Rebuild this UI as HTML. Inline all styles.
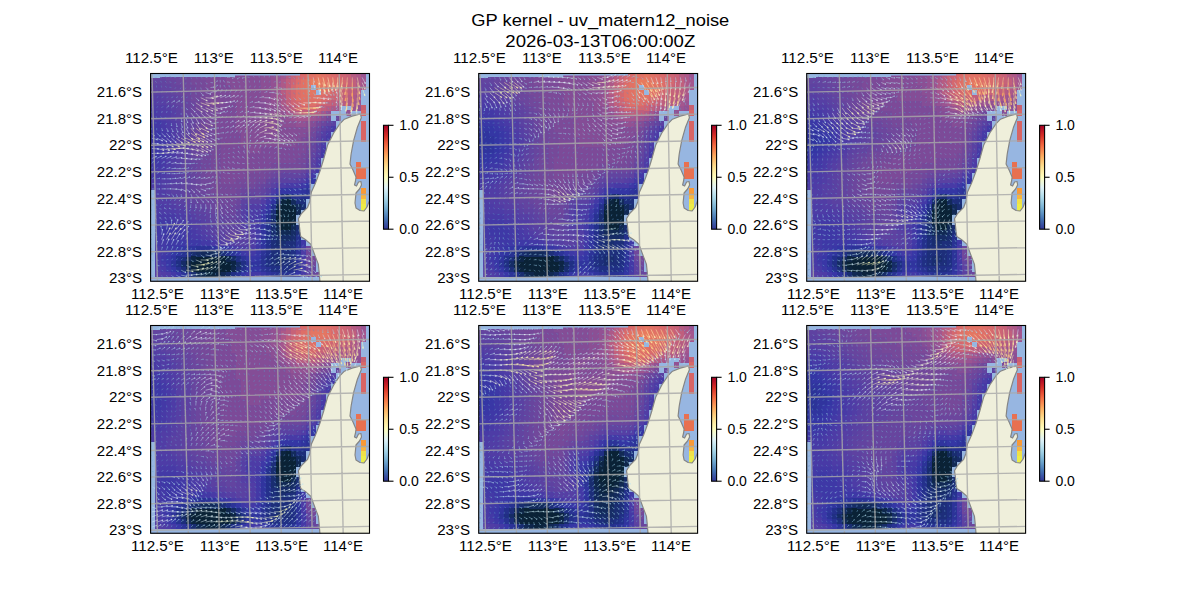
<!DOCTYPE html><html><head><meta charset="utf-8"><style>html,body{margin:0;padding:0;background:#fff;width:1200px;height:600px;overflow:hidden}svg{display:block}</style></head><body>
<svg width="1200" height="600" viewBox="0 0 1200 600">
<defs>
<clipPath id="clp"><rect x="150.60" y="73.50" width="218.90" height="207.75"/></clipPath>
<linearGradient id="cbg" x1="0" y1="0" x2="0" y2="1"><stop offset="0.00" stop-color="#a50026"/><stop offset="0.05" stop-color="#bd1726"/><stop offset="0.10" stop-color="#d62f27"/><stop offset="0.15" stop-color="#e54e35"/><stop offset="0.20" stop-color="#f46d43"/><stop offset="0.25" stop-color="#f88c51"/><stop offset="0.30" stop-color="#fdad60"/><stop offset="0.35" stop-color="#fdc778"/><stop offset="0.40" stop-color="#fee090"/><stop offset="0.45" stop-color="#fff0a8"/><stop offset="0.50" stop-color="#fffebe"/><stop offset="0.55" stop-color="#f0f9db"/><stop offset="0.60" stop-color="#e0f3f8"/><stop offset="0.65" stop-color="#c5e6f0"/><stop offset="0.70" stop-color="#aad8e9"/><stop offset="0.75" stop-color="#90c3dd"/><stop offset="0.80" stop-color="#74add1"/><stop offset="0.85" stop-color="#5c90c2"/><stop offset="0.90" stop-color="#4574b3"/><stop offset="0.95" stop-color="#3a54a4"/><stop offset="1.00" stop-color="#313695"/></linearGradient>
<g id="land"><path d="M150,73 H300 V75.5 H235 V77 H160 V78 H150 Z" fill="#97b6e1"/><path d="M150,190 H155 V282 H150 Z" fill="#97b6e1"/><path d="M150,277 H322 V282 H150 Z" fill="#97b6e1"/><polygon points="360.5,113.8 352.1,116.1 344.4,119.2 339.8,123.8 333.7,133.0 327.5,145.3 323.7,159.0 319.9,171.3 315.3,183.6 311.4,192.0 309.9,201.2 307.6,207.3 301.5,213.5 298.4,218.8 299.2,224.2 300.0,231.9 300.7,236.5 305.3,239.5 310.7,244.1 313.0,250.3 315.3,256.4 318.3,264.1 319.1,271.8 319.9,281.5 371.0,281.5 371.0,199.0 368.5,203.0 367.0,207.0 364.0,211.0 360.0,210.5 356.0,208.0 355.0,203.0 356.0,193.0 359.5,189.0 361.5,185.0 361.0,181.5 358.5,182.0 356.5,186.0 354.5,185.0 355.5,181.0 356.0,177.0 353.0,170.0 350.0,164.0 351.0,155.0 351.3,153.0 353.6,140.7 357.5,126.9 361.3,117.7 360.5,113.8" fill="#efefdb"/><polyline points="360.5,113.8 352.1,116.1 344.4,119.2 339.8,123.8 333.7,133.0 327.5,145.3 323.7,159.0 319.9,171.3 315.3,183.6 311.4,192.0 309.9,201.2 307.6,207.3 301.5,213.5 298.4,218.8 299.2,224.2 300.0,231.9 300.7,236.5 305.3,239.5 310.7,244.1 313.0,250.3 315.3,256.4 318.3,264.1 319.1,271.8 319.9,281.5" fill="none" stroke="#858585" stroke-width="1.2" stroke-linejoin="round"/><polyline points="370.5,199.0 368.5,203.0 367.0,207.0 364.0,211.0 360.0,210.5 356.0,208.0 355.0,203.0 356.0,193.0 359.5,189.0 361.5,185.0 361.0,181.5 358.5,182.0 356.5,186.0 354.5,185.0 355.5,181.0 356.0,177.0 353.0,170.0 350.0,164.0 351.0,155.0 351.3,153.0 353.6,140.7 357.5,126.9 361.3,117.7 360.5,113.8" fill="none" stroke="#858585" stroke-width="1.2" stroke-linejoin="round"/></g>
<path id="grd" d="M120.43 60L126.95 300M151.65 60L157.89 300M182.86 60L188.83 300M214.08 60L219.77 300M245.30 60L250.71 300M276.51 60L281.65 300M307.73 60L312.59 300M338.94 60L343.53 300M370.16 60L374.47 300M140 65.75L380 60.32M140 92.34L380 87.06M140 118.94L380 113.80M140 145.53L380 140.54M140 172.12L380 167.27M140 198.72L380 194.01M140 225.31L380 220.75M140 251.90L380 247.49M140 278.50L380 274.22M140 305.09L380 300.96" fill="none" stroke="#a8a8a8" stroke-opacity="0.82" stroke-width="1.4"/>
</defs>
<g font-family='"Liberation Sans", sans-serif' fill="#000">
<text x="600.30" y="25.80" font-size="16.67" text-anchor="middle" textLength="258.0" lengthAdjust="spacingAndGlyphs">GP kernel - uv_matern12_noise</text>
<text x="600.30" y="46.70" font-size="16.67" text-anchor="middle" textLength="190.0" lengthAdjust="spacingAndGlyphs">2026-03-13T06:00:00Z</text>
</g>
<g transform="translate(0.00,0.00)">
<g clip-path="url(#clp)"><rect x="150.60" y="73.50" width="218.90" height="207.75" fill="#97b6e1"/><g transform="translate(151.0,74.0) scale(5.00,5.20)" shape-rendering="crispEdges"><path fill="#67459e" d="M0 0h3v1.1h-3zM3 1h2v1.1h-2zM4 2h2v1.1h-2zM5 3h1v1.1h-1zM6 4h1v1.1h-1zM7 5h1v1.1h-1zM7 6h1v1.1h-1zM7 7h1v1.1h-1zM8 8h1v1.1h-1zM8 9h1v1.1h-1zM8 10h1v1.1h-1zM8 11h1v1.1h-1zM8 12h1v1.1h-1zM8 13h1v1.1h-1zM32 13h1v1.1h-1zM8 14h1v1.1h-1zM32 14h1v1.1h-1zM8 15h1v1.1h-1zM8 16h1v1.1h-1zM8 17h1v1.1h-1zM31 17h1v1.1h-1zM8 18h1v1.1h-1zM30 18h1v1.1h-1zM8 19h1v1.1h-1zM25 19h1v1.1h-1zM8 20h1v1.1h-1zM23 20h1v1.1h-1zM8 21h1v1.1h-1zM22 21h1v1.1h-1zM8 22h1v1.1h-1zM19 22h3v1.1h-3zM8 23h2v1.1h-2zM18 23h1v1.1h-1zM9 24h2v1.1h-2zM11 25h1v1.1h-1zM17 25h1v1.1h-1zM12 26h2v1.1h-2zM14 27h3v1.1h-3zM15 28h1v1.1h-1zM32 37h1v1.1h-1zM32 38h1v1.1h-1zM0 39h1v1.1h-1z"/><path fill="#6c469d" d="M3 0h3v1.1h-3zM5 1h2v1.1h-2zM6 2h1v1.1h-1zM6 3h2v1.1h-2zM7 4h1v1.1h-1zM8 5h1v1.1h-1zM8 6h1v1.1h-1zM8 7h2v1.1h-2zM9 8h1v1.1h-1zM37 8h1v1.1h-1zM9 9h1v1.1h-1zM34 9h1v1.1h-1zM9 10h1v1.1h-1zM33 10h1v1.1h-1zM9 11h1v1.1h-1zM9 12h1v1.1h-1zM32 12h1v1.1h-1zM9 13h1v1.1h-1zM9 14h1v1.1h-1zM9 15h1v1.1h-1zM9 16h1v1.1h-1zM31 16h1v1.1h-1zM9 17h1v1.1h-1zM9 18h1v1.1h-1zM26 18h4v1.1h-4zM9 19h1v1.1h-1zM24 19h1v1.1h-1zM9 20h1v1.1h-1zM9 21h1v1.1h-1zM21 21h1v1.1h-1zM9 22h2v1.1h-2zM18 22h1v1.1h-1zM10 23h1v1.1h-1zM11 24h2v1.1h-2zM17 24h1v1.1h-1zM12 25h3v1.1h-3zM16 25h1v1.1h-1zM14 26h3v1.1h-3zM31 33h1v1.1h-1zM31 35h1v1.1h-1zM33 38h1v1.1h-1zM32 39h1v1.1h-1z"/><path fill="#71489b" d="M6 0h2v1.1h-2zM7 1h1v1.1h-1zM7 2h2v1.1h-2zM8 3h2v1.1h-2zM8 4h2v1.1h-2zM9 5h1v1.1h-1zM9 6h2v1.1h-2zM10 7h1v1.1h-1zM10 8h1v1.1h-1zM10 9h1v1.1h-1zM10 10h2v1.1h-2zM10 11h2v1.1h-2zM32 11h1v1.1h-1zM10 12h2v1.1h-2zM10 13h2v1.1h-2zM10 14h2v1.1h-2zM31 14h1v1.1h-1zM10 15h2v1.1h-2zM31 15h1v1.1h-1zM10 16h2v1.1h-2zM10 17h2v1.1h-2zM30 17h1v1.1h-1zM10 18h1v1.1h-1zM24 18h2v1.1h-2zM10 19h1v1.1h-1zM23 19h1v1.1h-1zM10 20h2v1.1h-2zM21 20h2v1.1h-2zM10 21h2v1.1h-2zM18 21h3v1.1h-3zM11 22h1v1.1h-1zM17 22h1v1.1h-1zM11 23h3v1.1h-3zM16 23h2v1.1h-2zM13 24h4v1.1h-4zM15 25h1v1.1h-1zM31 34h1v1.1h-1zM32 36h1v1.1h-1zM33 39h1v1.1h-1z"/><path fill="#764999" d="M8 0h2v1.1h-2zM8 1h3v1.1h-3zM9 2h2v1.1h-2zM10 3h2v1.1h-2zM10 4h2v1.1h-2zM10 5h2v1.1h-2zM11 6h2v1.1h-2zM11 7h2v1.1h-2zM11 8h2v1.1h-2zM35 8h1v1.1h-1zM11 9h2v1.1h-2zM33 9h1v1.1h-1zM12 10h1v1.1h-1zM32 10h1v1.1h-1zM12 11h1v1.1h-1zM12 12h2v1.1h-2zM31 12h1v1.1h-1zM12 13h2v1.1h-2zM31 13h1v1.1h-1zM12 14h2v1.1h-2zM12 15h2v1.1h-2zM30 15h1v1.1h-1zM12 16h2v1.1h-2zM29 16h2v1.1h-2zM12 17h2v1.1h-2zM24 17h6v1.1h-6zM11 18h3v1.1h-3zM22 18h2v1.1h-2zM11 19h3v1.1h-3zM19 19h4v1.1h-4zM12 20h2v1.1h-2zM17 20h4v1.1h-4zM12 21h6v1.1h-6zM12 22h5v1.1h-5zM14 23h2v1.1h-2zM32 35h1v1.1h-1z"/><path fill="#7c4a98" d="M10 0h5v1.1h-5zM11 1h4v1.1h-4zM11 2h5v1.1h-5zM12 3h4v1.1h-4zM12 4h4v1.1h-4zM12 5h5v1.1h-5zM13 6h4v1.1h-4zM13 7h4v1.1h-4zM13 8h4v1.1h-4zM13 9h4v1.1h-4zM13 10h4v1.1h-4zM13 11h5v1.1h-5zM31 11h1v1.1h-1zM14 12h4v1.1h-4zM30 12h1v1.1h-1zM14 13h4v1.1h-4zM29 13h2v1.1h-2zM14 14h5v1.1h-5zM22 14h9v1.1h-9zM14 15h16v1.1h-16zM14 16h15v1.1h-15zM14 17h10v1.1h-10zM14 18h8v1.1h-8zM14 19h5v1.1h-5zM14 20h3v1.1h-3z"/><path fill="#844d96" d="M15 0h7v1.1h-7zM15 1h7v1.1h-7zM16 2h6v1.1h-6zM16 3h6v1.1h-6zM16 4h6v1.1h-6zM17 5h6v1.1h-6zM17 6h6v1.1h-6zM17 7h7v1.1h-7zM17 8h8v1.1h-8zM34 8h1v1.1h-1zM17 9h9v1.1h-9zM32 9h1v1.1h-1zM17 10h15v1.1h-15zM18 11h13v1.1h-13zM18 12h12v1.1h-12zM18 13h11v1.1h-11zM19 14h3v1.1h-3z"/><path fill="#8b4f94" d="M22 0h2v1.1h-2zM22 1h2v1.1h-2zM22 2h2v1.1h-2zM22 3h2v1.1h-2zM22 4h2v1.1h-2zM23 5h1v1.1h-1zM23 6h2v1.1h-2zM24 7h1v1.1h-1zM25 8h2v1.1h-2zM26 9h3v1.1h-3zM31 9h1v1.1h-1z"/><path fill="#935193" d="M24 0h1v1.1h-1zM24 1h1v1.1h-1zM24 2h1v1.1h-1zM24 3h1v1.1h-1zM24 4h1v1.1h-1zM24 5h1v1.1h-1zM25 6h1v1.1h-1zM41 6h1v1.1h-1zM25 7h2v1.1h-2zM35 7h1v1.1h-1zM39 7h1v1.1h-1zM27 8h1v1.1h-1zM33 8h1v1.1h-1zM29 9h2v1.1h-2z"/><path fill="#9b5491" d="M25 0h1v1.1h-1zM42 0h1v1.1h-1zM25 1h1v1.1h-1zM25 5h1v1.1h-1zM41 5h1v1.1h-1zM40 6h1v1.1h-1zM28 8h1v1.1h-1zM32 8h1v1.1h-1z"/><path fill="#a4568e" d="M26 0h1v1.1h-1zM42 1h1v1.1h-1zM25 2h1v1.1h-1zM42 2h1v1.1h-1zM25 3h1v1.1h-1zM25 4h1v1.1h-1zM41 4h1v1.1h-1zM40 5h1v1.1h-1zM26 6h1v1.1h-1zM37 6h1v1.1h-1zM27 7h1v1.1h-1zM34 7h1v1.1h-1zM29 8h3v1.1h-3z"/><path fill="#b65c82" d="M27 0h1v1.1h-1zM40 0h1v1.1h-1zM26 3h1v1.1h-1zM40 3h1v1.1h-1zM39 4h1v1.1h-1zM37 5h2v1.1h-2zM35 6h1v1.1h-1zM29 7h1v1.1h-1zM33 7h1v1.1h-1z"/><path fill="#c76278" d="M28 0h1v1.1h-1zM39 0h1v1.1h-1zM39 1h1v1.1h-1zM39 2h1v1.1h-1zM27 3h1v1.1h-1zM38 3h1v1.1h-1zM27 4h1v1.1h-1zM37 4h1v1.1h-1zM35 5h1v1.1h-1z"/><path fill="#d4686f" d="M29 0h1v1.1h-1zM37 0h1v1.1h-1zM38 1h1v1.1h-1zM28 2h1v1.1h-1zM28 3h1v1.1h-1zM36 3h1v1.1h-1zM28 4h1v1.1h-1zM35 4h1v1.1h-1zM29 5h1v1.1h-1zM34 5h1v1.1h-1zM30 6h3v1.1h-3z"/><path fill="#da6b6b" d="M30 0h1v1.1h-1zM36 0h1v1.1h-1zM29 1h1v1.1h-1zM37 1h1v1.1h-1zM37 2h1v1.1h-1zM34 4h1v1.1h-1zM33 5h1v1.1h-1z"/><path fill="#e17265" d="M31 0h2v1.1h-2zM34 0h1v1.1h-1zM30 1h1v1.1h-1zM35 1h1v1.1h-1zM30 2h1v1.1h-1zM35 2h1v1.1h-1zM30 3h1v1.1h-1zM34 3h1v1.1h-1zM30 4h4v1.1h-4z"/><path fill="#e47662" d="M33 0h1v1.1h-1zM31 1h1v1.1h-1zM34 1h1v1.1h-1zM31 2h1v1.1h-1zM34 2h1v1.1h-1zM31 3h2v1.1h-2z"/><path fill="#de6f68" d="M35 0h1v1.1h-1zM36 1h1v1.1h-1zM29 2h1v1.1h-1zM36 2h1v1.1h-1zM29 3h1v1.1h-1zM35 3h1v1.1h-1zM29 4h1v1.1h-1zM30 5h3v1.1h-3z"/><path fill="#ce6574" d="M38 0h1v1.1h-1zM28 1h1v1.1h-1zM38 2h1v1.1h-1zM37 3h1v1.1h-1zM36 4h1v1.1h-1zM28 5h1v1.1h-1zM29 6h1v1.1h-1zM33 6h1v1.1h-1z"/><path fill="#ad5988" d="M41 0h1v1.1h-1zM26 1h1v1.1h-1zM41 1h1v1.1h-1zM26 2h1v1.1h-1zM41 2h1v1.1h-1zM41 3h1v1.1h-1zM26 4h1v1.1h-1zM40 4h1v1.1h-1zM26 5h1v1.1h-1zM39 5h1v1.1h-1zM27 6h1v1.1h-1zM36 6h1v1.1h-1zM28 7h1v1.1h-1z"/><path fill="#6244a0" d="M0 1h3v1.1h-3zM2 2h2v1.1h-2zM4 3h1v1.1h-1zM5 4h1v1.1h-1zM5 5h2v1.1h-2zM6 6h1v1.1h-1zM6 7h1v1.1h-1zM7 8h1v1.1h-1zM7 9h1v1.1h-1zM35 9h1v1.1h-1zM7 10h1v1.1h-1zM33 11h1v1.1h-1zM32 15h1v1.1h-1zM7 16h1v1.1h-1zM7 17h1v1.1h-1zM7 18h1v1.1h-1zM7 19h1v1.1h-1zM26 19h4v1.1h-4zM7 20h1v1.1h-1zM24 20h1v1.1h-1zM7 21h1v1.1h-1zM23 21h1v1.1h-1zM7 22h1v1.1h-1zM22 22h1v1.1h-1zM7 23h1v1.1h-1zM20 23h2v1.1h-2zM8 24h1v1.1h-1zM9 25h2v1.1h-2zM11 26h1v1.1h-1zM17 26h1v1.1h-1zM12 27h2v1.1h-2zM17 27h1v1.1h-1zM13 28h2v1.1h-2zM16 28h1v1.1h-1zM14 29h3v1.1h-3zM15 30h2v1.1h-2zM31 36h1v1.1h-1zM1 39h1v1.1h-1z"/><path fill="#c05f7d" d="M27 1h1v1.1h-1zM40 1h1v1.1h-1zM27 2h1v1.1h-1zM40 2h1v1.1h-1zM39 3h1v1.1h-1zM38 4h1v1.1h-1zM27 5h1v1.1h-1zM36 5h1v1.1h-1zM28 6h1v1.1h-1zM34 6h1v1.1h-1zM30 7h3v1.1h-3z"/><path fill="#e87a5e" d="M32 1h2v1.1h-2zM33 2h1v1.1h-1z"/><path fill="#5e42a1" d="M0 2h2v1.1h-2zM2 3h2v1.1h-2zM3 4h2v1.1h-2zM4 5h1v1.1h-1zM5 6h1v1.1h-1zM6 8h1v1.1h-1zM6 9h1v1.1h-1zM34 10h1v1.1h-1zM7 11h1v1.1h-1zM7 12h1v1.1h-1zM33 12h1v1.1h-1zM7 13h1v1.1h-1zM7 14h1v1.1h-1zM7 15h1v1.1h-1zM32 16h1v1.1h-1zM6 17h1v1.1h-1zM6 18h1v1.1h-1zM31 18h1v1.1h-1zM6 19h1v1.1h-1zM30 19h1v1.1h-1zM6 20h1v1.1h-1zM25 20h1v1.1h-1zM6 21h1v1.1h-1zM6 22h1v1.1h-1zM6 23h1v1.1h-1zM19 23h1v1.1h-1zM7 24h1v1.1h-1zM18 24h1v1.1h-1zM8 25h1v1.1h-1zM9 26h2v1.1h-2zM11 27h1v1.1h-1zM12 28h1v1.1h-1zM17 28h1v1.1h-1zM13 29h1v1.1h-1zM17 29h1v1.1h-1zM13 30h2v1.1h-2zM17 30h1v1.1h-1zM15 31h3v1.1h-3zM31 37h1v1.1h-1zM2 39h1v1.1h-1zM31 39h1v1.1h-1z"/><path fill="#5a41a2" d="M0 3h2v1.1h-2zM2 4h1v1.1h-1zM3 5h1v1.1h-1zM4 6h1v1.1h-1zM5 7h1v1.1h-1zM5 8h1v1.1h-1zM36 9h1v1.1h-1zM6 10h1v1.1h-1zM6 11h1v1.1h-1zM6 12h1v1.1h-1zM6 13h1v1.1h-1zM33 13h1v1.1h-1zM6 14h1v1.1h-1zM33 14h1v1.1h-1zM6 15h1v1.1h-1zM6 16h1v1.1h-1zM32 17h1v1.1h-1zM5 18h1v1.1h-1zM5 19h1v1.1h-1zM5 20h1v1.1h-1zM26 20h3v1.1h-3zM4 21h2v1.1h-2zM24 21h1v1.1h-1zM4 22h2v1.1h-2zM23 22h1v1.1h-1zM5 23h1v1.1h-1zM22 23h1v1.1h-1zM5 24h2v1.1h-2zM19 24h3v1.1h-3zM7 25h1v1.1h-1zM18 25h1v1.1h-1zM8 26h1v1.1h-1zM9 27h2v1.1h-2zM11 28h1v1.1h-1zM11 29h2v1.1h-2zM12 30h1v1.1h-1zM18 30h1v1.1h-1zM14 31h1v1.1h-1zM18 31h2v1.1h-2zM17 32h2v1.1h-2zM0 38h1v1.1h-1zM31 38h1v1.1h-1zM3 39h1v1.1h-1z"/><path fill="#563fa4" d="M0 4h2v1.1h-2zM1 5h2v1.1h-2zM3 6h1v1.1h-1zM4 7h1v1.1h-1zM4 8h1v1.1h-1zM5 9h1v1.1h-1zM5 10h1v1.1h-1zM35 10h1v1.1h-1zM5 11h1v1.1h-1zM34 11h1v1.1h-1zM5 12h1v1.1h-1zM5 13h1v1.1h-1zM5 14h1v1.1h-1zM5 15h1v1.1h-1zM33 15h1v1.1h-1zM5 16h1v1.1h-1zM5 17h1v1.1h-1zM4 19h1v1.1h-1zM4 20h1v1.1h-1zM29 20h1v1.1h-1zM3 21h1v1.1h-1zM3 22h1v1.1h-1zM3 23h2v1.1h-2zM4 24h1v1.1h-1zM5 25h2v1.1h-2zM7 26h1v1.1h-1zM18 26h1v1.1h-1zM8 27h1v1.1h-1zM18 27h1v1.1h-1zM10 28h1v1.1h-1zM18 28h1v1.1h-1zM10 29h1v1.1h-1zM18 29h1v1.1h-1zM11 30h1v1.1h-1zM19 30h1v1.1h-1zM12 31h2v1.1h-2zM15 32h2v1.1h-2zM19 32h1v1.1h-1zM0 37h1v1.1h-1zM1 38h1v1.1h-1zM4 39h1v1.1h-1zM20 39h2v1.1h-2z"/><path fill="#513da5" d="M0 5h1v1.1h-1zM1 6h2v1.1h-2zM2 7h2v1.1h-2zM3 8h1v1.1h-1zM4 9h1v1.1h-1zM4 10h1v1.1h-1zM4 11h1v1.1h-1zM34 12h1v1.1h-1zM4 16h1v1.1h-1zM33 16h1v1.1h-1zM4 17h1v1.1h-1zM4 18h1v1.1h-1zM32 18h1v1.1h-1zM3 19h1v1.1h-1zM31 19h1v1.1h-1zM2 20h2v1.1h-2zM30 20h1v1.1h-1zM2 21h1v1.1h-1zM25 21h1v1.1h-1zM1 22h2v1.1h-2zM0 23h3v1.1h-3zM0 24h4v1.1h-4zM22 24h1v1.1h-1zM3 25h2v1.1h-2zM19 25h3v1.1h-3zM5 26h2v1.1h-2zM7 27h1v1.1h-1zM8 28h2v1.1h-2zM9 29h1v1.1h-1zM19 29h1v1.1h-1zM10 30h1v1.1h-1zM20 30h1v1.1h-1zM11 31h1v1.1h-1zM20 31h1v1.1h-1zM14 32h1v1.1h-1zM20 32h1v1.1h-1zM18 33h2v1.1h-2zM2 38h1v1.1h-1zM5 39h1v1.1h-1zM19 39h1v1.1h-1zM30 39h1v1.1h-1z"/><path fill="#4d3ca6" d="M0 6h1v1.1h-1zM1 7h1v1.1h-1zM2 8h1v1.1h-1zM3 9h1v1.1h-1zM3 10h1v1.1h-1zM35 11h1v1.1h-1zM4 12h1v1.1h-1zM4 13h1v1.1h-1zM34 13h1v1.1h-1zM4 14h1v1.1h-1zM4 15h1v1.1h-1zM3 16h1v1.1h-1zM3 17h1v1.1h-1zM33 17h1v1.1h-1zM3 18h1v1.1h-1zM2 19h1v1.1h-1zM0 20h2v1.1h-2zM0 21h2v1.1h-2zM26 21h1v1.1h-1zM0 22h1v1.1h-1zM24 22h1v1.1h-1zM23 23h1v1.1h-1zM0 25h3v1.1h-3zM0 26h5v1.1h-5zM19 26h3v1.1h-3zM5 27h2v1.1h-2zM20 27h1v1.1h-1zM7 28h1v1.1h-1zM19 28h2v1.1h-2zM8 29h1v1.1h-1zM20 29h1v1.1h-1zM9 30h1v1.1h-1zM10 31h1v1.1h-1zM13 32h1v1.1h-1zM0 33h1v1.1h-1zM17 33h1v1.1h-1zM20 33h1v1.1h-1zM0 34h1v1.1h-1zM30 34h1v1.1h-1zM0 35h1v1.1h-1zM0 36h1v1.1h-1zM1 37h1v1.1h-1zM3 38h1v1.1h-1zM18 39h1v1.1h-1zM22 39h1v1.1h-1z"/><path fill="#c86070" d="M42 6h1v1.1h-1z"/><path fill="#483aa6" d="M0 7h1v1.1h-1zM0 8h2v1.1h-2zM2 9h1v1.1h-1zM2 10h1v1.1h-1zM36 10h1v1.1h-1zM3 11h1v1.1h-1zM3 12h1v1.1h-1zM35 12h1v1.1h-1zM3 13h1v1.1h-1zM3 14h1v1.1h-1zM34 14h1v1.1h-1zM3 15h1v1.1h-1zM2 16h1v1.1h-1zM2 17h1v1.1h-1zM1 18h2v1.1h-2zM0 19h2v1.1h-2zM27 21h3v1.1h-3zM22 25h1v1.1h-1zM0 27h5v1.1h-5zM19 27h1v1.1h-1zM21 27h1v1.1h-1zM0 28h1v1.1h-1zM5 28h2v1.1h-2zM7 29h1v1.1h-1zM8 30h1v1.1h-1zM0 31h1v1.1h-1zM8 31h2v1.1h-2zM0 32h1v1.1h-1zM12 32h1v1.1h-1zM1 33h1v1.1h-1zM16 33h1v1.1h-1zM30 33h1v1.1h-1zM1 34h1v1.1h-1zM1 35h1v1.1h-1zM30 35h1v1.1h-1zM1 36h1v1.1h-1zM2 37h1v1.1h-1zM30 38h1v1.1h-1zM6 39h1v1.1h-1zM17 39h1v1.1h-1z"/><path fill="#d86868" d="M42 7h1v1.1h-1z"/><path fill="#4339a6" d="M0 9h2v1.1h-2zM1 10h1v1.1h-1zM2 11h1v1.1h-1zM2 12h1v1.1h-1zM2 13h1v1.1h-1zM2 14h1v1.1h-1zM2 15h1v1.1h-1zM34 15h1v1.1h-1zM1 16h1v1.1h-1zM0 17h2v1.1h-2zM0 18h1v1.1h-1zM33 18h1v1.1h-1zM32 19h1v1.1h-1zM31 20h1v1.1h-1zM23 24h1v1.1h-1zM1 28h4v1.1h-4zM21 28h1v1.1h-1zM0 29h2v1.1h-2zM5 29h2v1.1h-2zM21 29h1v1.1h-1zM0 30h2v1.1h-2zM6 30h2v1.1h-2zM21 30h1v1.1h-1zM1 31h2v1.1h-2zM6 31h2v1.1h-2zM21 31h1v1.1h-1zM1 32h2v1.1h-2zM10 32h2v1.1h-2zM21 32h1v1.1h-1zM2 33h1v1.1h-1zM2 34h1v1.1h-1zM19 34h2v1.1h-2zM2 36h1v1.1h-1zM30 36h1v1.1h-1zM30 37h1v1.1h-1zM4 38h1v1.1h-1zM20 38h2v1.1h-2zM7 39h1v1.1h-1zM23 39h1v1.1h-1zM29 39h1v1.1h-1z"/><path fill="#d86464" d="M42 9h1v1.1h-1zM42 10h1v1.1h-1zM42 11h1v1.1h-1zM42 12h1v1.1h-1z"/><path fill="#3e38a6" d="M0 10h1v1.1h-1zM0 11h2v1.1h-2zM0 12h2v1.1h-2zM0 13h2v1.1h-2zM0 14h2v1.1h-2zM0 15h2v1.1h-2zM0 16h1v1.1h-1zM30 21h1v1.1h-1zM25 22h1v1.1h-1zM24 23h1v1.1h-1zM22 26h1v1.1h-1zM2 29h3v1.1h-3zM2 30h4v1.1h-4zM3 31h3v1.1h-3zM3 32h7v1.1h-7zM30 32h1v1.1h-1zM3 33h2v1.1h-2zM15 33h1v1.1h-1zM21 33h1v1.1h-1zM3 34h1v1.1h-1zM18 34h1v1.1h-1zM2 35h1v1.1h-1zM3 37h1v1.1h-1zM19 38h1v1.1h-1zM16 39h1v1.1h-1z"/><path fill="#e87050" d="M41 17h1v1.1h-1zM41 18h2v1.1h-2zM41 19h2v1.1h-2z"/><path fill="#3436a4" d="M32 20h1v1.1h-1zM31 21h1v1.1h-1zM26 22h4v1.1h-4zM22 28h1v1.1h-1zM6 33h1v1.1h-1zM13 33h1v1.1h-1zM4 34h1v1.1h-1zM17 34h1v1.1h-1zM19 35h1v1.1h-1zM21 35h1v1.1h-1zM4 37h1v1.1h-1zM20 37h2v1.1h-2zM18 38h1v1.1h-1zM29 38h1v1.1h-1zM15 39h1v1.1h-1zM25 39h3v1.1h-3z"/><path fill="#30349e" d="M30 22h1v1.1h-1zM24 24h1v1.1h-1zM23 26h1v1.1h-1zM22 29h1v1.1h-1zM22 30h1v1.1h-1zM22 31h1v1.1h-1zM22 32h1v1.1h-1zM7 33h2v1.1h-2zM12 33h1v1.1h-1zM22 33h1v1.1h-1zM5 34h1v1.1h-1zM4 35h1v1.1h-1zM20 36h2v1.1h-2zM19 37h1v1.1h-1zM29 37h1v1.1h-1zM23 38h1v1.1h-1zM9 39h1v1.1h-1zM14 39h1v1.1h-1z"/><path fill="#2c3398" d="M31 22h1v1.1h-1zM25 23h1v1.1h-1zM9 33h3v1.1h-3zM29 33h1v1.1h-1zM16 34h1v1.1h-1zM22 34h1v1.1h-1zM29 34h1v1.1h-1zM18 35h1v1.1h-1zM29 35h1v1.1h-1zM4 36h1v1.1h-1zM19 36h1v1.1h-1zM29 36h1v1.1h-1zM22 37h1v1.1h-1zM6 38h1v1.1h-1zM24 38h1v1.1h-1zM28 38h1v1.1h-1zM10 39h4v1.1h-4z"/><path fill="#f89a38" d="M42 22h1v1.1h-1z"/><path fill="#1d2e7a" d="M26 23h1v1.1h-1zM29 24h2v1.1h-2zM24 26h1v1.1h-1zM29 30h1v1.1h-1zM24 31h1v1.1h-1zM24 32h1v1.1h-1zM27 32h2v1.1h-2zM24 33h4v1.1h-4zM14 34h1v1.1h-1zM24 34h4v1.1h-4zM6 35h1v1.1h-1zM24 35h1v1.1h-1zM27 35h1v1.1h-1zM24 36h1v1.1h-1zM26 36h2v1.1h-2zM6 37h1v1.1h-1z"/><path fill="#192d70" d="M27 23h1v1.1h-1zM25 24h1v1.1h-1zM30 25h1v1.1h-1zM24 27h1v1.1h-1zM24 28h1v1.1h-1zM24 29h1v1.1h-1zM29 29h1v1.1h-1zM24 30h1v1.1h-1zM25 31h1v1.1h-1zM28 31h1v1.1h-1zM25 32h2v1.1h-2zM8 34h1v1.1h-1zM25 35h2v1.1h-2zM25 36h1v1.1h-1zM17 37h1v1.1h-1zM8 38h1v1.1h-1z"/><path fill="#24308c" d="M28 23h1v1.1h-1zM30 23h1v1.1h-1zM24 25h1v1.1h-1zM23 28h1v1.1h-1zM23 29h1v1.1h-1zM23 30h1v1.1h-1zM23 31h1v1.1h-1zM29 31h1v1.1h-1zM23 32h1v1.1h-1zM23 33h1v1.1h-1zM15 34h1v1.1h-1zM23 34h1v1.1h-1zM5 35h1v1.1h-1zM18 37h1v1.1h-1zM28 37h1v1.1h-1zM7 38h1v1.1h-1z"/><path fill="#283292" d="M29 23h1v1.1h-1zM31 23h1v1.1h-1zM23 27h1v1.1h-1zM29 32h1v1.1h-1zM6 34h1v1.1h-1zM22 35h1v1.1h-1zM22 36h1v1.1h-1zM5 37h1v1.1h-1zM23 37h1v1.1h-1zM17 38h1v1.1h-1zM25 38h3v1.1h-3z"/><path fill="#f8b440" d="M42 23h1v1.1h-1z"/><path fill="#0c243e" d="M26 24h1v1.1h-1zM28 25h1v1.1h-1zM25 28h1v1.1h-1zM28 28h1v1.1h-1zM8 37h1v1.1h-1zM11 38h2v1.1h-2z"/><path fill="#0a2236" d="M27 24h1v1.1h-1zM26 25h2v1.1h-2zM25 26h4v1.1h-4zM25 27h4v1.1h-4zM26 28h2v1.1h-2zM26 29h2v1.1h-2zM9 35h6v1.1h-6zM8 36h8v1.1h-8zM9 37h7v1.1h-7z"/><path fill="#132a5c" d="M28 24h1v1.1h-1zM29 25h1v1.1h-1zM25 30h1v1.1h-1zM10 34h3v1.1h-3zM7 35h1v1.1h-1z"/><path fill="#f0e048" d="M42 24h1v1.1h-1z"/><path fill="#3937a6" d="M23 25h1v1.1h-1zM22 27h1v1.1h-1zM5 33h1v1.1h-1zM14 33h1v1.1h-1zM21 34h1v1.1h-1zM3 35h1v1.1h-1zM20 35h1v1.1h-1zM3 36h1v1.1h-1zM5 38h1v1.1h-1zM22 38h1v1.1h-1zM8 39h1v1.1h-1zM24 39h1v1.1h-1zM28 39h1v1.1h-1z"/><path fill="#0f274c" d="M25 25h1v1.1h-1zM15 35h1v1.1h-1zM16 37h1v1.1h-1zM10 38h1v1.1h-1z"/><path fill="#ecec48" d="M42 25h1v1.1h-1z"/><path fill="#112954" d="M29 26h1v1.1h-1zM25 29h1v1.1h-1zM28 29h1v1.1h-1zM26 30h2v1.1h-2zM7 37h1v1.1h-1zM9 38h1v1.1h-1zM14 38h1v1.1h-1z"/><path fill="#e8f048" d="M42 26h1v1.1h-1z"/><path fill="#162c66" d="M28 30h1v1.1h-1zM26 31h2v1.1h-2zM9 34h1v1.1h-1zM13 34h1v1.1h-1zM16 35h1v1.1h-1zM6 36h1v1.1h-1zM17 36h1v1.1h-1zM15 38h1v1.1h-1z"/><path fill="#202f84" d="M28 33h1v1.1h-1zM7 34h1v1.1h-1zM28 34h1v1.1h-1zM17 35h1v1.1h-1zM23 35h1v1.1h-1zM28 35h1v1.1h-1zM5 36h1v1.1h-1zM18 36h1v1.1h-1zM23 36h1v1.1h-1zM28 36h1v1.1h-1zM24 37h4v1.1h-4zM16 38h1v1.1h-1z"/><path fill="#0d2545" d="M8 35h1v1.1h-1zM7 36h1v1.1h-1zM16 36h1v1.1h-1zM13 38h1v1.1h-1z"/></g><use href="#land"/><path d="M166.5 77.4l-1.7 -1.1M171.4 77.4l-1.8 -0.9M176.2 77.4l-2 0M181.1 77.4l-1.5 1.3M186 77.4l-0.2 2M190.9 77.4l1 1.7M195.8 77.4l1.6 1.2M200.7 77.4l1.9 0.7M274.1 77.4l0.6 -1.9M278.9 77.4l1.1 -1.7M283.8 77.4l1.7 -1M161.6 82.5l-1.1 -1.7M166.5 82.5l-1.3 -1.5M171.4 82.5l-1.9 -0.7M176.2 82.5l-1.9 0.6M181.1 82.5l-1.1 1.6M186 82.5l-0.3 2M190.9 82.5l0.2 2M269.2 82.5l0.8 -1.8M298.5 82.5l-0.3 2M151.8 87.5l-0.8 -1.8M156.7 87.5l-0.3 -2M161.6 87.5l-0.5 -1.9M166.5 87.5l-1.2 -1.6M171.4 87.5l-2 -0.3M176.2 87.5l-1.6 1.1M181.1 87.5l-1.1 1.6M186 87.5l-1 1.8M190.9 87.5l-0.8 1.8M259.4 87.5l0.9 -1.8M288.7 87.5l0.6 1.9M293.6 87.5l0 2M298.5 87.5l0.1 2M151.8 92.6l0.5 -1.9M156.7 92.6l0.6 -1.9M161.6 92.6l0.7 -1.9M166.5 92.6l1.1 -1.7M171.4 92.6l1.7 -1.1M176.2 92.6l1.8 -0.9M181.1 92.6l1.5 -1.3M186 92.6l1.3 -1.5M190.9 92.6l-0.3 2M288.7 92.6l1.1 1.6M293.6 92.6l1 1.7M298.5 92.6l0.8 1.8M151.8 97.7l1.2 -1.6M156.7 97.7l1.6 -1.2M161.6 97.7l1.8 -0.9M166.5 97.7l1.8 -0.8M186 97.7l1.8 -0.8M190.9 97.7l1.6 1.2M151.8 102.8l1.7 -1M156.7 102.8l1.8 -0.9M186 102.8l2 0.3M327.8 102.8l1.9 0.5M151.8 107.8l1.1 -1.7M156.7 107.8l1.2 -1.6M181.1 107.8l2 0.2M327.8 107.8l1.4 1.4M332.7 107.8l-0.8 1.8M151.8 112.9l-0.9 -1.8M156.7 112.9l0.3 -2M171.4 112.9l-0.3 -2M176.2 112.9l-1.7 1M322.9 112.9l0.7 -1.9M327.8 112.9l-1.6 -1.2M151.8 118l-1.2 -1.6M156.7 118l-0.7 -1.9M161.6 118l-1.1 -1.7M166.5 118l-1.9 -0.7M171.4 118l-1.5 1.3M313.2 118l1.2 -1.6M318.1 118l0.5 -1.9M322.9 118l-0 -2M327.8 118l-0.4 -2M337.6 118l-1.9 0.5M151.8 123l-1.9 -0.7M156.7 123l-2 -0.1M161.6 123l-1.7 1.1M303.4 123l1.7 -1M308.3 123l1.5 -1.3M313.2 123l0.9 -1.8M318.1 123l0.5 -1.9M322.9 123l0.3 -2M327.8 123l-0.2 -2M332.7 123l-1.6 -1.2M303.4 128.1l2 0.4M308.3 128.1l1.8 -0.8M313.2 128.1l1.2 -1.6M318.1 128.1l0.7 -1.9M322.9 128.1l0 -2M327.8 128.1l-1.5 -1.3M332.7 128.1l-1.8 0.8M303.4 133.2l1.9 0.6M308.3 133.2l1.7 -1M313.2 133.2l1.1 -1.7M318.1 133.2l0 -2M322.9 133.2l-1.9 -0.6M327.8 133.2l-1.4 1.4M230 138.2l0.8 -1.8M234.9 138.2l-0.1 -2M239.8 138.2l-0.4 -2M298.5 138.2l1.4 1.5M303.4 138.2l1.8 0.8M308.3 138.2l1.4 -1.4M313.2 138.2l-1.6 -1.2M318.1 138.2l-1.5 1.4M322.9 138.2l-0.5 1.9M327.8 138.2l0.6 1.9M220.3 143.3l2 -0.2M225.2 143.3l-1.6 -1.3M230 143.3l-2 -0.1M234.9 143.3l-2 -0.3M239.8 143.3l-1.7 -1.1M298.5 143.3l0.3 2M303.4 143.3l-0.6 1.9M308.3 143.3l-0.8 1.8M313.2 143.3l-0.3 2M318.1 143.3l0.4 2M322.9 143.3l1.2 1.6M215.4 148.4l1.5 1.4M220.3 148.4l-0.9 1.8M225.2 148.4l-1.6 1.3M293.6 148.4l0.2 2M298.5 148.4l-0.2 2M303.4 148.4l-0.1 2M308.3 148.4l0.5 1.9M313.2 148.4l1.1 1.7M210.5 153.5l1.2 1.6M215.4 153.5l-0.4 1.9M288.7 153.5l0.8 1.8M293.6 153.5l0.6 1.9M298.5 153.5l0.9 1.8M303.4 153.5l1.3 1.5M308.3 153.5l1.7 1.1M205.6 158.5l1.3 1.5M210.5 158.5l-0.4 1.9M215.4 158.5l-1.3 1.5M278.9 158.5l1.9 0.5M283.8 158.5l1.6 1.1M288.7 158.5l1.6 1.2M293.6 158.5l1.8 1M298.5 158.5l1.9 0.6M303.4 158.5l2 0.4M200.7 163.6l2 0.2M205.6 163.6l-1.3 1.5M210.5 163.6l-1.9 0.5M215.4 163.6l-1.9 -0.5M269.2 163.6l1.5 -1.3M274.1 163.6l1.9 -0.5M278.9 163.6l2 -0M283.8 163.6l2 -0.1M288.7 163.6l2 -0.3M293.6 163.6l1.9 -0.5M298.5 163.6l2 -0.3M195.8 168.7l1.2 -1.6M200.7 168.7l-0.1 -2M205.6 168.7l-0.7 -1.9M210.5 168.7l-0.5 -1.9M264.3 168.7l1 -1.7M269.2 168.7l1.5 -1.3M274.1 168.7l1.7 -1.1M278.9 168.7l1.6 -1.2M283.8 168.7l1.5 -1.3M288.7 168.7l1.6 -1.2M293.6 168.7l1.8 -0.8M254.5 173.7l-0.1 -2M259.4 173.7l0.7 -1.9M264.3 173.7l1 -1.7M269.2 173.7l0.9 -1.8M274.1 173.7l0.8 -1.8M278.9 173.7l0.8 -1.8M283.8 173.7l1.1 -1.6M288.7 173.7l1.7 -1M244.7 178.8l-0.5 -1.9M249.6 178.8l0.2 -2M254.5 178.8l0.6 -1.9M259.4 178.8l0.5 -1.9M264.3 178.8l0.3 -2M269.2 178.8l0.1 -2M274.1 178.8l0.3 -2M278.9 178.8l0.9 -1.8M234.9 183.9l-0.1 -2M239.8 183.9l0.5 -1.9M244.7 183.9l0.9 -1.8M249.6 183.9l0.8 -1.8M254.5 183.9l0.4 -2M259.4 183.9l-0.1 -2M264.3 183.9l-0.3 -2M269.2 183.9l0.1 -2M274.1 183.9l0.9 -1.8M225.2 188.9l1.4 -1.4M230 188.9l1.7 -1.1M234.9 188.9l1.8 -0.8M239.8 188.9l1.8 -0.9M244.7 188.9l1.4 -1.4M249.6 188.9l0.6 -1.9M254.5 188.9l-0.1 -2M259.4 188.9l-0.3 -2M264.3 188.9l0.3 -2M269.2 188.9l1.2 -1.6M239.8 194l2 -0.2M244.7 194l1.6 -1.2M249.6 194l0.6 -1.9M254.5 194l0.3 -2M259.4 194l0.9 -1.8M264.3 194l1.7 -1.1M239.8 199.1l2 0.4M244.7 199.1l2 -0.4M249.6 199.1l1.7 -1M254.5 199.1l1.8 -0.8M239.8 204.2l1.8 0.8M244.7 204.2l2 0.4M186 214.3l-1.9 -0.5M190.9 214.3l-1.9 -0.6M195.8 214.3l-2 -0.3M200.7 214.3l-1.7 1M195.8 219.4l-0 -2M200.7 219.4l-1.7 1M205.6 219.4l-0.2 2M195.8 224.4l1 -1.8M200.7 224.4l0.6 1.9M195.8 229.5l1.9 -0.6M200.7 229.5l1.4 1.4M298.5 229.5l0.3 2M151.8 234.6l-2 -0M190.9 234.6l1.5 -1.3M195.8 234.6l2 0.3M293.6 234.6l1 1.7M298.5 234.6l-0.4 2M151.8 239.6l-1.6 -1.2M190.9 239.6l1.6 -1.2M195.8 239.6l2 0.1M200.7 239.6l1.7 1.1M293.6 239.6l0.5 1.9M298.5 239.6l-1 1.8M190.9 244.7l1.2 -1.6M195.8 244.7l1.6 -1.2M200.7 244.7l1.1 1.7M293.6 244.7l0.5 1.9M298.5 244.7l-0.4 2M303.4 244.7l-0.7 1.9M151.8 249.8l-0.8 -1.9M190.9 249.8l0.5 -1.9M195.8 249.8l-0.5 -1.9M200.7 249.8l0.4 2M254.5 249.8l0.9 -1.8M259.4 249.8l0.7 -1.9M264.3 249.8l0.9 -1.8M151.8 254.9l0.2 -2M156.7 254.9l1.3 -1.5M161.6 254.9l1.5 -1.4M186 254.9l0.9 -1.8M190.9 254.9l1.7 -1.1M195.8 254.9l1.1 1.7M244.7 254.9l0.7 -1.9M249.6 254.9l1.2 -1.6M254.5 254.9l2 -0.2M259.4 254.9l1.8 -0.8M264.3 254.9l1.5 -1.4M186 259.9l2 0.1M234.9 259.9l1.2 -1.6M239.8 259.9l2 0.1M244.7 259.9l1.7 1.1M259.4 259.9l2 -0.3M176.2 265l2 -0.4M230 265l1.9 -0.5M161.6 270.1l1.7 1M166.5 270.1l1.9 0.7M171.4 270.1l1.7 1M225.2 270.1l1.8 0.8M156.7 275.1l0.9 1.8M161.6 275.1l0.7 1.9M215.4 275.1l0.1 -2M220.3 275.1l0.3 2M249.6 275.1l1.5 1.3M254.5 275.1l1.6 1.2M259.4 275.1l1.6 1.2M264.3 275.1l1.6 1.2M269.2 275.1l1.6 1.2M274.1 275.1l1.4 -1.4" stroke="#5c90c2" stroke-width="0.8" stroke-opacity="0.6" fill="none"/><path d="M151.8 77.4l-1.4 1.6M156.7 77.4l-2 0.4M161.6 77.4l-1.9 -0.6M205.6 77.4l2 0.3M210.5 77.4l2 -0.3M215.4 77.4l1.7 -1.3M249.6 77.4l-2.3 -0.4M254.5 77.4l-1.5 -1.5M259.4 77.4l-0.6 -1.9M264.3 77.4l0 -2M269.2 77.4l0.3 -2M288.7 77.4l2 0.3M293.6 77.4l1.3 1.5M298.5 77.4l0.4 2M303.4 77.4l0.1 2.4M151.8 82.5l-2 -0.4M156.7 82.5l-1.5 -1.4M195.8 82.5l0.5 1.9M200.7 82.5l0.9 1.8M205.6 82.5l1.6 1.4M239.8 82.5l-2.1 -0.8M244.7 82.5l-1.4 -1.5M249.6 82.5l-0.6 -1.9M254.5 82.5l-0 -2M259.4 82.5l0.3 -2M264.3 82.5l0.5 -1.9M274.1 82.5l1.4 -1.5M278.9 82.5l1.9 -0.7M283.8 82.5l1.9 0.5M288.7 82.5l1.2 1.6M293.6 82.5l0.2 2M303.4 82.5l0.1 2M195.8 87.5l-0.4 2M200.7 87.5l0.6 2.1M225.2 87.5l-1.1 -2.1M230 87.5l-1.1 -1.9M234.9 87.5l-0.7 -2M239.8 87.5l-0 -2.1M244.7 87.5l0.5 -2M249.6 87.5l0.7 -1.9M254.5 87.5l0.8 -1.8M264.3 87.5l1.3 -1.5M269.2 87.5l1.7 -1.1M283.8 87.5l1.5 1.6M303.4 87.5l0.4 2M195.8 92.6l0.4 2M244.7 92.6l1.5 -1.8M249.6 92.6l1.3 -1.6M254.5 92.6l1.4 -1.4M259.4 92.6l1.7 -1.1M283.8 92.6l1.3 1.5M303.4 92.6l0.7 1.9M171.4 97.7l1.8 -0.9M176.2 97.7l1.8 -1.1M181.1 97.7l1.7 -1.1M244.7 97.7l1.7 -1.4M249.6 97.7l1.7 -1.1M303.4 97.7l1.8 0.9M332.7 97.7l0.6 1.9M161.6 102.8l1.7 -1M244.7 102.8l2 -1.1M332.7 102.8l-0.3 2M161.6 107.8l1.4 -1.4M176.2 107.8l1.4 -1.4M239.8 107.8l1.9 -1.2M322.9 107.8l1.8 -0.9M161.6 112.9l0.7 -1.9M166.5 112.9l0.6 -1.9M181.1 112.9l0.1 2M230 112.9l1.6 -1.5M234.9 112.9l1.7 -1.4M318.1 112.9l1.4 -1.4M225.2 118l1.7 -1.5M283.8 118l1.9 1M166.5 123l-0.7 1.9M283.8 123l2 0.1M151.8 128.1l-0.8 1.8M156.7 128.1l0 2.1M288.7 128.1l2 0.6M293.6 128.1l1.9 0.6M298.5 128.1l1.9 0.7M298.5 133.2l1.7 1.2M225.2 138.2l1.6 -1.2M244.7 138.2l-0.1 -2M244.7 143.3l-0.7 -2.1M293.6 143.3l0.9 1.8M230 148.4l-1.9 0.7M234.9 148.4l-2 -0.3M239.8 148.4l-1.6 -1.5M288.7 148.4l1 1.7M318.1 148.4l1.5 1.3M322.9 148.4l1.7 1M220.3 153.5l-1.2 1.6M225.2 153.5l-1.8 0.9M230 153.5l-2 -0.1M234.9 153.5l-2 -1.3M264.3 153.5l-0.4 -2.2M269.2 153.5l0.6 -1.9M274.1 153.5l1.7 -1.1M278.9 153.5l2 0.3M283.8 153.5l1.5 1.4M313.2 153.5l1.8 0.9M318.1 153.5l1.8 0.9M322.9 153.5l1.8 1M200.7 158.5l2.2 0.6M220.3 158.5l-1.9 0.7M225.2 158.5l-2 -0.4M230 158.5l-1.9 -1.4M259.4 158.5l-1.6 -1.4M264.3 158.5l-0.6 -1.9M269.2 158.5l0.9 -1.8M274.1 158.5l1.9 -0.7M308.3 158.5l1.9 0.5M313.2 158.5l1.8 0.8M318.1 158.5l1.7 1.1M195.8 163.6l2 -0.3M220.3 163.6l-1.5 -1.3M225.2 163.6l-1.4 -1.7M249.6 163.6l-2.3 -0.2M254.5 163.6l-1.9 -0.8M259.4 163.6l-1.1 -1.7M264.3 163.6l0.3 -2M303.4 163.6l2 0.2M308.3 163.6l1.8 0.8M313.2 163.6l1.6 1.2M318.1 163.6l1.8 1.3M151.8 168.7l0.6 -1.9M156.7 168.7l1.3 -1.5M190.9 168.7l1.7 -1M215.4 168.7l-0.4 -2M220.3 168.7l-0.6 -2.1M244.7 168.7l-2.2 0.1M249.6 168.7l-1.9 -0.6M254.5 168.7l-1.3 -1.5M259.4 168.7l-0.1 -2M298.5 168.7l2 0M303.4 168.7l1.8 0.8M308.3 168.7l1.5 1.3M313.2 168.7l1.8 1.5M151.8 173.7l1 -1.7M190.9 173.7l1.4 -1.5M195.8 173.7l1.1 -1.7M200.7 173.7l1.2 -1.8M234.9 173.7l-2.3 -0M239.8 173.7l-2.1 -0.2M244.7 173.7l-1.8 -0.9M249.6 173.7l-1.1 -1.7M293.6 173.7l2 -0M298.5 173.7l1.8 0.9M303.4 173.7l1.5 1.4M151.8 178.8l2 -1.1M220.3 178.8l-0.8 -2.1M225.2 178.8l-1.7 -1.2M230 178.8l-1.9 -0.7M234.9 178.8l-1.8 -0.9M239.8 178.8l-1.4 -1.5M283.8 178.8l1.7 -1.1M288.7 178.8l2 0.1M293.6 178.8l1.7 1M298.5 178.8l1.6 1.5M220.3 183.9l-0.5 -1.9M225.2 183.9l-1 -1.8M230 183.9l-0.8 -1.8M278.9 183.9l1.8 -0.9M283.8 183.9l2 0.3M288.7 183.9l1.7 1.1M293.6 183.9l1.7 1.6M215.4 188.9l1.4 -1.5M220.3 188.9l1.2 -1.6M274.1 188.9l1.9 -0.6M278.9 188.9l1.9 0.5M283.8 188.9l1.8 1.2M151.8 194l2 0.1M230 194l1.9 0.8M234.9 194l1.9 0.5M269.2 194l2 -0.1M274.1 194l1.9 0.8M278.9 194l1.9 1.3M151.8 199.1l2 0.3M156.7 199.1l1.8 0.9M161.6 199.1l1.2 1.8M166.5 199.1l-0 2.1M171.4 199.1l-1.2 1.7M176.2 199.1l-1.7 1.4M234.9 199.1l1.8 0.9M259.4 199.1l2 -0.2M264.3 199.1l2 0.5M269.2 199.1l2.1 1.1M151.8 204.2l1.5 1.4M156.7 204.2l0.2 2M161.6 204.2l-1.3 1.5M166.5 204.2l-2.1 0.5M171.4 204.2l-2.4 -0.1M234.9 204.2l1.7 1.1M249.6 204.2l2 0.4M254.5 204.2l2.2 0.8M303.4 204.2l-0.8 2.2M151.8 209.2l-0.5 1.9M156.7 209.2l-1.8 0.8M161.6 209.2l-2.3 -0.6M176.2 209.2l-2.1 -0.1M181.1 209.2l-1.8 0.8M186 209.2l-1.6 1.5M190.9 209.2l-1.4 1.9M195.8 209.2l-1.4 1.9M200.7 209.2l-1.2 2M298.5 209.2l-1.3 1.8M151.8 214.3l-2 0.4M171.4 214.3l-1.8 -1.1M176.2 214.3l-1.9 -0.7M181.1 214.3l-1.9 -0.5M205.6 214.3l-0.8 1.8M293.6 214.3l-1.3 1.7M298.5 214.3l-1.3 1.5M186 219.4l0.1 -2.1M190.9 219.4l0.3 -2M288.7 219.4l-0.8 1.8M293.6 219.4l-0.9 1.8M151.8 224.4l-2 -0.6M156.7 224.4l-1.7 -1.1M161.6 224.4l-1.3 -1.9M190.9 224.4l1.1 -1.7M205.6 224.4l0.7 1.9M283.8 224.4l0.1 2.1M288.7 224.4l0.1 2M293.6 224.4l0.2 2M151.8 229.5l-2 0.1M156.7 229.5l-1.5 -1.3M190.9 229.5l1.2 -1.6M283.8 229.5l1.4 1.7M288.7 229.5l1.3 1.5M293.6 229.5l1 1.7M200.7 234.6l1.6 1.2M205.6 234.6l1.6 1.6M283.8 234.6l2.1 0.7M288.7 234.6l1.7 1.1M205.6 239.6l1.3 1.5M283.8 239.6l2 0.3M288.7 239.6l1.6 1.2M151.8 244.7l-1 -1.8M186 244.7l1 -1.7M205.6 244.7l0.7 1.9M269.2 244.7l1.5 -1.3M274.1 244.7l1.7 -1.1M278.9 244.7l2.2 -0.6M283.8 244.7l2 0.4M288.7 244.7l1.5 1.3M156.7 249.8l0.1 -2.1M186 249.8l0.8 -1.8M249.6 249.8l1.3 -1.8M269.2 249.8l1.2 -1.6M288.7 249.8l2 1M293.6 249.8l1.5 1.3M298.5 249.8l1.3 1.5M303.4 249.8l1.3 1.6M308.3 249.8l1.2 1.9M166.5 254.9l1.4 -1.4M171.4 254.9l1.4 -1.6M176.2 254.9l1.3 -1.9M181.1 254.9l1 -1.7M239.8 254.9l1 -1.8M151.8 259.9l1.8 0.9M156.7 259.9l1.9 0.5M161.6 259.9l2 -0M166.5 259.9l1.9 -0.6M171.4 259.9l1.7 -1.1M176.2 259.9l1.5 -1.3M181.1 259.9l1.6 -1.3M249.6 259.9l1.7 1M254.5 259.9l1.9 0.7M313.2 259.9l0.9 1.9M161.6 265l1.9 0.4M166.5 265l2 -0.2M171.4 265l1.9 -0.7M181.1 265l1.9 0.7M234.9 265l1.7 1.1M254.5 265l2.2 0.4M259.4 265l2.1 -0.4M313.2 265l1.3 2M156.7 270.1l1.7 1.1M220.3 270.1l1.3 -1.5M249.6 270.1l2.1 0.9M254.5 270.1l2 0.3M259.4 270.1l2 -0.3M264.3 270.1l1.9 -0.7M269.2 270.1l1.8 -1M274.1 270.1l1.9 -1.4M151.8 275.1l1.4 1.4M166.5 275.1l0.9 1.8M225.2 275.1l1.2 1.6M239.8 275.1l1.7 1.3M244.7 275.1l1.5 1.3M278.9 275.1l0.6 -1.9" stroke="#74add1" stroke-width="0.8" stroke-opacity="0.6" fill="none"/><path d="M150.7 78.7l-0.3 0.4M216.7 76.4l0.4 -0.3M206.8 83.6l0.4 0.3M224.3 85.9l-0.2 -0.5M229.1 86.1l-0.3 -0.4M285 88.8l0.3 0.4M245.9 91.2l0.3 -0.4M246 96.6l0.4 -0.3M246.3 101.9l0.4 -0.2M241.3 106.9l0.4 -0.3M231.3 111.7l0.4 -0.3M236.3 111.8l0.4 -0.3M226.4 116.8l0.4 -0.3M238.6 147.2l-0.4 -0.3M233.4 152.4l-0.4 -0.3M228.6 157.5l-0.4 -0.3M224.1 162.3l-0.3 -0.4M319.4 164.6l0.4 0.3M314.6 169.8l0.4 0.3M153.3 178l0.4 -0.2M299.8 180l0.4 0.3M295 185.1l0.4 0.4M285.2 189.9l0.4 0.3M280.5 195l0.4 0.3M162.5 200.5l0.3 0.4M174.9 200.1l-0.4 0.3M270.8 200l0.5 0.2M302.7 205.9l-0.2 0.5M184.8 210.4l-0.3 0.3M189.8 210.7l-0.3 0.4M194.8 210.7l-0.3 0.4M199.8 210.8l-0.3 0.4M297.5 210.7l-0.3 0.4M160.6 223l-0.3 -0.4M284.9 230.8l0.3 0.4M206.8 235.8l0.4 0.3M250.6 248.4l0.3 -0.4M290.3 250.6l0.4 0.2M309.2 251.3l0.3 0.4M172.5 253.6l0.3 -0.4M177.3 253.4l0.3 -0.4M314.2 266.5l0.3 0.4M251.3 270.8l0.5 0.2M275.6 269l0.4 -0.3M241.2 276.1l0.4 0.3" stroke="#74add1" stroke-width="1.4" stroke-opacity="0.65" fill="none"/><path d="M220.3 77.4l0.5 -2.4M225.2 77.4l-1.6 -2.1M230 77.4l-2.7 -0.4M234.9 77.4l-2.6 1M239.8 77.4l-2.4 1.4M244.7 77.4l-2.5 0.8M308.3 77.4l0.4 3.3M210.5 82.5l2.5 0.3M215.4 82.5l2.1 -1.8M220.3 82.5l-0.1 -2.7M225.2 82.5l-1.9 -1.8M230 82.5l-2.5 -0.6M234.9 82.5l-2.4 -0.3M205.6 87.5l2.6 2M215.4 87.5l2.1 -2.6M220.3 87.5l-0.1 -2.8M274.1 87.5l2.8 -0.4M278.9 87.5l2.9 1M220.3 92.6l1.9 -3.1M225.2 92.6l1.5 -2.9M230 92.6l1.8 -2.8M234.9 92.6l2 -2.5M239.8 92.6l1.9 -2.2M264.3 92.6l2.9 -1.1M278.9 92.6l2.8 2.2M308.3 92.6l1.2 2.3M313.2 92.6l2.1 2.6M332.7 92.6l1.4 2.8M239.8 97.7l2.5 -1.9M254.5 97.7l2.5 -1.1M283.8 97.7l2.4 2M288.7 97.7l2.2 2M293.6 97.7l2.3 2.1M298.5 97.7l2 1.8M308.3 97.7l2.7 0.3M166.5 102.8l2.4 -1.4M181.1 102.8l2.3 -1.3M239.8 102.8l2 -1.4M249.6 102.8l3 -1.2M166.5 107.8l2.3 -2M171.4 107.8l2.3 -2.1M186 107.8l1.5 2.2M230 107.8l3 -2M234.9 107.8l1.9 -1.5M244.7 107.8l3 -1.3M337.6 107.8l-0.9 2.2M225.2 112.9l2.5 -1.8M239.8 112.9l2.7 -1.6M347.4 112.9l-1.2 2.9M176.2 118l-0.4 2.4M220.3 118l2.4 -1.5M230 118l1.9 -1.6M234.9 118l2.9 -2M288.7 118l2.9 -0.9M308.3 118l2.4 -1.6M171.4 123l0.1 2.9M215.4 123l3 -0.7M220.3 123l2.1 -1.1M225.2 123l2.4 -1.6M288.7 123l2.5 -1.1M293.6 123l2.8 -1.5M298.5 123l2.1 -1.2M161.6 128.1l1 2.9M215.4 128.1l3.2 -0.1M220.3 128.1l3 -0.9M283.8 128.1l2.2 0.9M220.3 133.2l3.4 -0.5M225.2 133.2l3.2 -1.4M230 133.2l2.8 -2.1M234.9 133.2l2.3 -2.6M239.8 133.2l1.7 -2.6M244.7 133.2l1.5 -2.7M220.3 138.2l2.4 -0.3M249.6 138.2l1.1 -3.3M293.6 138.2l2.4 2.2M215.4 143.3l2.5 0.7M249.6 143.3l1 -3.4M288.7 143.3l2.5 2.2M210.5 148.4l2.9 1.5M244.7 148.4l-0.7 -2.8M249.6 148.4l0.5 -3.2M254.5 148.4l1.3 -3.1M259.4 148.4l1.5 -3M264.3 148.4l1.6 -2.7M269.2 148.4l1.9 -2.3M274.1 148.4l2.6 -1.5M278.9 148.4l2.9 -0.1M283.8 148.4l2.1 1.2M205.6 153.5l2.8 1.4M239.8 153.5l-1.5 -2.3M244.7 153.5l-1.1 -2.7M249.6 153.5l-1 -2.7M254.5 153.5l-1.1 -2.5M259.4 153.5l-1 -2.3M234.9 158.5l-1.8 -2M239.8 158.5l-2 -2.1M244.7 158.5l-2.2 -1.8M249.6 158.5l-2.4 -1.3M254.5 158.5l-2.1 -1.1M151.8 163.6l1.6 -2.1M156.7 163.6l2 -1.9M161.6 163.6l2.8 -1.9M190.9 163.6l3.6 -0.2M230 163.6l-1.7 -2M234.9 163.6l-2.3 -1.6M239.8 163.6l-2.6 -0.9M244.7 163.6l-2.6 -0.2M161.6 168.7l2.7 -1.5M186 168.7l3.1 -0.9M225.2 168.7l-1.3 -2.2M230 168.7l-2.2 -1.5M234.9 168.7l-2.6 -0.5M239.8 168.7l-2.5 0.2M318.1 168.7l2.5 0.8M156.7 173.7l2 -1.2M161.6 173.7l3.2 -0.7M181.1 173.7l3.4 -1.2M186 173.7l2.3 -1.5M205.6 173.7l1.5 -2.1M210.5 173.7l1.4 -2.3M215.4 173.7l0.8 -2.5M220.3 173.7l-0.5 -2.5M225.2 173.7l-1.8 -1.8M230 173.7l-2.4 -0.7M308.3 173.7l1.9 1.6M313.2 173.7l2.6 0.8M156.7 178.8l3.1 -0.5M210.5 178.8l2.8 -2.2M215.4 178.8l1 -2.6M303.4 178.8l2 1.6M308.3 178.8l2.7 0.8M313.2 178.8l2.9 -0.7M151.8 183.9l2.8 -0.3M156.7 183.9l3.5 0.1M215.4 183.9l0.8 -2.3M298.5 183.9l2.2 1.5M303.4 183.9l2.8 0.7M308.3 183.9l2.9 -0.4M151.8 188.9l2.5 0.1M156.7 188.9l3.2 0.1M210.5 188.9l2.9 -1.6M288.7 188.9l1.9 1.6M293.6 188.9l2.4 1.3M298.5 188.9l2.8 0.7M303.4 188.9l3 0M308.3 188.9l3 -0.2M156.7 194l2.4 0.1M161.6 194l2.9 0.5M166.5 194l3.1 1.4M171.4 194l2.4 2.4M176.2 194l1.1 2.8M181.1 194l0.3 2.8M186 194l0.2 3.1M210.5 194l3.3 0.2M215.4 194l2.9 0.3M220.3 194l2.6 0.7M225.2 194l2.4 0.9M283.8 194l2.2 1.4M288.7 194l2.6 1.1M293.6 194l2.9 0.6M298.5 194l3 0.5M303.4 194l2.8 0.9M308.3 194l2.3 1.6M181.1 199.1l-1.8 1.7M186 199.1l-1.2 2.8M230 199.1l2.3 2M274.1 199.1l2.2 1.4M278.9 199.1l2.5 1.2M283.8 199.1l2.8 0.8M288.7 199.1l2.9 0.6M293.6 199.1l2.9 0.9M298.5 199.1l2.3 1.8M303.4 199.1l1.2 2.4M176.2 204.2l-2.4 0.2M181.1 204.2l-2.2 1.3M186 204.2l-1.4 2.6M190.9 204.2l-0.4 3.5M230 204.2l2.5 2.3M259.4 204.2l2.4 1.3M264.3 204.2l2.4 1.5M269.2 204.2l2.6 1.3M274.1 204.2l2.8 0.8M278.9 204.2l3 0.4M283.8 204.2l3 0.6M288.7 204.2l2.7 1.4M293.6 204.2l1.7 2.4M298.5 204.2l0.2 2.7M166.5 209.2l-2.3 -1.3M171.4 209.2l-2.3 -1M205.6 209.2l-0.9 2.5M210.5 209.2l-0.4 3.6M234.9 209.2l2.5 1.8M239.8 209.2l2.5 1.6M244.7 209.2l2.8 1.8M249.6 209.2l2.8 2.1M254.5 209.2l2.8 2.2M259.4 209.2l2.8 1.9M264.3 209.2l3 1.2M269.2 209.2l3.1 0.4M274.1 209.2l3.1 0.1M278.9 209.2l3.1 0.5M283.8 209.2l2.6 1.7M288.7 209.2l1.1 2.6M293.6 209.2l-0.5 2.5M156.7 214.3l-2.2 -1.1M161.6 214.3l-2.1 -1.9M166.5 214.3l-2 -1.8M210.5 214.3l-0.1 3.1M259.4 214.3l3.5 0.8M264.3 214.3l3.3 -0.1M269.2 214.3l3.3 -0.3M274.1 214.3l3.3 0.5M278.9 214.3l2.6 1.9M283.8 214.3l0.9 2.7M288.7 214.3l-0.7 2.4M151.8 219.4l-2.3 -0.9M156.7 219.4l-2.1 -1.7M161.6 219.4l-1.8 -1.9M166.5 219.4l-1.5 -1.9M171.4 219.4l-1.3 -2M176.2 219.4l-0.9 -2.4M181.1 219.4l-0.4 -2.6M210.5 219.4l0.8 2.9M274.1 219.4l2.9 2M278.9 219.4l1.1 2.8M283.8 219.4l-0.3 2.4M166.5 224.4l-0.8 -3.3M210.5 224.4l1.8 2.8M274.1 224.4l2.1 2.8M278.9 224.4l0.7 2.6M161.6 229.5l-0.7 -3.4M205.6 229.5l1.6 1.9M274.1 229.5l2.5 2.6M278.9 229.5l1.8 2.2M156.7 234.6l-0.9 -2.2M210.5 234.6l2.1 2.4M278.9 234.6l2.8 0.8M186 239.6l1.4 -2M210.5 239.6l1.8 2.4M274.1 239.6l2.9 -0.7M278.9 239.6l2.4 -0.3M181.1 244.7l1.5 -2.9M259.4 244.7l2.7 -1.8M264.3 244.7l1.8 -1.5M161.6 249.8l0.7 -2.9M166.5 249.8l1.2 -3.2M171.4 249.8l1.5 -3.1M176.2 249.8l1.5 -2.8M181.1 249.8l1.1 -2.1M244.7 249.8l2.4 -2.4M274.1 249.8l2.1 -1.4M278.9 249.8l3 -0.6M283.8 249.8l2.8 0.5M234.9 254.9l2.1 -2.6M269.2 254.9l2 -1.6M190.9 259.9l2.4 1.7M230 259.9l1.9 -2.3M264.3 259.9l2.2 -1.2M151.8 265l3.1 1.1M156.7 265l2.6 0.9M225.2 265l1.8 -1.8M239.8 265l2.8 1.7M249.6 265l3 1.2M264.3 265l3.1 -1.5M151.8 270.1l2.8 1.2M176.2 270.1l2.1 1.5M230 270.1l1.9 1.5M244.7 270.1l3.1 1.5M278.9 270.1l2.5 -2.2M171.4 275.1l1.9 2.1M210.5 275.1l1.8 -2.7M230 275.1l2.1 1.7M234.9 275.1l2.2 1.5" stroke="#90c3dd" stroke-width="0.8" stroke-opacity="0.6" fill="none"/><path d="M223.9 75.8l-0.3 -0.5M227.9 77.1l-0.6 -0.1M232.9 78.2l-0.6 0.2M237.9 78.5l-0.5 0.3M242.7 78l-0.6 0.2M308.6 79.9l0.1 0.7M217 81.1l0.5 -0.4M223.7 81.1l-0.4 -0.4M228.1 82l-0.5 -0.1M207.6 89.1l0.6 0.4M217 85.5l0.5 -0.6M276.2 87.2l0.6 -0.1M281.2 88.3l0.6 0.2M221.7 90.2l0.4 -0.7M226.4 90.3l0.3 -0.6M231.4 90.5l0.4 -0.6M236.5 90.7l0.4 -0.5M241.3 90.9l0.4 -0.5M266.6 91.8l0.6 -0.2M281.1 94.3l0.6 0.5M309.2 94.4l0.3 0.5M314.8 94.6l0.5 0.6M333.9 94.8l0.3 0.6M241.7 96.2l0.5 -0.4M256.4 96.8l0.5 -0.2M285.7 99.3l0.5 0.4M290.5 99.2l0.5 0.4M295.4 99.3l0.5 0.5M300.1 99.1l0.4 0.4M168.3 101.6l0.5 -0.3M182.9 101.7l0.5 -0.3M241.4 101.6l0.5 -0.3M252 101.8l0.7 -0.3M168.3 106.3l0.5 -0.4M173.2 106.2l0.5 -0.5M187.2 109.5l0.3 0.5M232.4 106.3l0.7 -0.4M236.4 106.7l0.4 -0.3M247 106.8l0.6 -0.3M336.9 109.6l-0.2 0.5M227.1 111.5l0.6 -0.4M242 111.6l0.6 -0.4M346.5 115.1l-0.3 0.6M222.2 116.8l0.5 -0.3M231.5 116.7l0.4 -0.4M237.2 116.4l0.6 -0.4M291 117.2l0.6 -0.2M310.1 116.7l0.5 -0.4M171.5 125.3l0 0.6M217.7 122.5l0.7 -0.2M221.9 122.2l0.5 -0.2M227 121.8l0.5 -0.3M290.7 122.2l0.5 -0.2M295.8 121.8l0.6 -0.3M300.2 122.1l0.5 -0.3M162.3 130.4l0.2 0.6M217.8 128l0.7 -0M222.6 127.4l0.7 -0.2M285.5 128.8l0.5 0.2M222.9 132.8l0.8 -0.1M227.6 132.1l0.7 -0.3M232.3 131.5l0.6 -0.5M236.7 131.2l0.5 -0.6M241.2 131.1l0.4 -0.6M245.9 131l0.3 -0.6M250.4 135.7l0.2 -0.7M295.5 140l0.5 0.5M217.3 143.9l0.5 0.2M250.3 140.7l0.2 -0.7M290.6 145l0.5 0.5M212.7 149.5l0.6 0.3M244.2 146.2l-0.2 -0.6M250 145.9l0.1 -0.7M255.5 145.9l0.3 -0.7M260.5 146.1l0.3 -0.7M265.5 146.2l0.3 -0.6M270.6 146.6l0.4 -0.5M276.1 147.2l0.6 -0.3M281.2 148.3l0.6 -0M285.5 149.3l0.5 0.3M207.8 154.5l0.6 0.3M238.6 151.7l-0.3 -0.5M243.9 151.3l-0.2 -0.6M248.8 151.3l-0.2 -0.6M253.6 151.5l-0.2 -0.6M258.6 151.7l-0.2 -0.5M233.5 157l-0.4 -0.4M238.3 156.9l-0.4 -0.5M243 157.1l-0.5 -0.4M247.8 157.5l-0.5 -0.3M252.8 157.6l-0.5 -0.2M153.1 161.9l0.4 -0.5M158.2 162.1l0.4 -0.4M163.8 162.1l0.6 -0.4M193.7 163.4l0.8 -0.1M228.7 162.1l-0.4 -0.4M233.2 162.3l-0.5 -0.4M237.8 162.9l-0.6 -0.2M163.7 167.5l0.6 -0.3M188.4 167.9l0.7 -0.2M224.1 167l-0.3 -0.5M228.3 167.5l-0.5 -0.3M232.9 168.3l-0.6 -0.1M320 169.3l0.5 0.2M158.3 172.8l0.4 -0.3M164 173.2l0.7 -0.2M183.8 172.8l0.8 -0.3M187.9 172.5l0.5 -0.3M206.7 172.1l0.3 -0.5M211.6 172l0.3 -0.5M216 171.8l0.2 -0.5M223.8 172.4l-0.4 -0.4M228.2 173.2l-0.5 -0.1M309.7 174.9l0.4 0.3M315.2 174.4l0.6 0.2M159.1 178.4l0.7 -0.1M212.7 177.1l0.6 -0.5M216.1 176.8l0.2 -0.6M305 180l0.4 0.3M310.4 179.4l0.6 0.2M315.4 178.3l0.6 -0.1M154 183.7l0.6 -0.1M159.4 184l0.8 0M216 182.1l0.2 -0.5M300.2 185l0.5 0.3M305.5 184.4l0.6 0.2M310.6 183.6l0.6 -0.1M159.1 189l0.7 0M212.7 187.7l0.6 -0.3M290.2 190.2l0.4 0.3M295.5 190l0.5 0.3M300.7 189.5l0.6 0.1M310.6 188.8l0.7 -0M163.8 194.4l0.6 0.1M168.9 195.1l0.7 0.3M173.2 195.9l0.5 0.5M177.1 196.2l0.3 0.6M181.4 196.2l0.1 0.6M186.2 196.4l0 0.7M213.1 194.2l0.7 0M217.6 194.3l0.6 0.1M222.3 194.6l0.6 0.2M227 194.7l0.5 0.2M285.5 195.1l0.5 0.3M290.7 194.9l0.6 0.2M295.9 194.5l0.6 0.1M300.8 194.4l0.7 0.1M305.6 194.7l0.6 0.2M310.1 195.3l0.5 0.4M179.7 200.4l-0.4 0.4M185.1 201.3l-0.3 0.6M231.9 200.6l0.5 0.4M275.8 200.1l0.5 0.3M280.9 200l0.6 0.3M286 199.7l0.6 0.2M291 199.5l0.6 0.1M295.8 199.8l0.6 0.2M300.3 200.5l0.5 0.4M304.3 201l0.3 0.5M179.4 205.2l-0.5 0.3M184.9 206.2l-0.3 0.6M190.6 206.9l-0.1 0.8M232 206l0.6 0.5M261.2 205.2l0.5 0.3M266.1 205.3l0.5 0.3M271.2 205.2l0.6 0.3M276.3 204.8l0.6 0.2M281.3 204.5l0.7 0.1M286.2 204.6l0.7 0.1M290.8 205.2l0.6 0.3M294.9 206l0.4 0.5M164.7 208.2l-0.5 -0.3M169.6 208.4l-0.5 -0.2M204.9 211.2l-0.2 0.6M210.2 212l-0.1 0.8M236.8 210.6l0.5 0.4M241.8 210.4l0.6 0.3M246.9 210.6l0.6 0.4M251.8 210.9l0.6 0.5M256.6 210.9l0.6 0.5M261.6 210.7l0.6 0.4M266.6 210.1l0.7 0.3M271.6 209.5l0.7 0.1M276.5 209.3l0.7 0M281.4 209.6l0.7 0.1M285.8 210.5l0.6 0.4M289.6 211.3l0.2 0.6M293.2 211.2l-0.1 0.6M154.9 213.4l-0.5 -0.2M160 212.8l-0.5 -0.4M164.9 212.9l-0.4 -0.4M210.4 216.7l-0 0.7M262.1 214.9l0.8 0.2M266.9 214.2l0.7 -0M271.7 214l0.7 -0.1M276.6 214.7l0.7 0.1M281 215.8l0.6 0.4M284.5 216.4l0.2 0.6M288.2 216.2l-0.1 0.5M150 218.7l-0.5 -0.2M155.1 218.1l-0.5 -0.4M160.2 217.9l-0.4 -0.4M165.3 217.9l-0.3 -0.4M170.4 217.8l-0.3 -0.4M175.5 217.5l-0.2 -0.5M211.1 221.6l0.2 0.6M276.3 220.9l0.6 0.4M279.8 221.5l0.2 0.6M165.8 221.9l-0.2 -0.7M211.9 226.6l0.4 0.6M275.7 226.6l0.5 0.6M279.5 226.4l0.1 0.6M161.1 226.9l-0.1 -0.7M206.8 231l0.3 0.4M276 231.5l0.5 0.6M280.3 231.2l0.4 0.5M156 232.8l-0.2 -0.5M212.1 236.4l0.5 0.5M281.1 235.2l0.6 0.2M187.1 238.1l0.3 -0.4M211.8 241.5l0.4 0.5M276.3 239.1l0.6 -0.1M182.3 242.4l0.3 -0.6M261.5 243.3l0.6 -0.4M265.7 243.5l0.4 -0.3M162.2 247.5l0.2 -0.6M167.4 247.3l0.3 -0.7M172.5 247.3l0.3 -0.7M177.4 247.6l0.3 -0.6M182 248.1l0.2 -0.5M246.5 247.9l0.5 -0.5M275.7 248.7l0.5 -0.3M281.3 249.3l0.7 -0.1M286 250.2l0.6 0.1M236.5 252.8l0.5 -0.6M270.7 253.6l0.4 -0.4M192.8 261.2l0.5 0.4M231.5 258.1l0.4 -0.5M266 259l0.5 -0.3M154.2 265.8l0.7 0.2M158.7 265.7l0.6 0.2M226.5 263.6l0.4 -0.4M242 266.3l0.6 0.4M251.9 265.9l0.7 0.3M266.7 263.8l0.7 -0.3M154 271l0.6 0.3M177.9 271.2l0.5 0.3M231.5 271.2l0.4 0.3M247.1 271.2l0.7 0.3M280.9 268.3l0.5 -0.5M172.8 276.8l0.4 0.5M211.9 273.1l0.4 -0.6M231.7 276.5l0.5 0.4M236.7 276.3l0.5 0.3" stroke="#90c3dd" stroke-width="1.4" stroke-opacity="0.65" fill="none"/><path d="M308.3 82.5l0.8 3.8M210.5 87.5l3.7 -0.4M308.3 87.5l1.1 4.1M332.7 87.5l0.4 4.3M200.7 92.6l2.6 3M215.4 92.6l3.2 -3M269.2 92.6l4.4 -0.1M274.1 92.6l4.4 1.5M327.8 92.6l3.7 2.7M195.8 97.7l3.1 3.1M234.9 97.7l3.5 -2.2M259.4 97.7l4.2 -1M278.9 97.7l3.1 2.4M327.8 97.7l3.5 1.5M171.4 102.8l3.3 -2M176.2 102.8l3.4 -2.1M190.9 102.8l3 2.8M234.9 102.8l3.1 -2M322.9 102.8l4.4 0.1M337.6 102.8l-1.3 4.6M249.6 107.8l4.7 -1.2M318.1 107.8l4.3 -1.2M186 112.9l1.9 4.1M220.3 112.9l4.3 -1.4M244.7 112.9l4.3 -1.5M288.7 112.9l4 1.4M313.2 112.9l3.7 -1.8M181.1 118l0.7 3.9M215.4 118l4.3 -0.8M239.8 118l4.2 -2M176.2 123l0.8 3.8M181.1 123l1.2 4.5M230 123l3.2 -2.1M278.9 123l3.2 2.4M166.5 128.1l1.7 3.5M171.4 128.1l1.8 3.8M176.2 128.1l1.7 4.2M210.5 128.1l4.3 0.7M225.2 128.1l3.4 -1.6M230 128.1l4 -2.2M278.9 128.1l3 2.1M151.8 133.2l2.7 2.9M156.7 133.2l3.7 3.1M215.4 133.2l3.9 0.5M249.6 133.2l2.2 -3.4M293.6 133.2l3.2 2.4M215.4 138.2l4 0.9M254.5 143.3l3.1 -3.2M259.4 143.3l4.3 -2.2M283.8 143.3l4.3 1.6M195.8 158.5l4.5 0.9M166.5 163.6l3.9 -1.7M186 163.6l4.8 0.1M166.5 168.7l3.8 -1M171.4 168.7l4.3 -0.4M176.2 168.7l4.3 -0.2M181.1 168.7l4 -0.4M166.5 173.7l3.7 -0.2M171.4 173.7l4 -0.1M176.2 173.7l4 -0.6M161.6 178.8l3.8 -0M166.5 178.8l4.3 -0M171.4 178.8l4.7 -0.5M176.2 178.8l4.6 -1.2M181.1 178.8l4.2 -1.7M186 178.8l4 -2M190.9 178.8l4.1 -1.9M195.8 178.8l4.4 -1.6M200.7 178.8l4.5 -1.3M205.6 178.8l4 -1.5M161.6 183.9l4.3 0.1M210.5 183.9l3.1 -2.1M161.6 188.9l3.9 -0.1M166.5 188.9l4.7 -0.1M205.6 188.9l4.6 -0.3M190.9 194l1.2 3.7M195.8 194l3 3.6M200.7 194l4.2 2.2M205.6 194l4 0.8M190.9 199.1l0.3 3.8M195.8 199.1l2 3.9M200.7 199.1l2.9 3.4M205.6 199.1l3.1 3.2M210.5 199.1l2.9 3.5M215.4 199.1l2.6 3.7M220.3 199.1l2.5 3.6M225.2 199.1l2.5 3.1M195.8 204.2l0.3 4M200.7 204.2l0.4 4.3M205.6 204.2l0.4 4.5M210.5 204.2l0.5 4.6M225.2 204.2l2.6 3.8M215.4 209.2l0.7 4.6M225.2 209.2l2.9 3.6M230 209.2l2.7 2.4M215.4 214.3l1.3 4.2M220.3 214.3l2.6 4M225.2 214.3l3.1 3.4M230 214.3l3.2 3M234.9 214.3l3.3 3M239.8 214.3l3.3 3.2M244.7 214.3l3.2 3.2M249.6 214.3l3.2 2.9M254.5 214.3l3.4 2M215.4 219.4l2.1 3.6M220.3 219.4l2.9 3.7M249.6 219.4l4.4 1.8M254.5 219.4l4.2 0.2M259.4 219.4l3.7 -0.7M264.3 219.4l3.7 -0.7M269.2 219.4l3.8 0.3M171.4 224.4l0.3 -4.7M186 224.4l2.1 -3.1M215.4 224.4l2.7 3.5M254.5 224.4l4.5 -1.3M259.4 224.4l4.5 -1.1M264.3 224.4l4.7 0.1M269.2 224.4l3.9 1.9M186 229.5l2.8 -3.5M210.5 229.5l2.3 2.8M215.4 229.5l2.9 3.4M269.2 229.5l3.8 2.5M186 234.6l2.2 -3.1M215.4 234.6l3 3.4M269.2 234.6l4.4 1.5M274.1 234.6l3.6 1.2M156.7 239.6l-0.1 -3.9M264.3 239.6l4.7 -0.5M269.2 239.6l3.7 -0.7M156.7 244.7l0.5 -3.9M210.5 244.7l2.8 3.5M254.5 244.7l3.8 -1.9M205.6 249.8l2.4 2.9M225.2 249.8l3.4 -2.9M230 249.8l3.1 -2.9M234.9 249.8l3.1 -2.8M239.8 249.8l3 -2.6M200.7 254.9l3.5 2.7M220.3 254.9l3.6 -3.2M225.2 254.9l3.2 -3.2M230 254.9l2.8 -3M274.1 254.9l3.8 -1.8M303.4 254.9l4.4 1.5M308.3 254.9l3.1 2.3M225.2 259.9l3.4 -3.2M269.2 259.9l3.9 -2.3M308.3 259.9l3.7 2.6M186 265l4.3 2.2M244.7 265l3.3 1.7M269.2 265l4.2 -2.3M308.3 265l3.2 2.6M215.4 270.1l3.2 -3M234.9 270.1l3.3 2M239.8 270.1l3.6 1.8M308.3 270.1l3.3 2.8M313.2 270.1l2.8 2.7M176.2 275.1l4.1 2.3M283.8 275.1l2.9 -3.7M308.3 275.1l4.1 2.4M313.2 275.1l4 2M318.1 275.1l3.7 1.6" stroke="#aad8e9" stroke-width="0.8" stroke-opacity="0.6" fill="none"/><path d="M308.9 85.4l0.2 0.8M213.4 87.2l0.8 -0.1M309.2 90.7l0.2 0.9M333.1 90.9l0.1 0.9M202.7 94.9l0.6 0.7M217.9 90.3l0.7 -0.7M272.6 92.5l1 -0M277.5 93.8l1 0.3M330.7 94.7l0.8 0.6M198.2 100.1l0.7 0.7M237.7 96l0.8 -0.5M262.7 96.9l0.9 -0.2M281.4 99.6l0.7 0.5M330.6 98.9l0.8 0.3M173.9 101.2l0.7 -0.4M178.9 101.1l0.8 -0.5M193.2 104.9l0.7 0.6M237.3 101.2l0.7 -0.4M326.4 102.8l1 0M336.6 106.4l-0.3 1M253.3 106.9l1 -0.3M321.4 106.9l0.9 -0.3M187.5 116l0.4 0.9M223.7 111.8l1 -0.3M248.1 111.7l0.9 -0.3M291.8 114l0.9 0.3M316.1 111.5l0.8 -0.4M181.7 121l0.2 0.9M218.7 117.3l0.9 -0.2M243.1 116.4l0.9 -0.4M176.9 126l0.2 0.8M182.1 126.6l0.3 1M232.6 121.4l0.7 -0.5M281.4 124.9l0.7 0.5M167.8 130.8l0.4 0.8M172.7 131.1l0.4 0.8M177.5 131.4l0.4 0.9M213.9 128.6l1 0.2M227.8 126.8l0.7 -0.4M233.1 126.4l0.9 -0.5M281.3 129.7l0.7 0.5M153.9 135.4l0.6 0.6M159.6 135.6l0.8 0.7M218.4 133.5l0.9 0.1M251.3 130.5l0.5 -0.8M296.1 135l0.7 0.5M218.5 139l0.9 0.2M256.9 140.8l0.7 -0.7M262.8 141.6l1 -0.5M287.1 144.6l0.9 0.4M199.3 159.2l1 0.2M169.5 162.3l0.9 -0.4M189.7 163.6l1 0M169.4 167.9l0.8 -0.2M174.7 168.3l0.9 -0.1M179.6 168.5l1 -0M184.3 168.3l0.9 -0.1M169.4 173.6l0.8 -0M174.5 173.6l0.9 -0M179.4 173.3l0.9 -0.1M164.5 178.8l0.8 -0M169.8 178.8l0.9 -0M175 178.4l1 -0.1M179.9 177.9l1 -0.3M184.5 177.4l0.9 -0.4M189.1 177.3l0.9 -0.4M194.1 177.3l0.9 -0.4M199.3 177.5l1 -0.4M204.2 177.8l1 -0.3M208.7 177.6l0.9 -0.3M164.9 183.9l0.9 0M212.9 182.2l0.7 -0.5M164.6 188.9l0.9 -0M170.1 188.8l1 -0M209.2 188.7l1 -0.1M191.8 196.9l0.3 0.8M198.1 196.8l0.6 0.8M203.9 195.7l0.9 0.5M208.7 194.6l0.9 0.2M191.1 202.1l0.1 0.8M197.4 202.1l0.4 0.9M203 201.7l0.6 0.7M208 201.6l0.7 0.7M212.7 201.8l0.6 0.8M217.4 202l0.6 0.8M222.2 201.9l0.6 0.8M227.1 201.5l0.6 0.7M196 207.3l0.1 0.9M201 207.5l0.1 0.9M205.9 207.6l0.1 1M210.9 207.8l0.1 1M227.2 207.1l0.6 0.8M215.9 212.8l0.2 1M227.4 212l0.6 0.8M232.2 211.1l0.6 0.5M216.4 217.6l0.3 0.9M222.3 217.4l0.6 0.9M227.6 216.9l0.7 0.7M232.6 216.6l0.7 0.7M237.5 216.6l0.7 0.7M242.4 216.8l0.7 0.7M247.2 216.8l0.7 0.7M252.1 216.5l0.7 0.6M257.2 215.8l0.8 0.4M217 222.2l0.5 0.8M222.6 222.2l0.6 0.8M253 220.7l1 0.4M257.7 219.5l0.9 0M262.3 218.8l0.8 -0.2M267.1 218.8l0.8 -0.2M272.1 219.6l0.8 0.1M171.6 220.8l0.1 -1M187.7 222l0.5 -0.7M217.5 227.1l0.6 0.8M258 223.4l1 -0.3M262.9 223.6l1 -0.2M267.9 224.5l1 0M272.2 225.9l0.8 0.4M188.2 226.8l0.6 -0.8M212.3 231.7l0.5 0.6M217.6 232.2l0.6 0.7M272.1 231.5l0.8 0.6M187.7 232.2l0.5 -0.7M217.7 237.2l0.7 0.7M272.6 235.8l1 0.3M276.9 235.5l0.8 0.3M156.6 236.6l-0 -0.9M268 239.3l1 -0.1M272.1 239.1l0.8 -0.2M157.1 241.7l0.1 -0.8M212.6 247.4l0.6 0.8M257.5 243.3l0.8 -0.4M207.5 252.1l0.5 0.6M227.8 247.5l0.7 -0.6M232.4 247.5l0.7 -0.6M237.4 247.6l0.7 -0.6M242.2 247.8l0.7 -0.6M203.4 256.9l0.8 0.6M223.1 252.3l0.8 -0.7M227.6 252.4l0.7 -0.7M232.2 252.5l0.6 -0.7M277 253.4l0.8 -0.4M306.8 256l1 0.3M310.7 256.6l0.7 0.5M227.8 257.4l0.7 -0.7M272.2 258.2l0.9 -0.5M311.1 262l0.8 0.6M189.4 266.7l0.9 0.5M247.3 266.3l0.7 0.4M272.4 263.2l0.9 -0.5M310.8 267.1l0.7 0.6M217.9 267.7l0.7 -0.7M237.5 271.6l0.7 0.4M242.6 271.5l0.8 0.4M310.8 272.2l0.7 0.6M315.4 272.2l0.6 0.6M179.4 276.9l0.9 0.5M286.1 272.2l0.6 -0.8M311.5 277l0.9 0.5M316.3 276.7l0.9 0.4M321 276.4l0.8 0.3" stroke="#aad8e9" stroke-width="1.4" stroke-opacity="0.65" fill="none"/><path d="M313.2 77.4l1 5M327.8 87.5l1.5 4.8M337.6 87.5l-1.2 5.7M205.6 92.6l5.4 1.6M210.5 92.6l5.2 -1.5M322.9 92.6l4.5 2.8M337.6 92.6l-0.9 5.3M220.3 97.7l5.6 -2.3M225.2 97.7l5.1 -2.2M230 97.7l4.5 -2.1M264.3 97.7l5.9 0.1M274.1 97.7l4.5 2.7M313.2 97.7l5 0.4M337.6 97.7l-1.3 5.5M230 102.8l4.7 -2M254.5 102.8l4.9 -1M274.1 102.8l5 3.2M278.9 102.8l4.5 3.2M283.8 102.8l4.6 3.6M190.9 107.8l4.3 4.3M225.2 107.8l4.8 -1.7M190.9 112.9l3.5 4.9M215.4 112.9l5.8 0.5M249.6 112.9l5.7 -0.7M283.8 112.9l4.1 3.5M186 118l1.7 4.8M190.9 118l2.4 5.4M210.5 118l5.9 1.5M244.7 118l5.4 -1.6M278.9 118l4.6 3.7M293.6 118l5.5 -2.1M303.4 118l4.8 -2.1M186 123l1.7 5.3M210.5 123l5.1 0.3M234.9 123l4.3 -2.4M239.8 123l5.2 -2.4M181.1 128.1l2 5M234.9 128.1l4.4 -2.7M239.8 128.1l4.6 -3.2M244.7 128.1l4.5 -3.6M249.6 128.1l4.5 -3.8M161.6 133.2l3.9 3.5M166.5 133.2l3.4 3.9M171.4 133.2l2.9 4.1M176.2 133.2l3.1 4.6M210.5 133.2l4.8 1.6M254.5 133.2l4.2 -4.3M278.9 133.2l4.4 3.4M283.8 133.2l4.3 3.3M288.7 133.2l4.1 3M151.8 138.2l5.7 1.5M210.5 138.2l5.3 2.3M254.5 138.2l3.8 -3.9M288.7 138.2l4.4 3M210.5 143.3l4.9 2.3M264.3 143.3l4.8 -1.4M269.2 143.3l5 -1M274.1 143.3l5.1 -0.5M278.9 143.3l5 0.4M200.7 153.5l5.3 2.2M151.8 158.5l4.8 -2.1M156.7 158.5l4.8 -2.4M161.6 158.5l4.8 -2.3M166.5 158.5l4.9 -2.1M171.4 158.5l5.4 -1.6M176.2 158.5l5.9 -0.9M190.9 158.5l5.7 1.1M171.4 163.6l4.9 -1.1M176.2 163.6l5.3 -0.4M181.1 163.6l5.2 0M166.5 183.9l5 -0.3M171.4 183.9l5.5 -0.8M176.2 183.9l5.9 -1.1M195.8 183.9l5.9 1.4M200.7 183.9l5.6 0.9M205.6 183.9l5 -0.6M171.4 188.9l5.3 0.3M176.2 188.9l5.5 1.2M181.1 188.9l5 2.4M186 188.9l4.1 3.2M190.9 188.9l3.7 3.5M195.8 188.9l4.3 3.2M200.7 188.9l5.1 1.9M215.4 204.2l1 4.8M220.3 204.2l1.9 4.7M220.3 209.2l2.2 4.6M225.2 219.4l3.3 3.8M230 219.4l3.4 4M234.9 219.4l3.4 4.1M239.8 219.4l3.6 3.9M244.7 219.4l4.1 3.2M176.2 224.4l1.6 -5.1M181.1 224.4l2.4 -4.3M220.3 224.4l3.2 3.9M225.2 224.4l3.4 4.2M230 224.4l3.8 4.5M244.7 224.4l6 1.3M249.6 224.4l5.2 -0.5M166.5 229.5l1.2 -5.8M220.3 229.5l3.4 4M249.6 229.5l5.5 -1.7M254.5 229.5l5.6 -1.5M259.4 229.5l5.9 -0.2M264.3 229.5l5.3 1.5M161.6 234.6l1 -5.5M264.3 234.6l5.5 1.5M181.1 239.6l2.5 -4.3M215.4 239.6l3.9 4.1M239.8 239.6l5.6 -2.3M259.4 239.6l5.7 -0.3M161.6 244.7l1.9 -5.2M171.4 244.7l2.5 -5.6M176.2 244.7l2.1 -4.5M230 244.7l4.6 -2.6M234.9 244.7l4.2 -2.6M239.8 244.7l4.5 -2.5M244.7 244.7l4.9 -2.2M249.6 244.7l4.6 -1.9M210.5 249.8l5.5 2M215.4 249.8l6.1 -0.8M220.3 249.8l4.6 -2.6M215.4 254.9l4.7 -3M278.9 254.9l4.8 -1M283.8 254.9l5.1 -0.2M288.7 254.9l5 0.3M293.6 254.9l5 0.5M298.5 254.9l4.9 0.9M220.3 259.9l4.4 -3.5M274.1 259.9l5.5 -2.5M220.3 265l3.8 -3.2M274.1 265l4.9 -2.9M181.1 270.1l4.8 2.5M283.8 270.1l4 -3.6M303.4 270.1l5.1 2.8M181.1 275.1l5.8 1.2M200.7 275.1l5.7 -2.1M205.6 275.1l4.3 -2.9M298.5 275.1l5.7 2M303.4 275.1l4.5 2.6" stroke="#c5e6f0" stroke-width="0.8" stroke-opacity="0.6" fill="none"/><path d="M314 81.3l0.2 1.1M329 91.2l0.3 1M336.7 92l-0.3 1.3M209.8 93.8l1.2 0.3M214.6 91.4l1.1 -0.3M326.4 94.8l1 0.6M336.9 96.8l-0.2 1.2M224.6 95.9l1.2 -0.5M229.1 96l1.1 -0.5M233.5 96l1 -0.5M268.8 97.8l1.3 0M277.6 99.8l1 0.6M317.1 98l1.1 0.1M336.6 102l-0.3 1.2M233.7 101.2l1 -0.4M258.3 102l1.1 -0.2M278 105.2l1.1 0.7M282.5 105.3l1 0.7M287.4 105.5l1 0.8M194.3 111.2l0.9 0.9M228.9 106.5l1.1 -0.4M193.7 116.7l0.8 1.1M219.9 113.3l1.3 0.1M254.1 112.3l1.3 -0.2M287 115.6l0.9 0.8M187.3 121.7l0.4 1.1M192.8 122.2l0.5 1.2M215.1 119.1l1.3 0.3M248.9 116.7l1.2 -0.3M282.6 120.8l1 0.8M297.9 116.3l1.2 -0.5M307.1 116.3l1.1 -0.5M187.4 127.2l0.4 1.2M214.5 123.2l1.1 0.1M238.3 121.2l0.9 -0.5M243.9 121.2l1.1 -0.5M182.7 132l0.4 1.1M238.4 126l1 -0.6M243.4 125.6l1 -0.7M248.2 125.3l1 -0.8M253.1 125.1l1 -0.8M164.6 135.9l0.9 0.8M169.2 136.2l0.8 0.9M173.6 136.4l0.6 0.9M178.6 136.8l0.7 1M214.2 134.4l1.1 0.4M257.8 129.9l0.9 -0.9M282.4 135.8l1 0.7M287.2 135.7l0.9 0.7M291.9 135.5l0.9 0.7M156.3 139.4l1.3 0.3M214.6 140.1l1.2 0.5M257.5 135.2l0.8 -0.8M292.2 140.6l1 0.7M214.3 145.1l1.1 0.5M268 142.2l1.1 -0.3M273.1 142.6l1.1 -0.2M278 142.9l1.1 -0.1M282.9 143.7l1.1 0.1M204.8 155.2l1.2 0.5M155.5 156.9l1.1 -0.5M160.5 156.7l1.1 -0.5M165.3 156.7l1 -0.5M170.3 156.9l1.1 -0.5M175.6 157.2l1.2 -0.4M180.9 157.8l1.3 -0.2M195.4 159.4l1.3 0.2M175.2 162.7l1.1 -0.3M180.4 163.2l1.2 -0.1M185.2 163.6l1.1 0M170.4 183.6l1.1 -0.1M175.7 183.2l1.2 -0.2M180.9 183l1.3 -0.2M200.4 185l1.3 0.3M205.1 184.6l1.2 0.2M209.5 183.4l1.1 -0.1M175.5 189.1l1.2 0.1M180.6 189.9l1.2 0.3M185 190.8l1.1 0.5M189.2 191.4l0.9 0.7M193.8 191.7l0.8 0.8M199.2 191.5l0.9 0.7M204.7 190.4l1.1 0.4M216.2 207.9l0.2 1.1M221.7 207.8l0.4 1M221.9 212.8l0.5 1M227.7 222.3l0.7 0.8M232.7 222.4l0.8 0.9M237.6 222.6l0.8 0.9M242.6 222.4l0.8 0.9M247.9 221.8l0.9 0.7M177.5 220.5l0.4 -1.1M183 221l0.5 -1M222.7 227.5l0.7 0.9M227.8 227.7l0.8 0.9M233 227.9l0.8 1M249.4 225.4l1.3 0.3M253.7 224.1l1.1 -0.1M167.4 225l0.3 -1.3M222.9 232.6l0.8 0.9M253.9 228.1l1.2 -0.4M258.8 228.4l1.2 -0.3M264 229.3l1.3 -0M268.4 230.7l1.2 0.3M162.3 230.3l0.2 -1.2M268.6 235.7l1.2 0.3M183.1 236.3l0.5 -0.9M218.4 242.8l0.9 0.9M244.2 237.8l1.2 -0.5M263.8 239.4l1.3 -0.1M163 240.6l0.4 -1.2M173.3 240.4l0.5 -1.2M177.9 241.2l0.5 -1M233.6 242.7l1 -0.6M238.2 242.7l0.9 -0.6M243.4 242.8l1 -0.5M248.5 243l1.1 -0.5M253.2 243.2l1 -0.4M214.8 251.4l1.2 0.4M220.1 249.1l1.3 -0.2M223.8 247.8l1 -0.6M219 252.5l1 -0.7M282.7 254l1.1 -0.2M287.8 254.7l1.1 -0M292.7 255.1l1.1 0.1M297.5 255.3l1.1 0.1M302.4 255.5l1.1 0.2M223.7 257.2l1 -0.8M278.3 258l1.2 -0.6M223.3 262.5l0.8 -0.7M277.9 262.7l1.1 -0.6M184.9 272l1 0.5M286.9 267.2l0.9 -0.8M307.4 272.2l1.1 0.6M185.7 276.1l1.3 0.3M205.2 273.5l1.3 -0.5M209 272.9l0.9 -0.6M302.9 276.7l1.3 0.4M306.9 277.1l1 0.6" stroke="#c5e6f0" stroke-width="1.4" stroke-opacity="0.65" fill="none"/><path d="M362.1 77.4l3.4 6.2M313.2 82.5l1.8 6.5M318.1 87.5l2.3 6.8M322.9 87.5l2.1 6M215.4 97.7l6.2 -2.3M269.2 97.7l5.9 1.9M318.1 97.7l6.6 1.3M322.9 97.7l6.2 1.7M220.3 102.8l7.1 -0.4M225.2 102.8l6.1 -1.2M259.4 102.8l6.6 0.2M264.3 102.8l6.9 1.9M269.2 102.8l6 2.9M288.7 102.8l5.2 4.1M293.6 102.8l5.8 3.9M298.5 102.8l6.4 2.2M303.4 102.8l7.3 0.3M318.1 102.8l6.9 0.3M342.5 102.8l-1.5 7.2M215.4 107.8l6.9 1.4M220.3 107.8l6.3 -0.3M254.5 107.8l6.3 -0.1M259.4 107.8l6.9 1.4M264.3 107.8l6.8 2.5M269.2 107.8l6.5 3.2M274.1 107.8l6.3 3.7M278.9 107.8l6 4.1M283.8 107.8l5.7 4.5M352.3 107.8l-1.4 6.1M357.2 107.8l-0.6 6.6M195.8 112.9l4.4 5.1M200.7 112.9l4.8 4.9M205.6 112.9l5.3 4.2M210.5 112.9l5.9 2.8M254.5 112.9l6.6 0.4M259.4 112.9l7.1 1.3M195.8 118l3.1 5.8M200.7 118l4.3 5.6M205.6 118l5.7 4.2M249.6 118l6.3 -1M254.5 118l7 -0.7M298.5 118l6.3 -2.2M190.9 123l2.8 6.2M244.7 123l5.9 -2.5M249.6 123l6.4 -2.7M186 128.1l3.3 6.2M205.6 128.1l6.5 1.9M254.5 128.1l5.4 -4.1M274.1 128.1l5.4 3.5M181.1 133.2l4.5 5.7M205.6 133.2l6 2.7M274.1 133.2l5.3 3.5M156.7 138.2l6 2.6M161.6 138.2l5.4 3.5M166.5 138.2l4.7 4M171.4 138.2l4.9 4.3M205.6 138.2l6.4 3.5M259.4 138.2l6.3 -2.1M264.3 138.2l6.8 0.4M269.2 138.2l6.5 1.9M274.1 138.2l6.3 2.5M278.9 138.2l6.2 2.8M283.8 138.2l5.7 3M151.8 143.3l6.7 0.7M156.7 143.3l6.8 2.5M161.6 143.3l6.6 3.3M151.8 148.4l7 0.7M205.6 148.4l5.5 2.9M151.8 153.5l6.7 -0.3M171.4 153.5l7 -1.7M176.2 153.5l6.6 -1.1M181.1 153.5l6.7 -0.1M186 153.5l7 1M195.8 153.5l6.7 2.6M181.1 158.5l6.2 -0M186 158.5l6.2 0.8M181.1 183.9l6.3 -0.8M186 183.9l6.5 0M190.9 183.9l6.3 1M234.9 224.4l4.7 4.3M239.8 224.4l5.7 3.3M176.2 229.5l4.4 -5.9M181.1 229.5l4.1 -4.8M225.2 229.5l4.5 4.6M244.7 229.5l6.5 -1.1M181.1 234.6l3.8 -5.1M220.3 234.6l4.7 4.5M239.8 234.6l7.1 -1.7M244.7 234.6l6.2 -2.1M249.6 234.6l6.4 -1.8M254.5 234.6l6.8 -0.7M259.4 234.6l6.5 0.7M161.6 239.6l2.4 -6M176.2 239.6l3.6 -6.2M234.9 239.6l6.3 -2.2M244.7 239.6l6 -2.1M249.6 239.6l6.5 -1.5M254.5 239.6l6.4 -0.7M166.5 244.7l2.5 -5.9M215.4 244.7l6.1 3.1M225.2 244.7l6.1 -2M205.6 254.9l6.2 1.1M210.5 254.9l6.1 -1.6M195.8 259.9l5.7 2.4M210.5 259.9l6.1 -3.2M215.4 259.9l5.1 -3.5M278.9 259.9l6.5 -2.4M303.4 259.9l6.6 1.5M215.4 265l5.6 -3.6M278.9 265l5.5 -3.4M283.8 265l6.1 -3.8M303.4 265l6.5 2.4M210.5 270.1l5.5 -3.4M186 275.1l6.4 -0M190.9 275.1l6.5 -0.8M195.8 275.1l6.3 -1.4M288.7 275.1l6.3 -2.9M293.6 275.1l7.1 0.1" stroke="#e0f3f8" stroke-width="0.8" stroke-opacity="0.6" fill="none"/><path d="M364.7 82.2l0.7 1.4M314.6 87.5l0.4 1.4M319.9 92.8l0.5 1.5M324.6 92.2l0.5 1.3M220.2 95.9l1.4 -0.5M273.8 99.2l1.3 0.4M323.2 98.7l1.5 0.3M327.8 99l1.4 0.4M225.8 102.4l1.6 -0.1M229.9 101.8l1.3 -0.3M264.5 102.9l1.4 0M269.6 104.2l1.5 0.4M273.8 105l1.3 0.6M292.7 105.9l1.1 0.9M298.2 105.8l1.3 0.8M303.5 104.5l1.4 0.5M309 102.9l1.6 0.1M323.4 103l1.5 0.1M341.3 108.3l-0.3 1.6M220.8 108.9l1.5 0.3M225.2 107.6l1.4 -0.1M259.4 107.8l1.4 -0M264.8 108.9l1.5 0.3M269.6 109.8l1.5 0.6M274.2 110.3l1.4 0.7M279 110.7l1.4 0.8M283.6 111l1.3 0.9M288.3 111.4l1.3 1M351.2 112.6l-0.3 1.3M356.7 113l-0.1 1.4M199.2 116.8l1 1.1M204.5 116.7l1.1 1.1M209.7 116.2l1.2 0.9M215.1 115.1l1.3 0.6M259.6 113.2l1.4 0.1M264.9 113.9l1.6 0.3M198.2 122.5l0.7 1.3M204.1 122.3l1 1.2M210 121.2l1.3 0.9M254.5 117.1l1.4 -0.2M260 117.4l1.5 -0.1M303.4 116.3l1.4 -0.5M193.1 127.9l0.6 1.4M249.3 121.1l1.3 -0.5M254.6 120.9l1.4 -0.6M188.6 133l0.7 1.4M210.6 129.6l1.4 0.4M258.7 124.9l1.2 -0.9M278.3 130.8l1.2 0.8M184.6 137.6l1 1.3M210.3 135.2l1.3 0.6M278.1 135.9l1.2 0.8M161.4 140.2l1.3 0.6M165.8 141l1.2 0.8M170.2 141.3l1 0.9M175.2 141.6l1.1 0.9M210.6 141l1.4 0.8M264.3 136.6l1.4 -0.5M269.6 138.5l1.5 0.1M274.2 139.7l1.4 0.4M278.9 140.2l1.4 0.6M283.8 140.4l1.4 0.6M288.3 140.6l1.3 0.7M157.1 143.9l1.5 0.2M162 145.2l1.5 0.5M166.7 145.9l1.4 0.7M157.2 148.9l1.5 0.2M209.9 150.6l1.2 0.6M157 153.2l1.5 -0.1M176.8 152.1l1.5 -0.4M181.4 152.6l1.5 -0.2M186.4 153.3l1.5 -0M191.5 154.3l1.5 0.2M201 155.5l1.5 0.6M186 158.5l1.4 -0M190.8 159.1l1.4 0.2M186.1 183.2l1.4 -0.2M191.1 183.9l1.4 0M195.9 184.6l1.4 0.2M238.6 227.8l1 0.9M244.3 227l1.3 0.7M179.7 224.9l1 -1.3M184.3 225.8l0.9 -1.1M228.6 233.1l1 1M249.7 228.6l1.4 -0.3M184.1 230.6l0.8 -1.1M223.9 238.1l1 1M245.3 233.3l1.6 -0.4M249.5 233l1.4 -0.5M254.6 233.2l1.4 -0.4M259.8 234l1.5 -0.2M264.4 235.1l1.4 0.1M163.4 234.9l0.5 -1.3M179.1 234.8l0.8 -1.4M239.9 238l1.4 -0.5M249.4 238l1.3 -0.5M254.7 238.5l1.4 -0.3M259.5 239.1l1.4 -0.2M168.4 240.1l0.6 -1.3M220.2 247.1l1.4 0.7M229.9 243.2l1.3 -0.4M210.4 255.7l1.4 0.2M215.3 253.6l1.4 -0.4M200.3 261.8l1.3 0.5M215.2 257.4l1.3 -0.7M219.4 257.2l1.1 -0.8M284 258l1.4 -0.5M308.5 261.1l1.4 0.3M219.7 262.2l1.2 -0.8M283.2 262.4l1.2 -0.7M288.6 262l1.3 -0.8M308.5 266.8l1.4 0.5M214.7 267.4l1.2 -0.7M191 275.1l1.4 -0M196 274.5l1.4 -0.2M200.7 274.1l1.4 -0.3M293.7 272.8l1.4 -0.6M299.1 275.2l1.6 0" stroke="#e0f3f8" stroke-width="1.4" stroke-opacity="0.65" fill="none"/><path d="M318.1 77.4l1.7 7.2M332.7 82.5l-0.8 8.2M337.6 82.5l-2.1 8.2M362.1 82.5l3.1 6.9M200.7 97.7l6.6 3.2M205.6 97.7l8.1 0.7M210.5 97.7l7.3 -1.5M195.8 102.8l6.4 4.2M215.4 102.8l7.9 0.1M308.3 102.8l8.1 -0.4M313.2 102.8l8 0.1M195.8 107.8l6.5 4.4M200.7 107.8l7.4 3.8M205.6 107.8l7.4 3.3M210.5 107.8l7.2 2.5M288.7 107.8l6.1 4.3M313.2 107.8l7.4 -0.7M264.3 112.9l7.5 2M269.2 112.9l7.8 2.7M274.1 112.9l7.6 3.6M278.9 112.9l6.1 4.3M293.6 112.9l7.8 -0.1M308.3 112.9l7.4 -1.4M259.4 118l7.8 -0.4M264.3 118l8.6 0.2M274.1 118l7.9 3.5M195.8 123l4.7 6.8M205.6 123l7 2.8M254.5 123l6.9 -2.8M259.4 123l7.8 -2.6M274.1 123l6.9 3.7M259.4 128.1l7.4 -3.6M200.7 133.2l7.6 3.4M259.4 133.2l7.3 -3.2M264.3 133.2l8.5 0.2M269.2 133.2l7.1 2.9M176.2 138.2l6.3 4.8M200.7 138.2l7.3 4M166.5 143.3l7 3.5M190.9 143.3l7.9 2.9M205.6 143.3l6.6 3.7M156.7 148.4l7.5 1.8M161.6 148.4l8.2 1.9M176.2 148.4l8.4 -0.5M181.1 148.4l7.6 0.1M186 148.4l7.4 1.3M190.9 148.4l7.6 2.6M195.8 148.4l7.6 3.6M200.7 148.4l7.1 3.8M156.7 153.5l7.5 -0.4M161.6 153.5l7.8 -1.1M166.5 153.5l7.6 -1.7M190.9 153.5l7.1 2.1M171.4 229.5l3.3 -6.6M230 229.5l6.2 4.6M234.9 229.5l7.8 3.1M239.8 229.5l7.8 0.6M166.5 234.6l3.6 -6.9M171.4 234.6l5 -6.9M176.2 234.6l5 -6.3M166.5 239.6l4 -6.8M171.4 239.6l4.3 -6.9M220.3 239.6l7.2 4.1M230 239.6l8 -1.1M220.3 244.7l7.4 0.2M200.7 259.9l7.9 0.3M205.6 259.9l7.4 -2.1M283.8 259.9l7.1 -2.3M288.7 259.9l7.4 -2.3M293.6 259.9l7.8 -1.8M298.5 259.9l7.8 -0.5M190.9 265l7.5 2M205.6 265l7.5 -3.1M210.5 265l6.6 -3.5M288.7 265l7.3 -3.9M186 270.1l7.3 1.6M190.9 270.1l8.3 -0.3M195.8 270.1l8.1 -1.7M200.7 270.1l7.5 -2.5M205.6 270.1l6.8 -3M288.7 270.1l6.8 -4.1M298.5 270.1l7.9 1.4" stroke="#f0f9db" stroke-width="0.8" stroke-opacity="0.6" fill="none"/><path d="M319.4 83l0.4 1.6M332.1 88.8l-0.2 1.8M336 88.8l-0.5 1.8M364.5 87.9l0.7 1.5M205.9 100.2l1.5 0.7M211.9 98.2l1.8 0.2M216.2 96.5l1.6 -0.3M200.8 106l1.4 0.9M221.5 102.8l1.7 0M314.6 102.5l1.8 -0.1M319.4 102.8l1.8 0M200.9 111.3l1.4 1M206.5 110.8l1.6 0.8M211.4 110.4l1.6 0.7M216.1 109.8l1.6 0.6M293.5 111.2l1.3 0.9M319 107.3l1.6 -0.2M270.1 114.4l1.7 0.4M275.3 115l1.7 0.6M279.9 115.7l1.7 0.8M283.7 116.2l1.4 0.9M299.7 112.8l1.7 -0M314.1 111.8l1.6 -0.3M265.5 117.7l1.7 -0.1M270.9 118.1l1.9 0.1M280.2 120.7l1.7 0.8M199.5 128.3l1 1.5M211.1 125.2l1.5 0.6M259.9 120.8l1.5 -0.6M265.5 121l1.7 -0.6M279.4 125.9l1.5 0.8M265.2 125.3l1.6 -0.8M206.6 135.9l1.7 0.8M265 130.7l1.6 -0.7M270.9 133.3l1.9 0M274.7 135.4l1.6 0.6M181.2 142l1.4 1.1M206.4 141.4l1.6 0.9M171.9 146l1.5 0.8M197.1 145.6l1.7 0.6M210.7 146.2l1.4 0.8M162.5 149.8l1.6 0.4M168 149.8l1.8 0.4M182.8 148l1.9 -0.1M187.1 148.5l1.7 0M191.8 149.4l1.6 0.3M196.8 150.4l1.7 0.6M201.8 151.2l1.7 0.8M206.2 151.3l1.6 0.8M162.5 153.2l1.6 -0.1M167.7 152.6l1.7 -0.2M172.4 152.1l1.7 -0.4M196.4 155.1l1.6 0.5M174 224.4l0.7 -1.4M234.9 233.1l1.4 1M241 231.9l1.7 0.7M245.9 230l1.7 0.1M169.3 229.2l0.8 -1.5M175.3 229.2l1.1 -1.5M180.1 229.7l1.1 -1.4M169.6 234.3l0.9 -1.5M174.7 234.2l1 -1.5M225.9 242.8l1.6 0.9M236.3 238.8l1.8 -0.2M226.1 244.9l1.6 0.1M206.8 260.2l1.7 0.1M211.4 258.3l1.6 -0.5M289.3 258.1l1.6 -0.5M294.5 258.1l1.6 -0.5M299.7 258.5l1.7 -0.4M304.6 259.5l1.7 -0.1M196.7 266.6l1.6 0.4M211.4 262.6l1.6 -0.7M215.7 262.3l1.5 -0.8M294.4 261.9l1.6 -0.9M191.7 271.3l1.6 0.3M197.4 269.8l1.8 -0.1M202.1 268.7l1.8 -0.4M206.6 268.1l1.7 -0.5M210.9 267.7l1.5 -0.7M294 266.9l1.5 -0.9M304.6 271.2l1.7 0.3" stroke="#f0f9db" stroke-width="1.4" stroke-opacity="0.65" fill="none"/><path d="M322.9 77.4l2.2 8.8M327.8 77.4l2.1 9.6M318.1 82.5l2.5 8.7M322.9 82.5l2.2 9.5M327.8 82.5l0.9 9.1M342.5 87.5l-2.7 9.4M362.1 87.5l2.8 8.3M342.5 97.7l-1.7 9.7M200.7 102.8l8.7 3M205.6 102.8l9.1 1.4M210.5 102.8l8.6 0.5M347.4 102.8l-1.5 8.7M352.3 102.8l-1.3 9.2M357.2 102.8l-0.9 8.8M293.6 107.8l8.2 3M269.2 118l9 1.6M200.7 123l6.7 5.7M264.3 123l9.2 -1.3M269.2 123l9.5 1.5M190.9 128.1l5.7 7.3M200.7 128.1l8.4 4.1M264.3 128.1l9.5 -1.1M269.2 128.1l8.7 2.5M186 133.2l7 6.6M181.1 138.2l8.4 4.8M190.9 138.2l9.1 3.6M195.8 138.2l8.1 3.9M171.4 143.3l8.2 3.2M176.2 143.3l9.3 2.4M181.1 143.3l9.3 1.6M186 143.3l8.5 1.9M195.8 143.3l7.8 3.9M200.7 143.3l7.5 4.3M166.5 148.4l9.1 1.1M171.4 148.4l9.2 -0M225.2 234.6l7.3 4.6M230 234.6l9.2 2.5M234.9 234.6l8.7 -0.2M225.2 239.6l9 1.5M195.8 265l8.9 -0.2M200.7 265l8.4 -2.2M293.6 265l8.9 -2.9M298.5 265l9.1 -0.1M293.6 270.1l8.9 -1.8" stroke="#fffebe" stroke-width="0.8" stroke-opacity="0.6" fill="none"/><path d="M324.7 84.3l0.5 1.9M329.5 84.9l0.5 2.1M320 89.3l0.5 1.9M324.6 89.9l0.5 2.1M328.5 89.5l0.2 2M340.4 94.9l-0.6 2.1M364.3 94l0.6 1.8M341.2 105.2l-0.4 2.1M207.5 105.1l1.9 0.7M212.7 103.8l2 0.3M217.2 103.2l1.9 0.1M346.2 109.5l-0.3 1.9M351.3 109.9l-0.3 2M356.5 109.6l-0.2 1.9M300 110.2l1.8 0.7M276.2 119.2l2 0.3M205.9 127.5l1.5 1.2M271.4 122l2 -0.3M276.6 124.2l2.1 0.3M195.4 133.8l1.3 1.6M207.2 131.3l1.8 0.9M271.7 127.3l2.1 -0.2M275.9 130l1.9 0.5M191.5 138.3l1.5 1.5M187.7 142l1.8 1.1M198 141.1l2 0.8M202.2 141.2l1.8 0.8M177.8 145.8l1.8 0.7M183.5 145.2l2.1 0.5M188.4 144.6l2 0.4M192.6 144.8l1.9 0.4M201.9 146.4l1.7 0.9M206.5 146.7l1.6 0.9M173.6 149.2l2 0.2M178.5 148.4l2 -0M230.9 238.1l1.6 1M237.2 236.5l2 0.6M241.7 234.4l1.9 -0M232.2 240.8l2 0.3M202.8 264.8l2 -0M207.3 263.3l1.9 -0.5M300.5 262.8l2 -0.6M305.6 264.9l2 -0M300.5 268.6l2 -0.4" stroke="#fffebe" stroke-width="1.4" stroke-opacity="0.65" fill="none"/><path d="M332.7 77.4l1.3 9.8M337.6 77.4l0.1 10.3M342.5 77.4l-0.9 11M357.2 77.4l2.2 10.6M342.5 82.5l-2.9 9.8M342.5 92.6l-2.3 10.1M308.3 107.8l10.4 0.1M298.5 112.9l11.1 -0.3M303.4 112.9l10.6 -0.5M195.8 128.1l8.1 6.5M190.9 133.2l9.2 6M195.8 133.2l9.2 4.5M186 138.2l9.5 4.1" stroke="#fff0a8" stroke-width="0.8" stroke-opacity="0.6" fill="none"/><path d="M333.8 85.1l0.3 2.2M337.7 85.4l0 2.3M341.8 86l-0.2 2.4M358.9 85.6l0.5 2.3M340.2 90.1l-0.6 2.1M340.7 100.5l-0.5 2.2M316.4 107.9l2.3 0M307.2 112.6l2.4 -0.1M311.7 112.5l2.3 -0.1M202.2 133.2l1.8 1.4M198.1 137.9l2 1.3M203 136.7l2 1M193.5 141.4l2.1 0.9" stroke="#fff0a8" stroke-width="1.4" stroke-opacity="0.65" fill="none"/><path d="M347.4 77.4l-1.1 11.9M352.3 77.4l0 12.2M357.2 82.5l2.5 11.7M347.4 97.7l-0.9 12M357.2 97.7l0.1 11.4M298.5 107.8l11.5 1.4" stroke="#fee090" stroke-width="0.8" stroke-opacity="0.6" fill="none"/><path d="M346.5 86.7l-0.2 2.6M352.3 86.9l0 2.7M359.2 91.6l0.6 2.6M346.7 107.1l-0.2 2.6M357.2 106.6l0 2.5M307.5 108.9l2.5 0.3" stroke="#fee090" stroke-width="1.4" stroke-opacity="0.65" fill="none"/><path d="M347.4 82.5l-2.6 12.4M357.2 87.5l2.6 12.1M357.2 92.6l1.7 12.4M352.3 97.7l-0.3 12.4M303.4 107.8l12.5 0.7" stroke="#fdc778" stroke-width="0.8" stroke-opacity="0.6" fill="none"/><path d="M345.4 92.2l-0.6 2.7M359.2 97l0.6 2.7M358.5 102.3l0.4 2.7M352.1 107.4l-0.1 2.7M313.1 108.3l2.8 0.1" stroke="#fdc778" stroke-width="1.4" stroke-opacity="0.65" fill="none"/><path d="M352.3 82.5l-0.3 13.9M347.4 87.5l-2.1 13.5M352.3 87.5l0.6 14.7M347.4 92.6l-1.1 13.8M352.3 92.6l0.8 14.2" stroke="#fdad60" stroke-width="0.8" stroke-opacity="0.6" fill="none"/><path d="M352.1 93.3l-0.1 3.1M345.7 98.1l-0.5 3M352.8 99l0.1 3.2M346.5 103.3l-0.2 3M352.9 103.7l0.2 3.1" stroke="#fdad60" stroke-width="1.4" stroke-opacity="0.65" fill="none"/><use href="#grd"/></g>
<rect x="150.60" y="73.50" width="218.90" height="207.75" fill="none" stroke="#000" stroke-width="1.1"/>
<g font-family='"Liberation Sans", sans-serif' fill="#000">
<text x="151.40" y="63.20" font-size="13.89" text-anchor="middle" textLength="53.0" lengthAdjust="spacingAndGlyphs">112.5°E</text>
<text x="157.40" y="299.00" font-size="13.89" text-anchor="middle" textLength="53.0" lengthAdjust="spacingAndGlyphs">112.5°E</text>
<text x="213.80" y="63.20" font-size="13.89" text-anchor="middle" textLength="40.0" lengthAdjust="spacingAndGlyphs">113°E</text>
<text x="219.70" y="299.00" font-size="13.89" text-anchor="middle" textLength="40.0" lengthAdjust="spacingAndGlyphs">113°E</text>
<text x="276.30" y="63.20" font-size="13.89" text-anchor="middle" textLength="53.0" lengthAdjust="spacingAndGlyphs">113.5°E</text>
<text x="281.60" y="299.00" font-size="13.89" text-anchor="middle" textLength="53.0" lengthAdjust="spacingAndGlyphs">113.5°E</text>
<text x="338.00" y="63.20" font-size="13.89" text-anchor="middle" textLength="40.0" lengthAdjust="spacingAndGlyphs">114°E</text>
<text x="343.00" y="299.00" font-size="13.89" text-anchor="middle" textLength="40.0" lengthAdjust="spacingAndGlyphs">114°E</text>
<text x="142.10" y="97.10" font-size="13.89" text-anchor="end" textLength="45.3" lengthAdjust="spacingAndGlyphs">21.6°S</text>
<text x="142.10" y="123.70" font-size="13.89" text-anchor="end" textLength="45.3" lengthAdjust="spacingAndGlyphs">21.8°S</text>
<text x="142.10" y="150.30" font-size="13.89" text-anchor="end" textLength="33.0" lengthAdjust="spacingAndGlyphs">22°S</text>
<text x="142.10" y="176.90" font-size="13.89" text-anchor="end" textLength="45.3" lengthAdjust="spacingAndGlyphs">22.2°S</text>
<text x="142.10" y="203.50" font-size="13.89" text-anchor="end" textLength="45.3" lengthAdjust="spacingAndGlyphs">22.4°S</text>
<text x="142.10" y="230.10" font-size="13.89" text-anchor="end" textLength="45.3" lengthAdjust="spacingAndGlyphs">22.6°S</text>
<text x="142.10" y="256.70" font-size="13.89" text-anchor="end" textLength="45.3" lengthAdjust="spacingAndGlyphs">22.8°S</text>
<text x="142.10" y="283.30" font-size="13.89" text-anchor="end" textLength="33.0" lengthAdjust="spacingAndGlyphs">23°S</text>
<rect x="383.50" y="125.30" width="5" height="103.90" fill="url(#cbg)" stroke="#000" stroke-width="1.1"/>
<path d="M388.50 125.30h5" stroke="#000" stroke-width="1.1"/>
<text x="399.30" y="130.20" font-size="13.89" text-anchor="start" textLength="19.5" lengthAdjust="spacingAndGlyphs">1.0</text>
<path d="M388.50 177.25h5" stroke="#000" stroke-width="1.1"/>
<text x="399.30" y="182.15" font-size="13.89" text-anchor="start" textLength="19.5" lengthAdjust="spacingAndGlyphs">0.5</text>
<path d="M388.50 229.20h5" stroke="#000" stroke-width="1.1"/>
<text x="399.30" y="234.10" font-size="13.89" text-anchor="start" textLength="19.5" lengthAdjust="spacingAndGlyphs">0.0</text>
</g></g>
<g transform="translate(328.10,0.00)">
<g clip-path="url(#clp)"><rect x="150.60" y="73.50" width="218.90" height="207.75" fill="#97b6e1"/><g transform="translate(151.0,74.0) scale(5.00,5.20)" shape-rendering="crispEdges"><path fill="#67459e" d="M0 0h4v1.1h-4zM3 1h2v1.1h-2zM5 2h1v1.1h-1zM6 3h1v1.1h-1zM7 4h1v1.1h-1zM8 5h1v1.1h-1zM9 6h1v1.1h-1zM10 7h1v1.1h-1zM10 8h1v1.1h-1zM11 10h1v1.1h-1zM11 11h1v1.1h-1zM11 12h1v1.1h-1zM11 13h1v1.1h-1zM32 13h1v1.1h-1zM11 14h1v1.1h-1zM32 14h1v1.1h-1zM11 15h1v1.1h-1zM10 17h1v1.1h-1zM31 17h1v1.1h-1zM10 18h1v1.1h-1zM30 18h1v1.1h-1zM9 19h1v1.1h-1zM25 19h1v1.1h-1zM9 20h1v1.1h-1zM23 20h1v1.1h-1zM9 21h1v1.1h-1zM22 21h1v1.1h-1zM8 22h2v1.1h-2zM19 22h3v1.1h-3zM9 23h1v1.1h-1zM18 23h1v1.1h-1zM10 24h1v1.1h-1zM11 25h1v1.1h-1zM17 25h1v1.1h-1zM12 26h2v1.1h-2zM14 27h3v1.1h-3zM15 28h1v1.1h-1zM32 37h1v1.1h-1zM32 38h1v1.1h-1zM0 39h1v1.1h-1z"/><path fill="#6c469d" d="M4 0h2v1.1h-2zM5 1h2v1.1h-2zM6 2h2v1.1h-2zM7 3h2v1.1h-2zM8 4h2v1.1h-2zM9 5h1v1.1h-1zM10 6h1v1.1h-1zM11 7h1v1.1h-1zM11 8h1v1.1h-1zM37 8h1v1.1h-1zM11 9h1v1.1h-1zM34 9h1v1.1h-1zM12 10h1v1.1h-1zM33 10h1v1.1h-1zM12 11h1v1.1h-1zM12 12h1v1.1h-1zM32 12h1v1.1h-1zM12 13h1v1.1h-1zM12 14h1v1.1h-1zM12 15h1v1.1h-1zM11 16h1v1.1h-1zM31 16h1v1.1h-1zM11 17h1v1.1h-1zM11 18h1v1.1h-1zM26 18h4v1.1h-4zM10 19h1v1.1h-1zM24 19h1v1.1h-1zM10 20h1v1.1h-1zM10 21h1v1.1h-1zM21 21h1v1.1h-1zM10 22h1v1.1h-1zM18 22h1v1.1h-1zM10 23h2v1.1h-2zM11 24h2v1.1h-2zM17 24h1v1.1h-1zM12 25h5v1.1h-5zM14 26h3v1.1h-3zM31 33h1v1.1h-1zM31 35h1v1.1h-1zM33 38h1v1.1h-1zM32 39h1v1.1h-1z"/><path fill="#71489b" d="M6 0h2v1.1h-2zM7 1h2v1.1h-2zM8 2h2v1.1h-2zM9 3h1v1.1h-1zM10 4h1v1.1h-1zM10 5h2v1.1h-2zM11 6h1v1.1h-1zM12 7h1v1.1h-1zM12 8h1v1.1h-1zM12 9h2v1.1h-2zM13 10h1v1.1h-1zM13 11h1v1.1h-1zM32 11h1v1.1h-1zM13 12h1v1.1h-1zM13 13h1v1.1h-1zM13 14h1v1.1h-1zM31 14h1v1.1h-1zM13 15h1v1.1h-1zM31 15h1v1.1h-1zM12 16h2v1.1h-2zM12 17h1v1.1h-1zM30 17h1v1.1h-1zM12 18h1v1.1h-1zM24 18h2v1.1h-2zM11 19h2v1.1h-2zM23 19h1v1.1h-1zM11 20h2v1.1h-2zM21 20h2v1.1h-2zM11 21h2v1.1h-2zM18 21h3v1.1h-3zM11 22h2v1.1h-2zM17 22h1v1.1h-1zM12 23h2v1.1h-2zM16 23h2v1.1h-2zM13 24h4v1.1h-4zM31 34h1v1.1h-1zM32 36h1v1.1h-1zM33 39h1v1.1h-1z"/><path fill="#764999" d="M8 0h3v1.1h-3zM9 1h2v1.1h-2zM10 2h2v1.1h-2zM10 3h3v1.1h-3zM11 4h2v1.1h-2zM12 5h2v1.1h-2zM12 6h2v1.1h-2zM13 7h2v1.1h-2zM13 8h2v1.1h-2zM35 8h1v1.1h-1zM14 9h1v1.1h-1zM33 9h1v1.1h-1zM14 10h1v1.1h-1zM32 10h1v1.1h-1zM14 11h2v1.1h-2zM14 12h2v1.1h-2zM31 12h1v1.1h-1zM14 13h2v1.1h-2zM31 13h1v1.1h-1zM14 14h2v1.1h-2zM14 15h2v1.1h-2zM30 15h1v1.1h-1zM14 16h1v1.1h-1zM29 16h2v1.1h-2zM13 17h2v1.1h-2zM24 17h6v1.1h-6zM13 18h2v1.1h-2zM22 18h2v1.1h-2zM13 19h2v1.1h-2zM19 19h4v1.1h-4zM13 20h3v1.1h-3zM17 20h4v1.1h-4zM13 21h5v1.1h-5zM13 22h4v1.1h-4zM14 23h2v1.1h-2zM32 35h1v1.1h-1z"/><path fill="#7c4a98" d="M11 0h4v1.1h-4zM11 1h5v1.1h-5zM12 2h4v1.1h-4zM13 3h4v1.1h-4zM13 4h4v1.1h-4zM14 5h3v1.1h-3zM14 6h4v1.1h-4zM15 7h3v1.1h-3zM15 8h4v1.1h-4zM15 9h4v1.1h-4zM15 10h4v1.1h-4zM16 11h3v1.1h-3zM31 11h1v1.1h-1zM16 12h4v1.1h-4zM30 12h1v1.1h-1zM16 13h4v1.1h-4zM29 13h2v1.1h-2zM16 14h15v1.1h-15zM16 15h14v1.1h-14zM15 16h14v1.1h-14zM15 17h9v1.1h-9zM15 18h7v1.1h-7zM15 19h4v1.1h-4zM16 20h1v1.1h-1z"/><path fill="#844d96" d="M15 0h7v1.1h-7zM16 1h6v1.1h-6zM16 2h6v1.1h-6zM17 3h5v1.1h-5zM17 4h5v1.1h-5zM17 5h6v1.1h-6zM18 6h5v1.1h-5zM18 7h6v1.1h-6zM19 8h6v1.1h-6zM34 8h1v1.1h-1zM19 9h7v1.1h-7zM32 9h1v1.1h-1zM19 10h13v1.1h-13zM19 11h12v1.1h-12zM20 12h10v1.1h-10zM20 13h9v1.1h-9z"/><path fill="#8b4f94" d="M22 0h2v1.1h-2zM22 1h2v1.1h-2zM22 2h2v1.1h-2zM22 3h2v1.1h-2zM22 4h2v1.1h-2zM23 5h1v1.1h-1zM23 6h2v1.1h-2zM24 7h1v1.1h-1zM25 8h2v1.1h-2zM26 9h3v1.1h-3zM31 9h1v1.1h-1z"/><path fill="#935193" d="M24 0h1v1.1h-1zM24 1h1v1.1h-1zM24 2h1v1.1h-1zM24 3h1v1.1h-1zM24 4h1v1.1h-1zM24 5h1v1.1h-1zM25 6h1v1.1h-1zM41 6h1v1.1h-1zM25 7h2v1.1h-2zM35 7h1v1.1h-1zM39 7h1v1.1h-1zM27 8h1v1.1h-1zM33 8h1v1.1h-1zM29 9h2v1.1h-2z"/><path fill="#9b5491" d="M25 0h1v1.1h-1zM42 0h1v1.1h-1zM25 1h1v1.1h-1zM25 5h1v1.1h-1zM41 5h1v1.1h-1zM40 6h1v1.1h-1zM28 8h1v1.1h-1zM32 8h1v1.1h-1z"/><path fill="#a4568e" d="M26 0h1v1.1h-1zM42 1h1v1.1h-1zM25 2h1v1.1h-1zM42 2h1v1.1h-1zM25 3h1v1.1h-1zM25 4h1v1.1h-1zM41 4h1v1.1h-1zM40 5h1v1.1h-1zM26 6h1v1.1h-1zM37 6h1v1.1h-1zM27 7h1v1.1h-1zM34 7h1v1.1h-1zM29 8h3v1.1h-3z"/><path fill="#b65c82" d="M27 0h1v1.1h-1zM40 0h1v1.1h-1zM26 3h1v1.1h-1zM40 3h1v1.1h-1zM39 4h1v1.1h-1zM37 5h2v1.1h-2zM35 6h1v1.1h-1zM29 7h1v1.1h-1zM33 7h1v1.1h-1z"/><path fill="#c76278" d="M28 0h1v1.1h-1zM39 0h1v1.1h-1zM39 1h1v1.1h-1zM39 2h1v1.1h-1zM27 3h1v1.1h-1zM38 3h1v1.1h-1zM27 4h1v1.1h-1zM37 4h1v1.1h-1zM35 5h1v1.1h-1z"/><path fill="#d4686f" d="M29 0h1v1.1h-1zM37 0h1v1.1h-1zM38 1h1v1.1h-1zM28 2h1v1.1h-1zM28 3h1v1.1h-1zM36 3h1v1.1h-1zM28 4h1v1.1h-1zM35 4h1v1.1h-1zM29 5h1v1.1h-1zM34 5h1v1.1h-1zM30 6h3v1.1h-3z"/><path fill="#da6b6b" d="M30 0h1v1.1h-1zM36 0h1v1.1h-1zM29 1h1v1.1h-1zM37 1h1v1.1h-1zM37 2h1v1.1h-1zM34 4h1v1.1h-1zM33 5h1v1.1h-1z"/><path fill="#e17265" d="M31 0h2v1.1h-2zM34 0h1v1.1h-1zM30 1h1v1.1h-1zM35 1h1v1.1h-1zM30 2h1v1.1h-1zM35 2h1v1.1h-1zM30 3h1v1.1h-1zM34 3h1v1.1h-1zM30 4h4v1.1h-4z"/><path fill="#e47662" d="M33 0h1v1.1h-1zM31 1h1v1.1h-1zM34 1h1v1.1h-1zM31 2h1v1.1h-1zM34 2h1v1.1h-1zM31 3h2v1.1h-2z"/><path fill="#de6f68" d="M35 0h1v1.1h-1zM36 1h1v1.1h-1zM29 2h1v1.1h-1zM36 2h1v1.1h-1zM29 3h1v1.1h-1zM35 3h1v1.1h-1zM29 4h1v1.1h-1zM30 5h3v1.1h-3z"/><path fill="#ce6574" d="M38 0h1v1.1h-1zM28 1h1v1.1h-1zM38 2h1v1.1h-1zM37 3h1v1.1h-1zM36 4h1v1.1h-1zM28 5h1v1.1h-1zM29 6h1v1.1h-1zM33 6h1v1.1h-1z"/><path fill="#ad5988" d="M41 0h1v1.1h-1zM26 1h1v1.1h-1zM41 1h1v1.1h-1zM26 2h1v1.1h-1zM41 2h1v1.1h-1zM41 3h1v1.1h-1zM26 4h1v1.1h-1zM40 4h1v1.1h-1zM26 5h1v1.1h-1zM39 5h1v1.1h-1zM27 6h1v1.1h-1zM36 6h1v1.1h-1zM28 7h1v1.1h-1z"/><path fill="#6244a0" d="M0 1h3v1.1h-3zM3 2h2v1.1h-2zM5 3h1v1.1h-1zM6 4h1v1.1h-1zM7 5h1v1.1h-1zM8 6h1v1.1h-1zM9 7h1v1.1h-1zM9 8h1v1.1h-1zM10 9h1v1.1h-1zM35 9h1v1.1h-1zM10 10h1v1.1h-1zM10 11h1v1.1h-1zM33 11h1v1.1h-1zM10 13h1v1.1h-1zM10 14h1v1.1h-1zM10 15h1v1.1h-1zM32 15h1v1.1h-1zM10 16h1v1.1h-1zM9 17h1v1.1h-1zM9 18h1v1.1h-1zM8 19h1v1.1h-1zM26 19h4v1.1h-4zM8 20h1v1.1h-1zM24 20h1v1.1h-1zM7 21h2v1.1h-2zM23 21h1v1.1h-1zM7 22h1v1.1h-1zM22 22h1v1.1h-1zM8 23h1v1.1h-1zM20 23h2v1.1h-2zM8 24h2v1.1h-2zM9 25h2v1.1h-2zM11 26h1v1.1h-1zM17 26h1v1.1h-1zM12 27h2v1.1h-2zM13 28h2v1.1h-2zM16 28h1v1.1h-1zM14 29h3v1.1h-3zM15 30h2v1.1h-2zM31 36h1v1.1h-1zM1 39h1v1.1h-1z"/><path fill="#c05f7d" d="M27 1h1v1.1h-1zM40 1h1v1.1h-1zM27 2h1v1.1h-1zM40 2h1v1.1h-1zM39 3h1v1.1h-1zM38 4h1v1.1h-1zM27 5h1v1.1h-1zM36 5h1v1.1h-1zM28 6h1v1.1h-1zM34 6h1v1.1h-1zM30 7h3v1.1h-3z"/><path fill="#e87a5e" d="M32 1h2v1.1h-2zM33 2h1v1.1h-1z"/><path fill="#5e42a1" d="M0 2h3v1.1h-3zM3 3h2v1.1h-2zM5 4h1v1.1h-1zM6 5h1v1.1h-1zM7 6h1v1.1h-1zM8 7h1v1.1h-1zM9 9h1v1.1h-1zM9 10h1v1.1h-1zM34 10h1v1.1h-1zM10 12h1v1.1h-1zM33 12h1v1.1h-1zM9 15h1v1.1h-1zM9 16h1v1.1h-1zM32 16h1v1.1h-1zM8 18h1v1.1h-1zM31 18h1v1.1h-1zM7 19h1v1.1h-1zM30 19h1v1.1h-1zM7 20h1v1.1h-1zM25 20h1v1.1h-1zM6 21h1v1.1h-1zM6 22h1v1.1h-1zM6 23h2v1.1h-2zM19 23h1v1.1h-1zM7 24h1v1.1h-1zM18 24h1v1.1h-1zM8 25h1v1.1h-1zM9 26h2v1.1h-2zM11 27h1v1.1h-1zM17 27h1v1.1h-1zM12 28h1v1.1h-1zM17 28h1v1.1h-1zM13 29h1v1.1h-1zM17 29h1v1.1h-1zM13 30h2v1.1h-2zM17 30h1v1.1h-1zM15 31h3v1.1h-3zM31 37h1v1.1h-1zM2 39h1v1.1h-1zM31 39h1v1.1h-1z"/><path fill="#5a41a2" d="M0 3h3v1.1h-3zM3 4h2v1.1h-2zM5 5h1v1.1h-1zM6 6h1v1.1h-1zM7 7h1v1.1h-1zM8 8h1v1.1h-1zM8 9h1v1.1h-1zM36 9h1v1.1h-1zM9 11h1v1.1h-1zM9 12h1v1.1h-1zM9 13h1v1.1h-1zM33 13h1v1.1h-1zM9 14h1v1.1h-1zM33 14h1v1.1h-1zM8 16h1v1.1h-1zM8 17h1v1.1h-1zM32 17h1v1.1h-1zM7 18h1v1.1h-1zM6 20h1v1.1h-1zM26 20h3v1.1h-3zM5 21h1v1.1h-1zM24 21h1v1.1h-1zM5 22h1v1.1h-1zM23 22h1v1.1h-1zM5 23h1v1.1h-1zM22 23h1v1.1h-1zM6 24h1v1.1h-1zM19 24h3v1.1h-3zM7 25h1v1.1h-1zM18 25h1v1.1h-1zM8 26h1v1.1h-1zM10 27h1v1.1h-1zM11 28h1v1.1h-1zM11 29h2v1.1h-2zM12 30h1v1.1h-1zM18 30h1v1.1h-1zM14 31h1v1.1h-1zM18 31h2v1.1h-2zM17 32h2v1.1h-2zM0 38h1v1.1h-1zM31 38h1v1.1h-1zM3 39h1v1.1h-1z"/><path fill="#513da5" d="M0 4h1v1.1h-1zM2 5h2v1.1h-2zM4 6h1v1.1h-1zM5 7h1v1.1h-1zM6 8h1v1.1h-1zM7 9h1v1.1h-1zM7 10h1v1.1h-1zM8 12h1v1.1h-1zM34 12h1v1.1h-1zM8 13h1v1.1h-1zM7 15h1v1.1h-1zM7 16h1v1.1h-1zM33 16h1v1.1h-1zM6 17h1v1.1h-1zM32 18h1v1.1h-1zM5 19h1v1.1h-1zM31 19h1v1.1h-1zM4 20h1v1.1h-1zM30 20h1v1.1h-1zM3 21h1v1.1h-1zM25 21h1v1.1h-1zM2 22h2v1.1h-2zM1 23h3v1.1h-3zM2 24h2v1.1h-2zM22 24h1v1.1h-1zM3 25h2v1.1h-2zM19 25h3v1.1h-3zM5 26h2v1.1h-2zM7 27h1v1.1h-1zM8 28h2v1.1h-2zM9 29h1v1.1h-1zM19 29h1v1.1h-1zM10 30h1v1.1h-1zM20 30h1v1.1h-1zM11 31h1v1.1h-1zM20 31h1v1.1h-1zM14 32h1v1.1h-1zM20 32h1v1.1h-1zM18 33h2v1.1h-2zM2 38h1v1.1h-1zM5 39h1v1.1h-1zM19 39h1v1.1h-1zM30 39h1v1.1h-1z"/><path fill="#563fa4" d="M1 4h2v1.1h-2zM4 5h1v1.1h-1zM5 6h1v1.1h-1zM6 7h1v1.1h-1zM7 8h1v1.1h-1zM8 10h1v1.1h-1zM35 10h1v1.1h-1zM8 11h1v1.1h-1zM34 11h1v1.1h-1zM8 14h1v1.1h-1zM8 15h1v1.1h-1zM33 15h1v1.1h-1zM7 17h1v1.1h-1zM6 18h1v1.1h-1zM6 19h1v1.1h-1zM5 20h1v1.1h-1zM29 20h1v1.1h-1zM4 21h1v1.1h-1zM4 22h1v1.1h-1zM4 23h1v1.1h-1zM4 24h2v1.1h-2zM5 25h2v1.1h-2zM7 26h1v1.1h-1zM18 26h1v1.1h-1zM8 27h2v1.1h-2zM18 27h1v1.1h-1zM10 28h1v1.1h-1zM18 28h1v1.1h-1zM10 29h1v1.1h-1zM18 29h1v1.1h-1zM11 30h1v1.1h-1zM19 30h1v1.1h-1zM12 31h2v1.1h-2zM15 32h2v1.1h-2zM19 32h1v1.1h-1zM0 37h1v1.1h-1zM1 38h1v1.1h-1zM4 39h1v1.1h-1zM20 39h2v1.1h-2z"/><path fill="#4d3ca6" d="M0 5h2v1.1h-2zM2 6h2v1.1h-2zM4 7h1v1.1h-1zM5 8h1v1.1h-1zM6 9h1v1.1h-1zM7 11h1v1.1h-1zM35 11h1v1.1h-1zM7 12h1v1.1h-1zM7 13h1v1.1h-1zM34 13h1v1.1h-1zM7 14h1v1.1h-1zM6 16h1v1.1h-1zM33 17h1v1.1h-1zM5 18h1v1.1h-1zM4 19h1v1.1h-1zM3 20h1v1.1h-1zM0 21h3v1.1h-3zM26 21h1v1.1h-1zM0 22h2v1.1h-2zM24 22h1v1.1h-1zM0 23h1v1.1h-1zM23 23h1v1.1h-1zM0 24h2v1.1h-2zM0 25h3v1.1h-3zM0 26h5v1.1h-5zM19 26h3v1.1h-3zM5 27h2v1.1h-2zM20 27h1v1.1h-1zM7 28h1v1.1h-1zM19 28h2v1.1h-2zM8 29h1v1.1h-1zM20 29h1v1.1h-1zM9 30h1v1.1h-1zM10 31h1v1.1h-1zM13 32h1v1.1h-1zM0 33h1v1.1h-1zM17 33h1v1.1h-1zM20 33h1v1.1h-1zM0 34h1v1.1h-1zM30 34h1v1.1h-1zM0 35h1v1.1h-1zM0 36h1v1.1h-1zM1 37h1v1.1h-1zM3 38h1v1.1h-1zM18 39h1v1.1h-1zM22 39h1v1.1h-1z"/><path fill="#483aa6" d="M0 6h2v1.1h-2zM3 7h1v1.1h-1zM4 8h1v1.1h-1zM5 9h1v1.1h-1zM6 10h1v1.1h-1zM36 10h1v1.1h-1zM6 11h1v1.1h-1zM35 12h1v1.1h-1zM6 14h1v1.1h-1zM34 14h1v1.1h-1zM6 15h1v1.1h-1zM5 16h1v1.1h-1zM5 17h1v1.1h-1zM4 18h1v1.1h-1zM2 19h2v1.1h-2zM0 20h3v1.1h-3zM27 21h3v1.1h-3zM22 25h1v1.1h-1zM0 27h5v1.1h-5zM19 27h1v1.1h-1zM21 27h1v1.1h-1zM0 28h1v1.1h-1zM5 28h2v1.1h-2zM7 29h1v1.1h-1zM8 30h1v1.1h-1zM0 31h1v1.1h-1zM8 31h2v1.1h-2zM0 32h1v1.1h-1zM12 32h1v1.1h-1zM1 33h1v1.1h-1zM16 33h1v1.1h-1zM30 33h1v1.1h-1zM1 34h1v1.1h-1zM1 35h1v1.1h-1zM30 35h1v1.1h-1zM1 36h1v1.1h-1zM2 37h1v1.1h-1zM30 38h1v1.1h-1zM6 39h1v1.1h-1zM17 39h1v1.1h-1z"/><path fill="#c86070" d="M42 6h1v1.1h-1z"/><path fill="#4339a6" d="M0 7h3v1.1h-3zM3 8h1v1.1h-1zM4 9h1v1.1h-1zM5 10h1v1.1h-1zM6 12h1v1.1h-1zM6 13h1v1.1h-1zM5 15h1v1.1h-1zM34 15h1v1.1h-1zM4 17h1v1.1h-1zM2 18h2v1.1h-2zM33 18h1v1.1h-1zM0 19h2v1.1h-2zM32 19h1v1.1h-1zM31 20h1v1.1h-1zM23 24h1v1.1h-1zM1 28h4v1.1h-4zM21 28h1v1.1h-1zM0 29h2v1.1h-2zM5 29h2v1.1h-2zM21 29h1v1.1h-1zM0 30h2v1.1h-2zM6 30h2v1.1h-2zM21 30h1v1.1h-1zM1 31h2v1.1h-2zM6 31h2v1.1h-2zM21 31h1v1.1h-1zM1 32h2v1.1h-2zM10 32h2v1.1h-2zM21 32h1v1.1h-1zM2 33h1v1.1h-1zM2 34h1v1.1h-1zM19 34h2v1.1h-2zM2 36h1v1.1h-1zM30 36h1v1.1h-1zM30 37h1v1.1h-1zM4 38h1v1.1h-1zM20 38h2v1.1h-2zM7 39h1v1.1h-1zM23 39h1v1.1h-1zM29 39h1v1.1h-1z"/><path fill="#d86868" d="M42 7h1v1.1h-1z"/><path fill="#3e38a6" d="M0 8h3v1.1h-3zM3 9h1v1.1h-1zM4 10h1v1.1h-1zM5 11h1v1.1h-1zM5 12h1v1.1h-1zM5 13h1v1.1h-1zM5 14h1v1.1h-1zM4 15h1v1.1h-1zM4 16h1v1.1h-1zM2 17h2v1.1h-2zM0 18h2v1.1h-2zM30 21h1v1.1h-1zM25 22h1v1.1h-1zM24 23h1v1.1h-1zM22 26h1v1.1h-1zM2 29h3v1.1h-3zM2 30h4v1.1h-4zM3 31h3v1.1h-3zM3 32h7v1.1h-7zM30 32h1v1.1h-1zM3 33h2v1.1h-2zM15 33h1v1.1h-1zM21 33h1v1.1h-1zM3 34h1v1.1h-1zM18 34h1v1.1h-1zM2 35h1v1.1h-1zM3 37h1v1.1h-1zM19 38h1v1.1h-1zM16 39h1v1.1h-1z"/><path fill="#3937a6" d="M0 9h3v1.1h-3zM3 10h1v1.1h-1zM4 11h1v1.1h-1zM4 12h1v1.1h-1zM4 13h1v1.1h-1zM4 14h1v1.1h-1zM3 15h1v1.1h-1zM2 16h2v1.1h-2zM0 17h2v1.1h-2zM23 25h1v1.1h-1zM22 27h1v1.1h-1zM5 33h1v1.1h-1zM14 33h1v1.1h-1zM21 34h1v1.1h-1zM3 35h1v1.1h-1zM20 35h1v1.1h-1zM3 36h1v1.1h-1zM5 38h1v1.1h-1zM22 38h1v1.1h-1zM8 39h1v1.1h-1zM24 39h1v1.1h-1zM28 39h1v1.1h-1z"/><path fill="#d86464" d="M42 9h1v1.1h-1zM42 10h1v1.1h-1zM42 11h1v1.1h-1zM42 12h1v1.1h-1z"/><path fill="#3436a4" d="M0 10h3v1.1h-3zM2 11h2v1.1h-2zM3 12h1v1.1h-1zM3 13h1v1.1h-1zM3 14h1v1.1h-1zM0 15h3v1.1h-3zM0 16h2v1.1h-2zM32 20h1v1.1h-1zM31 21h1v1.1h-1zM26 22h4v1.1h-4zM22 28h1v1.1h-1zM6 33h1v1.1h-1zM13 33h1v1.1h-1zM4 34h1v1.1h-1zM17 34h1v1.1h-1zM19 35h1v1.1h-1zM21 35h1v1.1h-1zM4 37h1v1.1h-1zM20 37h2v1.1h-2zM18 38h1v1.1h-1zM29 38h1v1.1h-1zM15 39h1v1.1h-1zM25 39h3v1.1h-3z"/><path fill="#30349e" d="M0 11h2v1.1h-2zM0 12h3v1.1h-3zM0 13h3v1.1h-3zM0 14h3v1.1h-3zM30 22h1v1.1h-1zM24 24h1v1.1h-1zM23 26h1v1.1h-1zM22 29h1v1.1h-1zM22 30h1v1.1h-1zM22 31h1v1.1h-1zM22 32h1v1.1h-1zM7 33h2v1.1h-2zM12 33h1v1.1h-1zM22 33h1v1.1h-1zM5 34h1v1.1h-1zM4 35h1v1.1h-1zM20 36h2v1.1h-2zM19 37h1v1.1h-1zM29 37h1v1.1h-1zM23 38h1v1.1h-1zM9 39h1v1.1h-1zM14 39h1v1.1h-1z"/><path fill="#e87050" d="M41 17h1v1.1h-1zM41 18h2v1.1h-2zM41 19h2v1.1h-2z"/><path fill="#2c3398" d="M31 22h1v1.1h-1zM25 23h1v1.1h-1zM9 33h3v1.1h-3zM29 33h1v1.1h-1zM16 34h1v1.1h-1zM22 34h1v1.1h-1zM29 34h1v1.1h-1zM18 35h1v1.1h-1zM29 35h1v1.1h-1zM4 36h1v1.1h-1zM19 36h1v1.1h-1zM29 36h1v1.1h-1zM22 37h1v1.1h-1zM6 38h1v1.1h-1zM24 38h1v1.1h-1zM28 38h1v1.1h-1zM10 39h4v1.1h-4z"/><path fill="#f89a38" d="M42 22h1v1.1h-1z"/><path fill="#1d2e7a" d="M26 23h1v1.1h-1zM29 24h2v1.1h-2zM24 26h1v1.1h-1zM29 30h1v1.1h-1zM24 31h1v1.1h-1zM24 32h1v1.1h-1zM27 32h2v1.1h-2zM24 33h4v1.1h-4zM14 34h1v1.1h-1zM24 34h4v1.1h-4zM6 35h1v1.1h-1zM24 35h1v1.1h-1zM27 35h1v1.1h-1zM24 36h1v1.1h-1zM26 36h2v1.1h-2zM6 37h1v1.1h-1z"/><path fill="#192d70" d="M27 23h1v1.1h-1zM25 24h1v1.1h-1zM30 25h1v1.1h-1zM24 27h1v1.1h-1zM24 28h1v1.1h-1zM24 29h1v1.1h-1zM29 29h1v1.1h-1zM24 30h1v1.1h-1zM25 31h1v1.1h-1zM28 31h1v1.1h-1zM25 32h2v1.1h-2zM8 34h1v1.1h-1zM25 35h2v1.1h-2zM25 36h1v1.1h-1zM17 37h1v1.1h-1zM8 38h1v1.1h-1z"/><path fill="#24308c" d="M28 23h1v1.1h-1zM30 23h1v1.1h-1zM24 25h1v1.1h-1zM23 28h1v1.1h-1zM23 29h1v1.1h-1zM23 30h1v1.1h-1zM23 31h1v1.1h-1zM29 31h1v1.1h-1zM23 32h1v1.1h-1zM23 33h1v1.1h-1zM15 34h1v1.1h-1zM23 34h1v1.1h-1zM5 35h1v1.1h-1zM18 37h1v1.1h-1zM28 37h1v1.1h-1zM7 38h1v1.1h-1z"/><path fill="#283292" d="M29 23h1v1.1h-1zM31 23h1v1.1h-1zM23 27h1v1.1h-1zM29 32h1v1.1h-1zM6 34h1v1.1h-1zM22 35h1v1.1h-1zM22 36h1v1.1h-1zM5 37h1v1.1h-1zM23 37h1v1.1h-1zM17 38h1v1.1h-1zM25 38h3v1.1h-3z"/><path fill="#f8b440" d="M42 23h1v1.1h-1z"/><path fill="#0c243e" d="M26 24h1v1.1h-1zM28 25h1v1.1h-1zM25 28h1v1.1h-1zM28 28h1v1.1h-1zM8 37h1v1.1h-1zM11 38h2v1.1h-2z"/><path fill="#0a2236" d="M27 24h1v1.1h-1zM26 25h2v1.1h-2zM25 26h4v1.1h-4zM25 27h4v1.1h-4zM26 28h2v1.1h-2zM26 29h2v1.1h-2zM9 35h6v1.1h-6zM8 36h8v1.1h-8zM9 37h7v1.1h-7z"/><path fill="#132a5c" d="M28 24h1v1.1h-1zM29 25h1v1.1h-1zM25 30h1v1.1h-1zM10 34h3v1.1h-3zM7 35h1v1.1h-1z"/><path fill="#f0e048" d="M42 24h1v1.1h-1z"/><path fill="#0f274c" d="M25 25h1v1.1h-1zM15 35h1v1.1h-1zM16 37h1v1.1h-1zM10 38h1v1.1h-1z"/><path fill="#ecec48" d="M42 25h1v1.1h-1z"/><path fill="#112954" d="M29 26h1v1.1h-1zM25 29h1v1.1h-1zM28 29h1v1.1h-1zM26 30h2v1.1h-2zM7 37h1v1.1h-1zM9 38h1v1.1h-1zM14 38h1v1.1h-1z"/><path fill="#e8f048" d="M42 26h1v1.1h-1z"/><path fill="#162c66" d="M28 30h1v1.1h-1zM26 31h2v1.1h-2zM9 34h1v1.1h-1zM13 34h1v1.1h-1zM16 35h1v1.1h-1zM6 36h1v1.1h-1zM17 36h1v1.1h-1zM15 38h1v1.1h-1z"/><path fill="#202f84" d="M28 33h1v1.1h-1zM7 34h1v1.1h-1zM28 34h1v1.1h-1zM17 35h1v1.1h-1zM23 35h1v1.1h-1zM28 35h1v1.1h-1zM5 36h1v1.1h-1zM18 36h1v1.1h-1zM23 36h1v1.1h-1zM28 36h1v1.1h-1zM24 37h4v1.1h-4zM16 38h1v1.1h-1z"/><path fill="#0d2545" d="M8 35h1v1.1h-1zM7 36h1v1.1h-1zM16 36h1v1.1h-1zM13 38h1v1.1h-1z"/></g><use href="#land"/><path d="M151.8 77.4l0.4 2M156.7 77.4l0.5 1.9M161.6 77.4l0.6 1.9M200.7 77.4l2 0.2M151.8 82.5l1 1.7M151.8 87.5l0.5 1.9M195.8 92.6l1.7 1M200.7 92.6l1.9 0.5M205.6 92.6l2 -0M210.5 92.6l1.9 -0.6M298.5 92.6l1.7 1.1M195.8 97.7l1 1.7M200.7 97.7l1.2 1.6M205.6 97.7l2 0.3M210.5 97.7l1.7 -1M200.7 102.8l1.4 1.4M205.6 102.8l1.9 -0.6M195.8 107.8l1.4 1.4M200.7 107.8l2 -0.2M313.2 107.8l1.4 1.4M352.3 107.8l0.5 1.9M357.2 107.8l1.5 1.3M156.7 112.9l-1.9 0.6M161.6 112.9l-1.5 1.3M166.5 112.9l-0.5 1.9M186 112.9l0.8 1.8M190.9 112.9l1.6 1.2M195.8 112.9l2 -0.2M308.3 112.9l2 0.4M313.2 112.9l0.7 1.9M347.4 112.9l0.7 -1.9M156.7 118l-1.4 -1.5M161.6 118l-2 -0.4M166.5 118l-1.5 1.3M171.4 118l-0.6 1.9M176.2 118l-0.3 2M181.1 118l-0.3 2M186 118l1.8 -0.9M190.9 118l1.9 -0.6M239.8 118l-1.4 1.4M244.7 118l-2 0.2M249.6 118l-1.7 1M254.5 118l-0.7 1.9M303.4 118l1.9 -0.7M308.3 118l1 1.7M313.2 118l-0.4 2M318.1 118l-1 1.7M156.7 123l-1.2 -1.6M161.6 123l-1.9 -0.6M166.5 123l-2 0.2M171.4 123l-2 0.2M176.2 123l-1.6 -1.2M181.1 123l0.6 -1.9M186 123l1.8 -1M230 123l0.2 2M234.9 123l1.9 0.6M239.8 123l2 -0.1M244.7 123l2 0.4M249.6 123l0.9 1.8M303.4 123l1.7 -1.1M308.3 123l-1.6 1.2M313.2 123l-1.9 0.5M318.1 123l-1.9 -0.6M156.7 128.1l-1.3 -1.5M161.6 128.1l-1.6 -1.2M166.5 128.1l-1.5 -1.4M171.4 128.1l-0.6 -1.9M176.2 128.1l0.8 -1.8M181.1 128.1l1.8 -0.9M225.2 128.1l1.4 1.4M303.4 128.1l0.9 -1.8M308.3 128.1l-0.3 -2M313.2 128.1l-0.4 -2M151.8 133.2l-0.3 -2M156.7 133.2l-0.7 -1.9M161.6 133.2l-0.4 -2M166.5 133.2l0.5 -1.9M171.4 133.2l1.4 -1.4M176.2 133.2l1.9 -0.6M220.3 133.2l1.9 0.6M151.8 138.2l0.5 -1.9M156.7 138.2l0.9 -1.8M161.6 138.2l1.5 -1.4M166.5 138.2l1.9 -0.7M171.4 138.2l2 -0.1M210.5 138.2l-1.7 1.1M215.4 138.2l-0.2 -2M220.3 138.2l1.9 -0.8M259.4 138.2l2 0.4M264.3 138.2l1.8 0.9M151.8 143.3l1.8 -0.9M156.7 143.3l2 -0.3M161.6 143.3l2 0.1M166.5 143.3l2 0.3M210.5 143.3l-1.7 -1M215.4 143.3l-0.7 -1.9M220.3 143.3l0.5 -1.9M225.2 143.3l2 -0.1M230 143.3l1.8 1M234.9 143.3l1.9 0.8M239.8 143.3l2 0.3M244.7 143.3l2 -0M254.5 143.3l2 -0.4M259.4 143.3l2 -0.2M264.3 143.3l0.5 1.9M151.8 148.4l1.9 0.7M156.7 148.4l1.9 0.7M161.6 148.4l1.9 0.5M215.4 148.4l-2 -0.4M220.3 148.4l-2 -0M225.2 148.4l-2 0M230 148.4l0.4 -2M234.9 148.4l1.7 -1M239.8 148.4l1.9 -0.7M244.7 148.4l1.9 -0.7M249.6 148.4l1.7 -1M254.5 148.4l0.7 -1.9M259.4 148.4l-1.7 1M264.3 148.4l-0.4 2M151.8 153.5l1.6 1.1M220.3 153.5l-2 0.2M225.2 153.5l-1.7 -1.1M230 153.5l0.2 -2M234.9 153.5l1.3 -1.5M239.8 153.5l1.5 -1.3M244.7 153.5l1.1 -1.7M249.6 153.5l-0.8 -1.8M254.5 153.5l-2 0.3M259.4 153.5l-1.1 1.6M220.3 158.5l-2 -0.4M225.2 158.5l-1 -1.7M230 158.5l0.3 -2M234.9 158.5l0.7 -1.9M239.8 158.5l-0.1 -2M244.7 158.5l-1.7 -1.1M249.6 158.5l-1.9 0.6M254.5 158.5l-1.3 1.6M215.4 163.6l-1.9 0.6M220.3 163.6l-1.8 -0.8M225.2 163.6l-1.1 -1.7M230 163.6l-0.9 -1.8M234.9 163.6l-1.7 -1.1M239.8 163.6l-2 0.4M244.7 163.6l-1.5 1.4M210.5 168.7l-1.2 1.6M215.4 168.7l-1.8 0.9M220.3 168.7l-2 0.4M225.2 168.7l-1.9 0.7M230 168.7l-1.4 1.4M234.9 168.7l-0.9 1.8M318.1 168.7l0.3 -2M210.5 173.7l-0.4 1.9M215.4 173.7l-0.6 1.9M220.3 173.7l-0.3 2M308.3 173.7l-0.4 -2M313.2 173.7l-0.8 -1.8M288.7 178.8l0.1 -2M293.6 178.8l-0 -2M298.5 178.8l-0.5 -1.9M303.4 178.8l-1.2 -1.6M308.3 178.8l-1.7 -1M313.2 178.8l-1.9 -0.6M283.8 183.9l0.6 -1.9M288.7 183.9l0.1 -2M293.6 183.9l-1.4 -1.4M298.5 183.9l-2 -0.3M303.4 183.9l-2 0.3M308.3 183.9l-1.9 0.6M278.9 188.9l1 -1.7M283.8 188.9l0.2 -2M288.7 188.9l-2 0M293.6 188.9l-1.6 1.2M303.4 188.9l-1.3 1.5M308.3 188.9l-1.7 1.1M161.6 194l-0.3 -2M166.5 194l0.4 -2M274.1 194l1.4 -1.4M278.9 194l0.4 -2M283.8 194l-2 0.3M303.4 194l-1.2 1.6M308.3 194l-1.9 0.7M156.7 199.1l-1.2 -1.6M161.6 199.1l-0.7 -1.9M166.5 199.1l0.2 -2M171.4 199.1l0.9 -1.8M181.1 199.1l1.3 -1.5M186 199.1l1.2 -1.6M190.9 199.1l1.2 -1.6M195.8 199.1l1.3 -1.5M200.7 199.1l1.4 -1.4M274.1 199.1l0.8 -1.8M278.9 199.1l-2 -0.3M283.8 199.1l-1.2 1.6M303.4 199.1l-1.7 1.1M161.6 204.2l-0.4 -2M166.5 204.2l-0.1 -2M171.4 204.2l-0.2 -2M176.2 204.2l-0.7 -1.9M181.1 204.2l-1.5 -1.3M186 204.2l-2 -0.4M190.9 204.2l-2 -0.1M195.8 204.2l-1.7 -1.1M200.7 204.2l0 -2M269.2 204.2l1.4 -1.4M274.1 204.2l-1.7 -1.1M278.9 204.2l-1.5 1.3M303.4 204.2l-2 0.3M156.7 209.2l-0.2 -2M161.6 209.2l-0.4 -2M166.5 209.2l-1 -1.7M171.4 209.2l-1.7 -1.1M176.2 209.2l-2 -0.1M181.1 209.2l-1.9 0.6M186 209.2l-1.9 0.6M190.9 209.2l-2 -0.1M195.8 209.2l-1.4 -1.4M200.7 209.2l0.1 -2M264.3 209.2l1.8 -0.9M269.2 209.2l0 -2M274.1 209.2l-1.9 0.5M278.9 209.2l-1.5 1.4M283.8 209.2l-1 1.7M293.6 209.2l-1 1.8M298.5 209.2l-1.7 1.1M151.8 214.3l0.6 -1.9M156.7 214.3l-0.1 -2M161.6 214.3l-1.1 -1.7M166.5 214.3l-1.8 -0.8M171.4 214.3l-2 0.3M176.2 214.3l-1.8 0.8M181.1 214.3l-1.9 0.7M186 214.3l-2 -0.1M190.9 214.3l-1.7 -1.1M215.4 214.3l0.3 -2M220.3 214.3l0.6 -1.9M225.2 214.3l1.4 -1.5M264.3 214.3l1.6 -1.2M269.2 214.3l0.4 -2M274.1 214.3l-1 -1.7M278.9 214.3l-1.5 -1.3M283.8 214.3l-0.7 1.9M288.7 214.3l-0.2 2M293.6 214.3l-0.9 1.8M298.5 214.3l-1.8 0.8M151.8 219.4l0.6 -1.9M156.7 219.4l-0.7 -1.9M161.6 219.4l-1.8 -0.9M166.5 219.4l-2 0.1M171.4 219.4l-1.9 0.6M176.2 219.4l-2 0.4M181.1 219.4l-2 -0.4M210.5 219.4l-1.1 -1.7M215.4 219.4l-0.6 -1.9M264.3 219.4l1.8 -1M269.2 219.4l1.6 -1.2M274.1 219.4l1.6 -1.2M278.9 219.4l1.8 -1M283.8 219.4l1.9 -0.5M288.7 219.4l2 0.4M293.6 219.4l-1.2 1.6M151.8 224.4l-0 -2M156.7 224.4l-1.4 -1.4M161.6 224.4l-1.9 -0.6M166.5 224.4l-2 -0.2M171.4 224.4l-1.9 -0.5M288.7 224.4l1.9 -0.7M293.6 224.4l-1.7 1.1M151.8 229.5l-0.5 -1.9M156.7 229.5l-1.3 -1.5M161.6 229.5l-1.5 -1.3M166.5 229.5l-1.3 -1.5M293.6 229.5l1.5 -1.4M298.5 229.5l0.8 -1.8M151.8 234.6l0.1 -2M156.7 234.6l-0.1 -2M239.8 249.8l1.7 1.1M244.7 249.8l1.7 1M249.6 249.8l1.5 1.4M230 254.9l1.5 1.4M234.9 254.9l1.9 0.5M239.8 254.9l2 0.2M244.7 254.9l1.7 1.1M249.6 254.9l1.1 1.6M264.3 254.9l0.5 1.9M269.2 254.9l-0 2M274.1 254.9l-0.6 1.9M278.9 254.9l-0.5 1.9M225.2 259.9l1.7 1.1M230 259.9l2 0.1M234.9 259.9l2 -0.1M239.8 259.9l2 0.4M244.7 259.9l1.8 0.9M249.6 259.9l1.7 1.1M254.5 259.9l1.9 0.6M259.4 259.9l1.5 -1.3M264.3 259.9l0.9 -1.8M269.2 259.9l0.6 -1.9M274.1 259.9l-0 -2M278.9 259.9l-0.4 2M220.3 265l1.5 1.3M225.2 265l1.9 0.7M230 265l1.9 0.5M234.9 265l1.9 0.6M239.8 265l1.9 0.5M244.7 265l2 -0.3M274.1 265l1.5 -1.3M278.9 265l0.8 1.8M313.2 265l1.4 1.5M186 270.1l0.4 -2M190.9 270.1l1.1 -1.7M215.4 270.1l1 1.7M220.3 270.1l1 1.7M225.2 270.1l1.1 1.6M230 270.1l1.3 1.6M234.9 270.1l1.7 1.1M239.8 270.1l1.6 -1.2M269.2 270.1l1 -1.7M274.1 270.1l0.9 1.8M298.5 270.1l0.9 1.8M303.4 270.1l1 1.7M308.3 270.1l1.4 1.5M176.2 275.1l-0.6 -1.9M181.1 275.1l-0.6 -1.9M186 275.1l0.2 -2M190.9 275.1l1.4 -1.4M225.2 275.1l0 2M230 275.1l-0.9 1.8M234.9 275.1l-1.5 -1.3M264.3 275.1l-0.3 -2M269.2 275.1l-1.8 1M274.1 275.1l-0.3 2M278.9 275.1l0.1 2M283.8 275.1l0.2 2M288.7 275.1l0.1 2M293.6 275.1l0.2 2M298.5 275.1l0.7 1.9M303.4 275.1l1.4 1.5" stroke="#5c90c2" stroke-width="0.8" stroke-opacity="0.6" fill="none"/><path d="M166.5 77.4l0.7 1.9M308.3 77.4l2 0.1M362.1 77.4l0.4 2.1M156.7 82.5l1 1.7M298.5 87.5l1.9 -0.6M151.8 92.6l-0.2 2M190.9 92.6l1.3 1.5M215.4 92.6l1.9 -0.7M239.8 92.6l1.2 2M293.6 92.6l1.7 -1.1M190.9 97.7l1 1.7M215.4 97.7l1.9 -0.6M220.3 97.7l2.3 0.4M225.2 97.7l1.7 1.4M230 97.7l0.9 1.8M234.9 97.7l0.5 1.9M239.8 97.7l0.8 2.1M293.6 97.7l2 -0.1M298.5 97.7l1.9 1.3M195.8 102.8l0.9 1.8M210.5 102.8l2 -0.4M220.3 102.8l1.7 1.6M225.2 102.8l0.9 1.9M230 102.8l0.7 2.1M357.2 102.8l0.4 2M190.9 107.8l1 1.8M205.6 107.8l2.4 -0M308.3 107.8l2 0.4M318.1 107.8l0.6 1.9M151.8 112.9l-1.9 0.5M171.4 112.9l0.2 2M176.2 112.9l0.6 2.1M181.1 112.9l0.7 2M244.7 112.9l-1.4 1.5M249.6 112.9l-1.7 1M254.5 112.9l-1.6 1.2M259.4 112.9l-0.7 2.1M303.4 112.9l2.3 -0.4M318.1 112.9l0.1 2M322.9 112.9l-0.3 2.2M151.8 118l-1 -1.7M234.9 118l-0.6 1.9M322.9 118l-1.7 1M327.8 118l-2 -0.2M337.6 118l-0.7 -1.9M151.8 123l-0.2 -2M190.9 123l2 0M298.5 123l1.8 -0.9M322.9 123l-1.4 -1.5M327.8 123l-0.7 -1.9M332.7 123l-0.3 -2.1M151.8 128.1l-0.3 -2M186 128.1l2 0M190.9 128.1l2 0.6M230 128.1l2.1 0.2M244.7 128.1l1.7 1.1M298.5 128.1l1.7 -1.1M318.1 128.1l-0.1 -2M181.1 133.2l2 0.1M186 133.2l2 0.4M190.9 133.2l2.2 0.7M215.4 133.2l-0.6 1.9M225.2 133.2l2.2 0M259.4 133.2l1.8 1.3M264.3 133.2l1.9 1.3M298.5 133.2l1.7 -1.4M303.4 133.2l1.2 -1.6M176.2 138.2l2 0.1M181.1 138.2l2 0.1M186 138.2l2 0.2M225.2 138.2l2 -0.2M230 138.2l2 0.4M234.9 138.2l1.8 0.9M239.8 138.2l1.7 1.1M244.7 138.2l1.8 1M249.6 138.2l1.9 0.7M254.5 138.2l2 0.4M269.2 138.2l1.3 1.5M171.4 143.3l2 0.1M176.2 143.3l2 -0.2M181.1 143.3l2 -0.2M205.6 143.3l-1.9 0.5M249.6 143.3l2 -0.2M269.2 143.3l0.8 1.8M166.5 148.4l2 -0M171.4 148.4l1.9 -0.5M176.2 148.4l2 -0.6M205.6 148.4l-2 -0.2M210.5 148.4l-1.9 -0.5M269.2 148.4l0.7 1.9M322.9 148.4l-0.2 -2.3M156.7 153.5l1.9 0.5M161.6 153.5l2 -0.2M166.5 153.5l1.8 -0.8M171.4 153.5l2 -0.9M205.6 153.5l-2.2 0.8M210.5 153.5l-1.9 0.8M215.4 153.5l-1.9 0.7M264.3 153.5l-0.2 2M269.2 153.5l0.5 1.9M274.1 153.5l0.9 2.1M318.1 153.5l-0.1 -2.3M322.9 153.5l1 -1.7M151.8 158.5l1.9 0.5M156.7 158.5l1.9 -0.5M161.6 158.5l1.7 -1M166.5 158.5l2 -1.2M205.6 158.5l-1.2 1.9M210.5 158.5l-1.3 1.5M215.4 158.5l-1.8 0.9M259.4 158.5l-0.7 1.9M264.3 158.5l-0.3 2M269.2 158.5l-0.1 2.2M313.2 158.5l-0.1 -2.2M318.1 158.5l0.9 -1.8M151.8 163.6l1.9 -0.7M156.7 163.6l1.7 -1.3M200.7 163.6l0.4 2.3M205.6 163.6l-0.2 2M210.5 163.6l-1.2 1.6M249.6 163.6l-1 1.8M254.5 163.6l-0.7 1.9M259.4 163.6l-0.7 1.9M264.3 163.6l-0.7 2.3M303.4 163.6l-0.8 -2.1M308.3 163.6l-0.1 -2M313.2 163.6l0.6 -1.9M318.1 163.6l1.2 -1.6M151.8 168.7l1.7 -1.5M195.8 168.7l1.9 1.4M200.7 168.7l1 1.8M205.6 168.7l-0.1 2M239.8 168.7l-0.5 1.9M244.7 168.7l-0.3 2M249.6 168.7l-0.4 2.1M254.5 168.7l-0.7 2.2M288.7 168.7l-0.3 -2.2M293.6 168.7l-0.7 -1.9M298.5 168.7l-0.5 -1.9M303.4 168.7l-0.1 -2M308.3 168.7l0.3 -2M313.2 168.7l0.5 -1.9M195.8 173.7l2.2 0.9M200.7 173.7l1.1 1.6M205.6 173.7l0.2 2M225.2 173.7l0.1 2M230 173.7l0.4 2.3M283.8 173.7l-0.1 -2M288.7 173.7l-0.5 -1.9M293.6 173.7l-0.3 -2M298.5 173.7l-0 -2M303.4 173.7l-0 -2M205.6 178.8l1.2 1.8M210.5 178.8l1.2 2M274.1 178.8l1 -2.1M278.9 178.8l0.2 -2M283.8 178.8l-0 -2M269.2 183.9l1.2 -1.8M274.1 183.9l0.7 -1.9M278.9 183.9l0.6 -1.9M166.5 188.9l0.6 -1.9M171.4 188.9l1.1 -1.7M264.3 188.9l1.7 -1.3M269.2 188.9l1.4 -1.5M274.1 188.9l1.2 -1.6M298.5 188.9l-1.3 1.5M156.7 194l-0.3 -2M171.4 194l1.2 -1.6M269.2 194l1.7 -1M288.7 194l-1.1 1.6M298.5 194l-0.8 1.9M151.8 199.1l-1 -1.7M176.2 199.1l1.2 -1.6M205.6 199.1l1.7 -1M269.2 199.1l1.8 -0.9M298.5 199.1l-0.9 1.9M151.8 204.2l-1.1 -1.7M156.7 204.2l-0.8 -1.8M205.6 204.2l1.4 -1.4M264.3 204.2l1.9 -0.5M283.8 204.2l-0.8 1.8M298.5 204.2l-1.3 1.5M151.8 209.2l-0.3 -2M205.6 209.2l1.2 -1.6M220.3 209.2l1.9 -1.1M225.2 209.2l1.8 -1M230 209.2l1.9 -0.7M288.7 209.2l-0.8 1.8M195.8 214.3l-0.7 -1.9M200.7 214.3l0.1 -2M205.6 214.3l0.4 -2M210.5 214.3l0.4 -2M259.4 214.3l1.9 -0.5M186 219.4l-1.6 -1.2M190.9 219.4l-1 -1.7M195.8 219.4l-0.7 -1.9M200.7 219.4l-0.7 -1.9M205.6 219.4l-1 -1.7M220.3 219.4l0.8 -1.8M259.4 219.4l1.9 -0.7M176.2 224.4l-1.7 -1M181.1 224.4l-1.3 -1.5M186 224.4l-1 -1.7M190.9 224.4l-1.1 -1.7M195.8 224.4l-1.3 -1.5M200.7 224.4l-1.6 -1.2M205.6 224.4l-1.6 -1.2M210.5 224.4l-0.8 -1.8M215.4 224.4l0.7 -1.9M283.8 224.4l2.1 -0.6M171.4 229.5l-1 -1.7M176.2 229.5l-0.8 -1.8M181.1 229.5l-0.8 -1.8M186 229.5l-1.2 -1.6M190.9 229.5l-1.6 -1.2M195.8 229.5l-1.8 -0.8M200.7 229.5l-1.7 -1.1M205.6 229.5l-0.7 -1.9M288.7 229.5l1.8 -0.9M161.6 234.6l0 -2M166.5 234.6l0.1 -2M171.4 234.6l-0 -2M176.2 234.6l-0.6 -2.1M181.1 234.6l-1.3 -1.6M186 234.6l-1.7 -1M190.9 234.6l-1.9 -0.8M195.8 234.6l-1.6 -1.2M200.7 234.6l-0.3 -2M151.8 239.6l1.5 -1.3M156.7 239.6l1.4 -1.4M161.6 239.6l1.3 -1.6M166.5 239.6l0.9 -2.2M176.2 239.6l-1.3 -1.9M181.1 239.6l-1.7 -1.2M186 239.6l-1.8 -1M190.9 239.6l-1.3 -1.5M195.8 239.6l0 -2.3M151.8 244.7l2 0M156.7 244.7l2.1 -0.6M181.1 244.7l-1.7 -1.5M186 244.7l-1 -2M249.6 244.7l1.9 1.3M151.8 249.8l2.2 0.7M234.9 249.8l1.5 1.3M254.5 249.8l1.3 1.6M225.2 254.9l1.4 1.5M254.5 254.9l0.9 1.8M259.4 254.9l0.8 1.8M283.8 254.9l0.2 2M186 259.9l1.9 -1.3M190.9 259.9l1.7 -1.3M195.8 259.9l1.7 -1.2M200.7 259.9l2 -1M220.3 259.9l1.4 1.4M283.8 259.9l0.6 2M308.3 259.9l1.7 1M313.2 259.9l1.5 1.3M176.2 265l1.8 -1.5M181.1 265l1.3 -1.5M186 265l1.1 -1.6M190.9 265l1.2 -1.6M195.8 265l1.6 -1.2M200.7 265l2.2 -0.6M215.4 265l1.4 1.4M249.6 265l1.6 -1.2M269.2 265l1.2 -1.6M298.5 265l1.7 1.5M303.4 265l1.3 1.5M308.3 265l1.3 1.6M166.5 270.1l1.9 -1.3M171.4 270.1l1.3 -1.5M176.2 270.1l0.8 -1.8M181.1 270.1l0.4 -2M195.8 270.1l1.8 -0.9M200.7 270.1l2.1 0.2M205.6 270.1l1.8 1.1M210.5 270.1l1.2 1.6M244.7 270.1l1.4 -1.7M278.9 270.1l0.9 1.8M283.8 270.1l1.2 1.7M288.7 270.1l1.2 1.6M293.6 270.1l1.1 1.7M313.2 270.1l1.8 0.9M161.6 275.1l1.7 -1.3M166.5 275.1l0.9 -1.8M171.4 275.1l0 -2M195.8 275.1l2 -0.2M200.7 275.1l1.8 0.9M205.6 275.1l1.2 1.6M210.5 275.1l0.8 1.8M215.4 275.1l0.6 1.9M220.3 275.1l0.4 2M239.8 275.1l0.3 -2M308.3 275.1l1.9 0.6M313.2 275.1l2 -0.4M318.1 275.1l1.8 -1" stroke="#74add1" stroke-width="0.8" stroke-opacity="0.6" fill="none"/><path d="M240.8 94.2l0.3 0.4M226.4 98.7l0.4 0.3M300 98.7l0.4 0.3M221.6 104l0.4 0.3M260.8 134.2l0.4 0.3M265.7 134.2l0.4 0.3M299.8 132.1l0.4 -0.3M274.8 155.1l0.2 0.5M168 157.6l0.4 -0.3M204.7 160l-0.3 0.4M153.1 167.5l0.4 -0.3M197.3 169.8l0.4 0.3M197.5 174.5l0.5 0.2M206.6 180.2l0.3 0.4M211.4 180.3l0.3 0.4M274.8 177.1l0.2 -0.5M265.6 187.9l0.4 -0.3M221.8 208.3l0.4 -0.3M167.1 237.9l0.2 -0.5M175.3 238.1l-0.3 -0.4M179.8 243.5l-0.4 -0.3M185.3 243.1l-0.2 -0.4M251.1 245.7l0.4 0.3M187.5 258.9l0.4 -0.3M177.6 263.8l0.4 -0.3M299.8 266.2l0.4 0.3M168 269l0.4 -0.3M245.8 268.7l0.3 -0.4M162.9 274.2l0.4 -0.3" stroke="#74add1" stroke-width="1.4" stroke-opacity="0.65" fill="none"/><path d="M171.4 77.4l1.3 2.9M195.8 77.4l1.1 2.2M205.6 77.4l2.3 -1.5M254.5 77.4l2.4 2.1M259.4 77.4l2.5 2.4M303.4 77.4l2.8 -1.2M313.2 77.4l1.9 1.9M161.6 82.5l2 3M195.8 82.5l2.7 1.8M200.7 82.5l3.2 -0.3M303.4 82.5l2.5 -0M156.7 87.5l1.3 2.9M195.8 87.5l2.5 0.8M200.7 87.5l3.2 -0.2M303.4 87.5l1.7 1.7M220.3 92.6l3.1 -0.6M230 92.6l2.8 1.6M234.9 92.6l1.7 2M244.7 92.6l1.5 2.3M249.6 92.6l2.5 2.5M186 97.7l1.2 2.6M244.7 97.7l1.4 2.3M249.6 97.7l2.1 2.2M254.5 97.7l2.6 2.1M259.4 97.7l2.8 2.3M288.7 97.7l3.1 -1.7M186 102.8l1.6 3.1M190.9 102.8l1.3 2.5M215.4 102.8l2.3 0.6M234.9 102.8l0.8 2.4M239.8 102.8l1.2 2.5M244.7 102.8l1.4 2.7M249.6 102.8l1.2 2.9M254.5 102.8l0.7 3.2M259.4 102.8l0.4 3.2M264.3 102.8l0.9 3.2M288.7 102.8l3.3 -1M293.6 102.8l3.1 0.1M298.5 102.8l3.2 0.8M303.4 102.8l3 1.1M308.3 102.8l2.5 1.4M313.2 102.8l1.9 1.8M318.1 102.8l1.3 2.6M352.3 102.8l-1.4 3.3M151.8 107.8l-0.7 3.2M156.7 107.8l-0.4 3.2M161.6 107.8l-0.2 2.8M166.5 107.8l0.2 2.5M171.4 107.8l0.7 2.6M176.2 107.8l1.2 3M186 107.8l1.5 3M210.5 107.8l2.9 1.1M215.4 107.8l2.3 2M220.3 107.8l1.6 2.5M225.2 107.8l1.3 2.7M230 107.8l1.3 3M234.9 107.8l1.3 3.2M239.8 107.8l0.8 3.4M244.7 107.8l-0.1 3.3M249.6 107.8l-1.1 2.9M254.5 107.8l-1.4 2.4M259.4 107.8l-1.1 2.4M264.3 107.8l0.3 3M303.4 107.8l3.4 0M322.9 107.8l0.4 3.1M200.7 112.9l2.8 0.1M205.6 112.9l3.3 1.4M239.8 112.9l-0.9 2.9M264.3 112.9l1.3 3.2M327.8 112.9l-1.2 2.2M195.8 118l2.5 0.1M200.7 118l3.1 1.3M259.4 118l0.6 2.9M298.5 118l3 -0.9M195.8 123l2.5 1M200.7 123l2.9 1.9M254.5 123l0.9 2.4M195.8 128.1l2.5 1.3M220.3 128.1l0 2.6M234.9 128.1l3.1 0.2M239.8 128.1l2.4 0.5M249.6 128.1l1.6 2.1M254.5 128.1l2.1 2.9M322.9 128.1l0.1 -2.4M327.8 128.1l0.1 -2.6M332.7 128.1l-0.2 -2.5M195.8 133.2l2.8 1.4M230 133.2l3.3 0.3M234.9 133.2l3 0.7M239.8 133.2l2.2 1.2M244.7 133.2l2 1.7M249.6 133.2l1.9 1.8M254.5 133.2l1.9 1.6M269.2 133.2l2.2 1.8M293.6 133.2l3.1 -1.4M308.3 133.2l1.2 -2.1M313.2 133.2l1.3 -2.4M318.1 133.2l1 -2.6M322.9 133.2l0.4 -2.7M327.8 133.2l-0.3 -2.6M190.9 138.2l2.5 0.8M195.8 138.2l2.5 2.2M205.6 138.2l-1.1 3M308.3 138.2l2.6 -2.3M313.2 138.2l1.6 -2.7M318.1 138.2l0.5 -2.8M322.9 138.2l-0.5 -2.6M327.8 138.2l-0.8 -2.4M186 143.3l2.4 0.4M190.9 143.3l2.3 1.8M195.8 143.3l0.7 3.2M200.7 143.3l-1.6 2.5M274.1 143.3l2.3 2.2M308.3 143.3l1.9 -2.6M313.2 143.3l0.3 -2.8M318.1 143.3l-0.7 -2.5M322.9 143.3l-0.9 -2.3M181.1 148.4l2.4 0M186 148.4l2.3 1.5M190.9 148.4l0.7 3M195.8 148.4l-1.6 2.5M200.7 148.4l-2.5 0.9M274.1 148.4l1.7 1.8M278.9 148.4l2.4 1.6M283.8 148.4l2.9 1.4M288.7 148.4l3.3 1.1M293.6 148.4l3.5 0.2M298.5 148.4l3.2 -1.2M303.4 148.4l1.8 -2.6M308.3 148.4l0.1 -2.9M313.2 148.4l-1 -2.5M318.1 148.4l-1 -2.3M176.2 153.5l2.5 -0.3M181.1 153.5l2.5 1.3M186 153.5l1 2.8M190.9 153.5l-1.1 2.8M195.8 153.5l-2.3 1.8M200.7 153.5l-2.4 1M278.9 153.5l1.4 2.2M283.8 153.5l2.1 2M288.7 153.5l3 1.1M293.6 153.5l3.1 -0.8M298.5 153.5l1.7 -2.5M303.4 153.5l-0.2 -2.9M308.3 153.5l-1.1 -2.5M313.2 153.5l-1 -2.3M171.4 158.5l2.6 -0.5M176.2 158.5l2.6 1.1M181.1 158.5l1.5 2.6M186 158.5l-0.1 3M190.9 158.5l-1.1 2.8M195.8 158.5l-1.4 2.4M200.7 158.5l-1.3 2.2M274.1 158.5l0.3 2.5M278.9 158.5l1.3 2.5M283.8 158.5l2.7 1.6M288.7 158.5l3 -0.7M293.6 158.5l1.5 -2.5M298.5 158.5l-0.3 -2.8M303.4 158.5l-1.2 -2.4M308.3 158.5l-1 -2.2M161.6 163.6l2 -1.4M166.5 163.6l2.6 -0.7M171.4 163.6l2.8 0.8M176.2 163.6l2.1 2.1M181.1 163.6l1.2 2.8M186 163.6l0.8 2.9M190.9 163.6l0.7 2.7M195.8 163.6l0.7 2.5M269.2 163.6l-0.3 2.7M274.1 163.6l0.9 2.9M278.9 163.6l2.7 1.7M283.8 163.6l3 -0.8M288.7 163.6l1.3 -2.4M293.6 163.6l-0.4 -2.5M298.5 163.6l-1 -2.2M156.7 168.7l2.1 -1.5M161.6 168.7l2.7 -0.8M166.5 168.7l3 0.4M171.4 168.7l2.8 1.4M176.2 168.7l2.5 1.8M181.1 168.7l2.5 1.7M186 168.7l2.5 1.3M190.9 168.7l2.3 1.2M259.4 168.7l-0.8 2.5M264.3 168.7l-0.4 3M269.2 168.7l1.2 3.2M274.1 168.7l3 1.6M278.9 168.7l2.9 -1M283.8 168.7l1.1 -2.4M151.8 173.7l2.4 -1.5M156.7 173.7l3 -0.9M161.6 173.7l3.3 -0.1M166.5 173.7l3.4 0.4M171.4 173.7l3.4 0.2M176.2 173.7l3.3 -0.4M181.1 173.7l3 -0.9M186 173.7l2.7 -0.8M190.9 173.7l2.6 -0.1M234.9 173.7l0.7 2.8M239.8 173.7l0.6 3.1M244.7 173.7l0.2 3.1M249.6 173.7l-0.3 3M254.5 173.7l-0.5 3.2M274.1 173.7l2.8 -1.4M278.9 173.7l1 -2.3M151.8 178.8l3.5 -0.9M176.2 178.8l2.3 -2.4M181.1 178.8l2.2 -2.1M186 178.8l2.8 -1.5M190.9 178.8l3.2 -0.3M195.8 178.8l2.8 1.1M200.7 178.8l1.9 1.7M215.4 178.8l1.5 2.3M220.3 178.8l2 2.8M269.2 178.8l2.8 -1.5M166.5 183.9l2 -2.9M171.4 183.9l1.4 -2.5M176.2 183.9l1.7 -2.2M181.1 183.9l2.8 -2.1M264.3 183.9l2.8 -1.4M156.7 188.9l1.9 -3M161.6 188.9l0.7 -2.3M176.2 188.9l2.2 -2M259.4 188.9l3 -1.1M151.8 194l0.5 -2.6M176.2 194l2.2 -1.7M181.1 194l3.1 -1.6M190.9 194l3.3 -1.2M195.8 194l2.8 -1.1M200.7 194l2.5 -0.9M205.6 194l2.8 -0.8M254.5 194l3.5 -0.7M259.4 194l2.7 -0.9M264.3 194l2.2 -0.9M293.6 194l-0.9 2.3M210.5 199.1l3.2 -0.7M259.4 199.1l3.5 -0.3M264.3 199.1l2.6 -0.5M288.7 199.1l-0.8 2.7M293.6 199.1l-0.8 3.1M210.5 204.2l2.9 -0.9M259.4 204.2l3.5 0.1M288.7 204.2l-0.8 2.7M293.6 204.2l-1 2.5M210.5 209.2l2 -1.4M215.4 209.2l2.2 -1.3M234.9 209.2l3 -0.6M259.4 209.2l2.5 -0.2M230 214.3l2.5 -1M254.5 214.3l3.1 0M225.2 219.4l2.6 -1.5M254.5 219.4l2.4 -0.4M220.3 224.4l3.1 -1.8M254.5 224.4l3.3 -0.5M259.4 224.4l3.2 -0.5M264.3 224.4l3.3 -0.5M269.2 224.4l3.5 -0.4M274.1 224.4l3.5 -0.4M278.9 224.4l3.2 -0.6M210.5 229.5l1.2 -2.3M205.6 234.6l1.8 -2.6M171.4 239.6l-0.2 -2.4M200.7 239.6l2.3 -2.6M161.6 244.7l1.8 -1.8M166.5 244.7l0.5 -2.6M171.4 244.7l-1 -2.4M176.2 244.7l-1.8 -1.7M190.9 244.7l0.5 -2.6M195.8 244.7l2.5 -2.3M239.8 244.7l2.9 1.9M244.7 244.7l2.1 1.4M254.5 244.7l2.3 1.9M156.7 249.8l2.4 -0.9M161.6 249.8l1.3 -2.5M166.5 249.8l-0.5 -2.8M171.4 249.8l-1.4 -2.4M176.2 249.8l-1.3 -2.3M181.1 249.8l-0.4 -2.6M186 249.8l1.1 -2.6M190.9 249.8l2.4 -2M195.8 249.8l3.1 -1.1M200.7 249.8l3.2 -0.7M205.6 249.8l3.3 -0.5M210.5 249.8l3.4 -0.3M215.4 249.8l3.6 0M225.2 249.8l3.2 1.6M230 249.8l2 1.6M259.4 249.8l2.3 2.8M151.8 254.9l2.7 0.1M156.7 254.9l2 -2M161.6 254.9l0.4 -2.9M166.5 254.9l-0.5 -2.9M171.4 254.9l-0.4 -2.8M176.2 254.9l0.5 -2.8M181.1 254.9l1.6 -2.3M186 254.9l2.2 -1.7M190.9 254.9l2.5 -1.2M195.8 254.9l2.4 -1M200.7 254.9l2.4 -0.9M205.6 254.9l2.5 -0.7M210.5 254.9l2.9 -0.2M215.4 254.9l3 0.7M220.3 254.9l2.3 1.5M303.4 254.9l3.6 0.3M308.3 254.9l2.9 0.2M151.8 259.9l2.7 -1.2M156.7 259.9l1.5 -2.6M161.6 259.9l0.7 -2.9M166.5 259.9l0.8 -2.8M171.4 259.9l1.4 -2.5M176.2 259.9l1.9 -1.9M181.1 259.9l2.1 -1.5M205.6 259.9l2.6 -0.4M210.5 259.9l2.9 0.7M215.4 259.9l2.1 1.4M298.5 259.9l3.1 1.4M303.4 259.9l2.4 1.1M151.8 265l2.5 -1.8M156.7 265l1.9 -2.3M161.6 265l1.9 -2.2M166.5 265l2.1 -1.8M171.4 265l2 -1.5M205.6 265l2.8 0.5M210.5 265l2.1 1.4M254.5 265l2.1 -2.1M283.8 265l1.6 2.3M288.7 265l2.5 2.3M293.6 265l2.3 1.9M151.8 270.1l2.7 -1.2M156.7 270.1l2.6 -1.2M161.6 270.1l2.3 -1.2M264.3 270.1l2 -2.5M151.8 275.1l2.7 -0.3M156.7 275.1l2.4 -0.7M259.4 275.1l0.9 -2.3" stroke="#90c3dd" stroke-width="0.8" stroke-opacity="0.6" fill="none"/><path d="M172.4 79.6l0.3 0.6M196.7 79.2l0.3 0.5M207.4 76.2l0.5 -0.3M256.4 79.1l0.5 0.5M261.4 79.3l0.6 0.5M305.6 76.5l0.6 -0.3M314.6 78.9l0.4 0.4M163.1 84.8l0.4 0.7M197.9 83.8l0.6 0.4M203.2 82.2l0.7 -0.1M157.7 89.8l0.3 0.6M197.8 88.2l0.5 0.2M203.2 87.4l0.7 -0M304.7 88.9l0.4 0.4M222.6 92.1l0.7 -0.1M232.3 93.9l0.6 0.4M236.3 94.1l0.4 0.4M245.9 94.4l0.3 0.5M251.6 94.6l0.6 0.5M187 99.7l0.3 0.6M245.8 99.4l0.3 0.5M251.3 99.4l0.5 0.5M256.5 99.3l0.6 0.5M261.6 99.5l0.6 0.5M291.2 96.3l0.7 -0.4M187.2 105.1l0.3 0.7M191.9 104.7l0.3 0.5M235.6 104.6l0.2 0.5M240.8 104.7l0.3 0.6M245.8 104.8l0.3 0.6M250.6 105l0.3 0.6M255.1 105.2l0.2 0.7M259.7 105.3l0.1 0.7M265 105.3l0.2 0.7M291.3 102l0.7 -0.2M296 102.8l0.7 0M301 103.3l0.7 0.2M305.7 103.6l0.7 0.2M310.2 103.8l0.5 0.3M314.6 104.2l0.4 0.4M319.1 104.8l0.3 0.6M351.2 105.3l-0.3 0.7M151.2 110.3l-0.2 0.7M156.4 110.3l-0.1 0.7M171.9 109.8l0.1 0.6M177.2 110.2l0.3 0.7M187.2 110.1l0.3 0.7M212.8 108.7l0.6 0.2M217.1 109.4l0.5 0.4M221.5 109.7l0.3 0.5M226.2 109.9l0.3 0.6M231.1 110.1l0.3 0.6M235.9 110.3l0.3 0.7M240.4 110.5l0.2 0.7M244.6 110.4l-0 0.7M248.8 110.1l-0.2 0.6M253.4 109.7l-0.3 0.5M258.6 109.7l-0.2 0.5M264.5 110.2l0.1 0.7M306 107.8l0.7 0M323.3 110.2l0.1 0.7M208.2 114l0.7 0.3M239.1 115.2l-0.2 0.6M265.3 115.3l0.3 0.7M326.9 114.6l-0.3 0.5M203.1 119l0.7 0.3M259.9 120.2l0.1 0.6M300.9 117.3l0.7 -0.2M197.8 123.8l0.6 0.2M202.9 124.5l0.6 0.4M255.2 124.9l0.2 0.5M197.8 129.1l0.5 0.3M237.3 128.3l0.7 0.1M250.8 129.7l0.3 0.5M256.1 130.4l0.5 0.6M198 134.3l0.6 0.3M232.6 133.4l0.7 0.1M237.3 133.7l0.7 0.2M241.6 134.1l0.5 0.3M246.2 134.5l0.4 0.4M251.1 134.6l0.4 0.4M256 134.4l0.4 0.4M270.9 134.6l0.5 0.4M296 132.1l0.7 -0.3M309.3 131.6l0.3 -0.5M314.2 131.3l0.3 -0.5M318.8 131.1l0.2 -0.6M323.2 131.1l0.1 -0.6M192.9 138.9l0.6 0.2M197.8 140l0.6 0.5M204.8 140.6l-0.2 0.7M310.3 136.4l0.6 -0.5M314.5 136.2l0.4 -0.6M318.4 136.1l0.1 -0.6M322.6 136.2l-0.1 -0.6M327.2 136.4l-0.2 -0.5M192.7 144.7l0.5 0.4M196.3 145.8l0.1 0.7M199.5 145.3l-0.3 0.6M275.9 145l0.5 0.5M309.8 141.3l0.4 -0.6M313.4 141.1l0.1 -0.6M317.5 141.4l-0.2 -0.6M322.2 141.5l-0.2 -0.5M187.8 149.6l0.5 0.3M191.4 150.7l0.1 0.7M194.5 150.4l-0.4 0.6M198.8 149l-0.5 0.2M275.4 149.8l0.4 0.4M280.8 149.6l0.5 0.4M286.1 149.5l0.6 0.3M291.3 149.2l0.7 0.2M296.4 148.6l0.8 0M301 147.4l0.7 -0.3M304.8 146.4l0.4 -0.6M312.4 146.4l-0.2 -0.5M317.3 146.6l-0.2 -0.5M183.1 154.5l0.5 0.3M186.8 155.7l0.2 0.6M190 155.7l-0.2 0.6M194 154.9l-0.5 0.4M198.8 154.3l-0.5 0.2M280 155.2l0.3 0.5M285.5 155l0.5 0.4M291 154.3l0.7 0.2M296 152.8l0.7 -0.2M299.8 151.5l0.4 -0.6M303.3 151.2l-0 -0.6M307.4 151.5l-0.2 -0.5M312.4 151.7l-0.2 -0.5M173.4 158.1l0.6 -0.1M178.3 159.4l0.6 0.2M182.3 160.5l0.3 0.6M185.9 160.9l-0 0.7M190.1 160.7l-0.2 0.6M194.7 160.4l-0.3 0.5M199.7 160.3l-0.3 0.5M279.9 160.5l0.3 0.6M285.9 159.7l0.6 0.3M291.1 158l0.7 -0.1M294.8 156.6l0.3 -0.5M298.2 156.4l-0.1 -0.6M302.5 156.7l-0.3 -0.5M307.5 156.8l-0.2 -0.5M163.1 162.5l0.4 -0.3M168.5 163.1l0.6 -0.1M173.5 164.2l0.6 0.2M177.9 165.3l0.5 0.5M182.1 165.7l0.3 0.6M186.6 165.8l0.2 0.6M191.5 165.7l0.2 0.6M196.4 165.5l0.2 0.5M274.8 165.8l0.2 0.6M281 164.9l0.6 0.4M286.1 163l0.6 -0.2M289.7 161.7l0.3 -0.5M297.7 161.9l-0.2 -0.5M158.3 167.5l0.5 -0.3M163.7 168l0.6 -0.2M168.8 169l0.7 0.1M173.5 169.7l0.6 0.3M178.2 170l0.6 0.4M183.1 169.9l0.6 0.4M188 169.7l0.6 0.3M192.7 169.6l0.5 0.3M258.7 170.6l-0.2 0.5M264 171l-0.1 0.7M270.1 171.1l0.3 0.7M276.4 169.9l0.7 0.4M281.2 167.8l0.6 -0.2M284.7 166.8l0.2 -0.5M153.7 172.6l0.5 -0.3M159 173l0.7 -0.2M164.2 173.7l0.7 -0M169.1 174l0.8 0.1M174 173.9l0.8 0M178.8 173.4l0.7 -0.1M183.5 173.1l0.7 -0.2M188.1 173.1l0.6 -0.2M235.5 175.9l0.1 0.6M240.3 176.1l0.1 0.7M244.8 176.2l0 0.7M249.4 176.1l-0.1 0.7M254.1 176.2l-0.1 0.7M276.3 172.7l0.6 -0.3M279.7 171.9l0.2 -0.5M154.5 178.1l0.8 -0.2M178.1 176.9l0.5 -0.5M182.9 177.1l0.5 -0.5M188.2 177.6l0.6 -0.3M193.4 178.6l0.7 -0.1M198 179.6l0.6 0.2M202.2 180.1l0.4 0.4M216.5 180.6l0.3 0.5M221.9 181l0.5 0.6M271.3 177.6l0.6 -0.3M168 181.6l0.4 -0.6M172.4 181.9l0.3 -0.5M177.5 182.1l0.4 -0.5M183.3 182.2l0.6 -0.5M266.5 182.8l0.6 -0.3M158.2 186.6l0.4 -0.7M162.2 187.2l0.2 -0.5M178 187.4l0.5 -0.4M261.8 188.1l0.7 -0.2M152.2 192l0.1 -0.6M178 192.7l0.5 -0.4M183.6 192.8l0.7 -0.4M193.5 193l0.7 -0.3M198 193.2l0.6 -0.2M202.7 193.3l0.6 -0.2M207.8 193.4l0.6 -0.2M257.2 193.5l0.8 -0.1M261.4 193.3l0.6 -0.2M266 193.3l0.5 -0.2M292.9 195.8l-0.2 0.5M213 198.5l0.7 -0.2M262.1 198.8l0.8 -0.1M266.3 198.7l0.6 -0.1M288.1 201.2l-0.2 0.6M293 201.5l-0.2 0.7M212.8 203.5l0.6 -0.2M262.1 204.2l0.8 0M288.1 206.3l-0.2 0.6M292.9 206.1l-0.2 0.5M212 208.2l0.4 -0.3M217.1 208.2l0.5 -0.3M237.2 208.8l0.7 -0.1M232 213.5l0.6 -0.2M256.9 214.3l0.7 0M227.2 218.2l0.6 -0.3M222.7 223l0.7 -0.4M257.1 224.1l0.7 -0.1M261.8 224l0.7 -0.1M266.8 224l0.7 -0.1M271.9 224.1l0.8 -0.1M276.8 224.1l0.8 -0.1M281.5 224l0.7 -0.1M211.4 227.7l0.3 -0.5M207 232.5l0.4 -0.6M202.5 237.6l0.5 -0.6M163 243.3l0.4 -0.4M166.8 242.7l0.1 -0.6M170.5 242.9l-0.2 -0.5M174.9 243.4l-0.4 -0.4M191.3 242.7l0.1 -0.6M197.7 242.9l0.5 -0.5M242.1 246.2l0.6 0.4M246.4 245.8l0.5 0.3M256.3 246.2l0.5 0.4M158.6 249l0.5 -0.2M162.6 247.8l0.3 -0.6M166.1 247.6l-0.1 -0.6M170.3 247.9l-0.3 -0.5M175.2 248l-0.3 -0.5M180.8 247.7l-0.1 -0.6M186.9 247.7l0.2 -0.6M192.8 248.2l0.5 -0.4M198.2 248.9l0.7 -0.2M203.2 249.3l0.7 -0.1M208.1 249.4l0.7 -0.1M213.1 249.5l0.7 -0.1M218.2 249.8l0.8 0M227.7 251l0.7 0.3M231.6 251l0.4 0.4M261.2 251.9l0.5 0.6M158.3 253.3l0.5 -0.4M161.9 252.6l0.1 -0.6M166.1 252.6l-0.1 -0.6M171 252.6l-0.1 -0.6M176.6 252.7l0.1 -0.6M182.4 253l0.3 -0.5M187.8 253.6l0.5 -0.4M192.8 253.9l0.5 -0.3M197.7 254.1l0.5 -0.2M202.6 254.2l0.5 -0.2M207.6 254.3l0.6 -0.2M212.7 254.7l0.6 -0M217.7 255.4l0.7 0.2M222 256l0.5 0.3M306.2 255.1l0.8 0.1M310.6 255l0.6 0M153.9 259l0.6 -0.3M157.9 257.9l0.3 -0.6M162.1 257.6l0.2 -0.6M167.1 257.7l0.2 -0.6M172.5 258l0.3 -0.5M177.7 258.4l0.4 -0.4M182.7 258.8l0.5 -0.3M207.6 259.6l0.6 -0.1M212.8 260.4l0.6 0.1M217 261l0.5 0.3M300.9 261l0.7 0.3M305.3 260.8l0.5 0.2M153.7 263.6l0.5 -0.4M158.2 263.2l0.4 -0.5M163.1 263.3l0.4 -0.5M168.1 263.6l0.5 -0.4M172.9 263.8l0.4 -0.3M207.8 265.4l0.6 0.1M212.1 266l0.5 0.3M256.2 263.3l0.5 -0.5M285.1 266.8l0.4 0.5M290.6 266.8l0.5 0.5M295.4 266.5l0.5 0.4M153.9 269.1l0.6 -0.3M158.7 269.1l0.6 -0.3M163.4 269.1l0.5 -0.3M265.8 268.1l0.4 -0.5M158.5 274.6l0.5 -0.2M260.1 273.3l0.2 -0.5" stroke="#90c3dd" stroke-width="1.4" stroke-opacity="0.65" fill="none"/><path d="M176.2 77.4l2.6 4.1M244.7 77.4l4.1 1.7M249.6 77.4l3.1 2.1M264.3 77.4l3.7 2.7M288.7 77.4l3.3 -3M293.6 77.4l3.2 -2.7M298.5 77.4l3.2 -2.1M337.6 77.4l0.2 4.7M342.5 77.4l0.2 4.4M347.4 77.4l0.6 4.7M357.2 77.4l0.8 4M298.5 82.5l4.3 -1.8M308.3 82.5l2.7 2.8M362.1 82.5l-1.1 4M190.9 87.5l3.2 3.1M205.6 87.5l3.8 -0.6M210.5 87.5l4.1 -0.8M215.4 87.5l4.4 -0.9M239.8 87.5l4 2.5M244.7 87.5l3.3 2.6M249.6 87.5l3.6 2.9M186 92.6l2.3 3.5M225.2 92.6l3.6 0.5M254.5 92.6l3.7 2M259.4 92.6l4.6 1.3M303.4 92.6l2.1 3.1M151.8 97.7l0.3 3.8M181.1 97.7l1.8 4M264.3 97.7l3 2.6M269.2 97.7l3.6 2.7M303.4 97.7l2.6 2.6M308.3 97.7l2.9 3.5M357.2 97.7l-1.5 4.5M151.8 102.8l0.7 4.3M176.2 102.8l1.5 3.9M181.1 102.8l1.6 3.4M269.2 102.8l2.6 3.2M322.9 102.8l0.9 3.8M181.1 107.8l1.6 3.3M269.2 107.8l3.1 2.9M288.7 107.8l4.4 -1.1M293.6 107.8l4.6 -0.6M298.5 107.8l4.3 -0.3M327.8 107.8l0 4M332.7 107.8l-1 4.5M337.6 107.8l-2.4 4.1M210.5 112.9l2.8 2.4M215.4 112.9l2.4 3M220.3 112.9l2.3 3.4M225.2 112.9l2.1 3.8M230 112.9l1.5 4.2M234.9 112.9l0.3 4M269.2 112.9l4 2.4M298.5 112.9l4.3 -0.8M205.6 118l3 2.4M210.5 118l3 3.1M230 118l0.2 4.2M264.3 118l2.9 3.5M205.6 123l3.3 2.8M225.2 123l0.2 3.8M259.4 123l2.3 3.7M293.6 123l4.3 -0.7M200.7 128.1l3.1 2.2M259.4 128.1l2.6 3.1M264.3 128.1l2.9 3M269.2 128.1l3.2 2.9M293.6 128.1l3.5 -1.1M200.7 133.2l2.9 2.9M205.6 133.2l1.8 4.4M210.5 133.2l-0.2 4M274.1 133.2l3.2 2.7M200.7 138.2l1.1 3.7M274.1 138.2l2.7 2.6M288.7 138.2l4.3 -0.8M293.6 138.2l3.6 -1.5M298.5 138.2l3.3 -1.8M303.4 138.2l3.1 -2M278.9 143.3l3.6 1.4M283.8 143.3l3.9 0.5M288.7 143.3l4 -0.1M293.6 143.3l4 -0.5M298.5 143.3l3.8 -1M303.4 143.3l3.2 -1.8M259.4 173.7l0.2 3.7M264.3 173.7l2.1 3.5M269.2 173.7l3.6 1.3M156.7 178.8l3.8 -0.6M161.6 178.8l4 -0.8M166.5 178.8l3.7 -1.6M171.4 178.8l3 -2.3M225.2 178.8l2.5 3.2M230 178.8l2.7 3.7M234.9 178.8l2.3 4.2M239.8 178.8l1.5 4.4M244.7 178.8l0.8 4.4M249.6 178.8l0.7 4.6M264.3 178.8l4.3 0.9M151.8 183.9l4.2 -1.1M156.7 183.9l4.1 -2M161.6 183.9l3.2 -2.8M186 183.9l4.1 -1.4M190.9 183.9l4.6 -0.1M195.8 183.9l4.3 0.9M200.7 183.9l3.9 1.4M205.6 183.9l3.9 1.7M210.5 183.9l4.1 1.8M215.4 183.9l4.4 2M151.8 188.9l3.4 -2.6M181.1 188.9l3.8 -1.9M205.6 188.9l4.7 -0.1M210.5 188.9l4.8 0.2M186 194l3.4 -1.4M210.5 194l3.8 -0.5M244.7 199.1l4.5 -0.1M249.6 199.1l3.9 -0.3M254.5 199.1l3.8 -0.3M215.4 204.2l4.5 -0.1M230 204.2l4.5 -0.3M234.9 204.2l3.8 -0.4M239.8 204.2l3.8 -0.3M244.7 204.2l4.3 -0.1M249.6 204.2l4.7 0.3M254.5 204.2l4.5 0.5M239.8 209.2l4.4 -0.1M254.5 209.2l4.2 0.6M234.9 214.3l4.5 -0.3M249.6 214.3l4.5 0.9M230 219.4l4.6 -0.4M249.6 219.4l3.8 0.1M244.7 224.4l4.7 0.2M249.6 224.4l3.9 -0.3M215.4 229.5l3.8 -1.9M283.8 229.5l3.5 -1.2M210.5 234.6l4.3 -1.8M293.6 234.6l4.6 -1.6M205.6 239.6l4.2 -1.5M254.5 239.6l4 2.5M200.7 244.7l3.7 -1.2M205.6 244.7l4.2 -0.4M210.5 244.7l4.3 -0M215.4 244.7l4.5 0.1M220.3 244.7l4.7 0.3M234.9 244.7l4 2.1M259.4 244.7l3.5 2.9M220.3 249.8l3.7 0.8M264.3 249.8l3.1 3.4M269.2 249.8l3.1 3.6M274.1 249.8l2.5 3.6M278.9 249.8l1.9 3.4M283.8 249.8l1.8 3.6M288.7 249.8l2.5 4M303.4 249.8l4.7 0.1M308.3 249.8l3.7 -0.8M288.7 254.9l1.8 3.2M293.6 254.9l3.6 2.8M298.5 254.9l4.1 1.3M288.7 259.9l2.4 2.8M293.6 259.9l3.3 2.1M259.4 265l3 -2.9M264.3 265l2.6 -2.8M249.6 270.1l3.2 -3.2M244.7 275.1l2 -3.2M249.6 275.1l3 -3.5M254.5 275.1l2.5 -3.3" stroke="#aad8e9" stroke-width="0.8" stroke-opacity="0.6" fill="none"/><path d="M178.2 80.6l0.6 0.9M247.9 78.8l0.9 0.4M252 79l0.7 0.5M267.1 79.5l0.8 0.6M291.3 75.1l0.7 -0.7M296.1 75.3l0.7 -0.6M301 75.7l0.7 -0.5M337.8 81l0 1M342.7 80.8l0 1M347.8 81.1l0.1 1M357.8 80.5l0.2 0.9M301.9 81.1l0.9 -0.4M310.4 84.6l0.6 0.6M361.2 85.6l-0.2 0.9M193.4 89.9l0.7 0.7M208.6 87.1l0.8 -0.1M213.7 86.9l0.9 -0.2M218.8 86.9l1 -0.2M243 89.5l0.9 0.6M247.3 89.6l0.7 0.6M252.4 89.8l0.8 0.6M187.8 95.4l0.5 0.8M228 93l0.8 0.1M257.4 94.2l0.8 0.4M262.9 93.6l1 0.3M305 95.1l0.5 0.7M152.1 100.7l0.1 0.8M182.5 100.8l0.4 0.9M266.6 99.7l0.7 0.6M271.9 99.8l0.8 0.6M305.4 99.7l0.6 0.6M310.5 100.4l0.6 0.8M356 101.2l-0.3 1M152.4 106.1l0.2 0.9M177.4 105.8l0.3 0.9M182.4 105.4l0.3 0.8M271.2 105.2l0.6 0.7M323.7 105.7l0.2 0.8M182.4 110.4l0.4 0.7M271.5 110.1l0.7 0.6M292.2 107l1 -0.2M297.2 107.3l1 -0.1M301.9 107.6l0.9 -0.1M327.9 110.9l0 0.9M331.9 111.3l-0.2 1M335.8 111l-0.5 0.9M212.7 114.8l0.6 0.5M217.2 115.2l0.5 0.7M222 115.5l0.5 0.7M226.8 115.9l0.5 0.8M231.2 116.1l0.3 0.9M235.2 116l0.1 0.9M272.2 114.7l0.9 0.5M301.8 112.3l0.9 -0.2M208 119.8l0.7 0.5M212.9 120.4l0.7 0.7M230.2 121.3l0 0.9M266.5 120.7l0.6 0.8M208.1 125.2l0.7 0.6M225.3 126l0 0.8M261.2 125.9l0.5 0.8M297 122.4l0.9 -0.2M203.1 129.8l0.7 0.5M261.4 130.5l0.6 0.7M266.5 130.4l0.6 0.7M271.7 130.4l0.7 0.6M296.4 127.3l0.8 -0.2M203 135.4l0.6 0.6M207 136.6l0.4 1M210.4 136.3l-0 0.9M276.6 135.3l0.7 0.6M201.5 141.1l0.2 0.8M276.2 140.3l0.6 0.6M292.1 137.6l1 -0.2M296.4 137.1l0.8 -0.3M301 136.8l0.7 -0.4M305.8 136.6l0.7 -0.5M281.7 144.4l0.8 0.3M286.9 143.7l0.9 0.1M291.8 143.2l0.9 -0M296.7 142.9l0.9 -0.1M301.5 142.5l0.8 -0.2M305.9 141.9l0.7 -0.4M259.6 176.6l0.1 0.8M265.9 176.5l0.5 0.8M272 174.8l0.8 0.3M159.7 178.3l0.8 -0.1M164.7 178.1l0.9 -0.2M169.4 177.5l0.8 -0.4M173.7 177l0.7 -0.5M227.1 181.3l0.6 0.7M232.1 181.7l0.6 0.8M236.7 182.1l0.5 0.9M241 182.3l0.3 1M245.3 182.2l0.2 1M250.2 182.4l0.2 1M267.6 179.5l0.9 0.2M155.1 183l0.9 -0.2M159.9 182.3l0.9 -0.4M164.1 181.7l0.7 -0.6M189.2 182.8l0.9 -0.3M194.5 183.8l1 -0M199.2 184.6l0.9 0.2M203.8 185l0.9 0.3M208.6 185.2l0.9 0.4M213.7 185.3l0.9 0.4M218.8 185.4l1 0.4M154.4 186.9l0.7 -0.6M184.1 187.4l0.8 -0.4M209.3 188.9l1 -0M214.2 189.1l1.1 0M188.7 192.9l0.8 -0.3M213.5 193.6l0.8 -0.1M248.3 199l1 -0M252.7 198.9l0.9 -0.1M257.4 198.8l0.8 -0.1M218.9 204l1 -0M233.6 203.9l1 -0.1M237.9 203.9l0.8 -0.1M242.8 203.9l0.8 -0.1M248 204.1l0.9 -0M253.3 204.4l1 0.1M258 204.5l1 0.1M243.3 209.1l1 -0M257.7 209.7l0.9 0.1M238.4 214.1l1 -0.1M253.1 215l1 0.2M233.7 219.1l1 -0.1M252.6 219.5l0.8 0M248.3 224.6l1 0.1M252.6 224.2l0.9 -0.1M218.3 228l0.8 -0.4M286.6 228.5l0.8 -0.3M213.8 233.2l0.9 -0.4M297.2 233.3l1 -0.3M208.9 238.5l0.9 -0.3M257.6 241.6l0.9 0.6M203.6 243.7l0.8 -0.3M208.8 244.4l0.9 -0.1M213.8 244.7l1 -0M218.8 244.8l1 0M223.9 244.9l1 0.1M238.1 246.3l0.9 0.5M262.1 247l0.8 0.6M223.2 250.4l0.8 0.2M266.7 252.4l0.7 0.7M271.6 252.6l0.7 0.8M276 252.6l0.6 0.8M280.4 252.5l0.4 0.8M285.2 252.6l0.4 0.8M290.7 252.9l0.6 0.9M307 249.9l1 0M311.1 249.1l0.8 -0.2M290.1 257.4l0.4 0.7M296.4 257l0.8 0.6M301.7 255.8l0.9 0.3M290.6 262.1l0.5 0.6M296.2 261.6l0.7 0.5M261.7 262.7l0.6 -0.6M266.3 262.8l0.6 -0.6M252.1 267.5l0.7 -0.7M246.2 272.6l0.4 -0.7M251.9 272.4l0.7 -0.8M256.5 272.6l0.6 -0.7" stroke="#aad8e9" stroke-width="1.4" stroke-opacity="0.65" fill="none"/><path d="M190.9 77.4l3.1 4.4M210.5 77.4l4.9 -1.8M215.4 77.4l5.9 -0.9M220.3 77.4l5.9 -0.3M225.2 77.4l5.5 -0.1M230 77.4l5.2 0.1M234.9 77.4l5 0.5M239.8 77.4l4.8 1.1M269.2 77.4l5.5 2M278.9 77.4l5.3 -2.1M283.8 77.4l4 -2.9M318.1 77.4l2.3 4.8M332.7 77.4l0.9 5.6M352.3 77.4l0.8 4.9M205.6 82.5l5.3 -1.3M244.7 82.5l5.2 2.7M249.6 82.5l4.5 2.8M254.5 82.5l4.7 3M220.3 87.5l5 -0.9M225.2 87.5l5.9 -0.4M234.9 87.5l5.3 2.1M254.5 87.5l5 3M293.6 87.5l4.5 -2.2M362.1 87.5l-1.9 5.1M156.7 92.6l2.3 4.6M264.3 92.6l5.1 0.9M269.2 92.6l5.5 0.8M274.1 92.6l6 0.7M288.7 92.6l4.6 -2.3M156.7 97.7l3.2 5M274.1 97.7l4.9 2.1M283.8 97.7l5.7 -1.8M313.2 97.7l2.9 4.1M318.1 97.7l2.6 4.7M322.9 97.7l1.9 5.2M327.8 97.7l1.1 5.9M156.7 102.8l2.2 5M161.6 102.8l2.6 5.4M166.5 102.8l2.1 5.4M171.4 102.8l1.6 4.7M274.1 102.8l5.2 1.9M283.8 102.8l4.8 -1.9M327.8 102.8l0.5 5.1M274.1 107.8l5.4 0.9M278.9 107.8l5.4 -1.2M283.8 107.8l4.6 -1.6M274.1 112.9l5.2 0.5M278.9 112.9l5.3 -0.6M283.8 112.9l5.3 -0.9M288.7 112.9l5.5 -0.9M293.6 112.9l5.3 -0.8M215.4 118l3.1 3.9M220.3 118l2.9 4.7M225.2 118l1.8 5.1M269.2 118l4.5 2.6M274.1 118l5.3 1.6M278.9 118l5.6 1.1M283.8 118l5.8 0.7M288.7 118l5.8 0.1M293.6 118l5 -0.6M210.5 123l3.5 4M215.4 123l3.1 5.2M220.3 123l1.7 5.6M264.3 123l3.6 3.7M269.2 123l4.3 3.4M274.1 123l4.8 3M278.9 123l5.3 2.6M283.8 123l5.8 1.9M288.7 123l5.8 0.6M205.6 128.1l3.4 3.5M210.5 128.1l2.7 5.1M215.4 128.1l0.9 5.1M274.1 128.1l3.9 3M278.9 128.1l5 3.1M288.7 128.1l5.9 0.2M278.9 133.2l5.1 3M288.7 133.2l5.1 -0.6M278.9 138.2l4.7 2.2M283.8 138.2l5.1 0.5M254.5 178.8l1.7 4.8M259.4 178.8l3.6 3.7M220.3 183.9l4.7 2.5M225.2 183.9l4.8 3.5M259.4 183.9l4.9 0.4M186 188.9l4.9 -1.2M190.9 188.9l5.2 -0.6M195.8 188.9l5.1 -0.2M200.7 188.9l4.9 -0.1M215.4 188.9l5.3 0.8M254.5 188.9l5.2 0.1M215.4 194l5.5 0.5M249.6 194l5.1 -0M215.4 199.1l5.3 0.6M239.8 199.1l5.8 0.4M220.3 204.2l5.3 0.2M225.2 204.2l5.2 0M244.7 209.2l5.3 0.7M249.6 209.2l5.1 1.1M239.8 214.3l5.4 0.9M244.7 214.3l5.3 1.4M234.9 219.4l5.4 1M239.8 219.4l5.3 1.5M244.7 219.4l4.8 1M225.2 224.4l5 -0.4M230 224.4l5.5 1M234.9 224.4l5.5 1.3M239.8 224.4l5.2 0.9M220.3 229.5l5.3 -0.3M225.2 229.5l5.7 0.9M230 229.5l5.7 1.1M234.9 229.5l5.7 0.8M239.8 229.5l5.6 0.3M244.7 229.5l5.4 0.1M249.6 229.5l5.4 0.1M254.5 229.5l5.5 0.4M259.4 229.5l5.6 0.9M264.3 229.5l5.6 1.2M269.2 229.5l5.6 1.1M274.1 229.5l5.8 0.5M278.9 229.5l5.3 -0.7M215.4 234.6l5.4 -0.2M220.3 234.6l5.7 0.7M225.2 234.6l5.8 0.9M230 234.6l6 0.7M234.9 234.6l6.1 0.5M283.8 234.6l5.6 -1.6M288.7 234.6l4.6 -1.6M298.5 234.6l5 -1.6M210.5 239.6l5 -0.2M215.4 239.6l5.2 0.4M220.3 239.6l5.4 0.5M225.2 239.6l5.6 0.5M230 239.6l5.9 0.7M244.7 239.6l5.2 2.4M249.6 239.6l4.4 2.5M259.4 239.6l4.4 2.9M225.2 244.7l4.9 0.8M230 244.7l4.8 1.5M303.4 244.7l5.8 0.6M293.6 249.8l4 3.7M298.5 249.8l5.1 2M254.5 270.1l4.3 -3.7M259.4 270.1l3.8 -3.5" stroke="#c5e6f0" stroke-width="0.8" stroke-opacity="0.6" fill="none"/><path d="M193.3 80.8l0.7 1M214.3 76l1.1 -0.4M220 76.7l1.3 -0.2M224.8 77.2l1.3 -0.1M229.4 77.4l1.2 -0M234.1 77.5l1.1 0M238.9 77.8l1.1 0.1M243.5 78.2l1 0.2M273.4 78.9l1.2 0.4M283.1 75.8l1.2 -0.5M286.9 75.1l0.9 -0.6M319.8 81.1l0.5 1.1M333.4 81.8l0.2 1.2M352.9 81.2l0.2 1.1M209.7 81.5l1.2 -0.3M248.8 84.6l1.2 0.6M253.1 84.6l1 0.6M258.2 84.8l1 0.7M224.1 86.9l1.1 -0.2M229.7 87.2l1.3 -0.1M239.1 89.2l1.2 0.5M258.4 89.9l1.1 0.7M297.1 85.8l1 -0.5M360.6 91.5l-0.4 1.1M158.5 96.2l0.5 1M268.2 93.3l1.1 0.2M273.4 93.2l1.2 0.2M278.7 93.2l1.3 0.2M292.3 90.8l1 -0.5M159.2 101.6l0.7 1.1M277.9 99.3l1.1 0.5M288.2 96.3l1.2 -0.4M315.4 100.9l0.6 0.9M320.1 101.3l0.6 1M324.5 101.7l0.4 1.1M328.7 102.3l0.2 1.3M158.4 106.7l0.5 1.1M163.6 107l0.6 1.2M168.1 106.9l0.5 1.2M172.6 106.4l0.4 1M278.1 104.2l1.1 0.4M287.6 101.2l1.1 -0.4M328.3 106.7l0.1 1.1M278.3 108.5l1.2 0.2M283.2 106.9l1.2 -0.3M287.4 106.6l1 -0.3M278.1 113.3l1.1 0.1M283 112.4l1.2 -0.1M288 112.2l1.2 -0.2M293 112.2l1.2 -0.2M297.8 112.2l1.2 -0.2M217.8 121l0.7 0.9M222.5 121.6l0.6 1M226.6 122l0.4 1.1M272.7 120l1 0.6M278.1 119.2l1.2 0.4M283.3 118.8l1.2 0.2M288.4 118.5l1.3 0.1M293.2 118.1l1.3 0M297.5 117.5l1.1 -0.1M213.2 126.1l0.8 0.9M217.8 127.1l0.7 1.1M221.6 127.4l0.4 1.2M267.1 126l0.8 0.8M272.5 125.7l1 0.7M277.8 125.4l1.1 0.7M283 125.1l1.2 0.6M288.3 124.5l1.3 0.4M293.2 123.5l1.3 0.1M208.2 130.9l0.7 0.8M212.6 132.1l0.6 1.1M216.1 132.1l0.2 1.1M277.1 130.5l0.9 0.7M282.8 130.5l1.1 0.7M293.3 128.2l1.3 0M282.9 135.5l1.1 0.7M292.7 132.7l1.1 -0.1M282.6 140l1 0.5M287.8 138.6l1.1 0.1M255.8 182.5l0.4 1.1M262.2 181.7l0.8 0.8M223.9 185.8l1 0.6M228.9 186.6l1.1 0.8M263.2 184.2l1.1 0.1M189.9 188l1.1 -0.3M195 188.5l1.1 -0.1M199.8 188.8l1.1 -0.1M204.5 188.8l1.1 -0M219.5 189.6l1.2 0.2M258.5 189l1.1 0M219.6 194.4l1.2 0.1M253.5 194l1.1 -0M219.5 199.5l1.2 0.1M244.3 199.4l1.3 0.1M224.4 204.3l1.2 0M229.2 204.2l1.1 0M248.8 209.8l1.2 0.2M253.6 210.1l1.1 0.2M244 215l1.2 0.2M248.8 215.4l1.2 0.3M239.2 220.1l1.2 0.2M244 220.5l1.2 0.3M248.5 220.1l1.1 0.2M229 224.1l1.1 -0.1M234.3 225.2l1.2 0.2M239.2 225.5l1.2 0.3M243.9 225.2l1.1 0.2M224.4 229.2l1.2 -0.1M229.6 230.2l1.2 0.2M234.5 230.4l1.3 0.2M239.4 230.1l1.3 0.2M244.2 229.8l1.2 0.1M248.9 229.6l1.2 0M253.8 229.6l1.2 0M258.8 229.8l1.2 0.1M263.8 230.2l1.2 0.2M268.6 230.4l1.2 0.3M273.5 230.4l1.2 0.2M278.5 229.9l1.3 0.1M283.1 229l1.2 -0.1M219.6 234.4l1.2 -0M224.7 235.1l1.2 0.2M229.7 235.2l1.3 0.2M234.7 235.1l1.3 0.1M239.7 235l1.3 0.1M288.2 233.3l1.2 -0.4M292.3 233.3l1 -0.3M302.4 233.3l1.1 -0.4M214.4 239.5l1.1 -0M219.4 240l1.1 0.1M224.5 240l1.2 0.1M229.5 240l1.2 0.1M234.6 240.2l1.3 0.1M248.7 241.5l1.1 0.5M253 241.6l1 0.6M262.8 241.9l1 0.6M229 245.3l1.1 0.2M233.8 245.9l1.1 0.3M307.9 245.2l1.3 0.1M296.8 252.6l0.9 0.8M302.4 251.4l1.1 0.4M257.8 267.2l0.9 -0.8M262.4 267.3l0.8 -0.8" stroke="#c5e6f0" stroke-width="1.4" stroke-opacity="0.65" fill="none"/><path d="M181.1 77.4l3.8 4.8M186 77.4l4.2 4.9M274.1 77.4l6.2 -0.1M322.9 77.4l2.5 6.5M327.8 77.4l2 6.6M166.5 82.5l3.9 4.7M190.9 82.5l4.9 4.7M210.5 82.5l6.4 -1.3M215.4 82.5l6.7 -1.1M220.3 82.5l6.7 -0.8M225.2 82.5l6.9 -0.5M230 82.5l7.2 0.1M234.9 82.5l7.2 1.1M239.8 82.5l6.5 2.2M259.4 82.5l6.1 3.2M283.8 82.5l6.8 -2.8M288.7 82.5l6.4 -2.7M293.6 82.5l5.7 -2.5M337.6 82.5l1.1 6.3M342.5 82.5l0.5 6.4M347.4 82.5l0 7M352.3 82.5l-0.5 7.1M357.2 82.5l-1 6.1M161.6 87.5l4 5.1M230 87.5l6.2 0.9M259.4 87.5l6.6 2.2M288.7 87.5l6.6 -2.2M308.3 87.5l3.6 5.7M181.1 92.6l4.3 5.5M278.9 92.6l6.5 0.1M283.8 92.6l6.4 -1.3M308.3 92.6l3.5 5.5M332.7 92.6l1 7.2M161.6 97.7l5 5.1M176.2 97.7l2.9 5.4M278.9 97.7l6.3 0.3M332.7 97.7l0.3 7.1M278.9 102.8l6.3 -0.7M332.7 102.8l0 6.3M347.4 102.8l-3.1 5.9M283.8 128.1l6.2 2.2M283.8 133.2l6.2 1.4M230 183.9l4.4 4.7M234.9 183.9l3.5 5.5M239.8 183.9l2.7 5.8M244.7 183.9l2.9 6M249.6 183.9l4.1 5.5M254.5 183.9l5.4 3.5M220.3 188.9l6.1 2.2M249.6 188.9l6.8 2.6M220.3 194l6.7 2.5M244.7 194l6.9 1.5M220.3 199.1l6.6 2.2M234.9 199.1l7.1 1.5M239.8 234.6l6.3 0.7M244.7 234.6l6.4 1.1M249.6 234.6l6.3 1.8M254.5 234.6l5.9 2.3M259.4 234.6l5.6 2.6M264.3 234.6l5.8 2.7M269.2 234.6l6.7 2.2M278.9 234.6l7 -0.9M234.9 239.6l6.1 1.2M239.8 239.6l5.9 1.9M264.3 239.6l5.8 3.2M298.5 239.6l7.2 1.4M264.3 244.7l5.2 3.5M288.7 244.7l6 4.2M293.6 244.7l5.8 3.9M298.5 244.7l6.1 2.6" stroke="#e0f3f8" stroke-width="0.8" stroke-opacity="0.6" fill="none"/><path d="M184.1 81.2l0.8 1.1M189.3 81.3l0.9 1.1M278.9 77.3l1.4 -0M324.9 82.5l0.6 1.4M329.4 82.5l0.4 1.4M169.5 86.1l0.9 1M194.7 86.2l1.1 1M215.5 81.5l1.4 -0.3M220.6 81.6l1.5 -0.2M225.5 81.8l1.5 -0.2M230.5 82l1.5 -0.1M235.7 82.5l1.6 0M240.6 83.3l1.6 0.2M244.9 84.2l1.4 0.5M264.1 85l1.3 0.7M289.1 80.3l1.5 -0.6M293.7 80.4l1.4 -0.6M298.1 80.5l1.3 -0.5M338.5 87.4l0.2 1.4M342.9 87.5l0.1 1.4M347.4 87.9l0 1.5M351.9 88l-0.1 1.6M356.4 87.2l-0.2 1.3M164.7 91.5l0.9 1.1M234.9 88.2l1.4 0.2M264.6 89.2l1.5 0.5M293.8 85.8l1.4 -0.5M311.1 92l0.8 1.2M184.5 96.9l0.9 1.2M284 92.7l1.4 0M288.8 91.6l1.4 -0.3M311 96.9l0.8 1.2M333.5 98.2l0.2 1.6M165.5 101.7l1.1 1.1M178.5 101.9l0.6 1.2M283.8 97.9l1.4 0.1M332.9 103.2l0.1 1.6M283.8 102.2l1.4 -0.2M332.8 107.6l0 1.4M345 107.3l-0.7 1.3M288.6 129.8l1.4 0.5M288.6 134.3l1.4 0.3M233.5 187.5l1 1M237.6 188.2l0.8 1.2M241.9 188.4l0.6 1.3M246.9 188.5l0.6 1.3M252.8 188.2l0.9 1.2M258.7 186.6l1.2 0.8M225 190.6l1.3 0.5M254.9 191l1.5 0.6M225.5 196l1.5 0.5M250.1 195.2l1.5 0.3M225.4 200.8l1.4 0.5M240.5 200.2l1.6 0.3M244.7 235.1l1.4 0.1M249.7 235.5l1.4 0.2M254.5 236l1.4 0.4M259.1 236.4l1.3 0.5M263.7 236.6l1.2 0.6M268.8 236.6l1.3 0.6M274.4 236.3l1.5 0.5M284.4 233.9l1.5 -0.2M239.7 240.6l1.3 0.3M244.4 241.2l1.3 0.4M268.8 242.1l1.3 0.7M304.1 240.7l1.6 0.3M268.3 247.4l1.1 0.8M293.4 248l1.3 0.9M298.2 247.8l1.3 0.9M303.2 246.8l1.3 0.6" stroke="#e0f3f8" stroke-width="1.4" stroke-opacity="0.65" fill="none"/><path d="M171.4 82.5l6.5 5.7M264.3 82.5l7.9 2.2M274.1 82.5l8.1 -1.7M278.9 82.5l7.2 -2.5M313.2 82.5l4.2 6.8M332.7 82.5l2.2 7.1M186 87.5l5.7 5.5M264.3 87.5l7.5 0.6M269.2 87.5l7.6 -0.6M274.1 87.5l7.6 -1.2M278.9 87.5l7.6 -1.4M283.8 87.5l7.5 -1.7M332.7 87.5l2.1 7.4M337.6 87.5l0.7 7.4M342.5 87.5l-0.4 8.4M161.6 92.6l5.4 5.2M313.2 92.6l4.3 6.9M322.9 92.6l3.5 7.4M327.8 92.6l2.3 7M337.6 92.6l-0.3 8.4M357.2 92.6l-2.9 8M166.5 97.7l5.4 5.6M171.4 97.7l4.4 6M337.6 102.8l-1 7.4M342.5 102.8l-2.6 7.6M225.2 188.9l6.2 4.1M230 188.9l5.7 5.6M234.9 188.9l5.2 6.4M239.8 188.9l5.6 6.4M244.7 188.9l6.6 5.2M225.2 194l7 4.4M225.2 199.1l7.3 3M230 199.1l7.6 2.6M274.1 234.6l7.5 0.8M269.2 239.6l7.5 2.6M274.1 239.6l8.4 1.3M278.9 239.6l8.4 0.2M283.8 239.6l8.2 0.1M288.7 239.6l8.1 0.8M293.6 239.6l7.8 1.5M269.2 244.7l6.7 3.3M274.1 244.7l7.3 3.1M278.9 244.7l7.1 3.3M283.8 244.7l6.5 3.9" stroke="#f0f9db" stroke-width="0.8" stroke-opacity="0.6" fill="none"/><path d="M176.4 86.9l1.4 1.2M270.4 84.2l1.7 0.5M280.3 81.2l1.8 -0.4M284.6 80.5l1.6 -0.6M316.5 87.8l0.9 1.5M334.4 88l0.5 1.6M190.4 91.8l1.2 1.2M270.1 88l1.7 0.1M275.1 87.1l1.7 -0.1M280 86.6l1.7 -0.3M284.9 86.4l1.7 -0.3M289.7 86.2l1.6 -0.4M334.4 93.3l0.5 1.6M338.2 93.3l0.2 1.6M342.2 94.1l-0.1 1.9M165.8 96.7l1.2 1.1M316.5 98l0.9 1.5M325.7 98.4l0.8 1.6M329.7 98.1l0.5 1.5M337.4 99.2l-0.1 1.9M355 98.8l-0.6 1.8M170.7 102l1.2 1.2M174.8 102.4l1 1.3M336.8 108.5l-0.2 1.6M340.5 108.6l-0.6 1.7M230 192.1l1.4 0.9M234.5 193.3l1.2 1.2M239 193.9l1.1 1.4M244.2 194l1.2 1.4M249.9 193l1.5 1.2M230.6 197.5l1.5 1M230.8 201.4l1.6 0.7M236 201.1l1.7 0.6M279.9 235.2l1.6 0.2M275 241.7l1.6 0.6M280.6 240.6l1.8 0.3M285.5 239.8l1.9 0M290.3 239.7l1.8 0M295.1 240.3l1.8 0.2M299.7 240.8l1.7 0.3M274.4 247.3l1.5 0.7M279.7 247.1l1.6 0.7M284.5 247.3l1.6 0.7M288.9 247.7l1.4 0.9" stroke="#f0f9db" stroke-width="1.4" stroke-opacity="0.65" fill="none"/><path d="M186 82.5l7.6 5.9M269.2 82.5l8.6 0.1M327.8 82.5l3.9 8.6M166.5 87.5l7.2 5.6M327.8 87.5l3.7 8.3M347.4 87.5l-1.4 9.7M357.2 87.5l-2.4 8.6M166.5 92.6l7.3 4.9M171.4 92.6l7.7 5.2M176.2 92.6l6.6 5.9M337.6 97.7l-0.5 8.7M352.3 97.7l-3.2 8.2M230 194l7.1 5.4M234.9 194l7.6 5.2M239.8 194l7.9 3.6" stroke="#fffebe" stroke-width="0.8" stroke-opacity="0.6" fill="none"/><path d="M192 87.1l1.7 1.3M275.9 82.6l1.9 0M330.9 89.2l0.9 1.9M172.1 91.9l1.6 1.2M330.7 94l0.8 1.8M346.3 95.1l-0.3 2.1M355.3 94.2l-0.5 1.9M172.2 96.5l1.6 1.1M177.4 96.7l1.7 1.2M181.4 97.2l1.4 1.3M337.2 104.5l-0.1 1.9M349.8 104.1l-0.7 1.8M235.6 198.3l1.6 1.2M240.9 198.1l1.7 1.1M246 196.9l1.7 0.8" stroke="#fffebe" stroke-width="1.4" stroke-opacity="0.65" fill="none"/><path d="M176.2 82.5l8.4 5.7M181.1 82.5l8.9 5.7M318.1 82.5l5.5 9.2M322.9 82.5l5.4 9.6M171.4 87.5l9.2 5.3M176.2 87.5l9.6 5.4M181.1 87.5l8.4 6M322.9 87.5l5.2 9.5M352.3 87.5l-2.1 10.1M342.5 92.6l-1.3 10.2M342.5 97.7l-1.5 10.2M347.4 97.7l-2.8 10.4" stroke="#fff0a8" stroke-width="0.8" stroke-opacity="0.6" fill="none"/><path d="M182.8 86.9l1.9 1.3M188.1 86.9l2 1.3M322.4 89.6l1.2 2M327.1 89.9l1.2 2.1M178.5 91.7l2 1.2M183.7 91.7l2.1 1.2M187.7 92.2l1.8 1.3M327 94.9l1.2 2.1M350.7 95.4l-0.5 2.2M341.5 100.6l-0.3 2.2M341.3 105.6l-0.3 2.2M345.2 105.8l-0.6 2.3" stroke="#fff0a8" stroke-width="1.4" stroke-opacity="0.65" fill="none"/><path d="M318.1 87.5l6.1 9.7M347.4 92.6l-2.1 11.5M352.3 92.6l-2.9 11" stroke="#fee090" stroke-width="0.8" stroke-opacity="0.6" fill="none"/><path d="M322.8 95.1l1.3 2.1M345.7 101.6l-0.5 2.5M350 101.2l-0.6 2.4" stroke="#fee090" stroke-width="1.4" stroke-opacity="0.65" fill="none"/><use href="#grd"/></g>
<rect x="150.60" y="73.50" width="218.90" height="207.75" fill="none" stroke="#000" stroke-width="1.1"/>
<g font-family='"Liberation Sans", sans-serif' fill="#000">
<text x="151.40" y="63.20" font-size="13.89" text-anchor="middle" textLength="53.0" lengthAdjust="spacingAndGlyphs">112.5°E</text>
<text x="157.40" y="299.00" font-size="13.89" text-anchor="middle" textLength="53.0" lengthAdjust="spacingAndGlyphs">112.5°E</text>
<text x="213.80" y="63.20" font-size="13.89" text-anchor="middle" textLength="40.0" lengthAdjust="spacingAndGlyphs">113°E</text>
<text x="219.70" y="299.00" font-size="13.89" text-anchor="middle" textLength="40.0" lengthAdjust="spacingAndGlyphs">113°E</text>
<text x="276.30" y="63.20" font-size="13.89" text-anchor="middle" textLength="53.0" lengthAdjust="spacingAndGlyphs">113.5°E</text>
<text x="281.60" y="299.00" font-size="13.89" text-anchor="middle" textLength="53.0" lengthAdjust="spacingAndGlyphs">113.5°E</text>
<text x="338.00" y="63.20" font-size="13.89" text-anchor="middle" textLength="40.0" lengthAdjust="spacingAndGlyphs">114°E</text>
<text x="343.00" y="299.00" font-size="13.89" text-anchor="middle" textLength="40.0" lengthAdjust="spacingAndGlyphs">114°E</text>
<text x="142.10" y="97.10" font-size="13.89" text-anchor="end" textLength="45.3" lengthAdjust="spacingAndGlyphs">21.6°S</text>
<text x="142.10" y="123.70" font-size="13.89" text-anchor="end" textLength="45.3" lengthAdjust="spacingAndGlyphs">21.8°S</text>
<text x="142.10" y="150.30" font-size="13.89" text-anchor="end" textLength="33.0" lengthAdjust="spacingAndGlyphs">22°S</text>
<text x="142.10" y="176.90" font-size="13.89" text-anchor="end" textLength="45.3" lengthAdjust="spacingAndGlyphs">22.2°S</text>
<text x="142.10" y="203.50" font-size="13.89" text-anchor="end" textLength="45.3" lengthAdjust="spacingAndGlyphs">22.4°S</text>
<text x="142.10" y="230.10" font-size="13.89" text-anchor="end" textLength="45.3" lengthAdjust="spacingAndGlyphs">22.6°S</text>
<text x="142.10" y="256.70" font-size="13.89" text-anchor="end" textLength="45.3" lengthAdjust="spacingAndGlyphs">22.8°S</text>
<text x="142.10" y="283.30" font-size="13.89" text-anchor="end" textLength="33.0" lengthAdjust="spacingAndGlyphs">23°S</text>
<rect x="383.50" y="125.30" width="5" height="103.90" fill="url(#cbg)" stroke="#000" stroke-width="1.1"/>
<path d="M388.50 125.30h5" stroke="#000" stroke-width="1.1"/>
<text x="399.30" y="130.20" font-size="13.89" text-anchor="start" textLength="19.5" lengthAdjust="spacingAndGlyphs">1.0</text>
<path d="M388.50 177.25h5" stroke="#000" stroke-width="1.1"/>
<text x="399.30" y="182.15" font-size="13.89" text-anchor="start" textLength="19.5" lengthAdjust="spacingAndGlyphs">0.5</text>
<path d="M388.50 229.20h5" stroke="#000" stroke-width="1.1"/>
<text x="399.30" y="234.10" font-size="13.89" text-anchor="start" textLength="19.5" lengthAdjust="spacingAndGlyphs">0.0</text>
</g></g>
<g transform="translate(656.10,0.00)">
<g clip-path="url(#clp)"><rect x="150.60" y="73.50" width="218.90" height="207.75" fill="#97b6e1"/><g transform="translate(151.0,74.0) scale(5.00,5.20)" shape-rendering="crispEdges"><path fill="#67459e" d="M0 0h3v1.1h-3zM3 1h2v1.1h-2zM4 2h2v1.1h-2zM5 3h2v1.1h-2zM6 4h1v1.1h-1zM7 5h1v1.1h-1zM8 6h1v1.1h-1zM9 7h1v1.1h-1zM10 8h2v1.1h-2zM35 8h1v1.1h-1zM12 9h1v1.1h-1zM13 10h1v1.1h-1zM33 10h1v1.1h-1zM14 11h1v1.1h-1zM13 12h2v1.1h-2zM13 13h1v1.1h-1zM32 13h1v1.1h-1zM12 14h1v1.1h-1zM32 14h1v1.1h-1zM10 15h2v1.1h-2zM9 16h2v1.1h-2zM9 17h1v1.1h-1zM31 17h1v1.1h-1zM8 18h1v1.1h-1zM30 18h1v1.1h-1zM8 19h1v1.1h-1zM25 19h1v1.1h-1zM8 20h1v1.1h-1zM23 20h1v1.1h-1zM8 21h1v1.1h-1zM22 21h1v1.1h-1zM8 22h1v1.1h-1zM19 22h3v1.1h-3zM8 23h2v1.1h-2zM18 23h1v1.1h-1zM9 24h2v1.1h-2zM11 25h1v1.1h-1zM17 25h1v1.1h-1zM12 26h2v1.1h-2zM14 27h3v1.1h-3zM15 28h1v1.1h-1zM32 37h1v1.1h-1zM32 38h1v1.1h-1zM0 39h1v1.1h-1z"/><path fill="#6c469d" d="M3 0h3v1.1h-3zM5 1h2v1.1h-2zM6 2h1v1.1h-1zM7 3h1v1.1h-1zM7 4h2v1.1h-2zM8 5h2v1.1h-2zM9 6h2v1.1h-2zM10 7h2v1.1h-2zM12 8h1v1.1h-1zM34 8h1v1.1h-1zM13 9h2v1.1h-2zM33 9h1v1.1h-1zM14 10h2v1.1h-2zM15 11h2v1.1h-2zM32 11h1v1.1h-1zM15 12h2v1.1h-2zM32 12h1v1.1h-1zM14 13h2v1.1h-2zM13 14h2v1.1h-2zM12 15h1v1.1h-1zM11 16h1v1.1h-1zM31 16h1v1.1h-1zM10 17h1v1.1h-1zM9 18h1v1.1h-1zM26 18h4v1.1h-4zM9 19h1v1.1h-1zM24 19h1v1.1h-1zM9 20h1v1.1h-1zM9 21h1v1.1h-1zM21 21h1v1.1h-1zM9 22h2v1.1h-2zM18 22h1v1.1h-1zM10 23h1v1.1h-1zM11 24h2v1.1h-2zM17 24h1v1.1h-1zM12 25h3v1.1h-3zM16 25h1v1.1h-1zM14 26h3v1.1h-3zM31 33h1v1.1h-1zM31 35h1v1.1h-1zM33 38h1v1.1h-1zM32 39h1v1.1h-1z"/><path fill="#71489b" d="M6 0h2v1.1h-2zM7 1h1v1.1h-1zM7 2h2v1.1h-2zM8 3h2v1.1h-2zM9 4h1v1.1h-1zM10 5h1v1.1h-1zM11 6h1v1.1h-1zM12 7h2v1.1h-2zM35 7h1v1.1h-1zM13 8h3v1.1h-3zM15 9h2v1.1h-2zM16 10h3v1.1h-3zM32 10h1v1.1h-1zM17 11h2v1.1h-2zM17 12h2v1.1h-2zM16 13h2v1.1h-2zM15 14h2v1.1h-2zM31 14h1v1.1h-1zM13 15h2v1.1h-2zM31 15h1v1.1h-1zM12 16h2v1.1h-2zM11 17h2v1.1h-2zM30 17h1v1.1h-1zM10 18h2v1.1h-2zM24 18h2v1.1h-2zM10 19h2v1.1h-2zM23 19h1v1.1h-1zM10 20h2v1.1h-2zM21 20h2v1.1h-2zM10 21h2v1.1h-2zM18 21h3v1.1h-3zM11 22h1v1.1h-1zM17 22h1v1.1h-1zM11 23h3v1.1h-3zM16 23h2v1.1h-2zM13 24h4v1.1h-4zM15 25h1v1.1h-1zM31 34h1v1.1h-1zM32 36h1v1.1h-1zM33 39h1v1.1h-1z"/><path fill="#764999" d="M8 0h2v1.1h-2zM8 1h3v1.1h-3zM9 2h2v1.1h-2zM10 3h2v1.1h-2zM10 4h3v1.1h-3zM11 5h2v1.1h-2zM12 6h3v1.1h-3zM14 7h3v1.1h-3zM16 8h4v1.1h-4zM33 8h1v1.1h-1zM17 9h4v1.1h-4zM32 9h1v1.1h-1zM19 10h3v1.1h-3zM31 10h1v1.1h-1zM19 11h3v1.1h-3zM31 11h1v1.1h-1zM19 12h3v1.1h-3zM31 12h1v1.1h-1zM18 13h4v1.1h-4zM31 13h1v1.1h-1zM17 14h4v1.1h-4zM15 15h4v1.1h-4zM30 15h1v1.1h-1zM14 16h3v1.1h-3zM26 16h5v1.1h-5zM13 17h2v1.1h-2zM23 17h7v1.1h-7zM12 18h2v1.1h-2zM21 18h3v1.1h-3zM12 19h2v1.1h-2zM19 19h4v1.1h-4zM12 20h2v1.1h-2zM17 20h4v1.1h-4zM12 21h6v1.1h-6zM12 22h5v1.1h-5zM14 23h2v1.1h-2zM32 35h1v1.1h-1z"/><path fill="#7c4a98" d="M10 0h5v1.1h-5zM11 1h4v1.1h-4zM11 2h5v1.1h-5zM12 3h5v1.1h-5zM13 4h5v1.1h-5zM13 5h10v1.1h-10zM15 6h10v1.1h-10zM17 7h9v1.1h-9zM34 7h1v1.1h-1zM20 8h7v1.1h-7zM32 8h1v1.1h-1zM21 9h8v1.1h-8zM31 9h1v1.1h-1zM22 10h9v1.1h-9zM22 11h9v1.1h-9zM22 12h9v1.1h-9zM22 13h9v1.1h-9zM21 14h10v1.1h-10zM19 15h11v1.1h-11zM17 16h9v1.1h-9zM15 17h8v1.1h-8zM14 18h7v1.1h-7zM14 19h5v1.1h-5zM14 20h3v1.1h-3z"/><path fill="#844d96" d="M15 0h7v1.1h-7zM15 1h7v1.1h-7zM16 2h7v1.1h-7zM17 3h6v1.1h-6zM18 4h6v1.1h-6zM23 5h2v1.1h-2zM25 6h2v1.1h-2zM35 6h3v1.1h-3zM26 7h2v1.1h-2zM33 7h1v1.1h-1zM39 7h1v1.1h-1zM27 8h5v1.1h-5zM29 9h2v1.1h-2z"/><path fill="#8b4f94" d="M22 0h2v1.1h-2zM22 1h2v1.1h-2zM23 2h1v1.1h-1zM23 3h2v1.1h-2zM24 4h1v1.1h-1zM25 5h1v1.1h-1zM41 5h1v1.1h-1zM27 6h1v1.1h-1zM34 6h1v1.1h-1zM40 6h2v1.1h-2zM28 7h2v1.1h-2zM32 7h1v1.1h-1z"/><path fill="#935193" d="M24 0h1v1.1h-1zM24 1h1v1.1h-1zM24 2h1v1.1h-1zM25 3h1v1.1h-1zM25 4h1v1.1h-1zM41 4h1v1.1h-1zM26 5h1v1.1h-1zM36 5h5v1.1h-5zM28 6h1v1.1h-1zM33 6h1v1.1h-1zM30 7h2v1.1h-2z"/><path fill="#9b5491" d="M25 0h1v1.1h-1zM42 0h1v1.1h-1zM25 1h1v1.1h-1zM25 2h1v1.1h-1zM42 2h1v1.1h-1zM26 4h1v1.1h-1zM40 4h1v1.1h-1zM27 5h1v1.1h-1zM34 5h2v1.1h-2zM29 6h1v1.1h-1zM32 6h1v1.1h-1z"/><path fill="#a4568e" d="M26 0h1v1.1h-1zM42 1h1v1.1h-1zM26 3h1v1.1h-1zM41 3h1v1.1h-1zM27 4h1v1.1h-1zM38 4h2v1.1h-2zM28 5h1v1.1h-1zM30 6h2v1.1h-2z"/><path fill="#b65c82" d="M27 0h1v1.1h-1zM40 0h1v1.1h-1zM27 1h1v1.1h-1zM27 2h1v1.1h-1zM40 2h1v1.1h-1zM27 3h1v1.1h-1zM39 3h1v1.1h-1zM28 4h1v1.1h-1zM34 4h1v1.1h-1zM30 5h2v1.1h-2z"/><path fill="#c76278" d="M28 0h1v1.1h-1zM39 0h1v1.1h-1zM28 1h1v1.1h-1zM39 1h1v1.1h-1zM28 2h1v1.1h-1zM38 2h1v1.1h-1zM36 3h1v1.1h-1zM30 4h3v1.1h-3z"/><path fill="#ce6574" d="M29 0h1v1.1h-1zM38 0h1v1.1h-1zM38 1h1v1.1h-1zM37 2h1v1.1h-1zM29 3h1v1.1h-1zM35 3h1v1.1h-1z"/><path fill="#da6b6b" d="M30 0h1v1.1h-1zM36 0h1v1.1h-1zM36 1h1v1.1h-1zM35 2h1v1.1h-1zM31 3h2v1.1h-2z"/><path fill="#de6f68" d="M31 0h1v1.1h-1zM35 0h1v1.1h-1zM30 1h1v1.1h-1zM35 1h1v1.1h-1zM30 2h1v1.1h-1zM34 2h1v1.1h-1z"/><path fill="#e17265" d="M32 0h3v1.1h-3zM31 1h1v1.1h-1zM34 1h1v1.1h-1zM31 2h1v1.1h-1zM33 2h1v1.1h-1z"/><path fill="#d4686f" d="M37 0h1v1.1h-1zM29 1h1v1.1h-1zM37 1h1v1.1h-1zM29 2h1v1.1h-1zM36 2h1v1.1h-1zM30 3h1v1.1h-1zM34 3h1v1.1h-1z"/><path fill="#ad5988" d="M41 0h1v1.1h-1zM26 1h1v1.1h-1zM41 1h1v1.1h-1zM26 2h1v1.1h-1zM41 2h1v1.1h-1zM40 3h1v1.1h-1zM35 4h3v1.1h-3zM29 5h1v1.1h-1zM32 5h2v1.1h-2z"/><path fill="#6244a0" d="M0 1h3v1.1h-3zM2 2h2v1.1h-2zM4 3h1v1.1h-1zM5 4h1v1.1h-1zM6 5h1v1.1h-1zM7 6h1v1.1h-1zM8 7h1v1.1h-1zM9 8h1v1.1h-1zM11 9h1v1.1h-1zM34 9h1v1.1h-1zM12 10h1v1.1h-1zM12 11h2v1.1h-2zM33 11h1v1.1h-1zM12 12h1v1.1h-1zM11 13h2v1.1h-2zM10 14h2v1.1h-2zM9 15h1v1.1h-1zM32 15h1v1.1h-1zM8 16h1v1.1h-1zM8 17h1v1.1h-1zM7 18h1v1.1h-1zM7 19h1v1.1h-1zM26 19h4v1.1h-4zM7 20h1v1.1h-1zM24 20h1v1.1h-1zM7 21h1v1.1h-1zM23 21h1v1.1h-1zM7 22h1v1.1h-1zM22 22h1v1.1h-1zM7 23h1v1.1h-1zM20 23h2v1.1h-2zM8 24h1v1.1h-1zM9 25h2v1.1h-2zM11 26h1v1.1h-1zM17 26h1v1.1h-1zM12 27h2v1.1h-2zM17 27h1v1.1h-1zM13 28h2v1.1h-2zM16 28h1v1.1h-1zM14 29h3v1.1h-3zM15 30h2v1.1h-2zM31 36h1v1.1h-1zM1 39h1v1.1h-1z"/><path fill="#e47662" d="M32 1h2v1.1h-2z"/><path fill="#c05f7d" d="M40 1h1v1.1h-1zM39 2h1v1.1h-1zM28 3h1v1.1h-1zM37 3h2v1.1h-2zM29 4h1v1.1h-1zM33 4h1v1.1h-1z"/><path fill="#5e42a1" d="M0 2h2v1.1h-2zM2 3h2v1.1h-2zM4 4h1v1.1h-1zM5 5h1v1.1h-1zM6 6h1v1.1h-1zM7 7h1v1.1h-1zM8 8h1v1.1h-1zM37 8h1v1.1h-1zM10 9h1v1.1h-1zM11 10h1v1.1h-1zM11 11h1v1.1h-1zM11 12h1v1.1h-1zM33 12h1v1.1h-1zM10 13h1v1.1h-1zM9 14h1v1.1h-1zM8 15h1v1.1h-1zM32 16h1v1.1h-1zM7 17h1v1.1h-1zM6 18h1v1.1h-1zM31 18h1v1.1h-1zM6 19h1v1.1h-1zM30 19h1v1.1h-1zM6 20h1v1.1h-1zM25 20h1v1.1h-1zM6 21h1v1.1h-1zM6 22h1v1.1h-1zM6 23h1v1.1h-1zM19 23h1v1.1h-1zM7 24h1v1.1h-1zM18 24h1v1.1h-1zM8 25h1v1.1h-1zM9 26h2v1.1h-2zM11 27h1v1.1h-1zM12 28h1v1.1h-1zM17 28h1v1.1h-1zM13 29h1v1.1h-1zM17 29h1v1.1h-1zM13 30h2v1.1h-2zM17 30h1v1.1h-1zM15 31h3v1.1h-3zM31 37h1v1.1h-1zM2 39h1v1.1h-1zM31 39h1v1.1h-1z"/><path fill="#5a41a2" d="M0 3h2v1.1h-2zM2 4h2v1.1h-2zM4 5h1v1.1h-1zM5 6h1v1.1h-1zM6 7h1v1.1h-1zM7 8h1v1.1h-1zM9 9h1v1.1h-1zM35 9h1v1.1h-1zM10 10h1v1.1h-1zM34 10h1v1.1h-1zM10 11h1v1.1h-1zM10 12h1v1.1h-1zM9 13h1v1.1h-1zM33 13h1v1.1h-1zM8 14h1v1.1h-1zM33 14h1v1.1h-1zM7 16h1v1.1h-1zM6 17h1v1.1h-1zM32 17h1v1.1h-1zM5 19h1v1.1h-1zM5 20h1v1.1h-1zM26 20h3v1.1h-3zM5 21h1v1.1h-1zM24 21h1v1.1h-1zM4 22h2v1.1h-2zM23 22h1v1.1h-1zM5 23h1v1.1h-1zM22 23h1v1.1h-1zM5 24h2v1.1h-2zM19 24h3v1.1h-3zM7 25h1v1.1h-1zM18 25h1v1.1h-1zM8 26h1v1.1h-1zM9 27h2v1.1h-2zM11 28h1v1.1h-1zM11 29h2v1.1h-2zM12 30h1v1.1h-1zM18 30h1v1.1h-1zM14 31h1v1.1h-1zM18 31h2v1.1h-2zM17 32h2v1.1h-2zM0 38h1v1.1h-1zM31 38h1v1.1h-1zM3 39h1v1.1h-1z"/><path fill="#563fa4" d="M0 4h2v1.1h-2zM2 5h2v1.1h-2zM4 6h1v1.1h-1zM5 7h1v1.1h-1zM6 8h1v1.1h-1zM8 9h1v1.1h-1zM9 10h1v1.1h-1zM9 11h1v1.1h-1zM34 11h1v1.1h-1zM9 12h1v1.1h-1zM8 13h1v1.1h-1zM7 15h1v1.1h-1zM33 15h1v1.1h-1zM6 16h1v1.1h-1zM5 17h1v1.1h-1zM5 18h1v1.1h-1zM4 19h1v1.1h-1zM4 20h1v1.1h-1zM29 20h1v1.1h-1zM3 21h2v1.1h-2zM3 22h1v1.1h-1zM3 23h2v1.1h-2zM4 24h1v1.1h-1zM5 25h2v1.1h-2zM7 26h1v1.1h-1zM18 26h1v1.1h-1zM8 27h1v1.1h-1zM18 27h1v1.1h-1zM10 28h1v1.1h-1zM18 28h1v1.1h-1zM10 29h1v1.1h-1zM18 29h1v1.1h-1zM11 30h1v1.1h-1zM19 30h1v1.1h-1zM12 31h2v1.1h-2zM15 32h2v1.1h-2zM19 32h1v1.1h-1zM0 37h1v1.1h-1zM1 38h1v1.1h-1zM4 39h1v1.1h-1zM20 39h2v1.1h-2z"/><path fill="#513da5" d="M0 5h2v1.1h-2zM2 6h2v1.1h-2zM4 7h1v1.1h-1zM5 8h1v1.1h-1zM7 9h1v1.1h-1zM36 9h1v1.1h-1zM8 10h1v1.1h-1zM35 10h1v1.1h-1zM8 11h1v1.1h-1zM8 12h1v1.1h-1zM34 12h1v1.1h-1zM7 14h1v1.1h-1zM6 15h1v1.1h-1zM5 16h1v1.1h-1zM33 16h1v1.1h-1zM4 17h1v1.1h-1zM4 18h1v1.1h-1zM32 18h1v1.1h-1zM3 19h1v1.1h-1zM31 19h1v1.1h-1zM3 20h1v1.1h-1zM30 20h1v1.1h-1zM2 21h1v1.1h-1zM25 21h1v1.1h-1zM1 22h2v1.1h-2zM0 23h3v1.1h-3zM0 24h4v1.1h-4zM22 24h1v1.1h-1zM3 25h2v1.1h-2zM19 25h3v1.1h-3zM5 26h2v1.1h-2zM7 27h1v1.1h-1zM8 28h2v1.1h-2zM9 29h1v1.1h-1zM19 29h1v1.1h-1zM10 30h1v1.1h-1zM20 30h1v1.1h-1zM11 31h1v1.1h-1zM20 31h1v1.1h-1zM14 32h1v1.1h-1zM20 32h1v1.1h-1zM18 33h2v1.1h-2zM2 38h1v1.1h-1zM5 39h1v1.1h-1zM19 39h1v1.1h-1zM30 39h1v1.1h-1z"/><path fill="#4d3ca6" d="M0 6h2v1.1h-2zM3 7h1v1.1h-1zM4 8h1v1.1h-1zM6 9h1v1.1h-1zM7 10h1v1.1h-1zM7 11h1v1.1h-1zM7 12h1v1.1h-1zM7 13h1v1.1h-1zM34 13h1v1.1h-1zM6 14h1v1.1h-1zM5 15h1v1.1h-1zM4 16h1v1.1h-1zM33 17h1v1.1h-1zM3 18h1v1.1h-1zM2 19h1v1.1h-1zM1 20h2v1.1h-2zM0 21h2v1.1h-2zM26 21h1v1.1h-1zM0 22h1v1.1h-1zM24 22h1v1.1h-1zM23 23h1v1.1h-1zM0 25h3v1.1h-3zM0 26h5v1.1h-5zM19 26h3v1.1h-3zM5 27h2v1.1h-2zM20 27h1v1.1h-1zM7 28h1v1.1h-1zM19 28h2v1.1h-2zM8 29h1v1.1h-1zM20 29h1v1.1h-1zM9 30h1v1.1h-1zM10 31h1v1.1h-1zM13 32h1v1.1h-1zM0 33h1v1.1h-1zM17 33h1v1.1h-1zM20 33h1v1.1h-1zM0 34h1v1.1h-1zM30 34h1v1.1h-1zM0 35h1v1.1h-1zM0 36h1v1.1h-1zM1 37h1v1.1h-1zM3 38h1v1.1h-1zM18 39h1v1.1h-1zM22 39h1v1.1h-1z"/><path fill="#c86070" d="M42 6h1v1.1h-1z"/><path fill="#4339a6" d="M0 7h1v1.1h-1zM2 8h1v1.1h-1zM4 9h1v1.1h-1zM5 10h1v1.1h-1zM36 10h1v1.1h-1zM35 12h1v1.1h-1zM5 13h1v1.1h-1zM4 14h1v1.1h-1zM3 15h1v1.1h-1zM34 15h1v1.1h-1zM2 16h1v1.1h-1zM1 17h2v1.1h-2zM0 18h1v1.1h-1zM33 18h1v1.1h-1zM32 19h1v1.1h-1zM31 20h1v1.1h-1zM23 24h1v1.1h-1zM1 28h4v1.1h-4zM21 28h1v1.1h-1zM0 29h2v1.1h-2zM5 29h2v1.1h-2zM21 29h1v1.1h-1zM0 30h2v1.1h-2zM6 30h2v1.1h-2zM21 30h1v1.1h-1zM1 31h2v1.1h-2zM6 31h2v1.1h-2zM21 31h1v1.1h-1zM1 32h2v1.1h-2zM10 32h2v1.1h-2zM21 32h1v1.1h-1zM2 33h1v1.1h-1zM2 34h1v1.1h-1zM19 34h2v1.1h-2zM2 36h1v1.1h-1zM30 36h1v1.1h-1zM30 37h1v1.1h-1zM4 38h1v1.1h-1zM20 38h2v1.1h-2zM7 39h1v1.1h-1zM23 39h1v1.1h-1zM29 39h1v1.1h-1z"/><path fill="#483aa6" d="M1 7h2v1.1h-2zM3 8h1v1.1h-1zM5 9h1v1.1h-1zM6 10h1v1.1h-1zM6 11h1v1.1h-1zM35 11h1v1.1h-1zM6 12h1v1.1h-1zM6 13h1v1.1h-1zM5 14h1v1.1h-1zM34 14h1v1.1h-1zM4 15h1v1.1h-1zM3 16h1v1.1h-1zM3 17h1v1.1h-1zM1 18h2v1.1h-2zM0 19h2v1.1h-2zM0 20h1v1.1h-1zM27 21h3v1.1h-3zM22 25h1v1.1h-1zM0 27h5v1.1h-5zM19 27h1v1.1h-1zM21 27h1v1.1h-1zM0 28h1v1.1h-1zM5 28h2v1.1h-2zM7 29h1v1.1h-1zM8 30h1v1.1h-1zM0 31h1v1.1h-1zM8 31h2v1.1h-2zM0 32h1v1.1h-1zM12 32h1v1.1h-1zM1 33h1v1.1h-1zM16 33h1v1.1h-1zM30 33h1v1.1h-1zM1 34h1v1.1h-1zM1 35h1v1.1h-1zM30 35h1v1.1h-1zM1 36h1v1.1h-1zM2 37h1v1.1h-1zM30 38h1v1.1h-1zM6 39h1v1.1h-1zM17 39h1v1.1h-1z"/><path fill="#d86868" d="M42 7h1v1.1h-1z"/><path fill="#3e38a6" d="M0 8h2v1.1h-2zM2 9h2v1.1h-2zM4 10h1v1.1h-1zM5 11h1v1.1h-1zM5 12h1v1.1h-1zM4 13h1v1.1h-1zM3 14h1v1.1h-1zM2 15h1v1.1h-1zM1 16h1v1.1h-1zM0 17h1v1.1h-1zM30 21h1v1.1h-1zM25 22h1v1.1h-1zM24 23h1v1.1h-1zM22 26h1v1.1h-1zM2 29h3v1.1h-3zM2 30h4v1.1h-4zM3 31h3v1.1h-3zM3 32h7v1.1h-7zM30 32h1v1.1h-1zM3 33h2v1.1h-2zM15 33h1v1.1h-1zM21 33h1v1.1h-1zM3 34h1v1.1h-1zM18 34h1v1.1h-1zM2 35h1v1.1h-1zM3 37h1v1.1h-1zM19 38h1v1.1h-1zM16 39h1v1.1h-1z"/><path fill="#3937a6" d="M0 9h2v1.1h-2zM3 10h1v1.1h-1zM3 11h2v1.1h-2zM4 12h1v1.1h-1zM3 13h1v1.1h-1zM2 14h1v1.1h-1zM0 15h2v1.1h-2zM0 16h1v1.1h-1zM23 25h1v1.1h-1zM22 27h1v1.1h-1zM5 33h1v1.1h-1zM14 33h1v1.1h-1zM21 34h1v1.1h-1zM3 35h1v1.1h-1zM20 35h1v1.1h-1zM3 36h1v1.1h-1zM5 38h1v1.1h-1zM22 38h1v1.1h-1zM8 39h1v1.1h-1zM24 39h1v1.1h-1zM28 39h1v1.1h-1z"/><path fill="#d86464" d="M42 9h1v1.1h-1zM42 10h1v1.1h-1zM42 11h1v1.1h-1zM42 12h1v1.1h-1z"/><path fill="#3436a4" d="M0 10h3v1.1h-3zM2 11h1v1.1h-1zM2 12h2v1.1h-2zM2 13h1v1.1h-1zM0 14h2v1.1h-2zM32 20h1v1.1h-1zM31 21h1v1.1h-1zM26 22h4v1.1h-4zM22 28h1v1.1h-1zM6 33h1v1.1h-1zM13 33h1v1.1h-1zM4 34h1v1.1h-1zM17 34h1v1.1h-1zM19 35h1v1.1h-1zM21 35h1v1.1h-1zM4 37h1v1.1h-1zM20 37h2v1.1h-2zM18 38h1v1.1h-1zM29 38h1v1.1h-1zM15 39h1v1.1h-1zM25 39h3v1.1h-3z"/><path fill="#30349e" d="M0 11h2v1.1h-2zM0 12h2v1.1h-2zM0 13h2v1.1h-2zM30 22h1v1.1h-1zM24 24h1v1.1h-1zM23 26h1v1.1h-1zM22 29h1v1.1h-1zM22 30h1v1.1h-1zM22 31h1v1.1h-1zM22 32h1v1.1h-1zM7 33h2v1.1h-2zM12 33h1v1.1h-1zM22 33h1v1.1h-1zM5 34h1v1.1h-1zM4 35h1v1.1h-1zM20 36h2v1.1h-2zM19 37h1v1.1h-1zM29 37h1v1.1h-1zM23 38h1v1.1h-1zM9 39h1v1.1h-1zM14 39h1v1.1h-1z"/><path fill="#e87050" d="M41 17h1v1.1h-1zM41 18h2v1.1h-2zM41 19h2v1.1h-2z"/><path fill="#2c3398" d="M31 22h1v1.1h-1zM25 23h1v1.1h-1zM9 33h3v1.1h-3zM29 33h1v1.1h-1zM16 34h1v1.1h-1zM22 34h1v1.1h-1zM29 34h1v1.1h-1zM18 35h1v1.1h-1zM29 35h1v1.1h-1zM4 36h1v1.1h-1zM19 36h1v1.1h-1zM29 36h1v1.1h-1zM22 37h1v1.1h-1zM6 38h1v1.1h-1zM24 38h1v1.1h-1zM28 38h1v1.1h-1zM10 39h4v1.1h-4z"/><path fill="#f89a38" d="M42 22h1v1.1h-1z"/><path fill="#1d2e7a" d="M26 23h1v1.1h-1zM29 24h2v1.1h-2zM24 26h1v1.1h-1zM29 30h1v1.1h-1zM24 31h1v1.1h-1zM24 32h1v1.1h-1zM27 32h2v1.1h-2zM24 33h4v1.1h-4zM14 34h1v1.1h-1zM24 34h4v1.1h-4zM6 35h1v1.1h-1zM24 35h1v1.1h-1zM27 35h1v1.1h-1zM24 36h1v1.1h-1zM26 36h2v1.1h-2zM6 37h1v1.1h-1z"/><path fill="#192d70" d="M27 23h1v1.1h-1zM25 24h1v1.1h-1zM30 25h1v1.1h-1zM24 27h1v1.1h-1zM24 28h1v1.1h-1zM24 29h1v1.1h-1zM29 29h1v1.1h-1zM24 30h1v1.1h-1zM25 31h1v1.1h-1zM28 31h1v1.1h-1zM25 32h2v1.1h-2zM8 34h1v1.1h-1zM25 35h2v1.1h-2zM25 36h1v1.1h-1zM17 37h1v1.1h-1zM8 38h1v1.1h-1z"/><path fill="#24308c" d="M28 23h1v1.1h-1zM30 23h1v1.1h-1zM24 25h1v1.1h-1zM23 28h1v1.1h-1zM23 29h1v1.1h-1zM23 30h1v1.1h-1zM23 31h1v1.1h-1zM29 31h1v1.1h-1zM23 32h1v1.1h-1zM23 33h1v1.1h-1zM15 34h1v1.1h-1zM23 34h1v1.1h-1zM5 35h1v1.1h-1zM18 37h1v1.1h-1zM28 37h1v1.1h-1zM7 38h1v1.1h-1z"/><path fill="#283292" d="M29 23h1v1.1h-1zM31 23h1v1.1h-1zM23 27h1v1.1h-1zM29 32h1v1.1h-1zM6 34h1v1.1h-1zM22 35h1v1.1h-1zM22 36h1v1.1h-1zM5 37h1v1.1h-1zM23 37h1v1.1h-1zM17 38h1v1.1h-1zM25 38h3v1.1h-3z"/><path fill="#f8b440" d="M42 23h1v1.1h-1z"/><path fill="#0c243e" d="M26 24h1v1.1h-1zM28 25h1v1.1h-1zM25 28h1v1.1h-1zM28 28h1v1.1h-1zM8 37h1v1.1h-1zM11 38h2v1.1h-2z"/><path fill="#0a2236" d="M27 24h1v1.1h-1zM26 25h2v1.1h-2zM25 26h4v1.1h-4zM25 27h4v1.1h-4zM26 28h2v1.1h-2zM26 29h2v1.1h-2zM9 35h6v1.1h-6zM8 36h8v1.1h-8zM9 37h7v1.1h-7z"/><path fill="#132a5c" d="M28 24h1v1.1h-1zM29 25h1v1.1h-1zM25 30h1v1.1h-1zM10 34h3v1.1h-3zM7 35h1v1.1h-1z"/><path fill="#f0e048" d="M42 24h1v1.1h-1z"/><path fill="#0f274c" d="M25 25h1v1.1h-1zM15 35h1v1.1h-1zM16 37h1v1.1h-1zM10 38h1v1.1h-1z"/><path fill="#ecec48" d="M42 25h1v1.1h-1z"/><path fill="#112954" d="M29 26h1v1.1h-1zM25 29h1v1.1h-1zM28 29h1v1.1h-1zM26 30h2v1.1h-2zM7 37h1v1.1h-1zM9 38h1v1.1h-1zM14 38h1v1.1h-1z"/><path fill="#e8f048" d="M42 26h1v1.1h-1z"/><path fill="#162c66" d="M28 30h1v1.1h-1zM26 31h2v1.1h-2zM9 34h1v1.1h-1zM13 34h1v1.1h-1zM16 35h1v1.1h-1zM6 36h1v1.1h-1zM17 36h1v1.1h-1zM15 38h1v1.1h-1z"/><path fill="#202f84" d="M28 33h1v1.1h-1zM7 34h1v1.1h-1zM28 34h1v1.1h-1zM17 35h1v1.1h-1zM23 35h1v1.1h-1zM28 35h1v1.1h-1zM5 36h1v1.1h-1zM18 36h1v1.1h-1zM23 36h1v1.1h-1zM28 36h1v1.1h-1zM24 37h4v1.1h-4zM16 38h1v1.1h-1z"/><path fill="#0d2545" d="M8 35h1v1.1h-1zM7 36h1v1.1h-1zM16 36h1v1.1h-1zM13 38h1v1.1h-1z"/></g><use href="#land"/><path d="M156.7 77.4l2 0.3M161.6 77.4l1.3 -1.5M186 77.4l2 -0.3M190.9 77.4l2 -0.1M195.8 77.4l2 -0.3M200.7 77.4l1.8 -0.8M205.6 77.4l1.3 -1.5M210.5 77.4l-2 -0.1M215.4 77.4l-0.8 1.8M151.8 82.5l1.5 1.3M156.7 82.5l1.8 -0.8M205.6 82.5l1.8 -0.8M210.5 82.5l0.9 1.8M151.8 87.5l1.5 1.3M156.7 87.5l2 0.2M161.6 87.5l2 0.1M200.7 87.5l1.9 -0.7M205.6 87.5l1 1.8M151.8 92.6l0.4 2M156.7 92.6l0.9 1.8M161.6 92.6l1.2 1.6M166.5 92.6l1.4 1.4M171.4 92.6l1.7 1.1M176.2 92.6l2 0.3M190.9 92.6l1.8 -0.9M195.8 92.6l2 0.3M254.5 92.6l0.2 -2M259.4 92.6l0.3 -2M264.3 92.6l1.1 -1.6M171.4 97.7l1.5 1.3M176.2 97.7l2 0.3M181.1 97.7l2 -0.1M186 97.7l2 0.2M190.9 97.7l1 1.7M244.7 97.7l0.1 -2M249.6 97.7l-0.7 -1.9M254.5 97.7l-0.7 -1.9M259.4 97.7l0.1 -2M264.3 97.7l1.2 -1.6M171.4 102.8l1.5 1.3M176.2 102.8l1.7 1M239.8 102.8l-0.1 -2M244.7 102.8l-1.2 -1.6M249.6 102.8l-1.2 -1.6M254.5 102.8l-0.6 -1.9M259.4 102.8l0.2 -2M264.3 102.8l1 -1.7M269.2 102.8l1.5 -1.3M230 107.8l1.1 -1.7M234.9 107.8l0.7 -1.9M239.8 107.8l-1.7 1.1M244.7 107.8l-1.9 -0.6M249.6 107.8l-1.3 -1.5M254.5 107.8l-0.8 -1.8M259.4 107.8l-0.6 -1.9M264.3 107.8l-0.6 -1.9M269.2 107.8l-0.6 -1.9M274.1 107.8l-0.4 -2M278.9 107.8l0.9 -1.8M225.2 112.9l1.2 -1.6M230 112.9l1 1.7M234.9 112.9l0.1 2M239.8 112.9l-1 1.7M244.7 112.9l-2 -0M249.6 112.9l-1.9 -0.7M254.5 112.9l-1.9 -0.6M259.4 112.9l-2 -0M264.3 112.9l-1.9 0.5M269.2 112.9l-1.8 0.8M274.1 112.9l-1.9 0.5M278.9 112.9l-1.5 -1.3M220.3 118l1.8 -1M225.2 118l1.1 1.7M230 118l0.7 1.9M234.9 118l0.3 2M239.8 118l-0.7 1.9M244.7 118l-1.2 1.6M249.6 118l-1.1 1.7M254.5 118l-0.8 1.8M259.4 118l-0.5 1.9M274.1 118l-1.9 0.6M278.9 118l-1.2 -1.6M215.4 123l2 -0.3M220.3 123l1.9 0.7M225.2 123l1.7 1M230 123l1.6 1.2M234.9 123l1.2 1.6M239.8 123l0.7 1.9M244.7 123l0.6 1.9M225.2 128.1l1.9 0.5M230 128.1l1.7 1M322.9 128.1l0.6 1.9M327.8 128.1l0.9 1.8M332.7 128.1l1.5 1.3M318.1 133.2l0.7 1.9M322.9 133.2l1 1.7M327.8 133.2l1.6 1.2M308.3 138.2l1 1.8M313.2 138.2l0.8 1.8M318.1 138.2l1.1 1.7M322.9 138.2l1.5 1.3M327.8 138.2l1.8 0.9M215.4 143.3l2 0.1M278.9 143.3l-1.8 -0.8M303.4 143.3l1 1.7M308.3 143.3l0.9 1.8M313.2 143.3l1.1 1.7M318.1 143.3l1.3 1.5M322.9 143.3l1.4 1.4M210.5 148.4l1.5 -1.3M215.4 148.4l0.3 2M274.1 148.4l-1.9 -0.6M278.9 148.4l-0.2 -2M303.4 148.4l0.9 1.8M308.3 148.4l1 1.7M313.2 148.4l1 1.7M318.1 148.4l0.8 1.8M322.9 148.4l0.3 2M186 153.5l1.1 1.6M205.6 153.5l1.1 -1.7M210.5 153.5l-0.9 -1.8M215.4 153.5l-2 0.2M220.3 153.5l-1.5 1.3M298.5 153.5l0.9 1.8M303.4 153.5l0.8 1.8M308.3 153.5l0.5 1.9M313.2 153.5l-0.1 2M171.4 158.5l-0.2 2M176.2 158.5l-0.5 1.9M181.1 158.5l-0.5 1.9M186 158.5l0 2M190.9 158.5l1.1 1.7M195.8 158.5l1.9 0.5M278.9 158.5l2 0.4M303.4 158.5l-0 2M308.3 158.5l-1 1.7M161.6 163.6l-0.8 1.8M166.5 163.6l-1.3 1.5M171.4 163.6l-1.7 1.1M176.2 163.6l-1.7 1M181.1 163.6l-1.2 1.6M186 163.6l0.1 2M190.9 163.6l1.5 1.3M274.1 163.6l2 0.3M278.9 163.6l1.7 1.1M283.8 163.6l1.3 1.5M151.8 168.7l-0.7 1.9M156.7 168.7l-1.4 1.4M161.6 168.7l-1.9 0.5M166.5 168.7l-1.9 -0.5M171.4 168.7l-1.9 -0.6M176.2 168.7l-1.9 0.6M181.1 168.7l-0.4 2M186 168.7l1.1 1.7M264.3 168.7l1.9 -0.6M269.2 168.7l2 0.2M274.1 168.7l1.9 0.7M278.9 168.7l1.6 1.2M151.8 173.7l-1.8 0.8M156.7 173.7l-1.7 -1.1M161.6 173.7l-0.7 -1.9M166.5 173.7l-0.4 -2M171.4 173.7l-0.8 -1.8M176.2 173.7l0.2 2M181.1 173.7l1.2 1.6M264.3 173.7l2 0.1M269.2 173.7l2 0.3M274.1 173.7l1.8 0.8M298.5 173.7l-1.8 -0.9M151.8 178.8l-0.9 -1.8M156.7 178.8l0.1 -2M161.6 178.8l0.5 -1.9M166.5 178.8l0.7 -1.9M171.4 178.8l2 -0.3M176.2 178.8l1.7 1.1M264.3 178.8l2 0.1M269.2 178.8l1.9 0.5M274.1 178.8l1.4 1.4M293.6 178.8l-2 -0.4M298.5 178.8l-1 -1.7M151.8 183.9l-0 -2M156.7 183.9l0.4 -2M161.6 183.9l0.8 -1.8M166.5 183.9l1.9 -0.6M171.4 183.9l1.9 0.6M176.2 183.9l1.7 1M181.1 183.9l1.6 1.2M186 183.9l1.2 1.6M190.9 183.9l0.8 1.8M288.7 183.9l-2 -0M293.6 183.9l-1.9 -0.8M298.5 183.9l-1.5 -1.3M151.8 188.9l-1 -1.7M156.7 188.9l-0.8 -1.8M161.6 188.9l1.6 1.2M166.5 188.9l1.6 1.2M171.4 188.9l1.6 1.2M176.2 188.9l1.7 1M181.1 188.9l-1.6 -1.2M186 188.9l-1.3 1.5M190.9 188.9l0 2M151.8 194l-1.2 1.6M156.7 194l-0.6 1.9M161.6 194l-0.6 1.9M166.5 194l-1.5 1.3M171.4 194l-1.9 -0.4M176.2 194l-1.7 -1.1M181.1 194l-1.9 -0.6M186 194l-1.3 1.5M151.8 199.1l-0.4 2M156.7 199.1l-0.9 1.8M161.6 199.1l-1.7 1.1M166.5 199.1l-2 0M171.4 199.1l-1.9 -0.5M176.2 199.1l-2 -0.1M298.5 199.1l-1.9 -0.7M298.5 204.2l-1.5 -1.3M303.4 204.2l-0.1 -2M298.5 209.2l-2 -0.4M230 239.6l2 -0M234.9 239.6l2 0M278.9 239.6l1.7 -1.1M225.2 244.7l1.6 -1.1M230 244.7l1.6 -1.1M259.4 244.7l1.1 -1.7M264.3 244.7l0.7 -1.9M269.2 244.7l0.5 -1.9M274.1 244.7l0.9 -1.8M278.9 244.7l1.6 -1.2M283.8 244.7l2 -0M166.5 249.8l1.4 -1.5M249.6 249.8l0.5 -1.9M254.5 249.8l-0.8 -1.8M259.4 249.8l-1.8 -0.9M264.3 249.8l-1.3 -1.5M269.2 249.8l-0.1 -2M274.1 249.8l0.9 -1.8M278.9 249.8l1.7 -1.1M283.8 249.8l2 -0.2M288.7 249.8l2 0.3M293.6 249.8l2 0.1M298.5 249.8l1.8 -0.8M303.4 249.8l1.2 -1.6M151.8 254.9l0.5 -1.9M156.7 254.9l0.6 -1.9M161.6 254.9l1 -1.8M244.7 254.9l-0.2 -2M249.6 254.9l-1.8 -0.8M254.5 254.9l-2 0.2M259.4 254.9l-1.8 -0.9M264.3 254.9l-0.8 -1.8M269.2 254.9l0.3 -2M274.1 254.9l1.1 -1.7M278.9 254.9l1.5 -1.4M283.8 254.9l1.6 -1.2M288.7 254.9l1.5 -1.4M293.6 254.9l0.9 -1.8M298.5 254.9l0.5 -1.9M151.8 259.9l0 -2M156.7 259.9l0.7 -1.9M161.6 259.9l1.5 -1.3M239.8 259.9l0.2 -2M244.7 259.9l-0.6 -1.9M249.6 259.9l-1.5 -1.3M254.5 259.9l-1.2 -1.6M259.4 259.9l-0.5 -1.9M264.3 259.9l0.2 -2M269.2 259.9l0.6 -1.9M274.1 259.9l0.7 -1.9M278.9 259.9l0.5 -1.9M283.8 259.9l0.1 -2M288.7 259.9l-0.3 -2M293.6 259.9l-0.1 -2M151.8 265l0.6 -1.9M156.7 265l1.7 -1.1M239.8 265l0.4 -2M244.7 265l0.1 -2M249.6 265l-0.1 -2M254.5 265l0.1 -2M259.4 265l0.4 -2M264.3 265l0.5 -1.9M269.2 265l0.2 -2M274.1 265l-0.2 -2M278.9 265l-0.7 -1.9M283.8 265l-0.8 -1.8M151.8 270.1l1.8 -0.8M156.7 270.1l1.9 0.7M161.6 270.1l1.2 1.6M166.5 270.1l0.8 1.8M259.4 270.1l0.4 -2M264.3 270.1l-0.1 -2M269.2 270.1l-0.7 -1.9M151.8 275.1l1.6 1.2M156.7 275.1l0.6 1.9M254.5 275.1l0.4 -2M259.4 275.1l-0.3 -2M264.3 275.1l-1 -1.7" stroke="#5c90c2" stroke-width="0.8" stroke-opacity="0.6" fill="none"/><path d="M151.8 77.4l0.4 2M166.5 77.4l1.8 -1.4M176.2 77.4l1.9 -1M181.1 77.4l1.9 -0.6M220.3 77.4l0.4 2.1M264.3 77.4l1.7 1.4M269.2 77.4l1.9 1.1M274.1 77.4l2.2 1M200.7 82.5l1.8 -0.9M259.4 82.5l2.1 0.2M264.3 82.5l2 -0.2M269.2 82.5l2 -0.2M274.1 82.5l2.3 0.3M166.5 87.5l2 0.3M171.4 87.5l2.3 0.3M195.8 87.5l2 -1M254.5 87.5l1.7 -1M259.4 87.5l1.4 -1.4M264.3 87.5l1.5 -1.4M269.2 87.5l1.9 -0.7M181.1 92.6l2 -0.4M186 92.6l1.9 -0.7M200.7 92.6l0.5 1.9M249.6 92.6l0.8 -1.8M269.2 92.6l1.9 -0.6M151.8 97.7l1 2M156.7 97.7l1 2.1M161.6 97.7l0.8 1.9M166.5 97.7l0.9 1.8M239.8 97.7l1.3 -1.9M269.2 97.7l1.9 -0.6M166.5 102.8l0.9 1.8M181.1 102.8l1.4 1.4M234.9 102.8l1 -1.7M274.1 102.8l1.8 -0.9M161.6 107.8l0.7 2.1M166.5 107.8l0.8 1.8M171.4 107.8l1 1.8M283.8 107.8l1.7 -1M220.3 112.9l1.8 -1.6M283.8 112.9l1.2 -1.6M215.4 118l1.6 -1.2M264.3 118l-0.5 1.9M269.2 118l-1.1 1.7M283.8 118l1.3 -1.9M327.8 118l1 1.9M337.6 118l0.6 2.2M249.6 123l0.8 1.8M254.5 123l1.1 2M264.3 123l0.1 2.2M269.2 123l-1.3 1.6M274.1 123l-2 -0.4M278.9 123l-0.5 -1.9M318.1 123l1.7 1.2M322.9 123l1 1.8M327.8 123l0.6 1.9M332.7 123l0.7 1.9M215.4 128.1l2 -0M220.3 128.1l2 0.2M234.9 128.1l1.3 1.5M264.3 128.1l-0.4 2.1M269.2 128.1l-1.9 0.7M274.1 128.1l-1.6 -1.1M278.9 128.1l-0.7 -1.9M283.8 128.1l-0.1 -2M288.7 128.1l0.3 -2M293.6 128.1l0.7 -1.9M298.5 128.1l1.5 -1.8M313.2 128.1l1.6 1.2M318.1 128.1l1 1.8M220.3 133.2l2 0.1M225.2 133.2l1.8 0.8M264.3 133.2l-1.3 1.5M269.2 133.2l-2 0.1M274.1 133.2l-1.8 -0.9M278.9 133.2l-1.6 -1.2M283.8 133.2l-1.3 -1.5M288.7 133.2l-0.7 -1.9M293.6 133.2l0.5 -1.9M298.5 133.2l1.8 -1.2M303.4 133.2l2.2 0.1M308.3 133.2l1.6 1.2M313.2 133.2l0.9 1.8M220.3 138.2l1.9 0.6M259.4 138.2l-0.5 2.2M264.3 138.2l-1.4 1.4M269.2 138.2l-1.8 0.8M274.1 138.2l-2 0.3M278.9 138.2l-2 -0.3M283.8 138.2l-1.5 -1.3M288.7 138.2l-0 -2M293.6 138.2l1.5 -1.3M298.5 138.2l2 0.2M303.4 138.2l1.5 1.3M220.3 143.3l1.2 1.6M264.3 143.3l-0.9 1.9M269.2 143.3l-1.3 1.5M274.1 143.3l-1.8 0.8M283.8 143.3l-0.2 -2M288.7 143.3l1.6 -1.2M293.6 143.3l2 0.3M298.5 143.3l1.5 1.4M161.6 148.4l-0.5 2.3M205.6 148.4l1.9 -0.7M220.3 148.4l0.3 2M269.2 148.4l-1.6 1.2M283.8 148.4l1.7 -1.1M288.7 148.4l1.9 0.5M293.6 148.4l1.4 1.4M298.5 148.4l1 1.7M156.7 153.5l-0.8 2.1M161.6 153.5l-0.1 2.1M166.5 153.5l0.6 1.9M171.4 153.5l1 1.8M176.2 153.5l1.1 1.7M181.1 153.5l1.1 1.7M190.9 153.5l1.4 1.4M195.8 153.5l1.9 0.7M200.7 153.5l2 -0.4M225.2 153.5l-1.3 1.5M230 153.5l-1.4 1.4M234.9 153.5l-1.5 1.3M239.8 153.5l-1.6 1.2M244.7 153.5l-1.6 1.5M264.3 153.5l-1.8 0.8M269.2 153.5l-1.8 -0.9M274.1 153.5l0 -2M278.9 153.5l1.7 -1.1M283.8 153.5l1.9 0.5M288.7 153.5l1.4 1.4M293.6 153.5l1 1.7M318.1 153.5l-1 1.7M322.9 153.5l-1.6 1.3M151.8 158.5l-0.8 2.1M156.7 158.5l-0.3 2M161.6 158.5l-0 2M166.5 158.5l0 2M200.7 158.5l1.6 -1.2M205.6 158.5l0.2 -2M210.5 158.5l-1 -1.7M215.4 158.5l-1.6 -1.2M220.3 158.5l-1.7 -1M225.2 158.5l-1.8 -1M230 158.5l-2 -1M254.5 158.5l-2 1.3M259.4 158.5l-2 0.2M264.3 158.5l-1.5 -1.4M269.2 158.5l0.3 -2M274.1 158.5l1.7 -1M283.8 158.5l1.5 1.3M288.7 158.5l1.1 1.7M293.6 158.5l0.9 1.8M298.5 158.5l0.6 1.9M313.2 158.5l-1.8 0.9M318.1 158.5l-2 -0M151.8 163.6l-0.4 2M156.7 163.6l-0.4 2M195.8 163.6l2 -0.1M200.7 163.6l1.5 -1.3M205.6 163.6l0.8 -1.8M210.5 163.6l0.3 -2M215.4 163.6l0.1 -2.3M249.6 163.6l-2.2 0.5M254.5 163.6l-1.9 -0.6M259.4 163.6l-0.9 -1.8M264.3 163.6l0.8 -1.8M269.2 163.6l1.8 -0.8M288.7 163.6l0.9 1.8M293.6 163.6l0.4 2M298.5 163.6l-0.4 1.9M303.4 163.6l-1.5 1.3M308.3 163.6l-2 -0.1M313.2 163.6l-1.7 -1.1M318.1 163.6l-1.6 -1.3M190.9 168.7l1.8 0.8M195.8 168.7l2.4 -0M234.9 168.7l-2.3 -0.6M239.8 168.7l-2.2 -0.1M244.7 168.7l-1.9 -0.5M249.6 168.7l-1.4 -1.4M254.5 168.7l0 -2M259.4 168.7l1.3 -1.5M283.8 168.7l1 1.7M288.7 168.7l0.3 2.3M298.5 168.7l-1.7 1M303.4 168.7l-1.9 -0.8M308.3 168.7l-1.1 -1.6M313.2 168.7l-1.1 -1.9M186 173.7l1.6 1.2M230 173.7l-1.4 -1.5M234.9 173.7l-1.6 -1.2M239.8 173.7l-1.3 -1.6M244.7 173.7l-0.2 -2M249.6 173.7l1.1 -1.7M254.5 173.7l1.8 -0.9M259.4 173.7l2 -0.3M278.9 173.7l1.2 1.6M283.8 173.7l0.1 2.1M293.6 173.7l-1.8 0.9M303.4 173.7l-0.8 -1.8M308.3 173.7l-0.7 -2M181.1 178.8l1.6 1.2M186 178.8l1.7 1.3M225.2 178.8l0.1 -2M230 178.8l-0.1 -2M234.9 178.8l0.4 -2M239.8 178.8l1.3 -1.6M244.7 178.8l1.8 -0.9M249.6 178.8l2 -0.4M254.5 178.8l2 -0.1M259.4 178.8l2 -0M278.9 178.8l0.1 2M283.8 178.8l-1.2 1.8M288.7 178.8l-1.8 0.9M303.4 178.8l-0.7 -1.9M195.8 183.9l0.8 1.8M249.6 183.9l2.1 0.1M254.5 183.9l2 -0M259.4 183.9l2 0M264.3 183.9l2 0.4M269.2 183.9l1.6 1.3M274.1 183.9l0.3 2M278.9 183.9l-1.3 1.5M283.8 183.9l-1.9 0.6M303.4 183.9l-1.4 -1.5M249.6 188.9l2.3 0.1M254.5 188.9l2.1 0.1M259.4 188.9l2.1 0.4M264.3 188.9l1.8 1.3M269.2 188.9l0.6 1.9M274.1 188.9l-1.1 1.7M278.9 188.9l-1.9 0.6M283.8 188.9l-2 0.2M288.7 188.9l-2 0.3M293.6 188.9l-2 0.2M298.5 188.9l-2 -0.4M303.4 188.9l-1.7 -1.3M190.9 194l0.4 2M269.2 194l-0.4 2M274.1 194l-1.6 1.3M278.9 194l-1.9 0.7M298.5 194l-2 -0.1M303.4 194l-1.2 -1.6M308.3 194l0 -2.4M181.1 199.1l-1.6 1.2M186 199.1l-0.1 2.2M269.2 199.1l-0.5 2.2M274.1 199.1l-1.2 2M303.4 199.1l-0.2 -2M151.8 204.2l-0.5 1.9M156.7 204.2l-1.4 1.4M161.6 204.2l-1.9 0.6M166.5 204.2l-2 0.3M171.4 204.2l-2 0.7M176.2 204.2l-1.5 1.7M293.6 204.2l-2 0.7M151.8 209.2l-0.8 1.9M156.7 209.2l-1.7 1.6M293.6 209.2l-1.9 0.7M186 219.4l1 2.1M190.9 219.4l1.2 2M234.9 234.6l2.1 0M239.8 234.6l2 0.1M244.7 234.6l2.1 -0.5M283.8 234.6l2 0.2M181.1 239.6l2.3 -0.7M225.2 239.6l2 -0.6M239.8 239.6l1.9 -0.6M269.2 239.6l1.5 -1.3M274.1 239.6l1.5 -1.4M283.8 239.6l2 -0.1M288.7 239.6l1.8 1M298.5 239.6l1.4 1.8M151.8 244.7l1.5 -1.5M156.7 244.7l1.9 -0.8M161.6 244.7l1.9 -0.6M166.5 244.7l1.8 -0.8M171.4 244.7l1.8 -0.9M176.2 244.7l1.8 -0.9M181.1 244.7l1.9 -0.8M220.3 244.7l1.5 -1.3M234.9 244.7l1.5 -1.3M254.5 244.7l1.4 -1.4M288.7 244.7l1.8 0.9M293.6 244.7l1.6 1.2M298.5 244.7l1.8 0.9M303.4 244.7l2 0M151.8 249.8l1.3 -1.6M156.7 249.8l1.4 -1.4M161.6 249.8l1.3 -1.5M171.4 249.8l1.6 -1.2M176.2 249.8l1.8 -0.8M181.1 249.8l2.3 -0.4M220.3 249.8l0.9 -1.8M225.2 249.8l1 -1.9M244.7 249.8l1 -1.7M308.3 249.8l0.9 -1.8M166.5 254.9l1.5 -1.4M171.4 254.9l1.9 -0.7M176.2 254.9l2.1 -0.1M239.8 254.9l0.6 -1.9M303.4 254.9l0.7 -1.9M308.3 254.9l1.2 -1.8M166.5 259.9l2 -0.4M171.4 259.9l2 0.4M176.2 259.9l1.8 0.8M298.5 259.9l0.6 -1.9M303.4 259.9l1.5 -1.6M161.6 265l2 0.1M166.5 265l1.7 1M171.4 265l1.5 1.4M176.2 265l1.5 1.3M234.9 265l0.6 -1.9M288.7 265l-0.4 -2M293.6 265l0.7 -1.9M298.5 265l1.8 -1.3M171.4 270.1l0.9 1.8M176.2 270.1l1.5 1.5M234.9 270.1l0.6 -1.9M239.8 270.1l0.5 -1.9M244.7 270.1l0.5 -1.9M249.6 270.1l0.6 -1.9M254.5 270.1l0.6 -1.9M274.1 270.1l-1.1 -1.7M278.9 270.1l-1 -1.7M283.8 270.1l-0.3 -2M288.7 270.1l0.9 -1.8M161.6 275.1l0.1 2M166.5 275.1l0.2 2M171.4 275.1l0.6 1.9M176.2 275.1l1.2 2M195.8 275.1l0.9 2M234.9 275.1l1 -2M239.8 275.1l1 -1.8M244.7 275.1l1 -1.7M249.6 275.1l0.9 -1.8M269.2 275.1l-1.3 -1.6M274.1 275.1l-1 -1.7M278.9 275.1l-0.1 -2.1M283.8 275.1l1.4 -1.9" stroke="#74add1" stroke-width="0.8" stroke-opacity="0.6" fill="none"/><path d="M167.9 76.3l0.4 -0.3M265.6 78.5l0.4 0.3M275.7 78.1l0.5 0.2M157.5 99.3l0.2 0.5M240.8 96.2l0.3 -0.4M221.7 111.7l0.4 -0.3M284.8 116.5l0.3 -0.4M255.4 124.6l0.2 0.4M299.6 126.7l0.3 -0.4M243.5 154.7l-0.3 0.3M253 159.5l-0.4 0.3M282.9 180.2l-0.3 0.4M265.7 189.9l0.4 0.3M273.1 200.6l-0.3 0.4M175.1 205.5l-0.3 0.4M155.4 210.4l-0.4 0.3M186.8 221l0.2 0.5M191.9 220.9l0.3 0.4M299.6 241.1l0.3 0.4M153 243.6l0.3 -0.3M309.2 253.4l0.3 -0.4M304.5 258.7l0.3 -0.4M299.9 264l0.4 -0.3M177.4 271.3l0.3 0.3M177.2 276.7l0.3 0.4M284.9 273.6l0.3 -0.4" stroke="#74add1" stroke-width="1.4" stroke-opacity="0.65" fill="none"/><path d="M171.4 77.4l2.2 -1.4M225.2 77.4l2.3 2.7M244.7 77.4l3.3 1M249.6 77.4l2.6 1.7M254.5 77.4l1.9 1.9M259.4 77.4l1.6 1.8M278.9 77.4l2.4 1.3M283.8 77.4l2.6 2.1M288.7 77.4l2.2 2.8M293.6 77.4l1.5 2.8M298.5 77.4l1.1 2.6M303.4 77.4l1.2 3M161.6 82.5l2.2 -0.9M166.5 82.5l3 -0.9M171.4 82.5l3.3 -0.6M176.2 82.5l3.4 -0.3M181.1 82.5l3.4 -0.2M186 82.5l3.2 -0.4M190.9 82.5l2.9 -0.7M195.8 82.5l2.5 -1M215.4 82.5l1.2 2.4M244.7 82.5l3 1.5M249.6 82.5l2.6 1.3M254.5 82.5l2.3 0.8M278.9 82.5l2.9 1.4M176.2 87.5l2.6 0.2M181.1 87.5l2.8 -0.2M186 87.5l3 -0.7M190.9 87.5l2.9 -1.1M210.5 87.5l1.7 2.8M239.8 87.5l3.4 1.1M244.7 87.5l3 0.4M249.6 87.5l2.5 -0.4M274.1 87.5l2.4 0.4M239.8 92.6l3.2 -0.7M244.7 92.6l2 -1.5M274.1 92.6l2.7 0.6M195.8 97.7l1.2 2.9M274.1 97.7l2.8 0.2M151.8 102.8l2 2.4M156.7 102.8l1.5 2.8M161.6 102.8l0.9 2.2M186 102.8l1.4 2.7M278.9 102.8l2.4 -0.7M151.8 107.8l2.2 2.6M156.7 107.8l1.3 2.9M176.2 107.8l1.4 2.8M151.8 112.9l1.8 2.9M156.7 112.9l0.9 2.8M161.6 112.9l0.7 2.5M166.5 112.9l0.9 3.1M322.9 112.9l3.1 1.9M327.8 112.9l2.2 2.4M151.8 118l1.8 3M313.2 118l3.6 0.3M318.1 118l2.8 0.9M322.9 118l1.9 1.6M210.5 123l2.2 -1M259.4 123l1 2.2M283.8 123l1.1 -2.3M288.7 123l2.4 -2.2M293.6 123l2.9 -1.9M298.5 123l2.9 -1.7M303.4 123l3 -1.3M308.3 123l3 -0.6M313.2 123l2.6 0.5M210.5 128.1l2.4 -0.4M239.8 128.1l1.7 2M244.7 128.1l2.6 2.4M259.4 128.1l1.4 2.9M303.4 128.1l2.3 -1.1M308.3 128.1l2.4 0.2M210.5 133.2l3.4 -0.5M215.4 133.2l2.7 -0.3M230 133.2l1.8 1.7M259.4 133.2l0.3 2.8M215.4 138.2l2.6 -0.2M225.2 138.2l2.1 2M156.7 143.3l0.8 3.4M161.6 143.3l0.1 2.7M166.5 143.3l0.4 2.7M171.4 143.3l1.7 3.1M210.5 143.3l2.5 -0.5M254.5 143.3l0 3.4M259.4 143.3l-0.6 2.5M151.8 148.4l-0.3 2.9M156.7 148.4l-0.8 2.3M166.5 148.4l0.5 2.4M171.4 148.4l1.6 2.3M176.2 148.4l2.4 1.7M181.1 148.4l2.6 1.2M186 148.4l2.5 0.9M190.9 148.4l2.5 0.7M195.8 148.4l2.6 0.5M200.7 148.4l2.6 -0M244.7 148.4l-0 3.6M249.6 148.4l-0.4 3.1M254.5 148.4l-0.7 3M259.4 148.4l-0.8 2.8M264.3 148.4l-1.1 2.2M151.8 153.5l-1.2 2.2M249.6 153.5l-1.5 2.1M254.5 153.5l-1.4 2.4M259.4 153.5l-1.5 1.9M234.9 158.5l-2.3 -0.5M239.8 158.5l-2.5 0.4M244.7 158.5l-2.3 1.3M249.6 158.5l-2 1.7M220.3 163.6l-0.2 -2.5M225.2 163.6l-0.8 -2.5M230 163.6l-1.8 -2M234.9 163.6l-2.6 -0.8M239.8 163.6l-2.6 0.4M244.7 163.6l-2.3 0.9M200.7 168.7l2.5 -0.7M205.6 168.7l2.6 -1.1M210.5 168.7l2.6 -1.5M215.4 168.7l2.3 -2M220.3 168.7l1.4 -2.7M225.2 168.7l-0.3 -2.7M230 168.7l-1.8 -1.8M293.6 168.7l-0.9 2.3M318.1 168.7l-1.8 -1.8M190.9 173.7l2.5 1.2M195.8 173.7l3 1.2M200.7 173.7l3.3 1.2M220.3 173.7l1.6 -2.7M225.2 173.7l-0.4 -2.4M288.7 173.7l-1.2 2.3M313.2 173.7l-1.4 -2.2M190.9 178.8l1.7 1.7M195.8 178.8l1.8 2.1M200.7 178.8l2.4 2.4M220.3 178.8l1.4 -2.7M308.3 178.8l-1.2 -2.1M313.2 178.8l-2 -2.1M220.3 183.9l2.1 -2.3M225.2 183.9l1.8 -1.8M230 183.9l2.1 -1.4M234.9 183.9l2.6 -0.7M239.8 183.9l2.7 -0.2M244.7 183.9l2.5 0.1M308.3 183.9l-1.7 -2M195.8 188.9l1.3 2.3M239.8 188.9l3.3 0.6M244.7 188.9l2.8 0.3M308.3 188.9l-1.3 -2.3M239.8 194l3.5 0.6M244.7 194l3 0.3M249.6 194l2.9 0.3M254.5 194l3.1 0.7M259.4 194l2.8 1.8M264.3 194l1.3 2.4M283.8 194l-2.2 1M288.7 194l-2.7 1.6M293.6 194l-2.7 1.2M190.9 199.1l1.9 2.9M264.3 199.1l0.7 2.9M278.9 199.1l-1.9 2.4M293.6 199.1l-2.8 1.5M181.1 204.2l-0.2 2.7M186 204.2l1.5 2.9M190.9 204.2l2.5 2.5M161.6 209.2l-2 1.5M166.5 209.2l-1.8 2M171.4 209.2l-0.9 2.7M176.2 209.2l0.5 3M181.1 209.2l1.6 2.7M186 209.2l2 2.4M190.9 209.2l1.9 2.4M195.8 209.2l1.7 2.5M200.7 209.2l1.8 2.6M205.6 209.2l2.5 2.6M151.8 214.3l-0.5 2.5M156.7 214.3l-0.7 2.7M161.6 214.3l-0.2 2.9M166.5 214.3l0.8 2.9M171.4 214.3l1.7 2.6M176.2 214.3l2 2.3M181.1 214.3l1.9 2.2M186 214.3l1.4 2.3M190.9 214.3l1.1 2.4M195.8 214.3l1.3 2.3M200.7 214.3l2 2.2M205.6 214.3l3 1.7M215.4 214.3l3.5 0.4M220.3 214.3l3.4 0.4M293.6 214.3l-2.3 2M298.5 214.3l-2.1 1.4M151.8 219.4l1.6 2.4M156.7 219.4l2.1 2.2M161.6 219.4l2.6 1.7M166.5 219.4l2.8 1.4M171.4 219.4l2.6 1.5M176.2 219.4l2.1 1.9M181.1 219.4l1.4 2.2M195.8 219.4l2 1.8M200.7 219.4l2.8 1.1M205.6 219.4l3 0.3M210.5 219.4l2.9 -0M215.4 219.4l3 0.1M151.8 224.4l3.2 -0.3M156.7 224.4l3.2 -0.6M161.6 224.4l3.2 -0.3M166.5 224.4l3.1 0.5M171.4 224.4l2.6 1.5M176.2 224.4l1.8 2M181.1 224.4l1.4 2M186 224.4l1.6 1.8M190.9 224.4l2.3 1.3M195.8 224.4l2.9 0.5M200.7 224.4l2.8 -0.1M205.6 224.4l2.7 -0.3M210.5 224.4l3 -0.2M151.8 229.5l1.8 -2.5M156.7 229.5l2.5 -1.9M161.6 229.5l3.1 -0.6M166.5 229.5l3 0.8M171.4 229.5l2.3 1.6M176.2 229.5l2 1.7M181.1 229.5l2.3 1.4M186 229.5l2.8 0.8M190.9 229.5l3 0M195.8 229.5l2.9 -0.5M200.7 229.5l2.9 -0.6M205.6 229.5l3.5 -0.4M239.8 229.5l3.2 -0.4M244.7 229.5l2.4 -0.4M249.6 229.5l2.8 -1M298.5 229.5l1.3 2.6M151.8 234.6l1 -2.6M156.7 234.6l2.4 -1.6M161.6 234.6l3 -0.1M166.5 234.6l2.7 0.9M171.4 234.6l2.5 1.1M176.2 234.6l2.7 0.8M181.1 234.6l2.9 0.2M186 234.6l2.9 -0.4M190.9 234.6l2.8 -0.7M195.8 234.6l3.2 -0.7M230 234.6l3.4 -0.5M274.1 234.6l3.5 -0.7M278.9 234.6l2.5 -0.4M288.7 234.6l2.1 1.3M293.6 234.6l1.9 2.2M298.5 234.6l1.3 2.3M151.8 239.6l1.4 -2.1M156.7 239.6l2.4 -0.9M161.6 239.6l2.5 0M166.5 239.6l2.5 0.2M171.4 239.6l2.4 -0M176.2 239.6l2.3 -0.4M186 239.6l2.4 -0.8M190.9 239.6l3.1 -0.7M244.7 239.6l2.8 -1.4M264.3 239.6l2.5 -1.5M293.6 239.6l1.8 1.9M186 244.7l2.7 -0.6M190.9 244.7l3.5 -0.2M215.4 244.7l2.8 -2M239.8 244.7l2.1 -1.6M244.7 244.7l2.6 -1.8M249.6 244.7l2.2 -1.7M186 249.8l3 0.1M215.4 249.8l1.3 -2.3M230 249.8l1.6 -2.3M234.9 249.8l2 -2.4M239.8 249.8l1.7 -2.2M181.1 254.9l2.4 0.5M186 254.9l3 0.7M181.1 259.9l2.3 1M234.9 259.9l1.2 -2.8M308.3 259.9l2.4 -1.1M313.2 259.9l2.9 -0.4M181.1 265l2.7 1.2M303.4 265l2.7 -0.5M308.3 265l2.9 0.2M313.2 265l3 -0M181.1 270.1l2.9 1.5M230 270.1l1.4 -3M293.6 270.1l2.2 -1M298.5 270.1l2.9 0.1M303.4 270.1l2.9 0.7M308.3 270.1l3 0.3M313.2 270.1l2.9 -0.6M181.1 275.1l1.6 2.2M186 275.1l1.6 2.3M190.9 275.1l1.2 2.3M200.7 275.1l1.4 2M205.6 275.1l2.9 2M230 275.1l1.2 -2.5M288.7 275.1l2.5 -0.8M293.6 275.1l2.9 0.5M298.5 275.1l2.9 0.9M303.4 275.1l3 0.5M308.3 275.1l2.9 -0.2M313.2 275.1l2.5 -0.8M318.1 275.1l2.2 -0.9" stroke="#90c3dd" stroke-width="0.8" stroke-opacity="0.6" fill="none"/><path d="M173.1 76.3l0.5 -0.3M226.9 79.5l0.5 0.6M247.3 78.2l0.7 0.2M251.6 78.7l0.6 0.4M256 78.9l0.4 0.4M260.7 78.8l0.4 0.4M280.8 78.4l0.5 0.3M285.8 79l0.6 0.5M290.4 79.6l0.5 0.6M294.8 79.6l0.3 0.6M299.4 79.4l0.2 0.6M304.3 79.7l0.3 0.7M163.3 81.7l0.5 -0.2M168.8 81.7l0.7 -0.2M173.9 82l0.7 -0.1M178.9 82.2l0.7 -0.1M183.8 82.3l0.7 -0M188.5 82.2l0.7 -0.1M193.2 81.9l0.6 -0.1M197.8 81.7l0.6 -0.2M216.3 84.4l0.3 0.5M247.1 83.6l0.7 0.3M251.6 83.5l0.6 0.3M256.3 83.1l0.5 0.2M281.2 83.6l0.6 0.3M183.3 87.4l0.6 -0.1M188.4 87l0.7 -0.2M193.2 86.7l0.6 -0.2M211.8 89.8l0.4 0.6M242.5 88.4l0.8 0.2M247.1 87.9l0.7 0.1M242.3 92.1l0.7 -0.1M246.2 91.4l0.4 -0.3M276.2 93.1l0.6 0.1M196.7 99.9l0.3 0.6M153.3 104.6l0.4 0.5M157.9 104.9l0.3 0.6M162.2 104.5l0.2 0.5M187.2 104.8l0.3 0.6M280.8 102.2l0.5 -0.2M153.5 109.9l0.5 0.6M157.7 110.1l0.3 0.6M177.3 110l0.3 0.6M153.2 115.1l0.4 0.6M157.4 115.1l0.2 0.6M162.1 114.9l0.1 0.6M167.2 115.3l0.2 0.7M325.3 114.4l0.7 0.4M329.6 114.8l0.5 0.5M153.2 120.3l0.4 0.7M316 118.2l0.8 0.1M320.3 118.7l0.6 0.2M324.4 119.2l0.4 0.3M212.2 122.2l0.5 -0.2M260.2 124.8l0.2 0.5M284.7 121.2l0.3 -0.5M290.6 121.3l0.5 -0.5M295.9 121.5l0.6 -0.4M300.8 121.7l0.6 -0.4M305.7 122l0.7 -0.3M310.6 122.6l0.7 -0.1M315.2 123.4l0.6 0.1M241.1 129.6l0.4 0.4M246.7 130l0.6 0.5M260.5 130.3l0.3 0.6M305.2 127.3l0.5 -0.2M213.1 132.7l0.7 -0.1M231.5 134.5l0.4 0.4M259.6 135.4l0.1 0.6M226.8 139.8l0.5 0.4M157.3 145.9l0.2 0.7M166.8 145.4l0.1 0.6M172.7 145.7l0.4 0.7M254.5 146l0 0.8M258.9 145.2l-0.1 0.5M151.6 150.6l-0.1 0.6M156.1 150.2l-0.2 0.5M172.6 150.2l0.4 0.5M178.1 149.7l0.5 0.4M183.2 149.3l0.6 0.3M188 149.1l0.6 0.2M192.9 149l0.6 0.2M197.8 148.8l0.6 0.1M244.7 151.1l-0 0.8M249.3 150.8l-0.1 0.7M254 150.7l-0.1 0.7M258.7 150.6l-0.2 0.6M263.4 150.1l-0.2 0.5M150.9 155.2l-0.3 0.5M248.4 155.1l-0.3 0.5M253.4 155.3l-0.3 0.5M258.2 154.9l-0.3 0.4M242.9 159.5l-0.5 0.3M248 159.8l-0.4 0.4M224.5 161.6l-0.2 -0.6M228.6 162.1l-0.4 -0.4M232.9 163l-0.6 -0.2M237.8 163.9l-0.6 0.1M242.9 164.3l-0.5 0.2M202.7 168.1l0.6 -0.2M207.6 167.8l0.6 -0.2M212.5 167.5l0.6 -0.3M217.2 167.1l0.5 -0.4M221.3 166.6l0.3 -0.6M224.9 166.5l-0.1 -0.6M228.7 167.3l-0.4 -0.4M292.9 170.4l-0.2 0.5M316.7 167.3l-0.4 -0.4M192.9 174.7l0.6 0.3M198.1 174.7l0.7 0.3M203.2 174.7l0.7 0.3M221.5 171.6l0.4 -0.6M287.8 175.5l-0.3 0.5M312.1 172l-0.3 -0.5M192.3 180.1l0.4 0.4M197.2 180.4l0.4 0.5M202.6 180.7l0.5 0.5M221.3 176.7l0.3 -0.6M307.3 177.2l-0.3 -0.5M311.6 177.2l-0.4 -0.5M221.9 182.1l0.5 -0.5M226.5 182.4l0.4 -0.4M231.7 182.8l0.5 -0.3M237 183.3l0.6 -0.2M306.9 182.3l-0.4 -0.4M196.8 190.8l0.3 0.5M242.4 189.4l0.7 0.1M246.9 189.2l0.6 0.1M307.3 187.2l-0.3 -0.5M242.6 194.4l0.8 0.1M247 194.2l0.7 0.1M251.8 194.2l0.6 0.1M256.9 194.6l0.7 0.2M261.6 195.4l0.6 0.4M265.3 195.9l0.3 0.5M282.1 194.8l-0.5 0.2M286.6 195.2l-0.6 0.3M291.5 195l-0.6 0.3M192.4 201.4l0.4 0.6M264.8 201.4l0.2 0.6M277.5 201l-0.4 0.5M291.4 200.2l-0.6 0.3M187.2 206.4l0.3 0.6M192.9 206.1l0.6 0.6M160 210.4l-0.5 0.3M165 210.8l-0.4 0.4M170.7 211.3l-0.2 0.6M176.7 211.5l0.1 0.7M182.4 211.3l0.3 0.6M187.6 211.1l0.4 0.5M192.4 211.1l0.4 0.5M197.2 211.2l0.4 0.6M202.1 211.3l0.4 0.6M207.5 211.2l0.5 0.6M151.4 216.2l-0.1 0.5M156.1 216.4l-0.2 0.6M161.4 216.6l-0 0.6M167.1 216.6l0.2 0.6M172.7 216.3l0.4 0.6M177.8 216l0.4 0.5M182.6 216l0.4 0.5M187.2 216.1l0.3 0.5M191.8 216.1l0.2 0.5M196.8 216.1l0.3 0.5M202.3 216l0.4 0.5M207.9 215.6l0.7 0.4M218.1 214.6l0.8 0.1M222.9 214.6l0.8 0.1M291.8 215.8l-0.5 0.4M296.9 215.4l-0.5 0.3M153 221.3l0.4 0.5M158.4 221.1l0.5 0.5M163.6 220.7l0.6 0.4M168.7 220.4l0.6 0.3M173.4 220.5l0.6 0.3M177.9 220.9l0.5 0.4M182.3 221.1l0.3 0.5M197.3 220.7l0.4 0.4M202.9 220.2l0.6 0.2M208 219.6l0.7 0.1M217.7 219.4l0.7 0M154.3 224.2l0.7 -0.1M159.2 224l0.7 -0.1M164.1 224.2l0.7 -0.1M168.9 224.8l0.7 0.1M173.4 225.6l0.6 0.3M177.6 226l0.4 0.4M182.2 226l0.3 0.4M187.3 225.8l0.4 0.4M192.7 225.5l0.5 0.3M198 224.9l0.6 0.1M207.7 224.2l0.6 -0.1M212.9 224.2l0.7 -0.1M153.2 227.6l0.4 -0.5M158.6 228l0.5 -0.4M164 229l0.7 -0.1M168.8 230.1l0.7 0.2M173.2 230.8l0.5 0.4M177.8 230.8l0.4 0.4M182.9 230.6l0.5 0.3M188.2 230.1l0.6 0.2M193.3 229.5l0.7 0M198.1 229.1l0.6 -0.1M203 229.1l0.6 -0.1M208.3 229.2l0.8 -0.1M242.3 229.2l0.7 -0.1M251.8 228.7l0.6 -0.2M299.5 231.6l0.3 0.6M152.6 232.5l0.2 -0.6M158.6 233.3l0.5 -0.3M163.9 234.5l0.7 -0M168.6 235.3l0.6 0.2M173.3 235.4l0.6 0.2M178.4 235.2l0.6 0.2M183.4 234.7l0.6 0M188.3 234.3l0.6 -0.1M193.1 234.1l0.6 -0.1M198.3 234l0.7 -0.1M232.7 234.1l0.8 -0.1M276.8 234l0.8 -0.2M290.3 235.6l0.5 0.3M295.1 236.3l0.4 0.5M299.5 236.3l0.3 0.5M152.9 238l0.3 -0.5M158.6 238.9l0.5 -0.2M187.9 239l0.5 -0.2M193.3 239.1l0.7 -0.2M246.9 238.6l0.6 -0.3M266.2 238.4l0.6 -0.3M295 241.1l0.4 0.4M188.1 244.2l0.6 -0.1M193.7 244.5l0.8 -0M217.6 243.1l0.6 -0.4M241.4 243.5l0.5 -0.3M246.7 243.3l0.6 -0.4M251.3 243.4l0.5 -0.4M188.3 249.9l0.7 0M216.4 248l0.3 -0.5M231.3 248l0.3 -0.5M236.5 247.9l0.4 -0.5M241.2 248.1l0.4 -0.5M188.4 255.4l0.7 0.2M183 260.7l0.5 0.2M235.9 257.7l0.3 -0.6M310.2 259.1l0.5 -0.2M315.4 259.6l0.6 -0.1M183.3 265.9l0.6 0.3M305.5 264.6l0.6 -0.1M310.6 265.1l0.6 0M315.5 265l0.7 -0M183.4 271.2l0.6 0.3M231.1 267.8l0.3 -0.7M295.3 269.3l0.5 -0.2M305.7 270.6l0.6 0.1M310.6 270.3l0.7 0.1M315.4 269.6l0.6 -0.1M182.4 276.8l0.4 0.5M187.3 276.9l0.3 0.5M191.8 276.9l0.3 0.5M201.8 276.7l0.3 0.4M207.8 276.7l0.6 0.4M231 273.2l0.3 -0.5M290.7 274.5l0.6 -0.2M295.9 275.5l0.6 0.1M300.8 275.8l0.6 0.2M305.7 275.6l0.7 0.1M310.5 275l0.6 -0M315.2 274.5l0.6 -0.2M319.8 274.4l0.5 -0.2" stroke="#90c3dd" stroke-width="1.4" stroke-opacity="0.65" fill="none"/><path d="M230 77.4l3.7 1.6M234.9 77.4l3.9 0.6M239.8 77.4l3.7 0.4M308.3 77.4l1.6 4.4M220.3 82.5l3.5 3.1M230 82.5l4.8 0.9M234.9 82.5l4.3 0.8M239.8 82.5l3.7 1.2M283.8 82.5l3.1 2.7M288.7 82.5l2.7 3.5M293.6 82.5l2.4 3.7M230 87.5l4.6 1.2M234.9 87.5l4 1.3M278.9 87.5l3.3 1.9M205.6 92.6l2 3.5M230 92.6l4.4 1.3M234.9 92.6l4 0.5M278.9 92.6l3.9 2.1M234.9 97.7l3.5 -1.7M278.9 97.7l4.4 1M230 102.8l3.6 -2.3M283.8 102.8l3.8 -0.5M225.2 107.8l3 -2.2M288.7 107.8l4.6 -0.9M171.4 112.9l1.8 4.5M288.7 112.9l4.6 -1.2M318.1 112.9l3.9 1.9M347.4 112.9l1.2 4.2M156.7 118l1.5 3.4M161.6 118l1.9 4.1M288.7 118l4.1 -1.5M308.3 118l4.4 0.1M151.8 123l3.3 3.3M205.6 128.1l4.1 -1.2M249.6 128.1l3.1 2.4M254.5 128.1l2.8 2.6M205.6 133.2l4.1 -0.9M234.9 133.2l3 2.8M254.5 133.2l2.6 3.5M161.6 138.2l2.6 4.1M166.5 138.2l1.6 3.5M171.4 138.2l2 3.5M205.6 138.2l4.3 -0.8M210.5 138.2l3.6 -0.6M254.5 138.2l1 3.9M151.8 143.3l2.8 3.4M176.2 143.3l3.6 2.9M190.9 143.3l4.6 -0.1M195.8 143.3l4.3 -0.2M200.7 143.3l4.1 -0.4M205.6 143.3l3.6 -0.6M225.2 143.3l2.7 3.8M225.2 148.4l1.2 3.5M230 148.4l1.8 4.4M239.8 148.4l0.7 4.3M205.6 173.7l3.6 1M210.5 173.7l3.9 0.2M215.4 173.7l3.5 -1.5M205.6 178.8l3.7 2.2M210.5 178.8l4.7 0.3M215.4 178.8l3.6 -2M200.7 183.9l2.5 2.7M215.4 183.9l3.5 -2.2M200.7 188.9l4 2.6M215.4 188.9l4.1 -1.4M220.3 188.9l3.9 -1M225.2 188.9l3.9 -0.2M230 188.9l3.9 0.4M234.9 188.9l3.7 0.7M195.8 194l2.9 2.9M210.5 194l4.9 0.3M215.4 194l4.7 0.7M220.3 194l4.6 1.3M225.2 194l4.5 1.6M230 194l4.4 1.5M234.9 194l4.1 1M195.8 199.1l3.6 2.3M200.7 199.1l4.1 1.7M205.6 199.1l4.2 1.7M210.5 199.1l4.1 2.1M215.4 199.1l4.2 2.4M230 199.1l4.6 1.3M234.9 199.1l4.1 0.8M239.8 199.1l3.7 0.6M244.7 199.1l3.8 0.6M249.6 199.1l4.2 1.1M254.5 199.1l4.1 2.3M259.4 199.1l2.6 3.2M283.8 199.1l-2.6 3.2M288.7 199.1l-3.2 3.2M195.8 204.2l2.9 2.3M200.7 204.2l2.9 2.5M205.6 204.2l2.9 2.7M210.5 204.2l3.3 2.8M215.4 204.2l4 2.6M225.2 204.2l4.6 1.2M230 204.2l4.3 0.8M234.9 204.2l4.1 0.8M239.8 204.2l4.6 1M264.3 204.2l1.6 3.9M269.2 204.2l0.8 3.7M274.1 204.2l0.2 3.8M278.9 204.2l-0.7 4.2M288.7 204.2l-3.2 3.2M210.5 209.2l3.5 2.3M215.4 209.2l4.2 1.5M220.3 209.2l4.2 0.9M225.2 209.2l4 0.7M230 209.2l4.2 0.9M274.1 209.2l2.2 4.2M278.9 209.2l0 4.7M283.8 209.2l-2.3 4.2M288.7 209.2l-2.9 2.3M210.5 214.3l3.6 0.9M225.2 214.3l4 0.7M278.9 214.3l-0.3 4.5M283.8 214.3l-2.3 3.6M288.7 214.3l-2.7 2.6M220.3 219.4l3.8 0.4M278.9 219.4l-0.2 4.2M283.8 219.4l-1.5 4.2M215.4 224.4l4 0M249.6 224.4l3.9 -1M254.5 224.4l4.2 -1.3M274.1 224.4l3 3.8M278.9 224.4l1.6 4M283.8 224.4l1.2 4.6M210.5 229.5l4.6 -0.2M234.9 229.5l4.8 -0.5M254.5 229.5l4.6 -1.6M274.1 229.5l4.4 2M278.9 229.5l3.6 1.9M283.8 229.5l3 2.1M288.7 229.5l2.6 2.7M293.6 229.5l2.1 3M200.7 234.6l4 -0.5M249.6 234.6l3.7 -1.5M269.2 234.6l4.7 -0.6M195.8 239.6l4 -0.4M220.3 239.6l4 -1.5M249.6 239.6l4.1 -1.8M254.5 239.6l4.4 -1.8M259.4 239.6l3.7 -1.7M195.8 244.7l4.3 0.1M190.9 249.8l3.6 0.4M195.8 249.8l4.5 0.1M210.5 249.8l2.7 -3M190.9 254.9l4.1 0.3M234.9 254.9l2 -3.1M186 259.9l3.7 0.7M186 265l4.6 0.4M230 265l2.4 -4M186 270.1l4.2 1M225.2 275.1l2.1 -3.1" stroke="#aad8e9" stroke-width="0.8" stroke-opacity="0.6" fill="none"/><path d="M232.9 78.7l0.8 0.4M238 77.8l0.9 0.1M242.7 77.7l0.8 0.1M309.6 80.9l0.4 1M223 84.9l0.8 0.7M233.8 83.2l1 0.2M238.3 83.1l1 0.2M242.7 83.4l0.8 0.3M286.2 84.6l0.7 0.6M290.8 85.2l0.6 0.8M295.4 85.4l0.5 0.8M233.6 88.5l1 0.3M238 88.5l0.9 0.3M281.5 89.1l0.7 0.4M207.2 95.3l0.4 0.8M233.5 93.6l1 0.3M238 93l0.9 0.1M282 94.2l0.9 0.5M237.7 96.3l0.8 -0.4M282.3 98.4l1 0.2M232.9 100.9l0.8 -0.5M286.8 102.4l0.8 -0.1M227.5 106.1l0.7 -0.5M292.3 107.1l1 -0.2M172.8 116.4l0.4 1M292.3 111.9l1 -0.3M321.1 114.3l0.9 0.4M348.4 116.2l0.3 0.9M157.9 120.6l0.3 0.7M163.1 121.1l0.4 0.9M291.9 116.8l0.9 -0.3M311.7 118l1 0M154.3 125.6l0.7 0.7M208.8 127.2l0.9 -0.3M252 130l0.7 0.5M256.7 130.1l0.6 0.6M208.8 132.5l0.9 -0.2M237.3 135.4l0.7 0.6M256.5 135.9l0.6 0.8M163.6 141.4l0.6 0.9M167.7 141l0.4 0.8M172.9 141l0.4 0.8M209 137.6l1 -0.2M213.3 137.8l0.8 -0.1M255.3 141.3l0.2 0.9M154 146l0.6 0.8M179 145.6l0.8 0.6M194.5 143.3l1 -0M199.2 143.1l1 -0.1M203.9 143l0.9 -0.1M208.4 142.9l0.8 -0.1M227.2 146.3l0.6 0.8M226.1 151.1l0.3 0.8M231.5 151.8l0.4 1M240.4 151.7l0.2 0.9M208.4 174.5l0.8 0.2M213.5 173.8l0.9 0M218.1 172.6l0.8 -0.3M208.5 180.5l0.8 0.5M214.1 179.1l1 0.1M218.2 177.2l0.8 -0.4M202.7 186l0.6 0.6M218.1 182.1l0.8 -0.5M203.8 191l0.9 0.6M218.6 187.9l0.9 -0.3M223.3 188.2l0.8 -0.2M228.2 188.8l0.9 -0.1M233.1 189.3l0.9 0.1M237.8 189.5l0.8 0.2M198.1 196.3l0.6 0.6M214.3 194.2l1.1 0.1M219 194.6l1 0.2M223.8 195l1 0.3M228.7 195.3l1 0.4M233.5 195.2l1 0.3M238.1 194.8l0.9 0.2M198.6 200.9l0.8 0.5M203.9 200.4l0.9 0.4M208.9 200.4l0.9 0.4M213.7 200.7l0.9 0.5M218.6 200.9l0.9 0.5M233.6 200.1l1 0.3M238.1 199.7l0.9 0.2M242.7 199.5l0.8 0.1M247.6 199.6l0.8 0.1M252.9 200l0.9 0.2M257.7 200.9l0.9 0.5M261.4 201.6l0.6 0.7M281.8 201.6l-0.6 0.7M286.2 201.6l-0.7 0.7M198.1 206l0.6 0.5M202.9 206.1l0.6 0.5M207.8 206.2l0.6 0.6M213 206.3l0.7 0.6M218.5 206.1l0.9 0.6M228.8 205.1l1 0.3M233.4 204.8l0.9 0.2M238.2 204.8l0.9 0.2M243.4 204.9l1 0.2M265.5 207.2l0.4 0.9M269.8 207.1l0.2 0.8M274.2 207.1l0 0.8M278.4 207.4l-0.2 0.9M286.2 206.6l-0.7 0.7M213.2 211l0.8 0.5M218.7 210.4l0.9 0.3M223.5 209.9l0.9 0.2M228.3 209.8l0.9 0.2M233.3 209.9l0.9 0.2M275.8 212.5l0.5 0.9M279 212.9l0 1M282 212.5l-0.5 0.9M286.5 211l-0.6 0.5M213.3 215l0.8 0.2M228.3 214.8l0.9 0.1M278.7 217.8l-0.1 1M282 217.1l-0.5 0.8M286.6 216.3l-0.6 0.6M223.2 219.6l0.8 0.1M278.8 222.6l-0 0.9M282.7 222.6l-0.3 0.9M218.5 224.5l0.9 0M252.6 223.7l0.9 -0.2M257.7 223.4l0.9 -0.3M276.4 227.4l0.6 0.8M280.2 227.6l0.3 0.9M284.8 228l0.3 1M214.1 229.4l1 -0M238.7 229.1l1.1 -0.1M258.1 228.3l1 -0.3M277.5 231.1l1 0.4M281.7 231l0.8 0.4M286.2 231.2l0.7 0.5M290.7 231.6l0.6 0.6M295.2 231.8l0.5 0.7M203.8 234.2l0.9 -0.1M252.5 233.4l0.8 -0.3M272.8 234.1l1 -0.1M198.9 239.3l0.9 -0.1M223.4 238.5l0.9 -0.3M252.8 238.2l0.9 -0.4M257.9 238.2l1 -0.4M262.3 238.3l0.8 -0.4M199.2 244.8l1 0M193.7 250.1l0.8 0.1M199.3 249.8l1 0M212.6 247.5l0.6 -0.7M194.1 255.1l0.9 0.1M236.5 252.4l0.4 -0.7M188.9 260.5l0.8 0.2M189.6 265.3l1 0.1M231.9 261.9l0.5 -0.9M189.3 270.9l0.9 0.2M226.8 272.7l0.5 -0.7" stroke="#aad8e9" stroke-width="1.4" stroke-opacity="0.65" fill="none"/><path d="M225.2 82.5l4.7 1.9M298.5 82.5l2.5 4.3M215.4 87.5l4 3.3M220.3 87.5l5.1 2.3M225.2 87.5l5.1 1.4M283.8 87.5l3.7 3.4M288.7 87.5l4 4.4M210.5 92.6l4.2 3.6M215.4 92.6l5.2 2.7M220.3 92.6l5.2 2M225.2 92.6l4.8 1.7M200.7 97.7l3.3 4.5M225.2 97.7l5.7 1.3M230 97.7l5.1 -0.2M190.9 102.8l3 4.8M288.7 102.8l5.9 0M181.1 107.8l2.5 4.8M322.9 107.8l4 4.1M327.8 107.8l3.4 3.8M332.7 107.8l2.7 4.2M337.6 107.8l2 5.2M357.2 107.8l1.7 5.3M215.4 112.9l5.4 -1.6M313.2 112.9l4.8 2.4M166.5 118l3.1 5M210.5 118l4.8 -1.5M293.6 118l5.5 -0.3M298.5 118l5.6 0.3M303.4 118l5.1 0.2M156.7 123l3.9 4M205.6 123l5.5 -1.3M171.4 133.2l3.4 4.5M176.2 133.2l3.7 4.5M200.7 133.2l5.5 -1.2M239.8 133.2l4.2 3M244.7 133.2l4.6 2.8M249.6 133.2l4.2 3.1M151.8 138.2l5.7 2.1M156.7 138.2l4.5 3.8M176.2 138.2l3.7 4M195.8 138.2l5.7 -0.9M200.7 138.2l4.9 -1M230 138.2l3.6 3.7M249.6 138.2l3.3 4.7M181.1 143.3l4.8 1.7M186 143.3l4.9 0.5M249.6 143.3l1.3 4.8M234.9 148.4l1.5 4.7M205.6 183.9l4.8 1.8M210.5 183.9l5.1 -0.7M205.6 188.9l5.5 0.7M210.5 188.9l4.9 -1M200.7 194l4.8 1.7M205.6 194l5.1 0.5M220.3 199.1l4.4 2.4M225.2 199.1l4.7 1.9M220.3 204.2l4.6 1.9M244.7 204.2l5.3 1.6M249.6 204.2l5.4 2.7M254.5 204.2l4.4 3.8M259.4 204.2l2.8 4.1M283.8 204.2l-2.2 4.4M234.9 209.2l5 1.2M264.3 209.2l4.2 3.9M269.2 209.2l3.5 3.8M230 214.3l5.1 1.1M264.3 214.3l5.8 1.8M269.2 214.3l4.9 2.8M274.1 214.3l2.7 4.2M225.2 219.4l5.1 0.8M254.5 219.4l5.8 -0.4M259.4 219.4l5.7 -0.5M264.3 219.4l6 0.6M269.2 219.4l5.1 2.7M274.1 219.4l2.4 4.2M288.7 219.4l-1.8 4.7M293.6 219.4l-1.6 4.8M220.3 224.4l5.3 0.5M244.7 224.4l4.9 -0.6M259.4 224.4l5.5 -1M269.2 224.4l5.1 2.9M288.7 224.4l1.2 5.1M293.6 224.4l1.2 4.8M215.4 229.5l5.8 0.2M269.2 229.5l5.5 1.9M205.6 234.6l5.1 -0.2M225.2 234.6l5.4 -1M254.5 234.6l5.5 -1.6M264.3 234.6l5.7 -0.6M200.7 239.6l5 -0.1M205.6 239.6l5.9 0M215.4 239.6l5.8 -1.3M200.7 244.7l5.1 0M205.6 244.7l5.5 -0.9M210.5 244.7l4.8 -2M200.7 249.8l5.1 -1.1M205.6 249.8l4.4 -2.6M195.8 254.9l5.2 -1.1M200.7 254.9l5.1 -2.9M205.6 254.9l4 -4M210.5 254.9l3 -4.2M215.4 254.9l2.7 -4.2M220.3 254.9l3.1 -4.2M225.2 254.9l3.4 -4.1M230 254.9l3.2 -3.8M190.9 259.9l5.3 -0.6M230 259.9l3.4 -4.4M190.9 265l6 -1M190.9 270.1l5.2 0.8M195.8 270.1l5.6 0.9M200.7 270.1l5.9 1.1M225.2 270.1l3.4 -4.3M210.5 275.1l4.9 0.8M215.4 275.1l5.4 -1.7M220.3 275.1l3.9 -3.3" stroke="#c5e6f0" stroke-width="0.8" stroke-opacity="0.6" fill="none"/><path d="M228.8 84l1 0.4M300.4 85.8l0.5 0.9M218.5 90.1l0.9 0.7M224.3 89.3l1.1 0.5M229.1 88.7l1.1 0.3M286.7 90.2l0.8 0.7M291.8 91l0.9 1M213.7 95.5l0.9 0.8M219.4 94.7l1.1 0.6M224.3 94.2l1.2 0.4M228.9 93.9l1.1 0.4M203.3 101.2l0.7 1M229.6 98.7l1.2 0.3M234 97.5l1.1 -0.1M193.3 106.5l0.7 1.1M293.3 102.8l1.3 0M183.1 111.6l0.5 1.1M326 111.1l0.9 0.9M330.5 110.8l0.8 0.8M334.9 111.1l0.6 0.9M339.2 111.9l0.4 1.1M358.5 112l0.4 1.2M219.6 111.7l1.2 -0.3M316.9 114.7l1 0.5M168.9 121.9l0.7 1.1M214.2 116.8l1 -0.3M297.9 117.7l1.2 -0.1M302.9 118.2l1.2 0.1M307.4 118.1l1.1 0.1M159.8 126.1l0.9 0.9M209.9 122l1.2 -0.3M174.1 136.7l0.8 1M179.1 136.6l0.8 1M205 132.2l1.2 -0.3M243.1 135.5l0.9 0.7M248.3 135.4l1 0.6M252.8 135.6l0.9 0.7M156.3 139.8l1.3 0.5M160.2 141.2l1 0.8M179.1 141.3l0.8 0.9M200.3 137.5l1.3 -0.2M204.5 137.5l1.1 -0.2M232.9 141.1l0.8 0.8M252.2 141.9l0.7 1M184.9 144.6l1 0.4M189.8 143.7l1.1 0.1M250.6 147l0.3 1.1M236.1 152l0.3 1M209.3 185.3l1 0.4M214.5 183.3l1.1 -0.2M209.9 189.5l1.2 0.2M214.3 188.2l1.1 -0.2M204.4 195.4l1.1 0.4M209.6 194.4l1.1 0.1M223.7 200.9l1 0.5M228.8 200.6l1 0.4M223.9 205.7l1 0.4M248.8 205.4l1.2 0.3M253.8 206.3l1.2 0.6M257.9 207.1l1 0.8M261.6 207.3l0.6 0.9M282.1 207.6l-0.5 1M238.8 210.1l1.1 0.3M267.6 212.2l0.9 0.8M271.9 212.2l0.8 0.8M234 215.1l1.1 0.2M268.8 215.7l1.3 0.4M273 216.4l1.1 0.6M276.2 217.5l0.6 0.9M229.1 220l1.1 0.2M259 219.1l1.3 -0.1M263.8 219l1.2 -0.1M268.9 219.8l1.3 0.1M273.2 221.5l1.1 0.6M276 222.7l0.5 0.9M287.3 223l-0.4 1M292.4 223.1l-0.3 1.1M224.4 224.8l1.2 0.1M248.5 224l1.1 -0.1M263.7 223.6l1.2 -0.2M273.1 226.7l1.1 0.6M289.7 228.4l0.3 1.1M294.6 228.2l0.3 1.1M219.9 229.7l1.3 0.1M273.5 231l1.2 0.4M209.6 234.4l1.1 -0M229.3 233.8l1.2 -0.2M258.8 233.3l1.2 -0.4M268.7 234.1l1.3 -0.1M204.6 239.6l1.1 -0M210.2 239.6l1.3 0M219.9 238.6l1.3 -0.3M204.7 244.7l1.1 0M209.9 244l1.2 -0.2M214.2 243.2l1 -0.4M204.7 248.9l1.1 -0.2M209.1 247.8l1 -0.6M199.9 254l1.1 -0.2M204.7 252.6l1.1 -0.6M208.7 251.7l0.9 -0.9M212.8 251.6l0.7 -0.9M217.5 251.6l0.6 -0.9M222.7 251.5l0.7 -0.9M227.8 251.6l0.8 -0.9M232.5 251.9l0.7 -0.8M195.1 259.5l1.2 -0.1M232.7 256.5l0.8 -1M195.6 264.2l1.3 -0.2M194.9 270.7l1.1 0.2M200.2 270.8l1.2 0.2M205.3 270.9l1.3 0.2M227.8 266.7l0.8 -0.9M214.3 275.7l1.1 0.2M219.6 273.8l1.2 -0.4M223.3 272.6l0.8 -0.7" stroke="#c5e6f0" stroke-width="1.4" stroke-opacity="0.65" fill="none"/><path d="M313.2 77.4l2.3 6.6M303.4 82.5l3 5.8M293.6 87.5l4.5 5.3M283.8 92.6l5.1 3.5M205.6 97.7l5.3 4.3M210.5 97.7l6.1 3.5M215.4 97.7l6.2 2.9M220.3 97.7l5.9 2.2M283.8 97.7l6 1.7M225.2 102.8l6.3 -1M220.3 107.8l6.4 -1.5M313.2 107.8l4.1 5.7M318.1 107.8l4.1 5M352.3 107.8l1.3 6.8M176.2 112.9l3.3 5.9M293.6 112.9l7 1.1M303.4 112.9l6.2 3.6M308.3 112.9l5.5 3.2M171.4 118l4.4 5.8M161.6 123l5 4.5M151.8 128.1l5.6 2.6M156.7 128.1l6.4 3.1M176.2 128.1l4.6 5.3M181.1 128.1l4.7 5.2M200.7 128.1l7 -1.1M151.8 133.2l6.5 1.5M156.7 133.2l6.8 2.8M161.6 133.2l6 4.2M166.5 133.2l4.5 4.8M181.1 133.2l5.4 4.7M181.1 138.2l6 3.4M190.9 138.2l6.8 -0.2M234.9 138.2l5.2 4.1M239.8 138.2l5.7 4.1M244.7 138.2l5.1 4.4M230 143.3l4.4 5M244.7 143.3l3.1 5.8M239.8 209.2l6 1.8M244.7 209.2l6.5 2.9M249.6 209.2l6.2 3.8M254.5 209.2l5.4 4.2M259.4 209.2l4.8 4.1M234.9 214.3l6.4 1.8M254.5 214.3l6.9 2.4M259.4 214.3l6.4 1.8M230 219.4l6.4 1.5M249.6 219.4l6.6 0.3M225.2 224.4l6.5 1M230 224.4l7.3 1.1M234.9 224.4l7.3 0.7M239.8 224.4l6.3 -0M264.3 224.4l6.3 0.8M220.3 229.5l6.8 0.5M225.2 229.5l7.1 0.3M230 229.5l6.5 -0.3M259.4 229.5l6.3 -0.8M264.3 229.5l6.5 0.8M210.5 234.6l6.1 0.1M215.4 234.6l6.8 -0M220.3 234.6l6.7 -0.6M259.4 234.6l6.2 -1M210.5 239.6l6.4 -0.5M195.8 259.9l6.1 -2.5M200.7 259.9l6 -4.1M225.2 259.9l5.5 -4.8M195.8 265l6.9 -2.2M225.2 265l5.2 -4.9M205.6 270.1l6.2 0.9M210.5 270.1l7 0M220.3 270.1l6.1 -4" stroke="#e0f3f8" stroke-width="0.8" stroke-opacity="0.6" fill="none"/><path d="M315 82.6l0.5 1.5M305.8 87l0.7 1.3M297.1 91.7l1 1.2M287.8 95.3l1.1 0.8M209.7 101.1l1.2 1M215.3 100.4l1.4 0.8M220.2 99.9l1.4 0.6M224.9 99.4l1.3 0.5M288.5 99l1.3 0.4M230.1 102l1.4 -0.2M225.3 106.7l1.4 -0.3M316.4 112.3l0.9 1.3M321.3 111.7l0.9 1.1M353.3 113.1l0.3 1.5M178.8 117.5l0.7 1.3M299.1 113.7l1.5 0.2M308.2 115.7l1.4 0.8M312.6 115.4l1.2 0.7M174.8 122.4l1 1.3M165.4 126.5l1.1 1M156.2 130.2l1.2 0.6M161.7 130.5l1.4 0.7M179.9 132.2l1 1.2M184.8 132.1l1 1.1M206.1 127.2l1.5 -0.2M156.9 134.3l1.4 0.3M162 135.4l1.5 0.6M166.3 136.5l1.3 0.9M170 136.9l1 1.1M185.4 136.9l1.2 1M185.9 140.9l1.3 0.8M196.2 138.1l1.5 -0.1M238.9 141.5l1.1 0.9M244.3 141.5l1.3 0.9M248.7 141.7l1.1 1M233.5 147.2l1 1.1M247.2 147.8l0.7 1.3M244.5 210.6l1.3 0.4M249.8 211.5l1.4 0.6M254.4 212.2l1.4 0.8M258.7 212.5l1.2 0.9M263.1 212.4l1 0.9M239.9 215.7l1.4 0.4M259.8 216.2l1.5 0.5M264.3 215.7l1.4 0.4M235.1 220.5l1.4 0.3M254.8 219.6l1.5 0.1M230.2 225.2l1.4 0.2M235.7 225.3l1.6 0.3M240.6 225l1.6 0.2M244.8 224.4l1.4 -0M269.2 225l1.4 0.2M225.5 229.9l1.5 0.1M230.7 229.7l1.6 0.1M235.1 229.3l1.4 -0.1M264.3 228.9l1.4 -0.2M269.4 230.2l1.4 0.2M215.3 234.6l1.4 0M220.7 234.6l1.5 -0M225.5 234.1l1.5 -0.1M264.2 233.8l1.4 -0.2M215.4 239.3l1.4 -0.1M200.5 258l1.3 -0.6M205.3 256.8l1.3 -0.9M229.4 256.2l1.2 -1M201.2 263.3l1.5 -0.5M229.2 261.1l1.2 -1.1M210.5 270.8l1.4 0.2M216 270.1l1.5 0M225 266.9l1.3 -0.9" stroke="#e0f3f8" stroke-width="1.4" stroke-opacity="0.65" fill="none"/><path d="M362.1 77.4l2.9 7.8M362.1 82.5l3.1 7.9M298.5 87.5l5.3 6.5M288.7 92.6l6.4 4.6M288.7 97.7l7.6 2.3M195.8 102.8l5.2 5.7M200.7 102.8l6.8 5.3M210.5 102.8l7.5 3.8M215.4 102.8l7.5 2.9M220.3 102.8l7.4 1.2M293.6 102.8l8.2 1.5M313.2 102.8l2.9 7.4M318.1 102.8l2.5 7.5M322.9 102.8l3 7.5M327.8 102.8l3.6 7.1M332.7 102.8l3.6 6.7M337.6 102.8l3.1 7.1M342.5 102.8l2.5 8.2M186 107.8l4.3 6.2M215.4 107.8l8.1 1.2M293.6 107.8l7.8 1.2M303.4 107.8l6.3 5.9M308.3 107.8l4.7 6.1M181.1 112.9l4.9 6.5M195.8 112.9l6.2 5.9M200.7 112.9l6.5 5.2M205.6 112.9l7.3 3.8M210.5 112.9l7.6 1.1M298.5 112.9l7 3.1M176.2 118l5.4 6.1M181.1 118l5.6 6.3M186 118l5.4 6.2M190.9 118l5.2 6M195.8 118l5.8 5.4M200.7 118l7 4M205.6 118l7.3 1.1M166.5 123l5.8 4.9M171.4 123l6.1 5.4M176.2 123l5.7 5.8M181.1 123l5 5.8M186 123l4.9 5.7M190.9 123l5.9 5.4M200.7 123l8.1 1.1M161.6 128.1l6.8 3.8M166.5 128.1l6.5 4.7M171.4 128.1l5.5 5.3M186 128.1l6.1 5.2M195.8 133.2l7.6 -0.8M186 138.2l7.3 1.5M234.9 143.3l5.2 5.5M239.8 143.3l4.7 5.9M239.8 214.3l7.2 2.6M244.7 214.3l7.4 3.2M249.6 214.3l7.2 3.1M234.9 219.4l7.4 2M239.8 219.4l7.7 2M244.7 219.4l7.4 1.3M205.6 259.9l5.8 -4.8M210.5 259.9l6.2 -5M215.4 259.9l6.6 -4.9M220.3 259.9l6.5 -4.8M200.7 265l7.6 -2.7M220.3 265l7.5 -4.2M215.4 270.1l7.5 -1.9" stroke="#f0f9db" stroke-width="0.8" stroke-opacity="0.6" fill="none"/><path d="M364.3 83.5l0.6 1.7M364.5 88.6l0.7 1.7M302.6 92.6l1.2 1.4M293.7 96.2l1.4 1M294.6 99.5l1.7 0.5M199.9 107.2l1.1 1.2M206 106.8l1.5 1.2M216.3 105.7l1.6 0.8M221.2 105l1.6 0.6M226 103.7l1.6 0.3M300 103.9l1.8 0.3M315.4 108.6l0.6 1.6M320 108.6l0.5 1.6M325.3 108.6l0.6 1.7M330.6 108.3l0.8 1.6M335.5 108l0.8 1.5M340.1 108.3l0.7 1.6M344.4 109.2l0.5 1.8M189.4 112.7l1 1.4M221.7 108.7l1.8 0.3M299.7 108.8l1.7 0.3M308.3 112.4l1.4 1.3M311.9 112.6l1 1.3M185 118l1.1 1.4M200.6 117.5l1.4 1.3M205.8 117l1.4 1.1M211.3 115.9l1.6 0.8M216.4 113.8l1.7 0.2M304 115.3l1.5 0.7M180.5 122.7l1.2 1.3M185.5 122.8l1.2 1.4M190.2 122.8l1.2 1.4M195 122.6l1.1 1.3M200.3 122.2l1.3 1.2M206.2 121.1l1.5 0.9M211.3 118.8l1.6 0.2M171 126.9l1.3 1.1M176.1 127.2l1.3 1.2M180.7 127.5l1.3 1.3M185.1 127.6l1.1 1.3M189.9 127.5l1.1 1.2M195.5 127.3l1.3 1.2M207 123.9l1.8 0.2M166.9 131.1l1.5 0.8M171.6 131.8l1.4 1M175.7 132.2l1.2 1.2M190.8 132.2l1.3 1.1M201.8 132.6l1.7 -0.2M191.7 139.4l1.6 0.3M239 147.6l1.2 1.2M243.5 147.9l1 1.3M245.4 216.3l1.6 0.6M250.5 216.8l1.6 0.7M255.2 216.7l1.6 0.7M240.7 220.9l1.6 0.4M245.8 220.9l1.7 0.4M250.5 220.4l1.6 0.3M210.2 256.2l1.3 -1.1M215.3 256l1.4 -1.1M220.5 256.1l1.4 -1.1M225.3 256.2l1.4 -1.1M206.6 262.9l1.7 -0.6M226.1 261.7l1.7 -0.9M221.2 268.6l1.6 -0.4" stroke="#f0f9db" stroke-width="1.4" stroke-opacity="0.65" fill="none"/><path d="M318.1 77.4l3.2 8.6M308.3 82.5l4.1 8M362.1 87.5l2.8 8.8M293.6 92.6l7.7 5.4M327.8 92.6l0.8 9.8M293.6 97.7l8.9 3.1M318.1 97.7l2.2 8.7M322.9 97.7l1.5 8.9M327.8 97.7l1.7 9.6M205.6 102.8l7.4 4.5M308.3 102.8l4.7 7.6M347.4 102.8l1.8 9.4M352.3 102.8l1.3 9.6M357.2 102.8l1.3 8.6M190.9 107.8l6.1 6.4M195.8 107.8l7.1 6M200.7 107.8l7.4 5.4M205.6 107.8l7.5 4.7M210.5 107.8l7.9 3.4M298.5 107.8l8.1 4.3M186 112.9l5.9 6.6M190.9 112.9l6.2 6.3M195.8 123l7.7 4.1M190.9 128.1l8.4 4.1M195.8 128.1l9.1 1.2M186 133.2l7.9 3.9M190.9 133.2l9 1.3M205.6 265l8.2 -2.7M210.5 265l8.5 -2.6M215.4 265l8.5 -3.1" stroke="#fffebe" stroke-width="0.8" stroke-opacity="0.6" fill="none"/><path d="M320.5 84.1l0.7 1.9M311.5 88.7l0.9 1.8M364.2 94.4l0.6 1.9M299.6 96.8l1.7 1.2M328.4 100.2l0.2 2.1M300.5 100.1l1.9 0.7M319.8 104.5l0.5 1.9M324.1 104.6l0.3 1.9M329.1 105.1l0.4 2.1M211.3 106.3l1.6 1M312 108.7l1 1.7M348.8 110.1l0.4 2.1M353.3 110.3l0.3 2.1M358.2 109.5l0.3 1.9M195.7 112.8l1.3 1.4M201.3 112.5l1.6 1.3M206.4 112.1l1.6 1.2M211.5 111.5l1.7 1M216.7 110.5l1.7 0.8M304.8 111.1l1.8 0.9M190.6 118l1.3 1.4M195.8 117.8l1.4 1.4M201.8 126.2l1.7 0.9M197.4 131.3l1.8 0.9M202.9 129l2 0.3M192.2 136.2l1.7 0.9M197.9 134.2l2 0.3M212 262.9l1.8 -0.6M217.1 262.9l1.9 -0.6M222 262.6l1.9 -0.7" stroke="#fffebe" stroke-width="1.4" stroke-opacity="0.65" fill="none"/><path d="M322.9 77.4l3.6 9.7M327.8 77.4l3 9.9M332.7 77.4l1.5 9.8M337.6 77.4l-0.3 10M342.5 77.4l-1.6 10.6M332.7 82.5l0.1 10.4M337.6 82.5l-1.5 10.4M303.4 87.5l6.3 7.9M327.8 87.5l1.3 10.6M332.7 87.5l-0.4 10.1M298.5 92.6l8.5 6.3M322.9 92.6l2 10M332.7 92.6l0.3 10.8M298.5 97.7l9.5 4.7M308.3 97.7l6.5 8.8M313.2 97.7l3.9 9.1M332.7 97.7l2.5 10.1M337.6 97.7l3.2 10.2M342.5 97.7l3.2 10.5M357.2 97.7l1.7 10.7M298.5 102.8l9.2 4.2M303.4 102.8l7.5 6.8" stroke="#fff0a8" stroke-width="0.8" stroke-opacity="0.6" fill="none"/><path d="M325.7 84.9l0.8 2.1M330.2 85.1l0.7 2.2M333.9 85.1l0.3 2.2M337.4 85.2l-0.1 2.2M341.3 85.6l-0.3 2.3M332.8 90.6l0 2.3M336.4 90.6l-0.3 2.3M308.3 93.7l1.4 1.7M328.9 95.8l0.3 2.3M332.4 95.4l-0.1 2.2M305.1 97.5l1.9 1.4M324.5 100.4l0.4 2.2M332.9 101.1l0.1 2.4M305.9 101.3l2.1 1M313.4 104.6l1.4 1.9M316.2 104.8l0.9 2M334.7 105.5l0.6 2.2M340.1 105.6l0.7 2.2M345 105.8l0.7 2.3M358.5 106.1l0.4 2.4M305.7 106l2 0.9M309.2 108l1.7 1.5" stroke="#fff0a8" stroke-width="1.4" stroke-opacity="0.65" fill="none"/><path d="M347.4 77.4l-1.8 11.5M352.3 77.4l-0.7 12.2M357.2 77.4l1.4 11.1M313.2 82.5l5.3 10.1M327.8 82.5l2.5 11.3M342.5 82.5l-2 11.9M357.2 82.5l2.9 11.4M308.3 87.5l7.1 9.6M337.6 87.5l-1.2 11.5M357.2 87.5l3.1 11.2M303.4 92.6l8.7 7.6M357.2 92.6l2.5 11.4M303.4 97.7l8.9 7M347.4 97.7l2.8 11.1M352.3 97.7l2.2 11.5" stroke="#fee090" stroke-width="0.8" stroke-opacity="0.6" fill="none"/><path d="M346 86.4l-0.4 2.5M351.7 86.9l-0.2 2.7M358.2 86l0.3 2.4M317.3 90.4l1.2 2.2M329.8 91.3l0.5 2.5M340.9 91.7l-0.5 2.6M359.4 91.4l0.6 2.5M313.8 95l1.6 2.1M336.7 96.5l-0.3 2.5M359.6 96.3l0.7 2.5M310.2 98.5l1.9 1.7M359.2 101.5l0.6 2.5M310.3 103.1l1.9 1.5M349.6 106.4l0.6 2.5M354 106.6l0.5 2.5" stroke="#fee090" stroke-width="1.4" stroke-opacity="0.65" fill="none"/><path d="M318.1 82.5l5.7 11.5M322.9 82.5l4.7 11.9M322.9 87.5l3.6 11.9M308.3 92.6l8 9.5M313.2 92.6l6.1 10.9M337.6 92.6l1 12.4M342.5 92.6l2.3 13.2M347.4 92.6l3 13M352.3 92.6l3 12.4" stroke="#fdc778" stroke-width="0.8" stroke-opacity="0.6" fill="none"/><path d="M322.5 91.5l1.3 2.5M326.6 91.8l1 2.6M325.7 96.8l0.8 2.6M314.5 100l1.8 2.1M317.9 101.1l1.3 2.4M338.4 102.3l0.2 2.7M344.3 102.9l0.5 2.9M349.8 102.8l0.7 2.9M354.6 102.3l0.7 2.7" stroke="#fdc778" stroke-width="1.4" stroke-opacity="0.65" fill="none"/><path d="M347.4 82.5l-1 13.8M352.3 82.5l1.2 13.9M318.1 87.5l5.8 12.4M342.5 87.5l-0.4 13.8M347.4 87.5l1.5 14.7M352.3 87.5l2.9 13.5" stroke="#fdad60" stroke-width="0.8" stroke-opacity="0.6" fill="none"/><path d="M346.6 93.2l-0.2 3M353.2 93.3l0.3 3.1M322.6 97.2l1.3 2.7M342.2 98.3l-0.1 3M348.6 99l0.3 3.2M354.5 98l0.6 3" stroke="#fdad60" stroke-width="1.4" stroke-opacity="0.65" fill="none"/><use href="#grd"/></g>
<rect x="150.60" y="73.50" width="218.90" height="207.75" fill="none" stroke="#000" stroke-width="1.1"/>
<g font-family='"Liberation Sans", sans-serif' fill="#000">
<text x="151.40" y="63.20" font-size="13.89" text-anchor="middle" textLength="53.0" lengthAdjust="spacingAndGlyphs">112.5°E</text>
<text x="157.40" y="299.00" font-size="13.89" text-anchor="middle" textLength="53.0" lengthAdjust="spacingAndGlyphs">112.5°E</text>
<text x="213.80" y="63.20" font-size="13.89" text-anchor="middle" textLength="40.0" lengthAdjust="spacingAndGlyphs">113°E</text>
<text x="219.70" y="299.00" font-size="13.89" text-anchor="middle" textLength="40.0" lengthAdjust="spacingAndGlyphs">113°E</text>
<text x="276.30" y="63.20" font-size="13.89" text-anchor="middle" textLength="53.0" lengthAdjust="spacingAndGlyphs">113.5°E</text>
<text x="281.60" y="299.00" font-size="13.89" text-anchor="middle" textLength="53.0" lengthAdjust="spacingAndGlyphs">113.5°E</text>
<text x="338.00" y="63.20" font-size="13.89" text-anchor="middle" textLength="40.0" lengthAdjust="spacingAndGlyphs">114°E</text>
<text x="343.00" y="299.00" font-size="13.89" text-anchor="middle" textLength="40.0" lengthAdjust="spacingAndGlyphs">114°E</text>
<text x="142.10" y="97.10" font-size="13.89" text-anchor="end" textLength="45.3" lengthAdjust="spacingAndGlyphs">21.6°S</text>
<text x="142.10" y="123.70" font-size="13.89" text-anchor="end" textLength="45.3" lengthAdjust="spacingAndGlyphs">21.8°S</text>
<text x="142.10" y="150.30" font-size="13.89" text-anchor="end" textLength="33.0" lengthAdjust="spacingAndGlyphs">22°S</text>
<text x="142.10" y="176.90" font-size="13.89" text-anchor="end" textLength="45.3" lengthAdjust="spacingAndGlyphs">22.2°S</text>
<text x="142.10" y="203.50" font-size="13.89" text-anchor="end" textLength="45.3" lengthAdjust="spacingAndGlyphs">22.4°S</text>
<text x="142.10" y="230.10" font-size="13.89" text-anchor="end" textLength="45.3" lengthAdjust="spacingAndGlyphs">22.6°S</text>
<text x="142.10" y="256.70" font-size="13.89" text-anchor="end" textLength="45.3" lengthAdjust="spacingAndGlyphs">22.8°S</text>
<text x="142.10" y="283.30" font-size="13.89" text-anchor="end" textLength="33.0" lengthAdjust="spacingAndGlyphs">23°S</text>
<rect x="383.50" y="125.30" width="5" height="103.90" fill="url(#cbg)" stroke="#000" stroke-width="1.1"/>
<path d="M388.50 125.30h5" stroke="#000" stroke-width="1.1"/>
<text x="399.30" y="130.20" font-size="13.89" text-anchor="start" textLength="19.5" lengthAdjust="spacingAndGlyphs">1.0</text>
<path d="M388.50 177.25h5" stroke="#000" stroke-width="1.1"/>
<text x="399.30" y="182.15" font-size="13.89" text-anchor="start" textLength="19.5" lengthAdjust="spacingAndGlyphs">0.5</text>
<path d="M388.50 229.20h5" stroke="#000" stroke-width="1.1"/>
<text x="399.30" y="234.10" font-size="13.89" text-anchor="start" textLength="19.5" lengthAdjust="spacingAndGlyphs">0.0</text>
</g></g>
<g transform="translate(0.00,252.00)">
<g clip-path="url(#clp)"><rect x="150.60" y="73.50" width="218.90" height="207.75" fill="#97b6e1"/><g transform="translate(151.0,74.0) scale(5.00,5.20)" shape-rendering="crispEdges"><path fill="#67459e" d="M0 0h3v1.1h-3zM3 1h2v1.1h-2zM4 2h2v1.1h-2zM5 3h1v1.1h-1zM6 4h1v1.1h-1zM7 5h1v1.1h-1zM7 6h1v1.1h-1zM7 7h1v1.1h-1zM8 8h1v1.1h-1zM37 8h1v1.1h-1zM8 9h1v1.1h-1zM34 9h1v1.1h-1zM8 10h1v1.1h-1zM33 10h1v1.1h-1zM8 11h1v1.1h-1zM8 12h1v1.1h-1zM8 13h1v1.1h-1zM32 13h1v1.1h-1zM8 14h1v1.1h-1zM32 14h1v1.1h-1zM8 15h1v1.1h-1zM8 16h1v1.1h-1zM8 17h1v1.1h-1zM31 17h1v1.1h-1zM8 18h1v1.1h-1zM30 18h1v1.1h-1zM8 19h1v1.1h-1zM25 19h1v1.1h-1zM8 20h1v1.1h-1zM23 20h1v1.1h-1zM8 21h1v1.1h-1zM22 21h1v1.1h-1zM8 22h1v1.1h-1zM19 22h3v1.1h-3zM8 23h2v1.1h-2zM18 23h1v1.1h-1zM9 24h2v1.1h-2zM11 25h1v1.1h-1zM17 25h1v1.1h-1zM12 26h2v1.1h-2zM14 27h3v1.1h-3zM15 28h1v1.1h-1zM32 37h1v1.1h-1zM32 38h1v1.1h-1zM0 39h1v1.1h-1z"/><path fill="#6c469d" d="M3 0h3v1.1h-3zM5 1h2v1.1h-2zM6 2h1v1.1h-1zM6 3h2v1.1h-2zM7 4h1v1.1h-1zM8 5h1v1.1h-1zM8 6h1v1.1h-1zM8 7h2v1.1h-2zM9 8h1v1.1h-1zM9 9h1v1.1h-1zM9 10h1v1.1h-1zM9 11h1v1.1h-1zM9 12h1v1.1h-1zM32 12h1v1.1h-1zM9 13h1v1.1h-1zM9 14h1v1.1h-1zM9 15h1v1.1h-1zM9 16h1v1.1h-1zM31 16h1v1.1h-1zM9 17h1v1.1h-1zM9 18h1v1.1h-1zM26 18h4v1.1h-4zM9 19h1v1.1h-1zM24 19h1v1.1h-1zM9 20h1v1.1h-1zM9 21h1v1.1h-1zM21 21h1v1.1h-1zM9 22h2v1.1h-2zM18 22h1v1.1h-1zM10 23h1v1.1h-1zM11 24h2v1.1h-2zM17 24h1v1.1h-1zM12 25h3v1.1h-3zM16 25h1v1.1h-1zM14 26h3v1.1h-3zM31 33h1v1.1h-1zM31 35h1v1.1h-1zM33 38h1v1.1h-1zM32 39h1v1.1h-1z"/><path fill="#71489b" d="M6 0h2v1.1h-2zM7 1h1v1.1h-1zM7 2h2v1.1h-2zM8 3h2v1.1h-2zM8 4h2v1.1h-2zM9 5h1v1.1h-1zM9 6h2v1.1h-2zM10 7h1v1.1h-1zM10 8h1v1.1h-1zM35 8h1v1.1h-1zM10 9h1v1.1h-1zM33 9h1v1.1h-1zM10 10h2v1.1h-2zM10 11h2v1.1h-2zM32 11h1v1.1h-1zM10 12h2v1.1h-2zM10 13h2v1.1h-2zM10 14h2v1.1h-2zM31 14h1v1.1h-1zM10 15h2v1.1h-2zM31 15h1v1.1h-1zM10 16h2v1.1h-2zM10 17h2v1.1h-2zM30 17h1v1.1h-1zM10 18h1v1.1h-1zM24 18h2v1.1h-2zM10 19h1v1.1h-1zM23 19h1v1.1h-1zM10 20h2v1.1h-2zM21 20h2v1.1h-2zM10 21h2v1.1h-2zM18 21h3v1.1h-3zM11 22h1v1.1h-1zM17 22h1v1.1h-1zM11 23h3v1.1h-3zM16 23h2v1.1h-2zM13 24h4v1.1h-4zM15 25h1v1.1h-1zM31 34h1v1.1h-1zM32 36h1v1.1h-1zM33 39h1v1.1h-1z"/><path fill="#764999" d="M8 0h2v1.1h-2zM8 1h3v1.1h-3zM9 2h2v1.1h-2zM10 3h2v1.1h-2zM10 4h2v1.1h-2zM10 5h2v1.1h-2zM11 6h2v1.1h-2zM11 7h2v1.1h-2zM11 8h2v1.1h-2zM34 8h1v1.1h-1zM11 9h2v1.1h-2zM12 10h1v1.1h-1zM32 10h1v1.1h-1zM12 11h1v1.1h-1zM31 11h1v1.1h-1zM12 12h2v1.1h-2zM31 12h1v1.1h-1zM12 13h2v1.1h-2zM31 13h1v1.1h-1zM12 14h2v1.1h-2zM12 15h2v1.1h-2zM30 15h1v1.1h-1zM12 16h2v1.1h-2zM29 16h2v1.1h-2zM12 17h2v1.1h-2zM24 17h6v1.1h-6zM11 18h3v1.1h-3zM22 18h2v1.1h-2zM11 19h3v1.1h-3zM19 19h4v1.1h-4zM12 20h2v1.1h-2zM17 20h4v1.1h-4zM12 21h6v1.1h-6zM12 22h5v1.1h-5zM14 23h2v1.1h-2zM32 35h1v1.1h-1z"/><path fill="#7c4a98" d="M10 0h5v1.1h-5zM11 1h4v1.1h-4zM11 2h5v1.1h-5zM12 3h4v1.1h-4zM12 4h4v1.1h-4zM12 5h5v1.1h-5zM13 6h4v1.1h-4zM13 7h4v1.1h-4zM13 8h4v1.1h-4zM13 9h4v1.1h-4zM32 9h1v1.1h-1zM13 10h5v1.1h-5zM31 10h1v1.1h-1zM13 11h5v1.1h-5zM30 11h1v1.1h-1zM14 12h4v1.1h-4zM30 12h1v1.1h-1zM14 13h4v1.1h-4zM29 13h2v1.1h-2zM14 14h5v1.1h-5zM22 14h9v1.1h-9zM14 15h16v1.1h-16zM14 16h15v1.1h-15zM14 17h10v1.1h-10zM14 18h8v1.1h-8zM14 19h5v1.1h-5zM14 20h3v1.1h-3z"/><path fill="#844d96" d="M15 0h7v1.1h-7zM15 1h7v1.1h-7zM16 2h6v1.1h-6zM16 3h7v1.1h-7zM16 4h7v1.1h-7zM17 5h7v1.1h-7zM17 6h8v1.1h-8zM17 7h9v1.1h-9zM35 7h1v1.1h-1zM17 8h10v1.1h-10zM33 8h1v1.1h-1zM17 9h11v1.1h-11zM31 9h1v1.1h-1zM18 10h13v1.1h-13zM18 11h12v1.1h-12zM18 12h12v1.1h-12zM18 13h11v1.1h-11zM19 14h3v1.1h-3z"/><path fill="#8b4f94" d="M22 0h2v1.1h-2zM22 1h2v1.1h-2zM22 2h2v1.1h-2zM23 3h1v1.1h-1zM23 4h2v1.1h-2zM24 5h1v1.1h-1zM25 6h1v1.1h-1zM41 6h1v1.1h-1zM26 7h1v1.1h-1zM34 7h1v1.1h-1zM39 7h1v1.1h-1zM27 8h1v1.1h-1zM28 9h3v1.1h-3z"/><path fill="#935193" d="M24 0h1v1.1h-1zM24 1h1v1.1h-1zM24 2h1v1.1h-1zM24 3h1v1.1h-1zM25 4h1v1.1h-1zM25 5h1v1.1h-1zM41 5h1v1.1h-1zM26 6h1v1.1h-1zM36 6h2v1.1h-2zM40 6h1v1.1h-1zM27 7h1v1.1h-1zM28 8h5v1.1h-5z"/><path fill="#9b5491" d="M25 0h1v1.1h-1zM42 0h1v1.1h-1zM25 1h1v1.1h-1zM25 2h1v1.1h-1zM42 2h1v1.1h-1zM25 3h1v1.1h-1zM41 4h1v1.1h-1zM26 5h1v1.1h-1zM39 5h2v1.1h-2zM27 6h1v1.1h-1zM35 6h1v1.1h-1zM28 7h1v1.1h-1zM33 7h1v1.1h-1z"/><path fill="#a4568e" d="M26 0h1v1.1h-1zM42 1h1v1.1h-1zM26 3h1v1.1h-1zM41 3h1v1.1h-1zM26 4h1v1.1h-1zM40 4h1v1.1h-1zM36 5h3v1.1h-3zM28 6h1v1.1h-1zM34 6h1v1.1h-1zM29 7h4v1.1h-4z"/><path fill="#b65c82" d="M27 0h1v1.1h-1zM40 0h1v1.1h-1zM27 1h1v1.1h-1zM40 2h1v1.1h-1zM27 3h1v1.1h-1zM39 3h1v1.1h-1zM27 4h1v1.1h-1zM36 4h2v1.1h-2zM28 5h1v1.1h-1zM34 5h1v1.1h-1zM29 6h4v1.1h-4z"/><path fill="#c76278" d="M28 0h1v1.1h-1zM39 0h1v1.1h-1zM28 1h1v1.1h-1zM39 1h1v1.1h-1zM39 2h1v1.1h-1zM28 3h1v1.1h-1zM37 3h1v1.1h-1zM34 4h1v1.1h-1zM30 5h3v1.1h-3z"/><path fill="#ce6574" d="M29 0h1v1.1h-1zM38 0h1v1.1h-1zM38 1h1v1.1h-1zM28 2h1v1.1h-1zM38 2h1v1.1h-1zM36 3h1v1.1h-1zM29 4h1v1.1h-1zM33 4h1v1.1h-1z"/><path fill="#da6b6b" d="M30 0h1v1.1h-1zM36 0h1v1.1h-1zM36 1h1v1.1h-1zM36 2h1v1.1h-1zM30 3h1v1.1h-1zM34 3h1v1.1h-1z"/><path fill="#de6f68" d="M31 0h1v1.1h-1zM35 0h1v1.1h-1zM30 1h1v1.1h-1zM30 2h1v1.1h-1zM35 2h1v1.1h-1zM31 3h2v1.1h-2z"/><path fill="#e17265" d="M32 0h3v1.1h-3zM31 1h1v1.1h-1zM35 1h1v1.1h-1zM31 2h1v1.1h-1zM33 2h2v1.1h-2z"/><path fill="#d4686f" d="M37 0h1v1.1h-1zM29 1h1v1.1h-1zM37 1h1v1.1h-1zM29 2h1v1.1h-1zM37 2h1v1.1h-1zM29 3h1v1.1h-1zM35 3h1v1.1h-1zM30 4h3v1.1h-3z"/><path fill="#ad5988" d="M41 0h1v1.1h-1zM26 1h1v1.1h-1zM41 1h1v1.1h-1zM26 2h1v1.1h-1zM41 2h1v1.1h-1zM40 3h1v1.1h-1zM38 4h2v1.1h-2zM27 5h1v1.1h-1zM35 5h1v1.1h-1zM33 6h1v1.1h-1z"/><path fill="#6244a0" d="M0 1h3v1.1h-3zM2 2h2v1.1h-2zM4 3h1v1.1h-1zM5 4h1v1.1h-1zM5 5h2v1.1h-2zM6 6h1v1.1h-1zM6 7h1v1.1h-1zM7 8h1v1.1h-1zM7 9h1v1.1h-1zM7 10h1v1.1h-1zM33 11h1v1.1h-1zM32 15h1v1.1h-1zM7 16h1v1.1h-1zM7 17h1v1.1h-1zM7 18h1v1.1h-1zM7 19h1v1.1h-1zM26 19h4v1.1h-4zM7 20h1v1.1h-1zM24 20h1v1.1h-1zM7 21h1v1.1h-1zM23 21h1v1.1h-1zM7 22h1v1.1h-1zM22 22h1v1.1h-1zM7 23h1v1.1h-1zM20 23h2v1.1h-2zM8 24h1v1.1h-1zM9 25h2v1.1h-2zM11 26h1v1.1h-1zM17 26h1v1.1h-1zM12 27h2v1.1h-2zM17 27h1v1.1h-1zM13 28h2v1.1h-2zM16 28h1v1.1h-1zM14 29h3v1.1h-3zM15 30h2v1.1h-2zM31 36h1v1.1h-1zM1 39h1v1.1h-1z"/><path fill="#e47662" d="M32 1h3v1.1h-3z"/><path fill="#c05f7d" d="M40 1h1v1.1h-1zM27 2h1v1.1h-1zM38 3h1v1.1h-1zM28 4h1v1.1h-1zM35 4h1v1.1h-1zM29 5h1v1.1h-1zM33 5h1v1.1h-1z"/><path fill="#5e42a1" d="M0 2h2v1.1h-2zM2 3h2v1.1h-2zM3 4h2v1.1h-2zM4 5h1v1.1h-1zM5 6h1v1.1h-1zM6 8h1v1.1h-1zM6 9h1v1.1h-1zM35 9h1v1.1h-1zM34 10h1v1.1h-1zM7 11h1v1.1h-1zM7 12h1v1.1h-1zM33 12h1v1.1h-1zM7 13h1v1.1h-1zM7 14h1v1.1h-1zM7 15h1v1.1h-1zM32 16h1v1.1h-1zM6 17h1v1.1h-1zM6 18h1v1.1h-1zM31 18h1v1.1h-1zM6 19h1v1.1h-1zM30 19h1v1.1h-1zM6 20h1v1.1h-1zM25 20h1v1.1h-1zM6 21h1v1.1h-1zM6 22h1v1.1h-1zM6 23h1v1.1h-1zM19 23h1v1.1h-1zM7 24h1v1.1h-1zM18 24h1v1.1h-1zM8 25h1v1.1h-1zM9 26h2v1.1h-2zM11 27h1v1.1h-1zM12 28h1v1.1h-1zM17 28h1v1.1h-1zM13 29h1v1.1h-1zM17 29h1v1.1h-1zM13 30h2v1.1h-2zM17 30h1v1.1h-1zM15 31h3v1.1h-3zM31 37h1v1.1h-1zM2 39h1v1.1h-1zM31 39h1v1.1h-1z"/><path fill="#5a41a2" d="M0 3h2v1.1h-2zM2 4h1v1.1h-1zM3 5h1v1.1h-1zM4 6h1v1.1h-1zM5 7h1v1.1h-1zM5 8h1v1.1h-1zM6 10h1v1.1h-1zM6 11h1v1.1h-1zM6 12h1v1.1h-1zM6 13h1v1.1h-1zM33 13h1v1.1h-1zM6 14h1v1.1h-1zM33 14h1v1.1h-1zM6 15h1v1.1h-1zM6 16h1v1.1h-1zM32 17h1v1.1h-1zM5 18h1v1.1h-1zM5 19h1v1.1h-1zM5 20h1v1.1h-1zM26 20h3v1.1h-3zM4 21h2v1.1h-2zM24 21h1v1.1h-1zM4 22h2v1.1h-2zM23 22h1v1.1h-1zM5 23h1v1.1h-1zM22 23h1v1.1h-1zM5 24h2v1.1h-2zM19 24h3v1.1h-3zM7 25h1v1.1h-1zM18 25h1v1.1h-1zM8 26h1v1.1h-1zM9 27h2v1.1h-2zM11 28h1v1.1h-1zM11 29h2v1.1h-2zM12 30h1v1.1h-1zM18 30h1v1.1h-1zM14 31h1v1.1h-1zM18 31h2v1.1h-2zM17 32h2v1.1h-2zM0 38h1v1.1h-1zM31 38h1v1.1h-1zM3 39h1v1.1h-1z"/><path fill="#563fa4" d="M0 4h2v1.1h-2zM1 5h2v1.1h-2zM3 6h1v1.1h-1zM4 7h1v1.1h-1zM4 8h1v1.1h-1zM5 9h1v1.1h-1zM36 9h1v1.1h-1zM5 10h1v1.1h-1zM5 11h1v1.1h-1zM34 11h1v1.1h-1zM5 12h1v1.1h-1zM5 13h1v1.1h-1zM5 14h1v1.1h-1zM5 15h1v1.1h-1zM33 15h1v1.1h-1zM5 16h1v1.1h-1zM5 17h1v1.1h-1zM4 19h1v1.1h-1zM4 20h1v1.1h-1zM29 20h1v1.1h-1zM3 21h1v1.1h-1zM3 22h1v1.1h-1zM3 23h2v1.1h-2zM4 24h1v1.1h-1zM5 25h2v1.1h-2zM7 26h1v1.1h-1zM18 26h1v1.1h-1zM8 27h1v1.1h-1zM18 27h1v1.1h-1zM10 28h1v1.1h-1zM18 28h1v1.1h-1zM10 29h1v1.1h-1zM18 29h1v1.1h-1zM11 30h1v1.1h-1zM19 30h1v1.1h-1zM12 31h2v1.1h-2zM15 32h2v1.1h-2zM19 32h1v1.1h-1zM0 37h1v1.1h-1zM1 38h1v1.1h-1zM4 39h1v1.1h-1zM20 39h2v1.1h-2z"/><path fill="#513da5" d="M0 5h1v1.1h-1zM1 6h2v1.1h-2zM2 7h2v1.1h-2zM3 8h1v1.1h-1zM4 9h1v1.1h-1zM4 10h1v1.1h-1zM35 10h1v1.1h-1zM4 11h1v1.1h-1zM34 12h1v1.1h-1zM4 16h1v1.1h-1zM33 16h1v1.1h-1zM4 17h1v1.1h-1zM4 18h1v1.1h-1zM32 18h1v1.1h-1zM3 19h1v1.1h-1zM31 19h1v1.1h-1zM2 20h2v1.1h-2zM30 20h1v1.1h-1zM2 21h1v1.1h-1zM25 21h1v1.1h-1zM1 22h2v1.1h-2zM0 23h3v1.1h-3zM0 24h4v1.1h-4zM22 24h1v1.1h-1zM3 25h2v1.1h-2zM19 25h3v1.1h-3zM5 26h2v1.1h-2zM7 27h1v1.1h-1zM8 28h2v1.1h-2zM9 29h1v1.1h-1zM19 29h1v1.1h-1zM10 30h1v1.1h-1zM20 30h1v1.1h-1zM11 31h1v1.1h-1zM20 31h1v1.1h-1zM14 32h1v1.1h-1zM20 32h1v1.1h-1zM18 33h2v1.1h-2zM2 38h1v1.1h-1zM5 39h1v1.1h-1zM19 39h1v1.1h-1zM30 39h1v1.1h-1z"/><path fill="#4d3ca6" d="M0 6h1v1.1h-1zM1 7h1v1.1h-1zM2 8h1v1.1h-1zM3 9h1v1.1h-1zM3 10h1v1.1h-1zM35 11h1v1.1h-1zM4 12h1v1.1h-1zM4 13h1v1.1h-1zM34 13h1v1.1h-1zM4 14h1v1.1h-1zM4 15h1v1.1h-1zM3 16h1v1.1h-1zM3 17h1v1.1h-1zM33 17h1v1.1h-1zM3 18h1v1.1h-1zM2 19h1v1.1h-1zM0 20h2v1.1h-2zM0 21h2v1.1h-2zM26 21h1v1.1h-1zM0 22h1v1.1h-1zM24 22h1v1.1h-1zM23 23h1v1.1h-1zM0 25h3v1.1h-3zM0 26h5v1.1h-5zM19 26h3v1.1h-3zM5 27h2v1.1h-2zM20 27h1v1.1h-1zM7 28h1v1.1h-1zM19 28h2v1.1h-2zM8 29h1v1.1h-1zM20 29h1v1.1h-1zM9 30h1v1.1h-1zM10 31h1v1.1h-1zM13 32h1v1.1h-1zM0 33h1v1.1h-1zM17 33h1v1.1h-1zM20 33h1v1.1h-1zM0 34h1v1.1h-1zM30 34h1v1.1h-1zM0 35h1v1.1h-1zM0 36h1v1.1h-1zM1 37h1v1.1h-1zM3 38h1v1.1h-1zM18 39h1v1.1h-1zM22 39h1v1.1h-1z"/><path fill="#c86070" d="M42 6h1v1.1h-1z"/><path fill="#483aa6" d="M0 7h1v1.1h-1zM0 8h2v1.1h-2zM2 9h1v1.1h-1zM2 10h1v1.1h-1zM3 11h1v1.1h-1zM3 12h1v1.1h-1zM35 12h1v1.1h-1zM3 13h1v1.1h-1zM3 14h1v1.1h-1zM34 14h1v1.1h-1zM3 15h1v1.1h-1zM2 16h1v1.1h-1zM2 17h1v1.1h-1zM1 18h2v1.1h-2zM0 19h2v1.1h-2zM27 21h3v1.1h-3zM22 25h1v1.1h-1zM0 27h5v1.1h-5zM19 27h1v1.1h-1zM21 27h1v1.1h-1zM0 28h1v1.1h-1zM5 28h2v1.1h-2zM7 29h1v1.1h-1zM8 30h1v1.1h-1zM0 31h1v1.1h-1zM8 31h2v1.1h-2zM0 32h1v1.1h-1zM12 32h1v1.1h-1zM1 33h1v1.1h-1zM16 33h1v1.1h-1zM30 33h1v1.1h-1zM1 34h1v1.1h-1zM1 35h1v1.1h-1zM30 35h1v1.1h-1zM1 36h1v1.1h-1zM2 37h1v1.1h-1zM30 38h1v1.1h-1zM6 39h1v1.1h-1zM17 39h1v1.1h-1z"/><path fill="#d86868" d="M42 7h1v1.1h-1z"/><path fill="#4339a6" d="M0 9h2v1.1h-2zM1 10h1v1.1h-1zM36 10h1v1.1h-1zM2 11h1v1.1h-1zM2 12h1v1.1h-1zM2 13h1v1.1h-1zM2 14h1v1.1h-1zM2 15h1v1.1h-1zM34 15h1v1.1h-1zM1 16h1v1.1h-1zM0 17h2v1.1h-2zM0 18h1v1.1h-1zM33 18h1v1.1h-1zM32 19h1v1.1h-1zM31 20h1v1.1h-1zM23 24h1v1.1h-1zM1 28h4v1.1h-4zM21 28h1v1.1h-1zM0 29h2v1.1h-2zM5 29h2v1.1h-2zM21 29h1v1.1h-1zM0 30h2v1.1h-2zM6 30h2v1.1h-2zM21 30h1v1.1h-1zM1 31h2v1.1h-2zM6 31h2v1.1h-2zM21 31h1v1.1h-1zM1 32h2v1.1h-2zM10 32h2v1.1h-2zM21 32h1v1.1h-1zM2 33h1v1.1h-1zM2 34h1v1.1h-1zM19 34h2v1.1h-2zM2 36h1v1.1h-1zM30 36h1v1.1h-1zM30 37h1v1.1h-1zM4 38h1v1.1h-1zM20 38h2v1.1h-2zM7 39h1v1.1h-1zM23 39h1v1.1h-1zM29 39h1v1.1h-1z"/><path fill="#d86464" d="M42 9h1v1.1h-1zM42 10h1v1.1h-1zM42 11h1v1.1h-1zM42 12h1v1.1h-1z"/><path fill="#3e38a6" d="M0 10h1v1.1h-1zM0 11h2v1.1h-2zM0 12h2v1.1h-2zM0 13h2v1.1h-2zM0 14h2v1.1h-2zM0 15h2v1.1h-2zM0 16h1v1.1h-1zM30 21h1v1.1h-1zM25 22h1v1.1h-1zM24 23h1v1.1h-1zM22 26h1v1.1h-1zM2 29h3v1.1h-3zM2 30h4v1.1h-4zM3 31h3v1.1h-3zM3 32h7v1.1h-7zM30 32h1v1.1h-1zM3 33h2v1.1h-2zM15 33h1v1.1h-1zM21 33h1v1.1h-1zM3 34h1v1.1h-1zM18 34h1v1.1h-1zM2 35h1v1.1h-1zM3 37h1v1.1h-1zM19 38h1v1.1h-1zM16 39h1v1.1h-1z"/><path fill="#e87050" d="M41 17h1v1.1h-1zM41 18h2v1.1h-2zM41 19h2v1.1h-2z"/><path fill="#3436a4" d="M32 20h1v1.1h-1zM31 21h1v1.1h-1zM26 22h4v1.1h-4zM22 28h1v1.1h-1zM6 33h1v1.1h-1zM13 33h1v1.1h-1zM4 34h1v1.1h-1zM17 34h1v1.1h-1zM19 35h1v1.1h-1zM21 35h1v1.1h-1zM4 37h1v1.1h-1zM20 37h2v1.1h-2zM18 38h1v1.1h-1zM29 38h1v1.1h-1zM15 39h1v1.1h-1zM25 39h3v1.1h-3z"/><path fill="#30349e" d="M30 22h1v1.1h-1zM24 24h1v1.1h-1zM23 26h1v1.1h-1zM22 29h1v1.1h-1zM22 30h1v1.1h-1zM22 31h1v1.1h-1zM22 32h1v1.1h-1zM7 33h2v1.1h-2zM12 33h1v1.1h-1zM22 33h1v1.1h-1zM5 34h1v1.1h-1zM4 35h1v1.1h-1zM20 36h2v1.1h-2zM19 37h1v1.1h-1zM29 37h1v1.1h-1zM23 38h1v1.1h-1zM9 39h1v1.1h-1zM14 39h1v1.1h-1z"/><path fill="#2c3398" d="M31 22h1v1.1h-1zM25 23h1v1.1h-1zM9 33h3v1.1h-3zM29 33h1v1.1h-1zM16 34h1v1.1h-1zM22 34h1v1.1h-1zM29 34h1v1.1h-1zM18 35h1v1.1h-1zM29 35h1v1.1h-1zM4 36h1v1.1h-1zM19 36h1v1.1h-1zM29 36h1v1.1h-1zM22 37h1v1.1h-1zM6 38h1v1.1h-1zM24 38h1v1.1h-1zM28 38h1v1.1h-1zM10 39h4v1.1h-4z"/><path fill="#f89a38" d="M42 22h1v1.1h-1z"/><path fill="#1d2e7a" d="M26 23h1v1.1h-1zM29 24h2v1.1h-2zM24 26h1v1.1h-1zM29 30h1v1.1h-1zM24 31h1v1.1h-1zM24 32h1v1.1h-1zM27 32h2v1.1h-2zM24 33h4v1.1h-4zM14 34h1v1.1h-1zM24 34h4v1.1h-4zM6 35h1v1.1h-1zM24 35h1v1.1h-1zM27 35h1v1.1h-1zM24 36h1v1.1h-1zM26 36h2v1.1h-2zM6 37h1v1.1h-1z"/><path fill="#192d70" d="M27 23h1v1.1h-1zM25 24h1v1.1h-1zM30 25h1v1.1h-1zM24 27h1v1.1h-1zM24 28h1v1.1h-1zM24 29h1v1.1h-1zM29 29h1v1.1h-1zM24 30h1v1.1h-1zM25 31h1v1.1h-1zM28 31h1v1.1h-1zM25 32h2v1.1h-2zM8 34h1v1.1h-1zM25 35h2v1.1h-2zM25 36h1v1.1h-1zM17 37h1v1.1h-1zM8 38h1v1.1h-1z"/><path fill="#24308c" d="M28 23h1v1.1h-1zM30 23h1v1.1h-1zM24 25h1v1.1h-1zM23 28h1v1.1h-1zM23 29h1v1.1h-1zM23 30h1v1.1h-1zM23 31h1v1.1h-1zM29 31h1v1.1h-1zM23 32h1v1.1h-1zM23 33h1v1.1h-1zM15 34h1v1.1h-1zM23 34h1v1.1h-1zM5 35h1v1.1h-1zM18 37h1v1.1h-1zM28 37h1v1.1h-1zM7 38h1v1.1h-1z"/><path fill="#283292" d="M29 23h1v1.1h-1zM31 23h1v1.1h-1zM23 27h1v1.1h-1zM29 32h1v1.1h-1zM6 34h1v1.1h-1zM22 35h1v1.1h-1zM22 36h1v1.1h-1zM5 37h1v1.1h-1zM23 37h1v1.1h-1zM17 38h1v1.1h-1zM25 38h3v1.1h-3z"/><path fill="#f8b440" d="M42 23h1v1.1h-1z"/><path fill="#0c243e" d="M26 24h1v1.1h-1zM28 25h1v1.1h-1zM25 28h1v1.1h-1zM28 28h1v1.1h-1zM8 37h1v1.1h-1zM11 38h2v1.1h-2z"/><path fill="#0a2236" d="M27 24h1v1.1h-1zM26 25h2v1.1h-2zM25 26h4v1.1h-4zM25 27h4v1.1h-4zM26 28h2v1.1h-2zM26 29h2v1.1h-2zM9 35h6v1.1h-6zM8 36h8v1.1h-8zM9 37h7v1.1h-7z"/><path fill="#132a5c" d="M28 24h1v1.1h-1zM29 25h1v1.1h-1zM25 30h1v1.1h-1zM10 34h3v1.1h-3zM7 35h1v1.1h-1z"/><path fill="#f0e048" d="M42 24h1v1.1h-1z"/><path fill="#3937a6" d="M23 25h1v1.1h-1zM22 27h1v1.1h-1zM5 33h1v1.1h-1zM14 33h1v1.1h-1zM21 34h1v1.1h-1zM3 35h1v1.1h-1zM20 35h1v1.1h-1zM3 36h1v1.1h-1zM5 38h1v1.1h-1zM22 38h1v1.1h-1zM8 39h1v1.1h-1zM24 39h1v1.1h-1zM28 39h1v1.1h-1z"/><path fill="#0f274c" d="M25 25h1v1.1h-1zM15 35h1v1.1h-1zM16 37h1v1.1h-1zM10 38h1v1.1h-1z"/><path fill="#ecec48" d="M42 25h1v1.1h-1z"/><path fill="#112954" d="M29 26h1v1.1h-1zM25 29h1v1.1h-1zM28 29h1v1.1h-1zM26 30h2v1.1h-2zM7 37h1v1.1h-1zM9 38h1v1.1h-1zM14 38h1v1.1h-1z"/><path fill="#e8f048" d="M42 26h1v1.1h-1z"/><path fill="#162c66" d="M28 30h1v1.1h-1zM26 31h2v1.1h-2zM9 34h1v1.1h-1zM13 34h1v1.1h-1zM16 35h1v1.1h-1zM6 36h1v1.1h-1zM17 36h1v1.1h-1zM15 38h1v1.1h-1z"/><path fill="#202f84" d="M28 33h1v1.1h-1zM7 34h1v1.1h-1zM28 34h1v1.1h-1zM17 35h1v1.1h-1zM23 35h1v1.1h-1zM28 35h1v1.1h-1zM5 36h1v1.1h-1zM18 36h1v1.1h-1zM23 36h1v1.1h-1zM28 36h1v1.1h-1zM24 37h4v1.1h-4zM16 38h1v1.1h-1z"/><path fill="#0d2545" d="M8 35h1v1.1h-1zM7 36h1v1.1h-1zM16 36h1v1.1h-1zM13 38h1v1.1h-1z"/></g><use href="#land"/><path d="M181.1 77.4l0 -2M186 77.4l-0.3 -2M278.9 77.4l1.1 -1.7M283.8 77.4l1.4 -1.4M288.7 77.4l1.8 -0.8M308.3 77.4l1.8 0.9M313.2 77.4l0.7 1.9M234.9 92.6l1.5 1.4M230 97.7l1.7 1M249.6 102.8l1.5 1.3M254.5 102.8l1.7 1M259.4 102.8l1.7 -1.1M264.3 102.8l2 -0.4M269.2 102.8l1.5 1.3M239.8 107.8l1.4 1.4M244.7 107.8l2 0.1M249.6 107.8l0.2 -2M264.3 107.8l1.4 -1.4M269.2 107.8l1.6 1.2M234.9 112.9l0.4 2M239.8 112.9l-1.3 -1.5M259.4 112.9l0.2 -2M264.3 112.9l1.6 1.2M269.2 112.9l1.2 1.6M230 118l-0.2 2M234.9 118l-1.8 -0.9M254.5 118l-0.6 -1.9M259.4 118l-2 0.4M264.3 118l0.1 2M269.2 118l0.6 1.9M274.1 118l0.8 1.8M278.9 118l0.9 1.8M283.8 118l1 1.7M230 123l-2 0.3M234.9 123l-0.9 -1.8M244.7 123l-0.7 -1.9M249.6 123l-1.5 -1.4M254.5 123l-1.9 0.7M259.4 123l-0.9 1.8M264.3 123l-0.3 2M269.2 123l0.3 2M274.1 123l0.8 1.8M278.9 123l0.8 1.8M283.8 123l0.6 1.9M225.2 128.1l-0.2 2M230 128.1l-2 -0.4M234.9 128.1l-1.5 -1.4M239.8 128.1l-1.8 -0.8M244.7 128.1l-1.8 0.9M249.6 128.1l-1 1.7M254.5 128.1l-0.8 1.9M259.4 128.1l-0.3 2M264.3 128.1l2 0.4M269.2 128.1l1.9 0.7M274.1 128.1l1.1 1.7M278.9 128.1l0.5 1.9M225.2 133.2l0.4 2M230 133.2l0.1 2M234.9 133.2l0.1 2M239.8 133.2l0.2 2M244.7 133.2l0.1 2M249.6 133.2l-0.1 2M254.5 133.2l1.9 -0.6M259.4 133.2l1.7 -1.1M264.3 133.2l2 -0.3M269.2 133.2l1.4 1.4M274.1 133.2l0.5 1.9M181.1 138.2l0.6 -1.9M186 138.2l0.4 -2M239.8 138.2l0.5 1.9M244.7 138.2l-0.2 2M249.6 138.2l0.3 -2M254.5 138.2l1.3 -1.5M259.4 138.2l1.9 -0.7M264.3 138.2l1.1 1.7M269.2 138.2l0.4 2M327.8 138.2l1.2 -1.6M166.5 143.3l0.1 -2M171.4 143.3l-0.7 -1.9M176.2 143.3l-1.8 -0.8M181.1 143.3l-2 0.2M186 143.3l-1.7 -1M239.8 143.3l-0.2 2M244.7 143.3l-1.9 0.6M249.6 143.3l-0.4 -2M254.5 143.3l1.2 -1.6M259.4 143.3l0 2M264.3 143.3l0.3 2M313.2 143.3l1.8 -0.8M318.1 143.3l0.3 -2M322.9 143.3l-1.3 -1.5M156.7 148.4l-0.2 -2M161.6 148.4l-1.2 -1.6M166.5 148.4l-2 0.2M171.4 148.4l-0.9 1.8M176.2 148.4l-0.6 1.9M181.1 148.4l-1.5 1.3M186 148.4l-1.8 -0.8M234.9 148.4l0.3 2M239.8 148.4l-1.4 1.4M244.7 148.4l-2 -0.2M249.6 148.4l-1.5 1.3M254.5 148.4l-0.2 2M308.3 148.4l1.4 -1.4M313.2 148.4l-1.7 1.1M318.1 148.4l-1.7 1.1M322.9 148.4l-2 0.3M151.8 153.5l-0.6 -1.9M156.7 153.5l-1.8 -0.9M161.6 153.5l-1.1 1.7M166.5 153.5l0.4 2M171.4 153.5l0.5 1.9M176.2 153.5l-0.4 2M181.1 153.5l-2 0.4M230 153.5l1.3 1.5M234.9 153.5l0.3 2M239.8 153.5l-0.7 1.9M244.7 153.5l-0.1 2M249.6 153.5l0.5 1.9M298.5 153.5l1.8 -0.8M303.4 153.5l-1.6 1.2M308.3 153.5l-1.2 1.6M318.1 153.5l-1.4 1.4M322.9 153.5l-1.8 0.9M151.8 158.5l-2 -0.1M156.7 158.5l0.2 2M161.6 158.5l1.1 1.7M171.4 158.5l0.5 1.9M176.2 158.5l-1.3 1.5M181.1 158.5l-1.9 -0.5M230 158.5l1.7 1M234.9 158.5l1.6 1.2M239.8 158.5l1.5 1.3M244.7 158.5l1.5 1.3M293.6 158.5l1.4 -1.4M298.5 158.5l-1.6 1.3M313.2 158.5l-1.1 1.7M318.1 158.5l-1.2 1.6M151.8 163.6l0.5 1.9M156.7 163.6l1.3 1.6M166.5 163.6l0.7 1.9M171.4 163.6l-0.5 1.9M176.2 163.6l-1.8 0.9M181.1 163.6l-2 0M186 163.6l-2 -0.3M190.9 163.6l-1.9 -0.6M195.8 163.6l-1.5 -1.4M288.7 163.6l0.9 -1.8M293.6 163.6l-1.9 0.6M298.5 163.6l-1.3 1.5M303.4 163.6l-1.1 1.7M308.3 163.6l-1 1.7M313.2 163.6l-0.9 1.8M151.8 168.7l0.8 1.8M156.7 168.7l0.7 1.9M161.6 168.7l0.2 2M166.5 168.7l-0.5 1.9M171.4 168.7l-0.9 1.8M176.2 168.7l-0.6 1.9M181.1 168.7l0 2M186 168.7l0.3 2M190.9 168.7l-0.5 1.9M195.8 168.7l-1.4 -1.4M283.8 168.7l0.8 -1.8M288.7 168.7l-1.2 -1.6M293.6 168.7l-1.9 0.4M298.5 168.7l-1.6 1.2M303.4 168.7l-1.2 1.6M151.8 173.7l-0.7 1.9M156.7 173.7l-1 1.8M161.6 173.7l-1 1.7M166.5 173.7l-0.6 1.9M171.4 173.7l0.3 2M186 173.7l1 1.7M190.9 173.7l-2 0.4M249.6 173.7l0.8 1.8M283.8 173.7l0.5 -1.9M288.7 173.7l-0.2 -2M293.6 173.7l-1.2 -1.6M298.5 173.7l-1.9 0.7M303.4 173.7l-1 1.7M151.8 178.8l-1.9 0.5M156.7 178.8l-1.8 1M161.6 178.8l-0.8 1.8M166.5 178.8l0.6 1.9M181.1 178.8l1.4 1.5M186 178.8l-1.1 1.6M190.9 178.8l-0.5 -1.9M239.8 178.8l1.5 1.3M244.7 178.8l0.7 1.9M249.6 178.8l0.6 1.9M288.7 178.8l0.8 -1.8M293.6 178.8l-0.5 -1.9M298.5 178.8l-1.5 1.3M151.8 183.9l-2 -0.3M156.7 183.9l-1.5 1.3M161.6 183.9l0.4 2M176.2 183.9l1.4 1.4M181.1 183.9l-1.2 -1.6M234.9 183.9l1.8 0.9M239.8 183.9l1.3 1.5M244.7 183.9l1 1.7M288.7 183.9l0.8 -1.8M293.6 183.9l-1.6 -1.2M298.5 183.9l-0.6 1.9M151.8 188.9l-2 0.1M156.7 188.9l-0.8 1.8M161.6 188.9l0.5 1.9M166.5 188.9l0.8 1.8M171.4 188.9l-0.1 2M176.2 188.9l-1.2 -1.6M230 188.9l1.9 0.7M234.9 188.9l1.8 1M239.8 188.9l1.4 1.4M288.7 188.9l0.1 -2M293.6 188.9l-1.7 1M298.5 188.9l-0.1 2M156.7 194l-1.5 1.4M161.6 194l-1.6 1.2M166.5 194l-2 -0.2M171.4 194l-1.3 -1.6M225.2 194l1.6 1.1M230 194l1.5 1.3M234.9 194l1.4 1.5M288.7 194l-1.2 -1.6M293.6 194l-1.5 1.3M298.5 194l-0.7 1.9M303.4 194l-0.7 1.9M308.3 194l-0.9 1.8M220.3 199.1l1.1 1.6M225.2 199.1l1.1 1.7M283.8 199.1l0.4 -2M288.7 199.1l-1.3 -1.5M293.6 199.1l-2 -0.3M298.5 199.1l-2 0.1M303.4 199.1l-2 0M171.4 204.2l0.3 -2M176.2 204.2l0.1 -2M181.1 204.2l0 -2M186 204.2l0.4 -2M249.6 204.2l1.2 1.6M254.5 204.2l1 1.8M283.8 204.2l0.8 -1.8M288.7 204.2l0.1 -2M293.6 204.2l-0.3 -2M298.5 204.2l-0.8 -1.8M303.4 204.2l-1.4 -1.5M161.6 209.2l1.2 -1.6M166.5 209.2l0.9 -1.8M171.4 209.2l0.4 -2M176.2 209.2l0.3 -2M181.1 209.2l0.7 -1.9M234.9 209.2l1.5 1.3M239.8 209.2l2 0.1M244.7 209.2l1.9 -0.7M249.6 209.2l2 -0.4M254.5 209.2l1.6 1.2M288.7 209.2l1.5 -1.3M293.6 209.2l1.1 -1.7M298.5 209.2l0.1 -2M156.7 214.3l1.9 -0.6M161.6 214.3l1.6 -1.2M166.5 214.3l1.2 -1.6M171.4 214.3l1 -1.7M176.2 214.3l1.3 -1.5M225.2 214.3l1 1.7M230 214.3l2 0.2M249.6 214.3l2 -0.1M220.3 219.4l0.3 2M225.2 219.4l1.5 -1.3M244.7 219.4l1.9 -0.5M249.6 219.4l1.7 1M215.4 224.4l-0.2 2M220.3 224.4l1.2 -1.6M239.8 224.4l2 -0.4M244.7 224.4l1.8 0.9M264.3 224.4l1.3 1.5M269.2 224.4l1.3 1.5M210.5 229.5l0.1 2M215.4 229.5l1.9 -0.6M220.3 229.5l1.6 -1.2M230 229.5l1.9 -0.6M234.9 229.5l2 0.4M239.8 229.5l1.7 1.1M244.7 229.5l1.5 1.3M249.6 229.5l1.5 1.3M254.5 229.5l1.5 1.3M259.4 229.5l1.5 1.3M264.3 229.5l1.3 1.5M269.2 229.5l1.3 1.6M210.5 234.6l1.3 1.5M215.4 234.6l2 -0M220.3 234.6l2 0.1M225.2 234.6l1.8 0.8M230 234.6l1.6 1.2M244.7 234.6l1.6 1.1M249.6 234.6l1.8 0.9M254.5 234.6l1.9 0.7M259.4 234.6l1.6 1.1M264.3 234.6l1.2 1.6M210.5 239.6l1.1 1.7M215.4 239.6l1.2 1.6M239.8 239.6l1.7 1.1M244.7 239.6l1.9 0.6M249.6 239.6l2 0.4M254.5 239.6l1.7 1.1M259.4 239.6l1 1.7M234.9 244.7l1.6 1.2M239.8 244.7l1.9 0.7M244.7 244.7l1.9 0.6M249.6 244.7l1.3 1.5M254.5 244.7l0.9 1.8M230 249.8l1.6 1.2M234.9 249.8l1.8 0.9M239.8 249.8l1.7 1.1M244.7 249.8l1.1 1.6M176.2 275.1l0.8 -1.9M181.1 275.1l1.1 -1.6M186 275.1l1.3 -1.5M308.3 275.1l0.6 -1.9M313.2 275.1l0.1 -2M318.1 275.1l-0.2 -2" stroke="#5c90c2" stroke-width="0.8" stroke-opacity="0.6" fill="none"/><path d="M176.2 77.4l0.8 -2.2M190.9 77.4l0.1 -2M225.2 77.4l2.1 -1M230 77.4l1.7 -1M234.9 77.4l1.8 -0.8M239.8 77.4l2 -0.4M244.7 77.4l2 0.2M249.6 77.4l1.8 0.8M254.5 77.4l1.8 0.9M259.4 77.4l2.1 0.7M269.2 77.4l2.1 -1M274.1 77.4l1.4 -1.5M293.6 77.4l2 -0.4M303.4 77.4l2.2 0.3M318.1 77.4l-0 2.3M176.2 82.5l1.2 -2.1M181.1 82.5l1 -1.9M234.9 82.5l2.2 0.2M239.8 82.5l1.8 0.8M244.7 82.5l1.5 1.3M249.6 82.5l1.4 1.4M234.9 87.5l1.7 1.1M239.8 87.5l1.3 1.5M244.7 87.5l1.2 1.6M230 92.6l1.7 1.1M239.8 92.6l1.4 1.5M244.7 92.6l1.7 1.5M220.3 97.7l2.2 0.7M225.2 97.7l1.8 0.9M234.9 97.7l1.7 1.1M239.8 97.7l1.8 1.2M264.3 97.7l1.2 2M215.4 102.8l2.1 0.6M220.3 102.8l1.8 0.8M225.2 102.8l1.8 0.9M230 102.8l1.8 0.9M244.7 102.8l1.8 1.3M181.1 107.8l1.3 -1.8M186 107.8l1 -1.7M190.9 107.8l1.3 -1.6M210.5 107.8l2 0.7M215.4 107.8l1.8 0.9M220.3 107.8l1.8 0.9M225.2 107.8l2.1 1.1M234.9 107.8l1.8 1.3M254.5 107.8l0.5 -1.9M259.4 107.8l0.7 -1.9M171.4 112.9l1.8 -1.5M176.2 112.9l1 -1.7M181.1 112.9l0.9 -1.8M186 112.9l1.2 -1.6M190.9 112.9l1.8 -1.3M230 112.9l1.3 1.5M244.7 112.9l-0.1 -2M254.5 112.9l0.4 -2.1M171.4 118l1.1 -1.7M176.2 118l1 -1.7M181.1 118l1.3 -1.5M239.8 118l-0.5 -1.9M244.7 118l-0 -2.2M249.6 118l-0.1 -2M288.7 118l0.9 1.8M166.5 123l1.3 -1.7M171.4 123l1.2 -1.6M225.2 123l0.4 2M239.8 123l-0.5 -1.9M156.7 133.2l1.6 -1.8M151.8 138.2l1.2 -1.6M156.7 138.2l1.2 -1.6M161.6 138.2l1.4 -1.6M166.5 138.2l1.4 -1.7M171.4 138.2l1.2 -1.7M176.2 138.2l0.9 -1.8M190.9 138.2l0.4 -2M234.9 138.2l0.9 1.8M322.9 138.2l1.7 -1.1M151.8 143.3l1 -1.7M156.7 143.3l0.9 -1.8M161.6 143.3l0.6 -1.9M190.9 143.3l-0.5 -1.9M234.9 143.3l0.9 1.8M151.8 148.4l0.5 -1.9M230 148.4l1.4 1.4M259.4 148.4l0.4 2M303.4 148.4l2 -0.4M186 153.5l-1.4 -1.4M254.5 153.5l0.9 1.8M259.4 153.5l1.3 1.9M313.2 153.5l-1.2 1.6M166.5 158.5l1.2 1.6M186 158.5l-1.4 -1.4M190.9 158.5l-1.2 -1.9M225.2 158.5l1.9 0.5M249.6 158.5l1.5 1.3M254.5 158.5l1.6 1.4M303.4 158.5l-1.1 1.7M308.3 158.5l-1 1.7M161.6 163.6l1.2 1.6M200.7 163.6l-0.7 -1.9M225.2 163.6l2 0.2M230 163.6l2 0.4M234.9 163.6l1.9 0.5M239.8 163.6l1.9 0.6M244.7 163.6l1.9 0.7M249.6 163.6l1.9 1M254.5 163.6l1.7 1.5M318.1 163.6l-0.7 1.9M200.7 168.7l-0.2 -2.3M244.7 168.7l2 0.8M249.6 168.7l1.5 1.3M254.5 168.7l1 1.7M308.3 168.7l-0.8 1.8M313.2 168.7l-0.4 2.2M176.2 173.7l1 1.7M181.1 173.7l1.3 1.5M195.8 173.7l-0.5 -1.9M239.8 173.7l1.9 0.7M244.7 173.7l1.4 1.4M254.5 173.7l0.6 1.9M308.3 173.7l-0.3 2.2M171.4 178.8l1.4 1.5M176.2 178.8l1.6 1.3M234.9 178.8l2 0.6M283.8 178.8l1.2 -1.7M303.4 178.8l-0.3 2M166.5 183.9l1.3 1.5M171.4 183.9l1.6 1.3M186 183.9l-0.3 -2M230 183.9l2.3 0.4M249.6 183.9l1.4 1.5M303.4 183.9l0.4 2M308.3 183.9l1.1 2M181.1 188.9l-0.2 -2M244.7 188.9l1.5 1.3M303.4 188.9l0.5 1.9M308.3 188.9l0.6 1.9M151.8 194l-1.9 0.6M176.2 194l-0.4 -2M181.1 194l0.3 -2.3M220.3 194l1.9 0.9M283.8 194l0.9 -1.8M151.8 199.1l-2 -0.2M156.7 199.1l-1.9 -0.5M161.6 199.1l-1.6 -1.2M166.5 199.1l-0.9 -1.8M171.4 199.1l-0.3 -2M176.2 199.1l0.1 -2M181.1 199.1l0.2 -2M186 199.1l0.3 -2M190.9 199.1l0.5 -1.9M195.8 199.1l1.2 -1.9M215.4 199.1l1.4 1.4M230 199.1l1.2 1.6M259.4 199.1l1.2 2M278.9 199.1l1.6 -1.2M151.8 204.2l-1 -1.7M156.7 204.2l-0.4 -1.9M161.6 204.2l0.1 -2M166.5 204.2l0.3 -2M190.9 204.2l1.1 -1.7M195.8 204.2l2.1 -0.9M210.5 204.2l1 1.8M215.4 204.2l0.8 1.8M220.3 204.2l0.9 1.8M244.7 204.2l1.2 1.6M259.4 204.2l1 1.8M278.9 204.2l1.5 -1.3M151.8 209.2l1.2 -1.6M156.7 209.2l1.4 -1.5M186 209.2l1.4 -1.4M190.9 209.2l2 -0.3M205.6 209.2l0.7 2.1M210.5 209.2l0.6 1.9M215.4 209.2l0.9 2.2M259.4 209.2l1.4 1.6M278.9 209.2l1.9 -0.7M283.8 209.2l1.7 -1.1M151.8 214.3l2 -0.2M181.1 214.3l1.8 -0.8M186 214.3l2.2 0.4M234.9 214.3l1.6 -1.2M239.8 214.3l1.7 -1.3M244.7 214.3l1.7 -1M254.5 214.3l1.5 1.3M278.9 214.3l2.2 0.2M283.8 214.3l2 -0.1M288.7 214.3l1.9 -0.7M293.6 214.3l1.3 -1.5M298.5 214.3l-0 -2M151.8 219.4l2 0.3M156.7 219.4l2 -0.4M161.6 219.4l1.8 -0.9M166.5 219.4l1.7 -1M171.4 219.4l1.9 -0.7M176.2 219.4l2.3 0M230 219.4l1.4 -1.4M239.8 219.4l1.7 -1.2M254.5 219.4l1.5 1.3M269.2 219.4l1.7 1.2M274.1 219.4l1.7 1.1M278.9 219.4l1.8 0.8M151.8 224.4l2.1 0.3M156.7 224.4l2 -0.1M161.6 224.4l2.3 -0.2M225.2 224.4l1.4 -1.4M230 224.4l1.8 -1.3M234.9 224.4l1.7 -1.1M249.6 224.4l1.5 1.3M254.5 224.4l1.4 1.4M259.4 224.4l1.4 1.4M274.1 224.4l1.5 1.3M278.9 224.4l2.2 0.9M225.2 229.5l1.7 -1M274.1 229.5l1.8 1.1M205.6 234.6l0.5 1.9M234.9 234.6l1.5 1.3M239.8 234.6l1.5 1.3M269.2 234.6l1.5 1.3M205.6 239.6l0.7 1.9M220.3 239.6l1.2 1.6M225.2 239.6l1.3 1.6M230 239.6l1.4 1.5M234.9 239.6l1.5 1.4M264.3 239.6l1.5 1.6M230 244.7l1.4 1.4M225.2 249.8l1.5 1.4M249.6 249.8l1.1 1.7M225.2 254.9l1.7 1M230 254.9l1.7 1M234.9 254.9l1.7 1.1M239.8 254.9l1.6 1.4M313.2 270.1l1.2 -1.6M171.4 275.1l0.6 -1.9M303.4 275.1l1.1 -1.7" stroke="#74add1" stroke-width="0.8" stroke-opacity="0.6" fill="none"/><path d="M226.8 76.6l0.5 -0.2M270.8 76.6l0.5 -0.2M177.2 80.9l0.3 -0.5M246 93.8l0.4 0.3M241.3 98.6l0.4 0.3M265.2 99.2l0.3 0.4M246.1 103.7l0.4 0.3M182.1 106.4l0.3 -0.4M226.8 108.7l0.5 0.2M236.3 108.8l0.4 0.3M172.8 111.7l0.4 -0.3M192.4 111.9l0.4 -0.3M167.5 121.7l0.3 -0.4M157.9 131.8l0.3 -0.4M167.6 136.9l0.3 -0.4M260.4 155l0.3 0.4M190 157l-0.3 -0.4M255.8 159.6l0.4 0.3M255.8 164.8l0.4 0.3M309.1 185.5l0.2 0.4M196.7 197.6l0.3 -0.4M260.3 200.7l0.3 0.4M197.5 203.4l0.5 -0.2M216.1 210.9l0.2 0.5M241.2 213.3l0.4 -0.3M231.4 223.4l0.4 -0.3M280.7 225.1l0.5 0.2M265.4 240.9l0.3 0.3M241.1 255.9l0.4 0.3" stroke="#74add1" stroke-width="1.4" stroke-opacity="0.65" fill="none"/><path d="M151.8 77.4l2.9 -1.5M195.8 77.4l1.3 -2.8M220.3 77.4l2.9 -1M264.3 77.4l2.6 -0.1M298.5 77.4l2.7 -0M322.9 77.4l-0.2 3.2M327.8 77.4l0.2 3.5M186 82.5l1.9 -2.7M220.3 82.5l3.1 -1.3M225.2 82.5l2.7 -1M230 82.5l2.5 -0.5M254.5 82.5l2.1 1.4M259.4 82.5l3.1 0.9M264.3 82.5l3.6 -0.1M308.3 82.5l2.5 2M313.2 82.5l1.6 2.8M225.2 87.5l3.3 -0.2M230 87.5l2.6 0.7M249.6 87.5l1.8 1.7M254.5 87.5l3.1 1.7M220.3 92.6l3.5 0M225.2 92.6l2.5 0.8M249.6 92.6l2.9 1.9M190.9 97.7l2.8 -2M195.8 97.7l2.4 -2M200.7 97.7l2.4 -1.9M205.6 97.7l2.9 -1.7M210.5 97.7l3.4 -0.9M215.4 97.7l3.2 0.1M244.7 97.7l2.7 1.6M249.6 97.7l3 2M254.5 97.7l2.6 2.3M259.4 97.7l1.8 2.2M269.2 97.7l1.3 2.3M151.8 102.8l3.4 0.4M156.7 102.8l3.5 -0.3M161.6 102.8l3.5 -0.4M166.5 102.8l3.4 -0.3M171.4 102.8l3.3 -0.5M176.2 102.8l3 -1M181.1 102.8l2.5 -1.6M186 102.8l1.9 -1.9M190.9 102.8l1.5 -1.9M195.8 102.8l1.7 -1.8M200.7 102.8l2.5 -1.6M205.6 102.8l3.1 -0.8M210.5 102.8l3 0.2M234.9 102.8l2.1 1.1M239.8 102.8l2.4 1.3M151.8 107.8l2.7 1.7M156.7 107.8l2.8 1.4M161.6 107.8l2.8 1.1M166.5 107.8l2.8 0.3M171.4 107.8l2.7 -0.7M176.2 107.8l2 -1.5M195.8 107.8l2.1 -1.4M200.7 107.8l2.7 -0.7M205.6 107.8l2.6 0.2M230 107.8l2.3 1.3M151.8 112.9l1.5 2.4M156.7 112.9l2 1.9M161.6 112.9l2.6 0.8M166.5 112.9l2.6 -0.6M195.8 112.9l2.5 -0.6M200.7 112.9l2.6 0.2M205.6 112.9l2.4 0.7M210.5 112.9l2.3 0.9M215.4 112.9l2.5 1.2M220.3 112.9l2.8 1.4M225.2 112.9l2.5 1.7M249.6 112.9l0.4 -2.5M274.1 112.9l1.7 2M278.9 112.9l2.2 2.4M283.8 112.9l2.3 2.6M288.7 112.9l2.4 2.7M151.8 118l1.5 2.2M156.7 118l2.8 1.1M161.6 118l2.9 -0.7M166.5 118l1.9 -1.7M186 118l2 -1.3M190.9 118l2.7 -0.8M195.8 118l3.1 -0.2M200.7 118l3.2 0.3M205.6 118l3.5 0.5M225.2 118l1.6 2.1M293.6 118l1.6 2.9M151.8 123l3.2 1.1M156.7 123l3.4 -0.9M161.6 123l2.2 -1.9M176.2 123l1.7 -1.7M181.1 123l2.6 -1.6M186 123l3.4 -1.3M288.7 123l0.9 2.6M156.7 128.1l2.4 -2M161.6 128.1l1.6 -1.8M166.5 128.1l1.7 -1.7M171.4 128.1l2.2 -1.9M176.2 128.1l3 -1.9M220.3 128.1l1.8 2.4M283.8 128.1l0.8 2.6M151.8 133.2l2.2 -1.9M161.6 133.2l1.6 -1.7M166.5 133.2l2.1 -1.8M171.4 133.2l2.6 -2M176.2 133.2l2.9 -2.2M186 133.2l2.5 -2.6M190.9 133.2l2.3 -2.8M220.3 133.2l1.3 2.1M278.9 133.2l0.8 2.7M327.8 133.2l3.5 -0.3M195.8 138.2l1.5 -3.1M225.2 138.2l1.8 2.5M230 138.2l1.4 2.2M274.1 138.2l0.9 2.8M318.1 138.2l3.2 -0.3M230 143.3l2.2 2M269.2 143.3l1 2.8M190.9 148.4l-0.7 -2.5M225.2 148.4l3.3 1M264.3 148.4l1.1 2.5M190.9 153.5l-0.8 -3.1M225.2 153.5l2.5 0.7M264.3 153.5l2 2.6M195.8 158.5l-1 -2.4M200.7 158.5l-0.7 -2.9M259.4 158.5l1.9 2M264.3 158.5l2.1 2.7M288.7 158.5l3.5 -0.7M220.3 163.6l3.1 -0.3M259.4 163.6l1.5 2.1M264.3 163.6l1.7 2.8M283.8 163.6l3.1 -1.3M220.3 168.7l3 -0.5M225.2 168.7l2.6 -0.2M230 168.7l2.5 -0.1M234.9 168.7l2.5 0M239.8 168.7l2.4 0.4M259.4 168.7l1 2.2M318.1 168.7l0.2 3M200.7 173.7l0.9 -3.4M220.3 173.7l3.3 -1.2M225.2 173.7l3.2 -1M230 173.7l3.1 -0.6M234.9 173.7l2.8 0.1M259.4 173.7l1.7 2.6M278.9 173.7l1.4 -2M313.2 173.7l0.6 3.1M195.8 178.8l0.6 -3.1M230 178.8l3.3 -0.3M254.5 178.8l1.4 2M278.9 178.8l2 -2.4M308.3 178.8l0.7 2.6M313.2 178.8l1.5 2.5M190.9 183.9l0.7 -3.2M283.8 183.9l2.2 -2M186 188.9l0.6 -3M225.2 188.9l2.3 0.5M283.8 188.9l1.8 -1.8M186 194l0.7 -2.4M190.9 194l0.9 -2.5M195.8 194l1.3 -2.7M200.7 194l2.1 -3M239.8 194l1.7 1.6M278.9 194l2.8 -1.4M200.7 199.1l2.6 -1.8M210.5 199.1l3 1.2M234.9 199.1l2 2.2M249.6 199.1l2.1 2.5M254.5 199.1l1.4 2.1M264.3 199.1l1.9 2.2M269.2 199.1l3.1 1.7M274.1 199.1l3.3 -0.1M200.7 204.2l2.9 0.5M205.6 204.2l2.1 1.8M225.2 204.2l1.4 2.1M230 204.2l2.1 2.6M234.9 204.2l2.3 2.6M239.8 204.2l1.7 2M264.3 204.2l2.1 2.1M269.2 204.2l3.3 1.2M274.1 204.2l2.7 -0.5M195.8 209.2l2.3 1.1M200.7 209.2l1.5 2.1M220.3 209.2l1.5 2.5M225.2 209.2l1.8 2.6M230 209.2l1.5 1.9M264.3 209.2l2.9 1.9M269.2 209.2l3.4 0.7M274.1 209.2l2.6 -0.3M190.9 214.3l2 1.7M195.8 214.3l1.2 2.3M200.7 214.3l0.7 2.4M205.6 214.3l0.7 2.6M210.5 214.3l1.1 2.8M215.4 214.3l1.4 2.9M220.3 214.3l1.2 2.4M259.4 214.3l2.2 1.8M264.3 214.3l3 1.6M269.2 214.3l2.9 0.9M274.1 214.3l2.5 0.5M181.1 219.4l2.6 1.2M186 219.4l2.1 2.3M190.9 219.4l1.4 2.7M195.8 219.4l1.1 3M200.7 219.4l1.3 3.3M215.4 219.4l0.6 2.5M234.9 219.4l2.2 -1.7M259.4 219.4l2 1.6M264.3 219.4l2 1.4M283.8 219.4l2.4 0.2M288.7 219.4l2.4 -1.1M293.6 219.4l1.2 -2.2M166.5 224.4l2.8 0.2M171.4 224.4l3.2 1.1M210.5 224.4l0.6 2.9M283.8 224.4l3.4 -0.5M293.6 224.4l1.3 -3.2M151.8 229.5l2.8 0.6M156.7 229.5l3.2 0.7M151.8 239.6l2.3 2.6M200.7 239.6l1.1 3M151.8 244.7l1.4 2.6M200.7 244.7l1.3 2.9M205.6 244.7l1.4 2.6M210.5 244.7l1.8 2.7M215.4 244.7l2.2 2.7M220.3 244.7l2.2 2.5M225.2 244.7l1.8 2M259.4 244.7l1.7 2M220.3 249.8l2.6 2.2M254.5 249.8l2.4 2.4M308.3 249.8l1.1 -2.9M220.3 254.9l2.8 1.6M244.7 254.9l2.8 2.2M308.3 254.9l2 -2.7M313.2 259.9l3.2 -1.6M313.2 265l3 -1.9M181.1 270.1l2.2 -2.2M186 270.1l2.3 -2M308.3 270.1l2.1 -2M166.5 275.1l1.4 -2.5M190.9 275.1l1.7 -1.6M195.8 275.1l2.9 -2.1M293.6 275.1l2.7 -2.2M298.5 275.1l1.9 -1.9" stroke="#90c3dd" stroke-width="0.8" stroke-opacity="0.6" fill="none"/><path d="M154 76.2l0.6 -0.3M196.8 75.2l0.3 -0.6M222.5 76.6l0.6 -0.2M322.8 79.9l-0 0.7M328 80.1l0 0.8M187.5 80.4l0.4 -0.6M222.7 81.4l0.7 -0.3M227.3 81.7l0.6 -0.2M232 82.1l0.6 -0.1M256.1 83.6l0.5 0.3M261.8 83.2l0.7 0.2M267.1 82.4l0.8 -0M310.2 84l0.5 0.4M314.4 84.7l0.4 0.6M227.8 87.4l0.7 -0M232.1 88.1l0.6 0.1M251 88.9l0.4 0.4M256.9 88.8l0.7 0.4M223 92.6l0.8 0M227.1 93.2l0.5 0.2M251.8 94.1l0.6 0.4M193.1 96.1l0.6 -0.4M197.7 96.1l0.5 -0.4M202.5 96.2l0.5 -0.4M207.8 96.4l0.6 -0.4M213.2 96.9l0.8 -0.2M217.9 97.8l0.7 0M246.8 98.9l0.6 0.4M252 99.2l0.7 0.4M256.6 99.4l0.6 0.5M260.8 99.4l0.4 0.5M270.2 99.5l0.3 0.5M154.5 103.1l0.8 0.1M159.4 102.5l0.8 -0.1M164.3 102.4l0.8 -0.1M169.2 102.5l0.8 -0.1M173.9 102.4l0.7 -0.1M178.6 102l0.7 -0.2M183.1 101.5l0.6 -0.4M187.5 101.3l0.4 -0.4M192.1 101.3l0.3 -0.4M197.1 101.3l0.4 -0.4M202.6 101.5l0.5 -0.4M208 102.1l0.7 -0.2M212.8 102.9l0.6 0M236.6 103.6l0.5 0.2M241.7 103.8l0.5 0.3M153.9 109.1l0.6 0.4M158.8 108.9l0.6 0.3M163.8 108.6l0.6 0.2M168.7 108.1l0.6 0.1M173.4 107.3l0.6 -0.1M177.8 106.6l0.4 -0.3M197.4 106.7l0.5 -0.3M202.8 107.3l0.6 -0.2M231.8 108.8l0.5 0.3M153 114.8l0.3 0.5M158.3 114.3l0.5 0.4M163.6 113.5l0.6 0.2M168.5 112.4l0.6 -0.1M197.8 112.4l0.5 -0.1M207.4 113.4l0.5 0.1M212.3 113.6l0.5 0.2M217.4 113.8l0.6 0.3M222.4 114l0.6 0.3M227.1 114.2l0.6 0.4M275.4 114.4l0.4 0.4M280.7 114.8l0.5 0.5M285.7 114.9l0.5 0.6M290.6 115l0.5 0.6M153 119.6l0.3 0.5M158.8 118.8l0.6 0.2M163.9 117.4l0.6 -0.1M168 116.7l0.4 -0.4M187.6 116.9l0.4 -0.3M193.1 117.3l0.6 -0.2M198.2 117.8l0.7 -0M203.2 118.2l0.7 0.1M208.3 118.4l0.8 0.1M226.4 119.6l0.4 0.5M294.9 120.3l0.4 0.6M154.3 123.9l0.7 0.2M159.3 122.3l0.7 -0.2M163.3 121.6l0.5 -0.4M177.6 121.7l0.4 -0.4M183.2 121.8l0.6 -0.4M188.7 122l0.7 -0.3M289.4 125.1l0.2 0.6M158.6 126.5l0.5 -0.4M162.9 126.7l0.4 -0.4M167.8 126.7l0.4 -0.4M173.1 126.7l0.5 -0.4M178.6 126.6l0.7 -0.4M221.6 130l0.4 0.5M284.4 130.1l0.2 0.6M153.5 131.7l0.5 -0.4M162.9 131.8l0.4 -0.4M168.1 131.7l0.5 -0.4M173.4 131.6l0.6 -0.4M178.5 131.5l0.6 -0.5M188 131.2l0.5 -0.6M192.7 131l0.5 -0.6M221.3 134.8l0.3 0.5M279.6 135.3l0.2 0.6M330.6 132.9l0.8 -0.1M197 135.8l0.3 -0.7M226.6 140.2l0.4 0.5M231.2 139.9l0.3 0.5M274.8 140.5l0.2 0.6M320.6 138l0.7 -0.1M231.7 144.9l0.5 0.4M270 145.5l0.2 0.6M190.4 146.4l-0.2 -0.6M227.8 149.1l0.7 0.2M265.2 150.3l0.2 0.5M190.3 151l-0.2 -0.7M227.1 154l0.5 0.2M265.9 155.5l0.4 0.6M195 156.7l-0.2 -0.5M200.2 156.3l-0.1 -0.6M260.9 160.1l0.4 0.4M265.9 160.7l0.5 0.6M291.5 158l0.8 -0.2M222.7 163.4l0.7 -0.1M260.6 165.2l0.3 0.5M265.6 165.8l0.4 0.6M286.3 162.5l0.7 -0.3M222.6 168.3l0.7 -0.1M260.2 170.3l0.2 0.5M318.2 171l0 0.7M201.4 171.1l0.2 -0.7M222.8 172.8l0.7 -0.3M227.7 173l0.7 -0.2M232.5 173.3l0.7 -0.1M260.7 175.7l0.4 0.6M280 172.1l0.3 -0.4M313.7 176.1l0.1 0.7M196.3 176.4l0.1 -0.7M232.6 178.6l0.7 -0.1M255.6 180.4l0.3 0.4M280.5 177l0.4 -0.5M308.8 180.8l0.2 0.6M314.3 180.8l0.3 0.6M191.4 181.4l0.1 -0.7M285.5 182.3l0.5 -0.4M186.5 186.6l0.1 -0.7M285.2 187.5l0.4 -0.4M186.6 192.1l0.1 -0.5M191.7 192l0.2 -0.6M196.8 191.9l0.3 -0.6M202.3 191.7l0.5 -0.6M241.2 195.3l0.4 0.4M281.1 192.9l0.6 -0.3M202.7 197.7l0.6 -0.4M212.8 200l0.7 0.3M236.5 200.8l0.4 0.5M251.2 201l0.5 0.5M255.6 200.7l0.3 0.5M265.7 200.8l0.4 0.5M271.5 200.4l0.7 0.4M276.6 199l0.7 -0M203 204.6l0.6 0.1M207.3 205.5l0.5 0.4M226.3 205.8l0.3 0.5M231.7 206.1l0.5 0.6M236.7 206.2l0.5 0.6M241.1 205.7l0.4 0.4M265.9 205.8l0.5 0.5M271.7 205.1l0.7 0.3M276.2 203.8l0.6 -0.1M197.6 210.1l0.5 0.2M201.9 210.8l0.3 0.5M221.4 211.2l0.3 0.6M226.6 211.2l0.4 0.6M231.2 210.7l0.3 0.4M266.6 210.7l0.6 0.4M271.8 209.8l0.7 0.2M192.5 215.6l0.4 0.4M196.8 216.1l0.3 0.5M201.2 216.2l0.1 0.5M206.1 216.3l0.2 0.6M211.3 216.5l0.2 0.6M216.4 216.6l0.3 0.6M221.2 216.2l0.3 0.5M261.1 215.7l0.5 0.4M266.6 215.5l0.7 0.3M271.5 215l0.6 0.2M183.2 220.3l0.6 0.3M187.6 221.1l0.5 0.5M192 221.5l0.3 0.6M196.7 221.7l0.2 0.7M201.7 221.9l0.3 0.7M215.9 221.3l0.1 0.5M236.6 218l0.5 -0.4M260.9 220.6l0.4 0.3M265.8 220.5l0.4 0.3M290.6 218.5l0.5 -0.2M294.6 217.6l0.3 -0.5M173.9 225.3l0.7 0.2M211 226.7l0.1 0.6M286.5 224.1l0.7 -0.1M294.6 221.9l0.3 -0.7M154 230l0.6 0.1M159.2 230.1l0.7 0.2M153.6 241.6l0.5 0.6M201.6 242l0.2 0.7M152.9 246.8l0.3 0.6M201.7 247l0.3 0.6M206.7 246.7l0.3 0.6M211.9 246.8l0.4 0.6M217.1 246.8l0.5 0.6M222 246.7l0.5 0.6M226.5 246.3l0.4 0.4M260.7 246.3l0.4 0.4M222.3 251.5l0.6 0.5M256.4 251.7l0.5 0.5M309.2 247.5l0.3 -0.6M222.5 256.1l0.6 0.4M246.9 256.6l0.6 0.5M309.9 252.8l0.4 -0.6M315.6 258.7l0.7 -0.3M315.5 263.5l0.7 -0.4M182.8 268.3l0.5 -0.5M187.8 268.5l0.5 -0.4M310 268.5l0.5 -0.4M167.5 273.2l0.3 -0.6M192.3 273.8l0.4 -0.4M198.1 273.5l0.6 -0.5M295.7 273.4l0.6 -0.5M299.9 273.6l0.4 -0.4" stroke="#90c3dd" stroke-width="1.4" stroke-opacity="0.65" fill="none"/><path d="M156.7 77.4l3.5 -1.7M161.6 77.4l3.9 -2.1M166.5 77.4l3.6 -2.7M171.4 77.4l2.3 -3M200.7 77.4l3.1 -3M205.6 77.4l4.3 -2.1M210.5 77.4l4.3 -1.3M215.4 77.4l3.7 -1M332.7 77.4l1.2 4.3M171.4 82.5l2.4 -3M215.4 82.5l3.9 -1.4M269.2 82.5l3.5 -0.9M274.1 82.5l3.7 -1M278.9 82.5l4.6 -0.5M303.4 82.5l4.3 1.6M318.1 82.5l1.5 3.7M166.5 87.5l3.3 -3.5M171.4 87.5l2.1 -3.1M176.2 87.5l2.2 -3.1M181.1 87.5l3.3 -3.5M210.5 87.5l4.1 -1.7M215.4 87.5l3.6 -1.5M220.3 87.5l3.5 -1M259.4 87.5l4.2 1.2M151.8 92.6l4.4 1.1M161.6 92.6l3.6 -3.1M166.5 92.6l2.6 -3.4M171.4 92.6l2.8 -3.4M195.8 92.6l4.4 -2M200.7 92.6l3.7 -2M205.6 92.6l3.3 -1.9M210.5 92.6l3.4 -1.6M215.4 92.6l3.7 -1M254.5 92.6l3.9 2.1M151.8 97.7l3.8 0.3M156.7 97.7l3.7 -1.6M161.6 97.7l3.3 -2.4M166.5 97.7l3.4 -2.4M171.4 97.7l3.8 -2M176.2 97.7l4 -1.6M181.1 97.7l3.8 -1.5M186 97.7l3.4 -1.7M274.1 97.7l2.5 3.7M274.1 102.8l2.6 2.7M274.1 107.8l2.8 2.5M293.6 112.9l2.6 3.1M298.5 112.9l3 3.8M210.5 118l3.9 0.7M215.4 118l4 1.1M220.3 118l3.4 1.8M298.5 118l2.8 3.9M190.9 123l3.9 -1M195.8 123l4.3 -0.9M200.7 123l4.7 -1M220.3 123l3 2.5M293.6 123l2.2 3.9M151.8 128.1l3.6 -1.2M181.1 128.1l3.6 -1.9M186 128.1l4.1 -2.1M288.7 128.1l2.1 4M181.1 133.2l2.8 -2.4M195.8 133.2l2.7 -3.2M283.8 133.2l2.2 4.1M215.4 138.2l4 2.8M220.3 138.2l2.5 2.7M278.9 138.2l2.3 4M195.8 143.3l1.3 -3.6M220.3 143.3l4.4 1.7M225.2 143.3l3.5 2M274.1 143.3l2.3 3.8M308.3 143.3l3.9 0.2M195.8 148.4l1.3 -4.1M220.3 148.4l4.4 -0.4M269.2 148.4l2.1 3.3M274.1 148.4l2.9 3.9M195.8 153.5l0.2 -4.2M200.7 153.5l1.1 -4.4M205.6 153.5l1.7 -4.4M210.5 153.5l2.6 -4M215.4 153.5l3.7 -3M220.3 153.5l4 -1M269.2 153.5l2.5 3.4M293.6 153.5l4.3 0.1M205.6 158.5l0.2 -3.7M210.5 158.5l2 -4.2M215.4 158.5l3.9 -2.9M220.3 158.5l3.7 -0.5M269.2 158.5l2.3 3.5M205.6 163.6l0.5 -3.6M215.4 163.6l4.1 -2M269.2 163.6l2.7 3.6M205.6 168.7l1.8 -3.9M210.5 168.7l3.7 -3M215.4 168.7l3.7 -1.3M264.3 168.7l2.2 3.1M278.9 168.7l3.2 -1.8M205.6 173.7l2.8 -3.4M210.5 173.7l3.5 -2.3M215.4 173.7l3.5 -1.6M264.3 173.7l4.1 2.4M274.1 173.7l3.7 -2.1M200.7 178.8l2.2 -3.6M205.6 178.8l3.1 -3.2M210.5 178.8l3.4 -2.7M215.4 178.8l3.5 -2.4M220.3 178.8l3.7 -2.1M225.2 178.8l3.8 -1.4M259.4 178.8l3.9 2.1M274.1 178.8l3.2 -2.6M195.8 183.9l1.9 -3.8M200.7 183.9l2.7 -3.8M205.6 183.9l3.1 -3.6M225.2 183.9l4.1 -0.6M254.5 183.9l3.8 1.8M278.9 183.9l3.5 -2.1M190.9 188.9l1.4 -3.5M195.8 188.9l2 -3.6M200.7 188.9l2.4 -3.7M205.6 188.9l3 -3.7M220.3 188.9l4.4 -0.5M249.6 188.9l3.5 1.9M274.1 188.9l4.7 -0.5M278.9 188.9l3.8 -1.4M205.6 194l3.4 -2.8M210.5 194l4.5 -1.5M215.4 194l3.9 0.3M244.7 194l3.1 2.3M249.6 194l4 2.4M254.5 194l4 2.3M259.4 194l3.7 2.2M264.3 194l3.4 2.1M269.2 194l3.7 1.5M274.1 194l3.9 0.2M205.6 199.1l3.6 -0.4M239.8 199.1l2.7 2.7M244.7 199.1l2.7 2.7M205.6 219.4l1.6 3.5M210.5 219.4l1.4 3.4M176.2 224.4l3 2.2M181.1 224.4l2.5 2.9M186 224.4l2.2 3.3M190.9 224.4l2.3 3.7M195.8 224.4l2.7 4M205.6 224.4l2 4.1M288.7 224.4l2.9 -2.4M161.6 229.5l3.6 1.3M166.5 229.5l3.6 2.2M171.4 229.5l3.2 3M176.2 229.5l3.1 3.5M205.6 229.5l1.2 3.6M278.9 229.5l3.8 0.2M283.8 229.5l4.4 -2M293.6 229.5l2.6 -4M298.5 229.5l2.5 -3.8M151.8 234.6l3.2 1.7M156.7 234.6l3.4 2.3M161.6 234.6l3.2 2.9M166.5 234.6l3.2 3.4M274.1 234.6l3.9 0.8M156.7 239.6l2.4 3M161.6 239.6l2.8 3.5M269.2 239.6l3.7 1.4M156.7 244.7l2.4 3.2M195.8 244.7l2.1 3.9M264.3 244.7l3.6 1.9M151.8 249.8l2.2 2.9M195.8 249.8l3.2 3.5M200.7 249.8l3.5 3.3M210.5 249.8l4 2.7M215.4 249.8l3.5 2.5M259.4 249.8l3.9 2.2M303.4 249.8l1.7 -3.9M215.4 254.9l4.2 1.8M249.6 254.9l4.2 2.4M303.4 254.9l1.7 -3.5M220.3 259.9l4.2 1.4M225.2 259.9l3.7 1.4M230 259.9l3.9 1.6M298.5 259.9l2.8 -3.9M303.4 259.9l3 -3.2M308.3 259.9l3.3 -2.3M303.4 265l3.9 -2.7M308.3 265l3.5 -2.2M176.2 270.1l2.9 -2.9M190.9 270.1l3.1 -2.3M298.5 270.1l3.7 -2.7M303.4 270.1l3.1 -2.3M161.6 275.1l3.1 -3.1M200.7 275.1l3.9 -2.1M205.6 275.1l4.3 -2.2M274.1 275.1l3.3 -3.4M278.9 275.1l3.2 -3.1M283.8 275.1l3.3 -2.8M288.7 275.1l3.2 -2.5" stroke="#aad8e9" stroke-width="0.8" stroke-opacity="0.6" fill="none"/><path d="M159.4 76.1l0.8 -0.4M164.6 75.8l0.9 -0.5M169.3 75.3l0.8 -0.6M173.2 75.1l0.5 -0.7M203.1 75l0.7 -0.7M208.9 75.7l0.9 -0.5M213.8 76.4l0.9 -0.3M218.2 76.6l0.8 -0.2M333.7 80.7l0.3 0.9M173.2 80.1l0.5 -0.7M218.4 81.4l0.9 -0.3M271.9 81.8l0.8 -0.2M276.9 81.7l0.8 -0.2M282.5 82.1l1 -0.1M306.7 83.7l0.9 0.4M319.2 85.3l0.3 0.8M169 84.8l0.7 -0.8M173 85.1l0.5 -0.7M177.9 85.1l0.5 -0.7M183.7 84.8l0.7 -0.8M213.7 86.2l0.9 -0.4M218.2 86.4l0.8 -0.3M223 86.8l0.8 -0.2M262.7 88.5l0.9 0.3M155.2 93.5l1 0.2M164.4 90.2l0.8 -0.7M168.5 89.9l0.6 -0.8M173.5 89.9l0.6 -0.8M199.2 91.1l1 -0.4M203.6 91l0.8 -0.4M208.2 91.1l0.7 -0.4M213.1 91.3l0.7 -0.4M218.2 91.8l0.8 -0.2M257.5 94.2l0.9 0.5M154.8 97.9l0.8 0.1M159.6 96.4l0.8 -0.4M164.2 95.8l0.7 -0.5M169.1 95.8l0.7 -0.5M174.3 96.1l0.8 -0.4M179.3 96.5l0.9 -0.3M184.1 96.5l0.8 -0.3M188.7 96.3l0.8 -0.4M276 100.5l0.6 0.8M276.1 104.8l0.6 0.6M276.3 109.8l0.6 0.5M295.6 115.3l0.6 0.7M300.9 115.8l0.7 0.8M213.5 118.5l0.9 0.2M218.5 118.8l0.9 0.2M222.9 119.4l0.8 0.4M300.6 121l0.6 0.9M194 122.2l0.9 -0.2M199.2 122.3l1 -0.2M204.4 122.3l1 -0.2M222.6 125l0.7 0.6M295.3 126l0.5 0.8M154.6 127.2l0.8 -0.3M184 126.6l0.8 -0.4M189.2 126.5l0.9 -0.5M290.3 131.2l0.5 0.9M183.3 131.3l0.6 -0.5M197.9 130.7l0.6 -0.7M285.6 136.4l0.5 0.9M218.5 140.4l0.9 0.6M222.2 140.4l0.5 0.6M280.8 141.4l0.5 0.9M196.8 140.5l0.3 -0.8M223.7 144.6l1 0.4M227.9 144.8l0.8 0.4M275.8 146.2l0.5 0.8M311.3 143.4l0.8 0M196.8 145.2l0.3 -0.9M223.7 148.1l1 -0.1M270.8 150.9l0.5 0.7M276.3 151.4l0.6 0.9M196 150.2l0.1 -0.9M201.5 150l0.2 -1M206.9 150l0.4 -1M212.5 150.3l0.6 -0.9M218.2 151.1l0.8 -0.7M223.4 152.7l0.9 -0.2M271.1 156.1l0.5 0.7M297 153.5l0.9 0M205.7 155.6l0 -0.8M212 155.3l0.4 -0.9M218.4 156.3l0.9 -0.6M223.1 158.1l0.8 -0.1M271 161.3l0.5 0.8M206 160.8l0.1 -0.8M218.6 162l0.9 -0.4M271.3 166.4l0.6 0.8M207 165.6l0.4 -0.9M213.4 166.3l0.8 -0.7M218.3 167.6l0.8 -0.3M266 171.1l0.5 0.7M281.4 167.2l0.7 -0.4M207.8 171.1l0.6 -0.7M213.2 171.9l0.8 -0.5M218.1 172.5l0.8 -0.3M267.5 175.6l0.9 0.5M277 172.1l0.8 -0.5M202.4 176l0.5 -0.8M208 176.3l0.7 -0.7M213.1 176.7l0.7 -0.6M218.1 176.9l0.8 -0.5M223.1 177.2l0.8 -0.5M228.1 177.7l0.8 -0.3M262.4 180.4l0.9 0.5M276.6 176.7l0.7 -0.6M197.3 180.9l0.4 -0.8M202.8 180.9l0.6 -0.8M208 181l0.7 -0.8M228.3 183.4l0.9 -0.1M257.4 185.3l0.8 0.4M281.7 182.2l0.8 -0.5M192 186.2l0.3 -0.8M197.4 186.1l0.4 -0.8M202.6 186.1l0.5 -0.8M208 186l0.7 -0.8M223.7 188.6l1 -0.1M252.4 190.4l0.8 0.4M277.7 188.6l1 -0.1M281.9 187.8l0.8 -0.3M208.2 191.8l0.7 -0.6M214 192.8l1 -0.3M218.4 194.3l0.9 0.1M247.2 195.8l0.7 0.5M252.7 195.8l0.9 0.5M257.6 195.8l0.9 0.5M262.2 195.8l0.8 0.5M267 195.6l0.8 0.5M272.1 195.2l0.8 0.3M277.1 194.2l0.9 0M208.4 198.8l0.8 -0.1M241.9 201.2l0.6 0.6M246.8 201.2l0.6 0.6M206.8 222.1l0.3 0.8M211.6 222l0.3 0.8M178.6 226.1l0.7 0.5M183.1 226.7l0.5 0.6M187.7 227l0.5 0.7M192.7 227.3l0.5 0.8M197.9 227.5l0.6 0.9M207.2 227.6l0.5 0.9M291 222.6l0.6 -0.5M164.4 230.5l0.8 0.3M169.2 231.2l0.8 0.5M173.9 231.8l0.7 0.7M178.7 232.2l0.7 0.8M206.5 232.3l0.3 0.8M281.9 229.7l0.8 0M287.3 227.9l1 -0.4M295.6 226.4l0.6 -0.9M300.4 226.5l0.5 -0.8M154.3 235.9l0.7 0.4M159.3 236.4l0.7 0.5M164.1 236.8l0.7 0.6M169 237.2l0.7 0.8M277.1 235.2l0.9 0.2M158.5 242l0.5 0.7M163.8 242.3l0.6 0.8M272.1 240.7l0.8 0.3M158.5 247.2l0.5 0.7M197.4 247.7l0.5 0.9M267.1 246.2l0.8 0.4M153.5 252l0.5 0.6M198.3 252.5l0.7 0.8M203.4 252.3l0.8 0.7M213.6 251.9l0.9 0.6M218.1 251.7l0.8 0.6M262.4 251.5l0.9 0.5M304.7 246.7l0.4 -0.9M218.7 256.2l0.9 0.4M252.9 256.7l0.9 0.5M304.8 252.1l0.4 -0.8M223.5 261l0.9 0.3M228 261l0.8 0.3M233.1 261.2l0.9 0.4M300.6 256.9l0.6 -0.9M305.8 257.4l0.7 -0.7M310.8 258.1l0.7 -0.5M306.4 262.9l0.9 -0.6M311 263.3l0.8 -0.5M178.5 267.8l0.6 -0.6M193.4 268.3l0.7 -0.5M301.4 268l0.8 -0.6M305.8 268.2l0.7 -0.5M164 272.8l0.7 -0.7M203.7 273.5l0.8 -0.5M209 273.4l1 -0.5M276.6 272.5l0.7 -0.8M281.4 272.7l0.7 -0.7M286.4 272.9l0.7 -0.6M291.2 273.2l0.7 -0.5" stroke="#aad8e9" stroke-width="1.4" stroke-opacity="0.65" fill="none"/><path d="M362.1 77.4l1.7 5.4M151.8 82.5l5.2 0.1M156.7 82.5l5.9 -0.7M166.5 82.5l4.4 -3.3M190.9 82.5l3.6 -3.4M205.6 82.5l5.6 -1.5M210.5 82.5l4.8 -1.4M283.8 82.5l5.8 0.4M322.9 82.5l2 4.6M151.8 87.5l5 1.4M161.6 87.5l5.3 -2.9M186 87.5l5 -3.4M200.7 87.5l5.7 -1.8M205.6 87.5l4.9 -1.8M264.3 87.5l5 0.9M269.2 87.5l5.8 1.3M308.3 87.5l4.4 3.2M156.7 92.6l4.8 -1.5M176.2 92.6l3.8 -3.3M181.1 92.6l4.7 -2.7M186 92.6l5.1 -2.1M190.9 92.6l4.9 -1.9M259.4 92.6l4.5 2.5M264.3 92.6l4.6 3.3M269.2 92.6l4.3 4.3M278.9 107.8l4.7 3.5M303.4 112.9l3.8 4.4M303.4 118l3.9 4M308.3 118l4.5 3.5M313.2 118l4.6 3.2M318.1 118l4.5 3.6M205.6 123l5.2 -0.9M210.5 123l5.6 -0.3M215.4 123l5.2 1.2M298.5 123l3.5 4M303.4 123l4.2 3.5M308.3 123l4.4 3.2M313.2 123l4.4 3.7M318.1 123l4 4.5M332.7 123l3 5.3M190.9 128.1l4.3 -2.3M195.8 128.1l4.4 -2.7M200.7 128.1l4.9 -2.8M215.4 128.1l5.3 2.2M293.6 128.1l3.4 4.1M298.5 128.1l4.2 3.8M303.4 128.1l4.5 3.7M308.3 128.1l4.5 4.1M327.8 128.1l4.6 3.4M332.7 128.1l4.5 2M200.7 133.2l4.4 -3.7M215.4 133.2l4.2 2.9M288.7 133.2l3.5 4.3M293.6 133.2l4.3 4.2M318.1 133.2l5.2 3.1M322.9 133.2l4.8 1.2M200.7 138.2l4.4 -3.8M283.8 138.2l3.5 4.3M313.2 138.2l5.1 1.4M200.7 143.3l4.4 -3.5M205.6 143.3l5.9 -1.4M210.5 143.3l5.7 0.5M215.4 143.3l5 1.3M278.9 143.3l3.3 4.2M283.8 143.3l3.9 4.6M200.7 148.4l3.4 -3.9M205.6 148.4l4.4 -3.1M210.5 148.4l4.7 -2.4M215.4 148.4l4.7 -1.6M278.9 148.4l3.4 4.5M298.5 148.4l5.1 1.2M274.1 153.5l2.9 4.1M278.9 153.5l3.6 4.7M274.1 158.5l3.2 4.2M283.8 158.5l5.8 1.7M210.5 163.6l3 -4M274.1 163.6l4.8 3.3M278.9 163.6l5.6 0.8M269.2 168.7l4.5 2.8M274.1 168.7l5.5 0.2M269.2 173.7l5.3 0M264.3 178.8l5.4 0.1M269.2 178.8l4.7 -2M210.5 183.9l3.5 -3.5M215.4 183.9l4.1 -3.1M220.3 183.9l4.5 -2.1M259.4 183.9l5.5 0.5M264.3 183.9l5.7 -1M269.2 183.9l5.2 -1.8M274.1 183.9l4.4 -2.1M210.5 188.9l4 -3.5M215.4 188.9l4.9 -2.3M254.5 188.9l5.1 1.4M259.4 188.9l5.6 0.7M264.3 188.9l5.5 0.3M269.2 188.9l5.2 0.1M200.7 224.4l2.8 4.2M181.1 229.5l3.4 3.9M186 229.5l4.1 4.1M200.7 229.5l3.3 4.8M288.7 229.5l3.5 -3.6M171.4 234.6l3.6 3.8M200.7 234.6l2.2 4.4M278.9 234.6l5.3 -1.2M293.6 234.6l4.9 -3.4M298.5 234.6l4.7 -2.6M166.5 239.6l3.9 3.8M195.8 239.6l3.1 4.9M274.1 239.6l5.4 -0.2M293.6 239.6l5.7 -1.9M298.5 239.6l5.2 -1.9M161.6 244.7l4 3.4M190.9 244.7l3.9 4.7M269.2 244.7l5 0.8M274.1 244.7l5.7 -0.2M278.9 244.7l5.9 -0.8M283.8 244.7l5.9 -1M288.7 244.7l5.9 -1.3M298.5 244.7l4.9 -3.2M303.4 244.7l3.2 -3.7M156.7 249.8l4.2 2.6M161.6 249.8l5.7 1.4M190.9 249.8l3.6 3.8M205.6 249.8l3.9 3M264.3 249.8l4.8 1.6M269.2 249.8l5.2 1.1M274.1 249.8l5.2 0.6M278.9 249.8l5.4 0.1M283.8 249.8l6 -0.8M298.5 249.8l3.3 -4.7M151.8 254.9l4.8 1.8M156.7 254.9l5.8 0.1M161.6 254.9l6 -1.1M190.9 254.9l5.7 2.1M200.7 254.9l6 1.1M205.6 254.9l5.8 1M210.5 254.9l5.2 1.4M254.5 254.9l5.1 2.2M259.4 254.9l5.4 2M264.3 254.9l5.3 1.9M269.2 254.9l5.2 1.6M274.1 254.9l5.6 1M298.5 254.9l2.1 -4.4M215.4 259.9l5.2 1.3M234.9 259.9l4.9 1.9M293.6 259.9l3 -4.7M186 265l5 -3.1M190.9 265l4.8 -2.9M195.8 265l5.5 -2.7M288.7 265l3.7 -4.5M293.6 265l3.7 -4M298.5 265l3.9 -3.4M171.4 270.1l4.3 -3.3M195.8 270.1l4.5 -2.5M278.9 270.1l4.2 -4.3M283.8 270.1l3.8 -3.9M288.7 270.1l3.9 -3.6M293.6 270.1l4 -3.1M151.8 275.1l5.1 -1.7M156.7 275.1l4.5 -2.5M210.5 275.1l4.5 -2.5M215.4 275.1l4.4 -2.8M220.3 275.1l4.4 -3.2M225.2 275.1l5.1 -3.3M269.2 275.1l4 -3.7" stroke="#c5e6f0" stroke-width="0.8" stroke-opacity="0.6" fill="none"/><path d="M363.4 81.6l0.4 1.2M155.8 82.6l1.1 0M161.3 81.9l1.3 -0.1M169.9 79.9l1 -0.7M193.8 79.8l0.8 -0.7M210 81.3l1.2 -0.3M214.2 81.4l1.1 -0.3M288.4 82.8l1.3 0.1M324.5 86.1l0.4 1M155.7 88.6l1.1 0.3M165.7 85.3l1.2 -0.6M189.9 84.9l1.1 -0.8M205.1 86.1l1.3 -0.4M209.4 86.1l1.1 -0.4M268.2 88.2l1.1 0.2M273.7 88.6l1.3 0.3M311.7 90.1l1 0.7M160.5 91.4l1.1 -0.3M179.2 90.1l0.8 -0.7M184.8 90.5l1 -0.6M190 91l1.1 -0.5M194.8 91.1l1.1 -0.4M262.9 94.5l1 0.5M267.8 95.2l1 0.7M272.6 96l1 0.9M282.6 110.5l1 0.8M306.4 116.3l0.8 1M306.5 121.1l0.9 0.9M311.8 120.7l1 0.8M316.8 120.4l1 0.7M321.6 120.8l1 0.8M209.6 122.3l1.1 -0.2M214.8 122.8l1.2 -0.1M219.4 124l1.1 0.3M301.2 126.1l0.8 0.9M306.7 125.7l0.9 0.8M311.7 125.6l1 0.7M316.6 125.9l1 0.8M321.2 126.5l0.9 1M335.1 127.2l0.7 1.2M194.3 126.3l0.9 -0.5M199.3 126l1 -0.6M204.5 125.9l1.1 -0.6M219.5 129.8l1.2 0.5M296.3 131.3l0.8 0.9M301.8 131l0.9 0.8M306.9 131l1 0.8M311.8 131.3l1 0.9M331.4 130.8l1 0.8M336.2 129.7l1 0.4M204.1 130.3l1 -0.8M218.7 135.4l0.9 0.6M291.5 136.5l0.8 0.9M296.9 136.4l0.9 0.9M322.1 135.6l1.1 0.7M326.7 134.1l1 0.3M204.1 135.3l1 -0.8M286.6 141.6l0.8 1M317.2 139.4l1.1 0.3M204.1 140.6l1 -0.8M210.2 142.2l1.3 -0.3M214.9 143.7l1.3 0.1M219.3 144.4l1.1 0.3M281.5 146.6l0.7 0.9M286.9 146.9l0.9 1M203.3 145.3l0.7 -0.9M209 146l1 -0.7M214.2 146.5l1 -0.5M219.1 147.2l1 -0.3M281.6 151.9l0.8 1M302.5 149.3l1.1 0.3M276.3 156.7l0.6 0.9M281.7 157.1l0.8 1M276.5 161.8l0.7 0.9M288.3 159.8l1.3 0.4M212.8 160.5l0.7 -0.9M277.8 166.1l1 0.7M283.3 164.2l1.2 0.2M272.7 170.8l1 0.6M278.3 168.8l1.2 0M273.3 173.7l1.2 0M268.5 178.9l1.2 0M272.9 177.3l1 -0.4M213.2 181.1l0.8 -0.8M218.6 181.4l0.9 -0.7M223.8 182.2l1 -0.5M263.7 184.3l1.2 0.1M268.7 183.1l1.3 -0.2M273.2 182.4l1.1 -0.4M277.5 182.3l1 -0.5M213.6 186.2l0.9 -0.8M219.2 187.2l1.1 -0.5M258.4 190l1.1 0.3M263.7 189.5l1.2 0.2M268.6 189.2l1.2 0.1M273.2 189l1.1 0M202.9 227.7l0.6 0.9M183.8 232.5l0.7 0.9M189.2 232.7l0.9 0.9M203.3 233.2l0.7 1.1M291.5 226.7l0.8 -0.8M174.2 237.6l0.8 0.8M202.4 238l0.5 1M283.1 233.6l1.2 -0.3M297.4 231.9l1.1 -0.8M302.2 232.5l1 -0.6M169.5 242.6l0.9 0.8M198.2 243.4l0.7 1.1M278.2 239.5l1.2 -0M298 238.2l1.3 -0.4M302.6 238.2l1.1 -0.4M164.7 247.3l0.9 0.7M194 248.4l0.9 1M273.1 245.4l1.1 0.2M278.5 244.5l1.3 -0M283.6 244.1l1.3 -0.2M288.5 243.9l1.3 -0.2M293.3 243.7l1.3 -0.3M302.3 242.2l1.1 -0.7M305.9 241.8l0.7 -0.8M160 251.8l0.9 0.6M166 250.8l1.2 0.3M193.7 252.8l0.8 0.8M208.6 252.1l0.9 0.7M268 251l1.1 0.3M273.2 250.6l1.1 0.2M278.1 250.3l1.2 0.1M283.2 249.9l1.2 0M288.5 249.1l1.3 -0.2M301.1 246.1l0.7 -1M155.5 256.2l1 0.4M161.2 254.9l1.3 0M166.3 254l1.3 -0.2M195.4 256.5l1.3 0.5M205.4 255.7l1.3 0.2M210.1 255.6l1.3 0.2M214.6 255.9l1.2 0.3M258.5 256.6l1.1 0.5M263.6 256.4l1.2 0.4M268.4 256.3l1.2 0.4M273.2 256.1l1.1 0.4M278.4 255.6l1.2 0.2M300.2 251.4l0.5 -1M219.4 260.9l1.1 0.3M238.7 261.4l1.1 0.4M295.9 256.3l0.7 -1M189.9 262.6l1.1 -0.7M194.7 262.7l1.1 -0.6M200.1 262.9l1.2 -0.6M291.6 261.5l0.8 -1M296.5 261.9l0.8 -0.9M301.5 262.4l0.9 -0.7M174.7 267.5l0.9 -0.7M199.3 268.1l1 -0.6M282.3 266.7l0.9 -0.9M286.8 267l0.8 -0.9M291.8 267.3l0.9 -0.8M296.7 267.6l0.9 -0.7M155.8 273.8l1.1 -0.4M160.2 273.2l1 -0.5M214 273.2l1 -0.5M218.8 272.9l1 -0.6M223.7 272.7l1 -0.7M229.1 272.5l1.1 -0.7M272.3 272.3l0.9 -0.8" stroke="#c5e6f0" stroke-width="1.4" stroke-opacity="0.65" fill="none"/><path d="M337.6 77.4l2.2 5.9M357.2 77.4l1.6 6.7M161.6 82.5l5.9 -2.2M195.8 82.5l5.3 -3.1M200.7 82.5l6 -2.1M288.7 82.5l6.8 1.4M293.6 82.5l7 1.9M298.5 82.5l6.2 1.7M327.8 82.5l2.8 6.2M362.1 82.5l2.1 6.9M156.7 87.5l6.1 -0.7M190.9 87.5l6.1 -2.7M195.8 87.5l6.2 -2M274.1 87.5l6.6 2.5M303.4 87.5l5.6 2.7M318.1 87.5l4.5 5.5M274.1 92.6l4.5 5.2M278.9 97.7l5 5.2M278.9 102.8l5.5 4.3M283.8 107.8l5.6 3.8M288.7 107.8l5.6 4.2M293.6 107.8l5.3 4.5M298.5 107.8l4.9 4.7M303.4 107.8l4.8 5.1M322.9 107.8l5.1 5.2M357.2 107.8l-2.4 6.6M308.3 112.9l4.7 4.4M313.2 112.9l5 4M318.1 112.9l4.9 3.8M322.9 112.9l4.7 4.3M327.8 112.9l4.2 5.6M347.4 112.9l-0.9 7.2M322.9 118l4 4.7M327.8 118l2.9 5.8M337.6 118l1.1 6.5M322.9 123l3.3 5.2M327.8 123l2.9 5.5M205.6 128.1l6 -2.4M210.5 128.1l6.8 -0.4M313.2 128.1l4.3 4.6M318.1 128.1l4.1 4.8M322.9 128.1l4.3 4.5M205.6 133.2l6.7 -2.5M210.5 133.2l7 0.8M298.5 133.2l4.6 4.3M303.4 133.2l4.7 4.6M308.3 133.2l4.8 4.8M313.2 133.2l5 4.4M205.6 138.2l6.8 -1.5M210.5 138.2l6.1 1.5M288.7 138.2l4.2 4.5M293.6 138.2l4.6 4.8M298.5 138.2l4.9 5M303.4 138.2l5.3 4.8M308.3 138.2l5.6 3.6M288.7 143.3l4.4 5.1M293.6 143.3l4.9 5.2M298.5 143.3l5.7 4.4M303.4 143.3l5.7 2.4M283.8 148.4l4 5.1M288.7 148.4l4.9 5M293.6 148.4l5.8 3.7M283.8 153.5l4.9 4.6M288.7 153.5l5.9 2.7M278.9 158.5l4.9 3.9M190.9 229.5l4.7 4.3M195.8 229.5l4.6 4.6M176.2 234.6l4.6 4.1M181.1 234.6l5.8 4M195.8 234.6l4.7 5.2M283.8 234.6l5.3 -3.1M288.7 234.6l5 -3.7M171.4 239.6l5.4 3.7M176.2 239.6l6.6 3.1M278.9 239.6l6 -1.8M283.8 239.6l6.2 -2.4M288.7 239.6l6 -2.3M166.5 244.7l5.7 2.7M171.4 244.7l6.6 1.7M176.2 244.7l7.1 1.5M186 244.7l6 4.1M293.6 244.7l5.8 -2.1M166.5 249.8l6.2 0.2M171.4 249.8l6.5 0.1M176.2 249.8l6.8 1.1M181.1 249.8l6.2 2.8M186 249.8l4.8 3.8M288.7 249.8l6.4 -2.5M293.6 249.8l5.4 -4.2M166.5 254.9l6.3 -1.1M171.4 254.9l6.8 -0.1M176.2 254.9l6.7 1.3M181.1 254.9l6.1 2.2M186 254.9l5.7 2.4M195.8 254.9l5.9 1.6M278.9 254.9l6.6 -0.4M293.6 254.9l3.7 -5.3M151.8 259.9l6.1 -1M156.7 259.9l6.2 -2M161.6 259.9l6.5 -1.9M166.5 259.9l7.1 -1.2M171.4 259.9l7.3 -0.2M176.2 259.9l7.2 0.2M181.1 259.9l7.2 -0M186 259.9l7.1 -0.8M190.9 259.9l6.7 -1.4M195.8 259.9l6.4 -1.6M200.7 259.9l6.5 -1.3M205.6 259.9l6.6 -0.5M210.5 259.9l6.3 0.6M239.8 259.9l6 1.9M244.7 259.9l6.8 1.7M249.6 259.9l7.1 1.7M254.5 259.9l6.9 2M259.4 259.9l6.3 2.3M264.3 259.9l6.1 2.2M269.2 259.9l6.7 1.5M288.7 259.9l4.2 -5.4M151.8 265l6.2 -2.4M156.7 265l6.6 -2.3M161.6 265l7.1 -1.8M176.2 265l6.8 -2.4M181.1 265l5.9 -3M200.7 265l6.5 -2.1M205.6 265l7.2 -1M210.5 265l7.1 0.1M215.4 265l6.7 0.7M220.3 265l6.7 1M225.2 265l7.2 0.9M283.8 265l4.6 -5M151.8 270.1l6.1 -2.1M156.7 270.1l6.4 -2M161.6 270.1l6.3 -2.2M166.5 270.1l5.6 -2.9M200.7 270.1l5.9 -2.2M205.6 270.1l6.7 -1.5M210.5 270.1l7.1 -1M274.1 270.1l5.6 -4.4M230 275.1l6.3 -2.9M244.7 275.1l7.1 1.3M249.6 275.1l7.1 1.2M259.4 275.1l7.1 -2M264.3 275.1l5.5 -3.4" stroke="#e0f3f8" stroke-width="0.8" stroke-opacity="0.6" fill="none"/><path d="M339.4 82l0.5 1.3M358.4 82.6l0.3 1.5M166.2 80.8l1.3 -0.5M200 80.1l1.2 -0.7M205.4 80.8l1.3 -0.5M294 83.6l1.5 0.3M299.1 83.9l1.5 0.4M303.3 83.8l1.4 0.4M330 87.3l0.6 1.4M363.7 87.8l0.5 1.5M161.5 87l1.3 -0.1M195.7 85.4l1.3 -0.6M200.7 86l1.4 -0.4M279.2 89.5l1.4 0.6M307.7 89.6l1.2 0.6M321.6 91.8l1 1.2M277.5 96.7l1 1.1M282.8 101.7l1.1 1.1M283.2 106.1l1.2 0.9M288.2 110.8l1.2 0.8M293.1 111.1l1.2 0.9M297.7 111.3l1.2 1M302.3 111.5l1.1 1M307.2 111.8l1.1 1.1M326.9 111.9l1.1 1.1M355.3 113l-0.5 1.5M311.9 116.4l1 1M317.1 116l1.1 0.9M321.9 115.8l1.1 0.8M326.6 116.2l1 0.9M331.1 117.3l0.9 1.2M346.7 118.5l-0.2 1.6M326.1 121.6l0.9 1M330.1 122.5l0.6 1.3M338.5 123l0.2 1.4M325.6 127.1l0.7 1.1M330.1 127.3l0.6 1.2M210.3 126.3l1.3 -0.5M215.8 127.8l1.5 -0.1M316.5 131.7l0.9 1M321.3 131.9l0.9 1.1M326.3 131.6l0.9 1M210.8 131.3l1.5 -0.5M216 133.8l1.5 0.2M302.1 136.5l1 0.9M307.1 136.8l1 1M312 136.9l1.1 1M317.1 136.6l1.1 1M210.9 137.1l1.5 -0.3M215.2 139.4l1.3 0.3M292 141.7l0.9 1M297.2 142l1 1.1M302.3 142.2l1.1 1.1M307.5 142l1.2 1M312.7 141l1.2 0.8M292.1 147.3l1 1.1M297.5 147.4l1.1 1.1M302.9 146.8l1.2 1M307.8 145.2l1.3 0.5M287 152.3l0.9 1.1M292.6 152.3l1.1 1.1M298.2 151.3l1.3 0.8M287.7 157l1.1 1M293.3 155.6l1.3 0.6M282.7 161.6l1.1 0.9M194.6 232.9l1 0.9M199.4 233.1l1 1M179.9 237.7l1 0.9M185.6 237.7l1.3 0.9M199.5 238.6l1 1.1M288 232.2l1.2 -0.7M292.6 231.7l1.1 -0.8M175.6 242.5l1.2 0.8M181.4 242.1l1.5 0.7M283.6 238.3l1.3 -0.4M288.6 237.7l1.4 -0.5M293.4 237.9l1.3 -0.5M170.9 246.8l1.2 0.6M176.5 246l1.5 0.4M181.8 245.9l1.6 0.3M190.7 247.9l1.3 0.9M298.1 243l1.3 -0.5M171.3 249.9l1.4 0M176.5 249.8l1.4 0M181.5 250.7l1.5 0.3M186 251.9l1.4 0.6M189.8 252.7l1.1 0.8M293.7 247.8l1.4 -0.6M297.8 246.5l1.2 -0.9M171.4 254l1.4 -0.2M176.6 254.7l1.5 -0M181.5 255.8l1.5 0.3M185.9 256.6l1.3 0.5M190.5 256.8l1.3 0.5M200.4 256.1l1.3 0.3M284.1 254.5l1.5 -0.1M296.5 250.7l0.8 -1.2M156.6 259.1l1.3 -0.2M161.5 258.4l1.4 -0.4M166.7 258.4l1.4 -0.4M172 259l1.6 -0.3M177 259.7l1.6 -0M181.9 260.1l1.6 0M186.8 259.9l1.6 -0M191.6 259.3l1.6 -0.2M196.2 258.8l1.5 -0.3M200.8 258.6l1.4 -0.4M205.8 258.9l1.4 -0.3M210.8 259.5l1.5 -0.1M215.4 260.4l1.4 0.1M244.5 261.4l1.3 0.4M250 261.2l1.5 0.4M255.2 261.2l1.6 0.4M259.9 261.5l1.5 0.4M264.3 261.7l1.4 0.5M269 261.6l1.3 0.5M274.4 261.1l1.5 0.3M292 255.7l0.9 -1.2M156.7 263.1l1.4 -0.5M161.8 263.2l1.5 -0.5M167.1 263.6l1.6 -0.4M181.5 263.1l1.5 -0.5M185.7 262.6l1.3 -0.7M205.8 263.3l1.4 -0.5M211.2 264.2l1.6 -0.2M216 265l1.6 0M220.6 265.5l1.5 0.2M225.5 265.7l1.5 0.2M230.8 265.7l1.6 0.2M287.4 261.1l1 -1.1M156.6 268.4l1.3 -0.5M161.7 268.5l1.4 -0.4M166.5 268.3l1.4 -0.5M170.9 267.8l1.2 -0.6M205.3 268.4l1.3 -0.5M210.8 268.9l1.5 -0.3M216 269.3l1.6 -0.2M278.4 266.6l1.2 -1M235 272.8l1.4 -0.6M250.3 276.1l1.6 0.3M255.2 276.1l1.6 0.3M264.9 273.6l1.6 -0.4M268.6 272.5l1.2 -0.7" stroke="#e0f3f8" stroke-width="1.4" stroke-opacity="0.65" fill="none"/><path d="M342.5 77.4l2.4 7.6M347.4 77.4l1.9 8.2M352.3 77.4l1.6 7.7M357.2 82.5l2.2 7.9M278.9 87.5l7.3 3.9M298.5 87.5l7.4 2.8M278.9 92.6l5.5 6M303.4 92.6l7.5 3.7M308.3 92.6l7.2 4.7M357.2 102.8l-3 7.2M308.3 107.8l5 5.4M313.2 107.8l5.3 5.5M318.1 107.8l5.4 5.3M327.8 107.8l4.8 5.8M332.7 107.8l4.3 7.3M352.3 107.8l-2.3 7.3M186 234.6l6.4 4M190.9 234.6l6.2 4.5M181.1 239.6l7.2 3M186 239.6l7.1 3.7M190.9 239.6l5.6 4.9M181.1 244.7l7.1 2.5M283.8 254.9l7.2 -2.8M288.7 254.9l5.9 -5M274.1 259.9l7.9 -0.3M283.8 259.9l6.4 -5.2M166.5 265l7.3 -1.5M171.4 265l7.2 -1.7M230 265l8 0.6M234.9 265l8.6 0.2M249.6 265l8.3 1.6M254.5 265l7.5 2.3M259.4 265l7.2 2.3M264.3 265l8 1.5M278.9 265l6.4 -5M215.4 270.1l7.4 -1M220.3 270.1l7.7 -1.4M225.2 270.1l8 -1.9M230 270.1l8.3 -2.1M249.6 270.1l7.9 2M254.5 270.1l7.7 2M259.4 270.1l8.4 1M269.2 270.1l7.6 -3.5M234.9 275.1l7.5 -1.5M239.8 275.1l7.6 0.3M254.5 275.1l7.5 -0" stroke="#f0f9db" stroke-width="0.8" stroke-opacity="0.6" fill="none"/><path d="M344.4 83.3l0.5 1.7M348.9 83.8l0.4 1.8M353.5 83.4l0.3 1.7M358.9 88.7l0.5 1.7M284.6 90.6l1.6 0.9M304.3 89.7l1.6 0.6M283.3 97.3l1.2 1.3M309.2 95.5l1.6 0.8M313.9 96.3l1.6 1M354.9 108.3l-0.7 1.6M312.2 112.1l1.1 1.2M317.3 112.1l1.2 1.2M322.3 111.9l1.2 1.2M331.6 112.4l1.1 1.3M336 113.5l0.9 1.6M350.5 113.5l-0.5 1.6M191 237.7l1.4 0.9M195.8 238.1l1.4 1M186.8 241.9l1.6 0.6M191.6 242.6l1.6 0.8M195.3 243.5l1.2 1.1M186.7 246.7l1.6 0.6M289.4 252.7l1.6 -0.6M293.3 251l1.3 -1.1M280.2 259.7l1.7 -0.1M288.8 255.9l1.4 -1.1M172.2 263.8l1.6 -0.3M177 263.7l1.6 -0.4M236.3 265.4l1.8 0.1M241.6 265.1l1.9 0M256.1 266.3l1.8 0.4M260.3 266.7l1.6 0.5M265 266.8l1.6 0.5M270.5 266.2l1.8 0.3M284 261.1l1.4 -1.1M221.1 269.3l1.6 -0.2M226.3 269l1.7 -0.3M231.4 268.6l1.8 -0.4M236.5 268.4l1.8 -0.5M255.7 271.6l1.7 0.4M260.5 271.6l1.7 0.4M266 270.8l1.9 0.2M275.1 267.3l1.7 -0.8M240.8 274l1.6 -0.3M245.7 275.3l1.7 0.1M260.3 275.1l1.6 -0" stroke="#f0f9db" stroke-width="1.4" stroke-opacity="0.65" fill="none"/><path d="M332.7 82.5l3.2 8.4M352.3 82.5l2.1 9.3M283.8 87.5l8 4.8M293.6 87.5l8.8 3.8M322.9 87.5l4.7 7.6M357.2 87.5l2.3 9.6M362.1 87.5l1.1 9M283.8 92.6l7.5 6.3M298.5 92.6l8.4 3.3M313.2 92.6l6.9 6.3M283.8 97.7l7.9 5.5M357.2 97.7l-2.1 9.6M283.8 102.8l7.7 4.4M288.7 102.8l8.6 4.3M293.6 102.8l8.5 4.7M298.5 102.8l8 5.4M303.4 102.8l7.1 6.1M308.3 102.8l6.3 6.6M313.2 102.8l5.7 7M318.1 102.8l5.5 7.2M322.9 102.8l5.2 7.3M327.8 102.8l4.9 7.5M332.7 102.8l4.6 8.1M352.3 102.8l-2 9.3M337.6 107.8l2.7 8.9M278.9 259.9l8.1 -3.1M239.8 265l8.9 0.1M244.7 265l8.9 0.7M269.2 265l9 -0.6M274.1 265l8.5 -3.3M234.9 270.1l8.8 -1.6M239.8 270.1l9.1 -0.4M244.7 270.1l8.6 1.1M264.3 270.1l8.8 -1.2" stroke="#fffebe" stroke-width="0.8" stroke-opacity="0.6" fill="none"/><path d="M335.2 89l0.7 1.8M353.9 89.7l0.5 2M290.1 91.3l1.8 1.1M300.5 90.5l1.9 0.8M326.6 93.4l1 1.7M358.9 95l0.5 2.1M362.9 94.6l0.2 2M289.7 97.5l1.7 1.4M305 95.2l1.8 0.7M318.5 97.5l1.5 1.4M290 102l1.7 1.2M355.6 105.2l-0.5 2.1M289.9 106.2l1.7 1M295.4 106.1l1.9 1M300.3 106.4l1.9 1M304.7 107l1.7 1.2M308.9 107.5l1.6 1.3M313.2 107.9l1.4 1.4M317.6 108.2l1.3 1.5M322.3 108.4l1.2 1.6M327 108.5l1.2 1.6M331.7 108.6l1.1 1.6M336.3 109l1 1.8M350.7 110l-0.4 2M339.7 114.8l0.6 2M285.3 257.5l1.8 -0.7M246.8 265.1l2 0M251.6 265.6l1.9 0.2M276.2 264.6l2 -0.1M280.7 262.4l1.9 -0.7M241.8 268.8l1.9 -0.4M246.9 269.7l2 -0.1M251.4 270.9l1.9 0.2M271.1 269.1l1.9 -0.3" stroke="#fffebe" stroke-width="1.4" stroke-opacity="0.65" fill="none"/><path d="M337.6 82.5l2.9 10.1M342.5 82.5l2.3 10.7M347.4 82.5l2.1 10.3M288.7 87.5l8.8 4.8M327.8 87.5l4.3 9.7M352.3 87.5l2.6 10.2M288.7 92.6l9.2 5.4M293.6 92.6l9.4 3.9M322.9 92.6l5.2 9.7M357.2 92.6l0.6 11M288.7 97.7l9.5 4.6M293.6 97.7l9.6 4M298.5 97.7l9.3 4.3M303.4 97.7l8.8 5.4M308.3 97.7l7.9 6.6M313.2 97.7l6.8 7.7M318.1 97.7l5.7 8.6M322.9 97.7l5 9.3M327.8 97.7l4.6 9.7M332.7 97.7l4.3 10M337.6 97.7l4 10.3M337.6 102.8l4.1 9.4M347.4 102.8l0.2 11" stroke="#fff0a8" stroke-width="0.8" stroke-opacity="0.6" fill="none"/><path d="M339.9 90.3l0.6 2.2M344.3 90.8l0.5 2.4M349 90.5l0.5 2.3M295.5 91.3l1.9 1.1M331.2 95.1l0.9 2.1M354.3 95.5l0.6 2.3M295.9 96.8l2 1.2M300.9 95.7l2.1 0.9M327 100.2l1.1 2.1M357.6 101.2l0.1 2.4M296.1 101.3l2.1 1M301.1 100.8l2.1 0.9M305.7 101.1l2 1M310.2 101.9l1.9 1.2M314.4 102.8l1.7 1.5M318.5 103.7l1.5 1.7M322.5 104.4l1.3 1.9M326.9 104.9l1.1 2M331.4 105.3l1 2.1M336.1 105.5l0.9 2.2M340.7 105.7l0.9 2.3M340.8 110l0.9 2.1M347.5 111.3l0 2.4" stroke="#fff0a8" stroke-width="1.4" stroke-opacity="0.65" fill="none"/><path d="M332.7 87.5l3.5 11.3M337.6 87.5l2.9 12M342.5 87.5l2.7 11.9M347.4 87.5l2.7 11.1M327.8 92.6l4.3 10.9M332.7 92.6l3.7 11.5M337.6 92.6l3.5 11.7M342.5 92.6l3.3 11.5M347.4 92.6l3.1 11.4M352.3 92.6l2.4 11.5M342.5 97.7l3.6 11M347.4 97.7l2.5 11.9M352.3 97.7l0.2 11.7M342.5 102.8l2.6 10.8" stroke="#fee090" stroke-width="0.8" stroke-opacity="0.6" fill="none"/><path d="M335.5 96.3l0.8 2.5M339.9 96.9l0.6 2.6M344.6 96.8l0.6 2.6M349.5 96.2l0.6 2.4M331.2 101.1l0.9 2.4M335.6 101.6l0.8 2.5M340.3 101.7l0.8 2.6M345.1 101.6l0.7 2.5M349.8 101.5l0.7 2.5M354.2 101.6l0.5 2.5M345.3 106.3l0.8 2.4M349.4 107l0.6 2.6M352.5 106.8l0.1 2.6M344.6 111.2l0.6 2.4" stroke="#fee090" stroke-width="1.4" stroke-opacity="0.65" fill="none"/><use href="#grd"/></g>
<rect x="150.60" y="73.50" width="218.90" height="207.75" fill="none" stroke="#000" stroke-width="1.1"/>
<g font-family='"Liberation Sans", sans-serif' fill="#000">
<text x="151.40" y="63.20" font-size="13.89" text-anchor="middle" textLength="53.0" lengthAdjust="spacingAndGlyphs">112.5°E</text>
<text x="157.40" y="299.00" font-size="13.89" text-anchor="middle" textLength="53.0" lengthAdjust="spacingAndGlyphs">112.5°E</text>
<text x="213.80" y="63.20" font-size="13.89" text-anchor="middle" textLength="40.0" lengthAdjust="spacingAndGlyphs">113°E</text>
<text x="219.70" y="299.00" font-size="13.89" text-anchor="middle" textLength="40.0" lengthAdjust="spacingAndGlyphs">113°E</text>
<text x="276.30" y="63.20" font-size="13.89" text-anchor="middle" textLength="53.0" lengthAdjust="spacingAndGlyphs">113.5°E</text>
<text x="281.60" y="299.00" font-size="13.89" text-anchor="middle" textLength="53.0" lengthAdjust="spacingAndGlyphs">113.5°E</text>
<text x="338.00" y="63.20" font-size="13.89" text-anchor="middle" textLength="40.0" lengthAdjust="spacingAndGlyphs">114°E</text>
<text x="343.00" y="299.00" font-size="13.89" text-anchor="middle" textLength="40.0" lengthAdjust="spacingAndGlyphs">114°E</text>
<text x="142.10" y="97.10" font-size="13.89" text-anchor="end" textLength="45.3" lengthAdjust="spacingAndGlyphs">21.6°S</text>
<text x="142.10" y="123.70" font-size="13.89" text-anchor="end" textLength="45.3" lengthAdjust="spacingAndGlyphs">21.8°S</text>
<text x="142.10" y="150.30" font-size="13.89" text-anchor="end" textLength="33.0" lengthAdjust="spacingAndGlyphs">22°S</text>
<text x="142.10" y="176.90" font-size="13.89" text-anchor="end" textLength="45.3" lengthAdjust="spacingAndGlyphs">22.2°S</text>
<text x="142.10" y="203.50" font-size="13.89" text-anchor="end" textLength="45.3" lengthAdjust="spacingAndGlyphs">22.4°S</text>
<text x="142.10" y="230.10" font-size="13.89" text-anchor="end" textLength="45.3" lengthAdjust="spacingAndGlyphs">22.6°S</text>
<text x="142.10" y="256.70" font-size="13.89" text-anchor="end" textLength="45.3" lengthAdjust="spacingAndGlyphs">22.8°S</text>
<text x="142.10" y="283.30" font-size="13.89" text-anchor="end" textLength="33.0" lengthAdjust="spacingAndGlyphs">23°S</text>
<rect x="383.50" y="125.30" width="5" height="103.90" fill="url(#cbg)" stroke="#000" stroke-width="1.1"/>
<path d="M388.50 125.30h5" stroke="#000" stroke-width="1.1"/>
<text x="399.30" y="130.20" font-size="13.89" text-anchor="start" textLength="19.5" lengthAdjust="spacingAndGlyphs">1.0</text>
<path d="M388.50 177.25h5" stroke="#000" stroke-width="1.1"/>
<text x="399.30" y="182.15" font-size="13.89" text-anchor="start" textLength="19.5" lengthAdjust="spacingAndGlyphs">0.5</text>
<path d="M388.50 229.20h5" stroke="#000" stroke-width="1.1"/>
<text x="399.30" y="234.10" font-size="13.89" text-anchor="start" textLength="19.5" lengthAdjust="spacingAndGlyphs">0.0</text>
</g></g>
<g transform="translate(328.10,252.00)">
<g clip-path="url(#clp)"><rect x="150.60" y="73.50" width="218.90" height="207.75" fill="#97b6e1"/><g transform="translate(151.0,74.0) scale(5.00,5.20)" shape-rendering="crispEdges"><path fill="#6244a0" d="M0 0h1v1.1h-1zM0 1h4v1.1h-4zM3 2h2v1.1h-2zM5 3h1v1.1h-1zM6 4h1v1.1h-1zM7 5h1v1.1h-1zM8 6h1v1.1h-1zM8 7h1v1.1h-1zM9 9h1v1.1h-1zM35 9h1v1.1h-1zM9 10h1v1.1h-1zM9 11h1v1.1h-1zM33 11h1v1.1h-1zM9 14h1v1.1h-1zM9 15h1v1.1h-1zM32 15h1v1.1h-1zM9 16h1v1.1h-1zM9 17h1v1.1h-1zM8 18h1v1.1h-1zM8 19h1v1.1h-1zM25 19h5v1.1h-5zM8 20h1v1.1h-1zM23 20h1v1.1h-1zM7 21h2v1.1h-2zM7 22h2v1.1h-2zM19 22h2v1.1h-2zM8 23h1v1.1h-1zM18 23h1v1.1h-1zM8 24h2v1.1h-2zM9 25h2v1.1h-2zM17 25h1v1.1h-1zM11 26h1v1.1h-1zM12 27h2v1.1h-2zM13 28h4v1.1h-4zM14 29h3v1.1h-3zM15 30h2v1.1h-2zM31 36h1v1.1h-1zM1 39h1v1.1h-1z"/><path fill="#67459e" d="M1 0h3v1.1h-3zM4 1h2v1.1h-2zM5 2h2v1.1h-2zM6 3h2v1.1h-2zM7 4h1v1.1h-1zM8 5h1v1.1h-1zM9 6h1v1.1h-1zM9 7h1v1.1h-1zM9 8h1v1.1h-1zM10 9h1v1.1h-1zM10 10h1v1.1h-1zM10 11h1v1.1h-1zM10 12h1v1.1h-1zM10 13h1v1.1h-1zM32 13h1v1.1h-1zM10 14h1v1.1h-1zM32 14h1v1.1h-1zM10 15h1v1.1h-1zM10 16h1v1.1h-1zM10 17h1v1.1h-1zM31 17h1v1.1h-1zM9 18h1v1.1h-1zM30 18h1v1.1h-1zM9 19h1v1.1h-1zM24 19h1v1.1h-1zM9 20h1v1.1h-1zM22 20h1v1.1h-1zM9 21h1v1.1h-1zM21 21h1v1.1h-1zM9 22h1v1.1h-1zM9 23h1v1.1h-1zM10 24h1v1.1h-1zM17 24h1v1.1h-1zM11 25h1v1.1h-1zM12 26h2v1.1h-2zM16 26h1v1.1h-1zM14 27h3v1.1h-3zM32 37h1v1.1h-1zM32 38h1v1.1h-1zM0 39h1v1.1h-1z"/><path fill="#6c469d" d="M4 0h2v1.1h-2zM6 1h1v1.1h-1zM7 2h1v1.1h-1zM8 3h1v1.1h-1zM8 4h2v1.1h-2zM9 5h1v1.1h-1zM10 6h1v1.1h-1zM10 7h1v1.1h-1zM10 8h1v1.1h-1zM37 8h1v1.1h-1zM11 9h1v1.1h-1zM34 9h1v1.1h-1zM11 10h1v1.1h-1zM33 10h1v1.1h-1zM11 11h1v1.1h-1zM11 12h1v1.1h-1zM32 12h1v1.1h-1zM11 13h1v1.1h-1zM11 14h1v1.1h-1zM11 15h1v1.1h-1zM11 16h1v1.1h-1zM31 16h1v1.1h-1zM11 17h1v1.1h-1zM10 18h1v1.1h-1zM25 18h5v1.1h-5zM10 19h1v1.1h-1zM23 19h1v1.1h-1zM10 20h1v1.1h-1zM21 20h1v1.1h-1zM10 21h1v1.1h-1zM19 21h2v1.1h-2zM10 22h1v1.1h-1zM18 22h1v1.1h-1zM10 23h2v1.1h-2zM17 23h1v1.1h-1zM11 24h2v1.1h-2zM12 25h5v1.1h-5zM14 26h2v1.1h-2zM31 33h1v1.1h-1zM31 35h1v1.1h-1zM33 38h1v1.1h-1zM32 39h1v1.1h-1z"/><path fill="#71489b" d="M6 0h2v1.1h-2zM7 1h2v1.1h-2zM8 2h2v1.1h-2zM9 3h2v1.1h-2zM10 4h1v1.1h-1zM10 5h2v1.1h-2zM11 6h1v1.1h-1zM11 7h1v1.1h-1zM11 8h2v1.1h-2zM12 9h1v1.1h-1zM12 10h1v1.1h-1zM12 11h1v1.1h-1zM32 11h1v1.1h-1zM12 12h1v1.1h-1zM12 13h1v1.1h-1zM12 14h1v1.1h-1zM31 14h1v1.1h-1zM12 15h1v1.1h-1zM31 15h1v1.1h-1zM12 16h1v1.1h-1zM12 17h1v1.1h-1zM26 17h2v1.1h-2zM29 17h2v1.1h-2zM11 18h2v1.1h-2zM23 18h2v1.1h-2zM11 19h2v1.1h-2zM21 19h2v1.1h-2zM11 20h1v1.1h-1zM19 20h2v1.1h-2zM11 21h2v1.1h-2zM18 21h1v1.1h-1zM11 22h2v1.1h-2zM17 22h1v1.1h-1zM12 23h2v1.1h-2zM16 23h1v1.1h-1zM13 24h4v1.1h-4zM31 34h1v1.1h-1zM32 36h1v1.1h-1zM33 39h1v1.1h-1z"/><path fill="#764999" d="M8 0h3v1.1h-3zM9 1h2v1.1h-2zM10 2h2v1.1h-2zM11 3h2v1.1h-2zM11 4h2v1.1h-2zM12 5h2v1.1h-2zM12 6h2v1.1h-2zM12 7h2v1.1h-2zM13 8h1v1.1h-1zM35 8h1v1.1h-1zM13 9h2v1.1h-2zM33 9h1v1.1h-1zM13 10h2v1.1h-2zM32 10h1v1.1h-1zM13 11h2v1.1h-2zM13 12h2v1.1h-2zM31 12h1v1.1h-1zM13 13h2v1.1h-2zM31 13h1v1.1h-1zM13 14h2v1.1h-2zM13 15h2v1.1h-2zM30 15h1v1.1h-1zM13 16h2v1.1h-2zM25 16h6v1.1h-6zM13 17h2v1.1h-2zM22 17h4v1.1h-4zM28 17h1v1.1h-1zM13 18h2v1.1h-2zM20 18h3v1.1h-3zM13 19h2v1.1h-2zM18 19h3v1.1h-3zM12 20h4v1.1h-4zM17 20h2v1.1h-2zM13 21h5v1.1h-5zM13 22h4v1.1h-4zM14 23h2v1.1h-2zM32 35h1v1.1h-1z"/><path fill="#7c4a98" d="M11 0h4v1.1h-4zM11 1h5v1.1h-5zM12 2h4v1.1h-4zM13 3h4v1.1h-4zM13 4h4v1.1h-4zM14 5h3v1.1h-3zM14 6h4v1.1h-4zM14 7h4v1.1h-4zM14 8h4v1.1h-4zM15 9h3v1.1h-3zM15 10h4v1.1h-4zM15 11h4v1.1h-4zM31 11h1v1.1h-1zM15 12h4v1.1h-4zM30 12h1v1.1h-1zM15 13h5v1.1h-5zM29 13h2v1.1h-2zM15 14h16v1.1h-16zM15 15h15v1.1h-15zM15 16h10v1.1h-10zM15 17h7v1.1h-7zM15 18h5v1.1h-5zM15 19h3v1.1h-3zM16 20h1v1.1h-1z"/><path fill="#844d96" d="M15 0h7v1.1h-7zM16 1h6v1.1h-6zM16 2h6v1.1h-6zM17 3h5v1.1h-5zM17 4h5v1.1h-5zM17 5h6v1.1h-6zM18 6h5v1.1h-5zM18 7h6v1.1h-6zM18 8h7v1.1h-7zM34 8h1v1.1h-1zM18 9h8v1.1h-8zM32 9h1v1.1h-1zM19 10h13v1.1h-13zM19 11h12v1.1h-12zM19 12h11v1.1h-11zM20 13h9v1.1h-9z"/><path fill="#8b4f94" d="M22 0h2v1.1h-2zM22 1h2v1.1h-2zM22 2h2v1.1h-2zM22 3h2v1.1h-2zM22 4h2v1.1h-2zM23 5h1v1.1h-1zM23 6h2v1.1h-2zM24 7h1v1.1h-1zM25 8h2v1.1h-2zM26 9h3v1.1h-3zM31 9h1v1.1h-1z"/><path fill="#935193" d="M24 0h1v1.1h-1zM24 1h1v1.1h-1zM24 2h1v1.1h-1zM24 3h1v1.1h-1zM24 4h1v1.1h-1zM24 5h1v1.1h-1zM25 6h1v1.1h-1zM41 6h1v1.1h-1zM25 7h2v1.1h-2zM35 7h1v1.1h-1zM39 7h1v1.1h-1zM27 8h1v1.1h-1zM33 8h1v1.1h-1zM29 9h2v1.1h-2z"/><path fill="#9b5491" d="M25 0h1v1.1h-1zM42 0h1v1.1h-1zM25 1h1v1.1h-1zM25 5h1v1.1h-1zM41 5h1v1.1h-1zM40 6h1v1.1h-1zM28 8h1v1.1h-1zM32 8h1v1.1h-1z"/><path fill="#a4568e" d="M26 0h1v1.1h-1zM42 1h1v1.1h-1zM25 2h1v1.1h-1zM42 2h1v1.1h-1zM25 3h1v1.1h-1zM25 4h1v1.1h-1zM41 4h1v1.1h-1zM40 5h1v1.1h-1zM26 6h1v1.1h-1zM37 6h1v1.1h-1zM27 7h1v1.1h-1zM34 7h1v1.1h-1zM29 8h3v1.1h-3z"/><path fill="#b65c82" d="M27 0h1v1.1h-1zM40 0h1v1.1h-1zM26 3h1v1.1h-1zM40 3h1v1.1h-1zM39 4h1v1.1h-1zM37 5h2v1.1h-2zM35 6h1v1.1h-1zM29 7h1v1.1h-1zM33 7h1v1.1h-1z"/><path fill="#c76278" d="M28 0h1v1.1h-1zM39 0h1v1.1h-1zM39 1h1v1.1h-1zM39 2h1v1.1h-1zM27 3h1v1.1h-1zM38 3h1v1.1h-1zM27 4h1v1.1h-1zM37 4h1v1.1h-1zM35 5h1v1.1h-1z"/><path fill="#d4686f" d="M29 0h1v1.1h-1zM37 0h1v1.1h-1zM38 1h1v1.1h-1zM28 2h1v1.1h-1zM28 3h1v1.1h-1zM36 3h1v1.1h-1zM28 4h1v1.1h-1zM35 4h1v1.1h-1zM29 5h1v1.1h-1zM34 5h1v1.1h-1zM30 6h3v1.1h-3z"/><path fill="#da6b6b" d="M30 0h1v1.1h-1zM36 0h1v1.1h-1zM29 1h1v1.1h-1zM37 1h1v1.1h-1zM37 2h1v1.1h-1zM34 4h1v1.1h-1zM33 5h1v1.1h-1z"/><path fill="#e17265" d="M31 0h2v1.1h-2zM34 0h1v1.1h-1zM30 1h1v1.1h-1zM35 1h1v1.1h-1zM30 2h1v1.1h-1zM35 2h1v1.1h-1zM30 3h1v1.1h-1zM34 3h1v1.1h-1zM30 4h4v1.1h-4z"/><path fill="#e47662" d="M33 0h1v1.1h-1zM31 1h1v1.1h-1zM34 1h1v1.1h-1zM31 2h1v1.1h-1zM34 2h1v1.1h-1zM31 3h2v1.1h-2z"/><path fill="#de6f68" d="M35 0h1v1.1h-1zM36 1h1v1.1h-1zM29 2h1v1.1h-1zM36 2h1v1.1h-1zM29 3h1v1.1h-1zM35 3h1v1.1h-1zM29 4h1v1.1h-1zM30 5h3v1.1h-3z"/><path fill="#ce6574" d="M38 0h1v1.1h-1zM28 1h1v1.1h-1zM38 2h1v1.1h-1zM37 3h1v1.1h-1zM36 4h1v1.1h-1zM28 5h1v1.1h-1zM29 6h1v1.1h-1zM33 6h1v1.1h-1z"/><path fill="#ad5988" d="M41 0h1v1.1h-1zM26 1h1v1.1h-1zM41 1h1v1.1h-1zM26 2h1v1.1h-1zM41 2h1v1.1h-1zM41 3h1v1.1h-1zM26 4h1v1.1h-1zM40 4h1v1.1h-1zM26 5h1v1.1h-1zM39 5h1v1.1h-1zM27 6h1v1.1h-1zM36 6h1v1.1h-1zM28 7h1v1.1h-1z"/><path fill="#c05f7d" d="M27 1h1v1.1h-1zM40 1h1v1.1h-1zM27 2h1v1.1h-1zM40 2h1v1.1h-1zM39 3h1v1.1h-1zM38 4h1v1.1h-1zM27 5h1v1.1h-1zM36 5h1v1.1h-1zM28 6h1v1.1h-1zM34 6h1v1.1h-1zM30 7h3v1.1h-3z"/><path fill="#e87a5e" d="M32 1h2v1.1h-2zM33 2h1v1.1h-1z"/><path fill="#5e42a1" d="M0 2h3v1.1h-3zM3 3h2v1.1h-2zM5 4h1v1.1h-1zM6 5h1v1.1h-1zM7 6h1v1.1h-1zM7 7h1v1.1h-1zM8 8h1v1.1h-1zM8 9h1v1.1h-1zM8 10h1v1.1h-1zM34 10h1v1.1h-1zM9 12h1v1.1h-1zM33 12h1v1.1h-1zM9 13h1v1.1h-1zM8 16h1v1.1h-1zM32 16h1v1.1h-1zM8 17h1v1.1h-1zM31 18h1v1.1h-1zM7 19h1v1.1h-1zM30 19h1v1.1h-1zM7 20h1v1.1h-1zM24 20h1v1.1h-1zM6 21h1v1.1h-1zM22 21h1v1.1h-1zM6 22h1v1.1h-1zM21 22h1v1.1h-1zM7 23h1v1.1h-1zM7 24h1v1.1h-1zM8 25h1v1.1h-1zM9 26h2v1.1h-2zM17 26h1v1.1h-1zM11 27h1v1.1h-1zM17 27h1v1.1h-1zM12 28h1v1.1h-1zM17 28h1v1.1h-1zM13 29h1v1.1h-1zM17 29h1v1.1h-1zM13 30h2v1.1h-2zM17 30h1v1.1h-1zM15 31h3v1.1h-3zM31 37h1v1.1h-1zM2 39h1v1.1h-1zM31 39h1v1.1h-1z"/><path fill="#5a41a2" d="M0 3h3v1.1h-3zM3 4h2v1.1h-2zM5 5h1v1.1h-1zM6 6h1v1.1h-1zM6 7h1v1.1h-1zM7 8h1v1.1h-1zM7 9h1v1.1h-1zM36 9h1v1.1h-1zM8 11h1v1.1h-1zM8 12h1v1.1h-1zM8 13h1v1.1h-1zM33 13h1v1.1h-1zM8 14h1v1.1h-1zM33 14h1v1.1h-1zM8 15h1v1.1h-1zM7 17h1v1.1h-1zM32 17h1v1.1h-1zM7 18h1v1.1h-1zM6 19h1v1.1h-1zM6 20h1v1.1h-1zM5 21h1v1.1h-1zM23 21h1v1.1h-1zM5 22h1v1.1h-1zM5 23h2v1.1h-2zM19 23h2v1.1h-2zM6 24h1v1.1h-1zM18 24h1v1.1h-1zM7 25h1v1.1h-1zM8 26h1v1.1h-1zM10 27h1v1.1h-1zM11 28h1v1.1h-1zM12 29h1v1.1h-1zM12 30h1v1.1h-1zM14 31h1v1.1h-1zM0 38h1v1.1h-1zM31 38h1v1.1h-1zM3 39h1v1.1h-1z"/><path fill="#513da5" d="M0 4h1v1.1h-1zM1 5h2v1.1h-2zM3 6h2v1.1h-2zM4 7h1v1.1h-1zM5 8h1v1.1h-1zM6 9h1v1.1h-1zM6 10h1v1.1h-1zM34 12h1v1.1h-1zM6 15h1v1.1h-1zM6 16h1v1.1h-1zM33 16h1v1.1h-1zM5 18h1v1.1h-1zM32 18h1v1.1h-1zM4 19h1v1.1h-1zM31 19h1v1.1h-1zM4 20h1v1.1h-1zM30 20h1v1.1h-1zM3 21h1v1.1h-1zM24 21h1v1.1h-1zM2 22h2v1.1h-2zM2 23h2v1.1h-2zM2 24h2v1.1h-2zM19 24h2v1.1h-2zM4 25h1v1.1h-1zM5 26h2v1.1h-2zM18 26h1v1.1h-1zM7 27h1v1.1h-1zM8 28h2v1.1h-2zM18 28h1v1.1h-1zM9 29h1v1.1h-1zM18 29h1v1.1h-1zM10 30h1v1.1h-1zM11 31h1v1.1h-1zM19 31h1v1.1h-1zM14 32h1v1.1h-1zM19 32h1v1.1h-1zM2 38h1v1.1h-1zM5 39h1v1.1h-1zM19 39h1v1.1h-1zM21 39h1v1.1h-1zM30 39h1v1.1h-1z"/><path fill="#563fa4" d="M1 4h2v1.1h-2zM3 5h2v1.1h-2zM5 6h1v1.1h-1zM5 7h1v1.1h-1zM6 8h1v1.1h-1zM7 10h1v1.1h-1zM35 10h1v1.1h-1zM7 11h1v1.1h-1zM34 11h1v1.1h-1zM7 12h1v1.1h-1zM7 13h1v1.1h-1zM7 14h1v1.1h-1zM7 15h1v1.1h-1zM33 15h1v1.1h-1zM7 16h1v1.1h-1zM6 17h1v1.1h-1zM6 18h1v1.1h-1zM5 19h1v1.1h-1zM5 20h1v1.1h-1zM25 20h5v1.1h-5zM4 21h1v1.1h-1zM4 22h1v1.1h-1zM22 22h1v1.1h-1zM4 23h1v1.1h-1zM21 23h1v1.1h-1zM4 24h2v1.1h-2zM5 25h2v1.1h-2zM18 25h1v1.1h-1zM7 26h1v1.1h-1zM8 27h2v1.1h-2zM10 28h1v1.1h-1zM10 29h2v1.1h-2zM11 30h1v1.1h-1zM18 30h1v1.1h-1zM12 31h2v1.1h-2zM18 31h1v1.1h-1zM15 32h4v1.1h-4zM0 37h1v1.1h-1zM1 38h1v1.1h-1zM4 39h1v1.1h-1zM20 39h1v1.1h-1z"/><path fill="#4d3ca6" d="M0 5h1v1.1h-1zM1 6h2v1.1h-2zM3 7h1v1.1h-1zM4 8h1v1.1h-1zM5 9h1v1.1h-1zM6 11h1v1.1h-1zM35 11h1v1.1h-1zM6 12h1v1.1h-1zM6 13h1v1.1h-1zM34 13h1v1.1h-1zM6 14h1v1.1h-1zM5 16h1v1.1h-1zM5 17h1v1.1h-1zM33 17h1v1.1h-1zM4 18h1v1.1h-1zM3 19h1v1.1h-1zM2 20h2v1.1h-2zM0 21h3v1.1h-3zM0 22h2v1.1h-2zM23 22h1v1.1h-1zM0 23h2v1.1h-2zM22 23h1v1.1h-1zM0 24h2v1.1h-2zM21 24h1v1.1h-1zM0 25h4v1.1h-4zM0 26h1v1.1h-1zM3 26h2v1.1h-2zM6 27h1v1.1h-1zM18 27h1v1.1h-1zM7 28h1v1.1h-1zM8 29h1v1.1h-1zM9 30h1v1.1h-1zM19 30h1v1.1h-1zM10 31h1v1.1h-1zM13 32h1v1.1h-1zM0 33h1v1.1h-1zM17 33h2v1.1h-2zM0 34h1v1.1h-1zM0 35h1v1.1h-1zM0 36h1v1.1h-1zM1 37h1v1.1h-1zM3 38h1v1.1h-1zM18 39h1v1.1h-1zM22 39h1v1.1h-1z"/><path fill="#483aa6" d="M0 6h1v1.1h-1zM1 7h2v1.1h-2zM3 8h1v1.1h-1zM4 9h1v1.1h-1zM5 10h1v1.1h-1zM36 10h1v1.1h-1zM5 11h1v1.1h-1zM5 12h1v1.1h-1zM35 12h1v1.1h-1zM5 13h1v1.1h-1zM5 14h1v1.1h-1zM34 14h1v1.1h-1zM5 15h1v1.1h-1zM4 17h1v1.1h-1zM3 18h1v1.1h-1zM2 19h1v1.1h-1zM0 20h2v1.1h-2zM25 21h1v1.1h-1zM28 21h2v1.1h-2zM19 25h2v1.1h-2zM1 26h2v1.1h-2zM0 27h6v1.1h-6zM0 28h1v1.1h-1zM6 28h1v1.1h-1zM7 29h1v1.1h-1zM19 29h1v1.1h-1zM8 30h1v1.1h-1zM0 31h1v1.1h-1zM8 31h2v1.1h-2zM0 32h1v1.1h-1zM12 32h1v1.1h-1zM1 33h1v1.1h-1zM16 33h1v1.1h-1zM19 33h1v1.1h-1zM30 33h1v1.1h-1zM1 34h1v1.1h-1zM30 34h1v1.1h-1zM1 35h1v1.1h-1zM30 35h1v1.1h-1zM1 36h1v1.1h-1zM2 37h1v1.1h-1zM30 38h1v1.1h-1zM6 39h1v1.1h-1zM17 39h1v1.1h-1z"/><path fill="#c86070" d="M42 6h1v1.1h-1z"/><path fill="#4339a6" d="M0 7h1v1.1h-1zM1 8h2v1.1h-2zM3 9h1v1.1h-1zM4 10h1v1.1h-1zM4 11h1v1.1h-1zM4 12h1v1.1h-1zM4 13h1v1.1h-1zM4 14h1v1.1h-1zM4 15h1v1.1h-1zM34 15h1v1.1h-1zM4 16h1v1.1h-1zM3 17h1v1.1h-1zM1 18h2v1.1h-2zM33 18h1v1.1h-1zM0 19h2v1.1h-2zM32 19h1v1.1h-1zM31 20h1v1.1h-1zM26 21h2v1.1h-2zM21 25h1v1.1h-1zM19 26h1v1.1h-1zM1 28h5v1.1h-5zM19 28h1v1.1h-1zM0 29h2v1.1h-2zM5 29h2v1.1h-2zM0 30h2v1.1h-2zM6 30h2v1.1h-2zM1 31h1v1.1h-1zM6 31h2v1.1h-2zM20 31h1v1.1h-1zM1 32h2v1.1h-2zM10 32h2v1.1h-2zM20 32h1v1.1h-1zM2 33h1v1.1h-1zM20 33h1v1.1h-1zM2 34h1v1.1h-1zM2 36h1v1.1h-1zM30 36h1v1.1h-1zM30 37h1v1.1h-1zM4 38h1v1.1h-1zM7 39h1v1.1h-1zM23 39h1v1.1h-1zM29 39h1v1.1h-1z"/><path fill="#d86868" d="M42 7h1v1.1h-1z"/><path fill="#3e38a6" d="M0 8h1v1.1h-1zM0 9h3v1.1h-3zM2 10h2v1.1h-2zM3 11h1v1.1h-1zM3 12h1v1.1h-1zM3 14h1v1.1h-1zM3 15h1v1.1h-1zM2 16h2v1.1h-2zM0 17h3v1.1h-3zM0 18h1v1.1h-1zM30 21h1v1.1h-1zM24 22h1v1.1h-1zM23 23h1v1.1h-1zM22 24h1v1.1h-1zM20 26h1v1.1h-1zM19 27h1v1.1h-1zM2 29h3v1.1h-3zM2 30h4v1.1h-4zM20 30h1v1.1h-1zM2 31h4v1.1h-4zM3 32h7v1.1h-7zM30 32h1v1.1h-1zM3 33h2v1.1h-2zM15 33h1v1.1h-1zM3 34h1v1.1h-1zM19 34h1v1.1h-1zM2 35h1v1.1h-1zM3 37h1v1.1h-1zM20 38h2v1.1h-2zM16 39h1v1.1h-1z"/><path fill="#d86464" d="M42 9h1v1.1h-1zM42 10h1v1.1h-1zM42 11h1v1.1h-1zM42 12h1v1.1h-1z"/><path fill="#3937a6" d="M0 10h2v1.1h-2zM1 11h2v1.1h-2zM2 12h1v1.1h-1zM2 13h2v1.1h-2zM2 14h1v1.1h-1zM1 15h2v1.1h-2zM0 16h2v1.1h-2zM21 26h1v1.1h-1zM20 27h1v1.1h-1zM20 28h1v1.1h-1zM20 29h1v1.1h-1zM5 33h1v1.1h-1zM14 33h1v1.1h-1zM18 34h1v1.1h-1zM20 34h1v1.1h-1zM3 35h1v1.1h-1zM3 36h1v1.1h-1zM5 38h1v1.1h-1zM19 38h1v1.1h-1zM8 39h1v1.1h-1zM24 39h1v1.1h-1zM28 39h1v1.1h-1z"/><path fill="#3436a4" d="M0 11h1v1.1h-1zM0 12h2v1.1h-2zM0 13h2v1.1h-2zM0 14h2v1.1h-2zM0 15h1v1.1h-1zM32 20h1v1.1h-1zM31 21h1v1.1h-1zM25 22h1v1.1h-1zM28 22h2v1.1h-2zM6 33h1v1.1h-1zM13 33h1v1.1h-1zM4 34h1v1.1h-1zM17 34h1v1.1h-1zM4 37h1v1.1h-1zM18 38h1v1.1h-1zM22 38h1v1.1h-1zM29 38h1v1.1h-1zM15 39h1v1.1h-1zM25 39h3v1.1h-3z"/><path fill="#e87050" d="M41 17h1v1.1h-1zM41 18h2v1.1h-2zM41 19h2v1.1h-2z"/><path fill="#2c3398" d="M26 22h2v1.1h-2zM31 22h1v1.1h-1zM23 24h1v1.1h-1zM21 28h1v1.1h-1zM21 29h1v1.1h-1zM21 30h1v1.1h-1zM9 33h3v1.1h-3zM16 34h1v1.1h-1zM21 34h1v1.1h-1zM21 35h1v1.1h-1zM4 36h1v1.1h-1zM20 36h1v1.1h-1zM29 36h1v1.1h-1zM19 37h1v1.1h-1zM6 38h1v1.1h-1zM23 38h1v1.1h-1zM28 38h1v1.1h-1zM10 39h4v1.1h-4z"/><path fill="#30349e" d="M30 22h1v1.1h-1zM24 23h1v1.1h-1zM22 25h1v1.1h-1zM21 27h1v1.1h-1zM21 31h1v1.1h-1zM21 32h1v1.1h-1zM7 33h2v1.1h-2zM12 33h1v1.1h-1zM21 33h1v1.1h-1zM5 34h1v1.1h-1zM4 35h1v1.1h-1zM19 35h2v1.1h-2zM20 37h2v1.1h-2zM29 37h1v1.1h-1zM9 39h1v1.1h-1zM14 39h1v1.1h-1z"/><path fill="#f89a38" d="M42 22h1v1.1h-1z"/><path fill="#202f84" d="M25 23h1v1.1h-1zM28 23h1v1.1h-1zM24 24h1v1.1h-1zM23 25h1v1.1h-1zM22 27h1v1.1h-1zM29 31h1v1.1h-1zM22 33h1v1.1h-1zM7 34h1v1.1h-1zM22 34h1v1.1h-1zM17 35h1v1.1h-1zM22 35h1v1.1h-1zM5 36h1v1.1h-1zM18 36h1v1.1h-1zM22 36h1v1.1h-1zM28 36h1v1.1h-1zM23 37h1v1.1h-1zM27 37h1v1.1h-1zM16 38h1v1.1h-1z"/><path fill="#162c66" d="M26 23h2v1.1h-2zM30 25h1v1.1h-1zM29 29h1v1.1h-1zM28 31h1v1.1h-1zM27 33h1v1.1h-1zM9 34h1v1.1h-1zM13 34h1v1.1h-1zM23 34h1v1.1h-1zM16 35h1v1.1h-1zM23 35h1v1.1h-1zM26 35h1v1.1h-1zM6 36h1v1.1h-1zM17 36h1v1.1h-1zM24 36h3v1.1h-3zM15 38h1v1.1h-1z"/><path fill="#24308c" d="M29 23h2v1.1h-2zM29 32h1v1.1h-1zM15 34h1v1.1h-1zM5 35h1v1.1h-1zM18 37h1v1.1h-1zM28 37h1v1.1h-1zM7 38h1v1.1h-1zM25 38h2v1.1h-2z"/><path fill="#283292" d="M31 23h1v1.1h-1zM22 26h1v1.1h-1zM29 33h1v1.1h-1zM6 34h1v1.1h-1zM29 34h1v1.1h-1zM18 35h1v1.1h-1zM29 35h1v1.1h-1zM19 36h1v1.1h-1zM21 36h1v1.1h-1zM5 37h1v1.1h-1zM22 37h1v1.1h-1zM17 38h1v1.1h-1zM24 38h1v1.1h-1zM27 38h1v1.1h-1z"/><path fill="#f8b440" d="M42 23h1v1.1h-1z"/><path fill="#0f274c" d="M25 24h1v1.1h-1zM29 26h1v1.1h-1zM23 28h1v1.1h-1zM23 29h1v1.1h-1zM23 30h1v1.1h-1zM24 32h2v1.1h-2zM15 35h1v1.1h-1zM16 37h1v1.1h-1zM10 38h1v1.1h-1z"/><path fill="#0a2236" d="M26 24h2v1.1h-2zM25 25h4v1.1h-4zM25 26h4v1.1h-4zM25 27h4v1.1h-4zM24 28h5v1.1h-5zM24 29h4v1.1h-4zM25 30h2v1.1h-2zM9 35h6v1.1h-6zM8 36h8v1.1h-8zM9 37h7v1.1h-7z"/><path fill="#112954" d="M28 24h1v1.1h-1zM29 25h1v1.1h-1zM28 30h1v1.1h-1zM23 31h1v1.1h-1zM27 31h1v1.1h-1zM26 32h1v1.1h-1zM24 33h2v1.1h-2zM24 34h2v1.1h-2zM7 37h1v1.1h-1zM9 38h1v1.1h-1zM14 38h1v1.1h-1z"/><path fill="#192d70" d="M29 24h1v1.1h-1zM23 26h1v1.1h-1zM22 29h1v1.1h-1zM22 30h1v1.1h-1zM29 30h1v1.1h-1zM28 32h1v1.1h-1zM8 34h1v1.1h-1zM27 34h1v1.1h-1zM27 35h1v1.1h-1zM23 36h1v1.1h-1zM27 36h1v1.1h-1zM17 37h1v1.1h-1zM25 37h1v1.1h-1zM8 38h1v1.1h-1z"/><path fill="#1d2e7a" d="M30 24h1v1.1h-1zM22 28h1v1.1h-1zM22 31h1v1.1h-1zM22 32h1v1.1h-1zM28 33h1v1.1h-1zM14 34h1v1.1h-1zM28 34h1v1.1h-1zM6 35h1v1.1h-1zM28 35h1v1.1h-1zM6 37h1v1.1h-1zM24 37h1v1.1h-1zM26 37h1v1.1h-1z"/><path fill="#f0e048" d="M42 24h1v1.1h-1z"/><path fill="#132a5c" d="M24 25h1v1.1h-1zM23 27h1v1.1h-1zM23 32h1v1.1h-1zM27 32h1v1.1h-1zM23 33h1v1.1h-1zM26 33h1v1.1h-1zM10 34h3v1.1h-3zM26 34h1v1.1h-1zM7 35h1v1.1h-1zM24 35h2v1.1h-2z"/><path fill="#ecec48" d="M42 25h1v1.1h-1z"/><path fill="#0d2545" d="M24 26h1v1.1h-1zM28 29h1v1.1h-1zM24 31h1v1.1h-1zM26 31h1v1.1h-1zM8 35h1v1.1h-1zM7 36h1v1.1h-1zM16 36h1v1.1h-1zM13 38h1v1.1h-1z"/><path fill="#e8f048" d="M42 26h1v1.1h-1z"/><path fill="#0c243e" d="M24 27h1v1.1h-1zM24 30h1v1.1h-1zM27 30h1v1.1h-1zM25 31h1v1.1h-1zM8 37h1v1.1h-1zM11 38h2v1.1h-2z"/></g><use href="#land"/><path d="M225.2 77.4l-1.3 -1.5M215.4 82.5l0.8 -1.8M220.3 82.5l-1.1 -1.7M225.2 82.5l-1.8 -0.8M230 82.5l-1.7 -1.1M264.3 82.5l0.5 -1.9M269.2 82.5l1.4 -1.4M215.4 87.5l-0.4 -2M220.3 87.5l-1.3 -1.5M225.2 87.5l-1.1 -1.7M254.5 87.5l-1.2 -1.6M259.4 87.5l-1.2 -1.6M264.3 87.5l0.1 -2M269.2 87.5l1.7 -1M239.8 92.6l-0.3 -2M244.7 92.6l-1.2 -1.6M249.6 92.6l-1.7 -1M254.5 92.6l-1.6 -1.3M259.4 92.6l0.1 -2M264.3 92.6l1.5 -1.4M151.8 97.7l1.4 -1.5M239.8 97.7l1.4 -1.4M244.7 97.7l2 -0.4M249.6 97.7l1.9 -0.5M254.5 97.7l1.7 -1M166.5 138.2l0.1 2M171.4 138.2l1.5 1.3M176.2 138.2l1.3 1.6M308.3 138.2l-0 2M313.2 138.2l0.2 2M318.1 138.2l0.6 1.9M322.9 138.2l1 1.7M327.8 138.2l1.1 1.6M156.7 143.3l-1.6 1.2M161.6 143.3l-1.9 -0.8M166.5 143.3l-0.5 -1.9M171.4 143.3l1.8 0.9M176.2 143.3l1.1 1.6M181.1 143.3l1.3 1.5M186 143.3l1.6 1.2M190.9 143.3l1.9 0.8M195.8 143.3l2 0.4M298.5 143.3l0.1 2M303.4 143.3l-0.1 2M308.3 143.3l0.1 2M313.2 143.3l0.4 2M318.1 143.3l0.5 1.9M322.9 143.3l0.3 2M151.8 148.4l-1.9 0.6M156.7 148.4l-1.8 -0.8M161.6 148.4l-1.5 -1.3M166.5 148.4l-1.3 -1.5M171.4 148.4l0.4 -2M176.2 148.4l1.8 -1M181.1 148.4l1.8 -0.9M186 148.4l1.8 -0.8M200.7 148.4l2 -0.2M205.6 148.4l1.7 1M293.6 148.4l0.2 2M298.5 148.4l0.1 2M303.4 148.4l0.2 2M308.3 148.4l0.2 2M313.2 148.4l-0 2M318.1 148.4l-0.7 1.9M322.9 148.4l-1.4 1.4M151.8 153.5l-2 0M156.7 153.5l-2 -0.4M161.6 153.5l-1.8 -0.9M166.5 153.5l-0.4 -2M171.4 153.5l1 -1.7M200.7 153.5l2 0M288.7 153.5l0.6 1.9M293.6 153.5l0.6 1.9M298.5 153.5l0.6 1.9M303.4 153.5l0.3 2M308.3 153.5l-0.3 2M313.2 153.5l-1.3 1.6M318.1 153.5l-1.9 0.7M151.8 158.5l-1.7 1.1M156.7 158.5l-1.9 0.5M161.6 158.5l-0.6 -1.9M166.5 158.5l1 -1.7M195.8 158.5l1.8 -0.8M200.7 158.5l1.7 1.1M283.8 158.5l1.3 1.5M288.7 158.5l1.3 1.5M293.6 158.5l1.2 1.6M298.5 158.5l0.7 1.9M303.4 158.5l-0.3 2M308.3 158.5l-1.5 1.3M151.8 163.6l-1 1.7M156.7 163.6l-1.8 -0.8M161.6 163.6l0.9 -1.8M195.8 163.6l2 -0.1M200.7 163.6l1.2 1.6M278.9 163.6l1.9 0.6M283.8 163.6l1.9 0.6M288.7 163.6l1.8 0.9M293.6 163.6l1.2 1.6M298.5 163.6l-0 2M303.4 163.6l-1.4 1.4M151.8 168.7l-1.5 1.3M156.7 168.7l0.1 -2M186 168.7l1.5 -1.3M190.9 168.7l1.7 -1M195.8 168.7l1.9 0.6M200.7 168.7l0.5 1.9M205.6 168.7l-0.1 2M269.2 168.7l1.9 -0.5M274.1 168.7l1.9 -0.7M278.9 168.7l1.9 -0.7M283.8 168.7l2 -0.2M288.7 168.7l1.8 1M293.6 168.7l0.6 1.9M298.5 168.7l-1 1.7M151.8 173.7l-1.8 -0.9M156.7 173.7l0.5 -1.9M176.2 173.7l1.2 -1.6M181.1 173.7l1 -1.7M186 173.7l0.7 -1.9M190.9 173.7l-0.4 -2M195.8 173.7l-1.5 -1.3M200.7 173.7l-2 0.2M205.6 173.7l-1.2 1.6M259.4 173.7l1.5 -1.3M264.3 173.7l1.1 -1.6M269.2 173.7l0.8 -1.8M274.1 173.7l0.9 -1.8M278.9 173.7l1.5 -1.3M283.8 173.7l2 -0M288.7 173.7l1.4 1.5M151.8 178.8l-1.6 -1.3M156.7 178.8l-0.3 -2M161.6 178.8l0.1 -2M166.5 178.8l-0.1 -2M171.4 178.8l-0.6 -1.9M176.2 178.8l-1.3 -1.5M181.1 178.8l-1.5 -1.3M186 178.8l-1.5 -1.3M190.9 178.8l-1.5 -1.3M195.8 178.8l-1.9 -0.7M200.7 178.8l-1.8 0.9M249.6 178.8l1.1 -1.7M254.5 178.8l0.3 -2M259.4 178.8l-0.6 -1.9M264.3 178.8l-1 -1.8M269.2 178.8l-0.6 -1.9M274.1 178.8l0.5 -1.9M278.9 178.8l1.7 -1.1M283.8 178.8l1.9 0.5M151.8 183.9l-2 0.1M156.7 183.9l-2 -0.1M161.6 183.9l-2 0.2M166.5 183.9l-2 0.4M171.4 183.9l-2 0.3M176.2 183.9l-2 -0.2M181.1 183.9l-1.8 -0.8M186 183.9l-1.7 -1M239.8 183.9l0.9 -1.8M244.7 183.9l-0.2 -2M249.6 183.9l-1.7 -1M254.5 183.9l-2 0.1M259.4 183.9l-2 0.2M264.3 183.9l-1.9 -0.7M269.2 183.9l-0.8 -1.8M274.1 183.9l0.8 -1.8M151.8 188.9l-1 1.7M156.7 188.9l-1 1.7M161.6 188.9l-1.2 1.6M166.5 188.9l-1.6 1.2M171.4 188.9l-1.9 0.5M230 188.9l1.2 -1.6M234.9 188.9l0.5 -1.9M239.8 188.9l-1.9 0.5M244.7 188.9l-1 1.8M249.6 188.9l-0.6 1.9M254.5 188.9l-0.7 1.9M259.4 188.9l-1.4 1.4M264.3 188.9l-1.9 -0.6M269.2 188.9l-0.3 -2M274.1 188.9l1.1 -1.7M151.8 194l0.5 1.9M156.7 194l-0.1 2M225.2 194l1.4 -1.4M230 194l2 0.3M234.9 194l-0.2 2M259.4 194l-1.2 1.6M264.3 194l-1.8 -0.9M269.2 194l-0.3 -2M151.8 199.1l1.1 1.7M220.3 199.1l1.6 -1.2M225.2 199.1l0.4 2M259.4 199.1l-0.9 1.8M264.3 199.1l-2 0.1M269.2 199.1l-1.7 -1.1M274.1 199.1l-1.4 -1.4M215.4 204.2l1.7 -1.1M220.3 204.2l0.3 2M210.5 209.2l1.4 -1.5M215.4 209.2l0.2 2M205.6 214.3l1.1 -1.7M210.5 214.3l0.1 2M274.1 214.3l-1.9 -0.5M200.7 219.4l1.2 -1.6M205.6 219.4l1.3 -1.5M210.5 219.4l0.7 1.9M269.2 219.4l-1.9 0.6M200.7 224.4l1.2 -1.6M205.6 224.4l1.9 -0.6M210.5 224.4l1.7 1M215.4 224.4l1.5 1.3M220.3 224.4l1.4 1.5M264.3 224.4l-0.7 1.9M269.2 224.4l0.6 -1.9M205.6 229.5l1.6 -1.2M210.5 229.5l1.8 -1M215.4 229.5l1.9 -0.6M220.3 229.5l2 0.4M259.4 229.5l1.9 0.7M220.3 234.6l2 -0M254.5 234.6l1.9 -0.6M220.3 239.6l2 0.3M239.8 239.6l1.6 1.2M244.7 239.6l1.9 -0.7M220.3 244.7l0.8 -1.8M225.2 244.7l1.5 -1.3M230 244.7l1.1 -1.7M234.9 244.7l1.1 -1.7M151.8 249.8l1 1.7M171.4 254.9l1.8 0.9M176.2 254.9l1.7 1M181.1 254.9l1.7 1.1M308.3 254.9l0.9 1.8M151.8 259.9l1.4 1.5M156.7 259.9l1.3 1.5M161.6 259.9l1 1.8M166.5 259.9l0.4 2M171.4 259.9l-0.2 2M176.2 259.9l-0.2 2M181.1 259.9l0.6 1.9M298.5 259.9l1.2 1.6M303.4 259.9l2 -0.3M308.3 259.9l1.7 -1.1M151.8 265l0.5 1.9M156.7 265l-0.5 1.9M161.6 265l-1.5 1.3M166.5 265l-1.9 0.5M171.4 265l-1.9 0.7M176.2 265l-1.1 1.7M181.1 265l0.3 2M293.6 265l1.8 0.8M298.5 265l1.6 -1.2M151.8 270.1l-1.1 1.7M156.7 270.1l-1.8 0.9M161.6 270.1l-2 0.4M166.5 270.1l-1.9 0.6M171.4 270.1l-1.5 1.4M283.8 270.1l0.6 1.9M288.7 270.1l0.5 -1.9M293.6 270.1l1 -1.8M308.3 270.1l0.6 -1.9M313.2 270.1l-1.1 -1.6M151.8 275.1l-1.7 1.1M156.7 275.1l-1.9 0.7M161.6 275.1l-1.7 1M278.9 275.1l-0.4 2M283.8 275.1l-1.9 -0.6M288.7 275.1l-0.4 -2M303.4 275.1l-0.7 -1.9M308.3 275.1l-1.7 -1M313.2 275.1l-2 -0.2M318.1 275.1l-2 0" stroke="#5c90c2" stroke-width="0.8" stroke-opacity="0.6" fill="none"/><path d="M220.3 77.4l0.2 -2M230 77.4l-1.8 -0.8M234.9 77.4l-1.7 -1M239.8 77.4l-1.3 -1.8M264.3 77.4l1.8 -1.2M269.2 77.4l1.8 -0.9M274.1 77.4l2.2 -0.3M352.3 77.4l1 1.8M357.2 77.4l-1.2 1.6M234.9 82.5l-1.1 -1.7M239.8 82.5l-0.3 -2.2M249.6 82.5l0.5 -2.2M254.5 82.5l0.3 -2M259.4 82.5l0.2 -2M274.1 82.5l2 -0.3M210.5 87.5l1 -1.8M230 87.5l-0.5 -1.9M234.9 87.5l-0.1 -2.1M239.8 87.5l-0 -2.1M244.7 87.5l-0.3 -2M249.6 87.5l-0.8 -1.8M151.8 92.6l1.7 -1.3M156.7 92.6l1.8 -1.2M205.6 92.6l1.1 -1.8M210.5 92.6l0.4 -2M215.4 92.6l0.1 -2M220.3 92.6l0.2 -2M234.9 92.6l0.3 -2M269.2 92.6l2.1 -0.5M156.7 97.7l1.6 -1.2M234.9 97.7l1 -1.7M259.4 97.7l1.8 -1M151.8 102.8l1.6 -1.2M347.4 112.9l0.1 2M327.8 128.1l1.3 1.7M332.7 128.1l1.6 1.2M171.4 133.2l0.6 1.9M176.2 133.2l1 1.7M181.1 133.2l1.3 2M308.3 133.2l0.6 1.9M313.2 133.2l0.3 2M318.1 133.2l0.5 1.9M322.9 133.2l1 1.8M327.8 133.2l1.4 1.4M161.6 138.2l-0.3 2M181.1 138.2l1.1 1.7M298.5 138.2l0.9 1.8M303.4 138.2l0.2 2M200.7 143.3l2 0.4M205.6 143.3l1.9 0.7M293.6 143.3l0.7 1.9M190.9 148.4l1.9 -0.7M195.8 148.4l1.9 -0.6M283.8 148.4l1.7 1.7M288.7 148.4l0.7 1.9M176.2 153.5l1.5 -1.3M195.8 153.5l1.9 -0.7M205.6 153.5l1.3 1.5M278.9 153.5l1.5 1.5M283.8 153.5l0.9 1.8M322.9 153.5l-2 -0.2M205.6 158.5l1.1 1.7M274.1 158.5l1.7 1.1M278.9 158.5l1.4 1.4M313.2 158.5l-2 0.2M318.1 158.5l-1.9 -0.6M190.9 163.6l1.7 -1M205.6 163.6l0.8 1.8M269.2 163.6l1.9 0.6M274.1 163.6l1.9 0.7M308.3 163.6l-2 0.2M313.2 163.6l-1.9 -0.5M318.1 163.6l-1.9 -0.7M161.6 168.7l1.3 -1.5M181.1 168.7l1.9 -1.3M210.5 168.7l-0 2M259.4 168.7l2.2 -0.3M264.3 168.7l2 -0.3M303.4 168.7l-1.8 0.8M308.3 168.7l-2 0.1M313.2 168.7l-2.1 -0M161.6 173.7l1.3 -1.5M166.5 173.7l1.5 -1.3M171.4 173.7l1.4 -1.4M239.8 173.7l1.7 -1.2M244.7 173.7l1.8 -1M249.6 173.7l1.8 -0.9M254.5 173.7l1.7 -1M293.6 173.7l-0.1 2M298.5 173.7l-1.2 1.6M303.4 173.7l-1.7 1.1M308.3 173.7l-1.9 1.2M230 178.8l1.6 -1.6M234.9 178.8l1.4 -1.4M239.8 178.8l1.5 -1.4M244.7 178.8l1.4 -1.4M288.7 178.8l1.1 1.7M293.6 178.8l0.1 2M298.5 178.8l-0.4 2M303.4 178.8l-0.6 2.3M190.9 183.9l-1.9 -0.5M195.8 183.9l-1.8 0.9M225.2 183.9l1.5 -1.7M230 183.9l1.3 -1.5M234.9 183.9l1.3 -1.6M278.9 183.9l1.9 -0.7M283.8 183.9l1.9 0.5M288.7 183.9l1.6 1.2M293.6 183.9l1.5 1.7M176.2 188.9l-2 -0.3M181.1 188.9l-1.9 -0.5M186 188.9l-2 -0M190.9 188.9l-1.8 1.3M220.3 188.9l1.7 -1.5M225.2 188.9l1.4 -1.4M278.9 188.9l1.7 -1.1M283.8 188.9l2 -0.6M161.6 194l-0.9 1.8M166.5 194l-1.7 1.1M171.4 194l-2 0.3M176.2 194l-2 0.1M181.1 194l-2.2 0.7M215.4 194l2 -1.3M220.3 194l1.6 -1.2M239.8 194l0.3 2M249.6 194l0.5 2.1M254.5 194l-0 2M274.1 194l0.4 -2M278.9 194l0.7 -1.9M283.8 194l1 -2M156.7 199.1l-0 2M161.6 199.1l-1.2 1.6M166.5 199.1l-1.7 1M171.4 199.1l-2.1 1M215.4 199.1l1.7 -1M230 199.1l0.4 2M254.5 199.1l0.1 2M278.9 199.1l-1.1 -1.7M283.8 199.1l-0.5 -2.2M151.8 204.2l0.9 1.8M156.7 204.2l-0.4 2M161.6 204.2l-1.2 1.7M210.5 204.2l1.8 -1M254.5 204.2l0.2 2.2M259.4 204.2l-0.4 2M264.3 204.2l-1 1.7M269.2 204.2l-1.6 1.3M274.1 204.2l-1.9 0.5M278.9 204.2l-1.8 -0.9M283.8 204.2l-0.5 -2.3M151.8 209.2l0.5 1.9M156.7 209.2l-0.2 2.2M205.6 209.2l1.7 -1M274.1 209.2l-1.8 0.9M278.9 209.2l-1.4 -1.4M200.7 214.3l1.9 -1.1M215.4 214.3l0.6 1.9M269.2 214.3l-0.9 2.1M278.9 214.3l0.2 -2.1M215.4 219.4l0.9 1.8M274.1 219.4l0.1 -2M225.2 224.4l1.2 1.6M200.7 229.5l1.5 -1.3M225.2 229.5l1.4 1.4M264.3 229.5l1.3 -1.5M215.4 234.6l1.6 -1.1M225.2 234.6l1.4 1.4M249.6 234.6l1.5 1.3M259.4 234.6l1.8 -1.4M156.7 239.6l1.4 1.5M161.6 239.6l1.6 1.2M215.4 239.6l1.4 -1.4M225.2 239.6l1.3 1.5M234.9 239.6l1.3 1.6M249.6 239.6l1.6 -1.2M151.8 244.7l0.9 1.8M156.7 244.7l1.4 1.5M161.6 244.7l2.1 1M215.4 244.7l0.9 -1.8M156.7 249.8l1.6 1.2M161.6 249.8l2.2 0.7M151.8 254.9l1.4 1.5M156.7 254.9l1.7 1.1M161.6 254.9l1.8 0.8M166.5 254.9l1.8 0.8M186 254.9l1.7 1.1M303.4 254.9l0.8 1.8M186 259.9l1.3 1.5M293.6 259.9l1.2 1.9M313.2 259.9l1.4 -1.5M186 265l1.4 1.8M288.7 265l1.1 1.7M303.4 265l1.9 -1.4M313.2 265l0.9 -1.8M176.2 270.1l-0.5 1.9M181.1 270.1l0.3 2M298.5 270.1l1.4 -1.8M303.4 270.1l1.4 -1.8M166.5 275.1l-1.3 1.5M171.4 275.1l-0.7 1.9M176.2 275.1l-0.4 2M181.1 275.1l-0.5 2.3M244.7 275.1l2 1.2M249.6 275.1l2 1.2M274.1 275.1l1 1.9M293.6 275.1l0.2 -2M298.5 275.1l0.1 -2" stroke="#74add1" stroke-width="0.8" stroke-opacity="0.6" fill="none"/><path d="M238.8 76l-0.3 -0.4M265.7 76.4l0.4 -0.3M153.1 91.6l0.4 -0.3M182.1 134.7l0.3 0.4M285.1 149.7l0.4 0.4M280.1 154.6l0.3 0.3M182.6 167.6l0.4 -0.3M306.8 174.7l-0.4 0.3M231.3 177.5l0.3 -0.4M226.3 182.6l0.3 -0.4M294.7 185.2l0.3 0.4M189.5 190l-0.4 0.3M221.6 187.8l0.4 -0.3M216.9 193l0.4 -0.3M284.6 192.4l0.2 -0.5M169.7 199.8l-0.5 0.2M268.4 216l-0.2 0.5M260.8 233.5l0.4 -0.3M163.2 245.5l0.5 0.2M294.5 261.4l0.3 0.4M187.1 266.4l0.3 0.4M304.8 263.9l0.4 -0.3M299.6 268.7l0.3 -0.4M304.4 268.7l0.3 -0.4M246.3 276l0.4 0.3M251.2 276.1l0.4 0.3" stroke="#74add1" stroke-width="1.4" stroke-opacity="0.65" fill="none"/><path d="M210.5 77.4l3.3 -1.2M215.4 77.4l1.8 -1.8M244.7 77.4l-0.3 -2.6M249.6 77.4l1 -2.6M254.5 77.4l1.7 -2M259.4 77.4l1.9 -1.6M278.9 77.4l3.1 0.7M210.5 82.5l2.7 -1.8M244.7 82.5l0.3 -2.4M278.9 82.5l3.4 1.1M205.6 87.5l2.8 -2M274.1 87.5l2.5 0.1M161.6 92.6l2.2 -1.2M166.5 92.6l3.1 -1.2M225.2 92.6l0.6 -2.4M230 92.6l0.7 -2.5M161.6 97.7l2.8 -1.4M230 97.7l1.8 -2.6M264.3 97.7l3.2 -1.2M156.7 102.8l2.9 -1.5M234.9 102.8l2.6 -0.9M239.8 102.8l2.8 -0.4M244.7 102.8l3.2 -0.7M151.8 107.8l2.5 -1.4M327.8 107.8l1.7 2.4M332.7 107.8l1.3 3M352.3 107.8l-0.7 3.5M322.9 112.9l3 1.7M264.3 118l2.9 -1.9M337.6 118l1.7 2.1M327.8 123l1.9 2.8M332.7 123l1.7 1.9M308.3 128.1l2.7 2.4M313.2 128.1l1.5 2.6M318.1 128.1l1 2.4M322.9 128.1l1 2.2M303.4 133.2l1.7 2.2M186 138.2l1.8 2.5M293.6 138.2l2.8 1.9M151.8 143.3l-0.5 2.6M210.5 143.3l2.5 1.8M288.7 143.3l2.1 1.9M210.5 148.4l2.1 2.3M278.9 148.4l3.4 1.1M181.1 153.5l2.3 -1.3M186 153.5l2.8 -1.2M190.9 153.5l2.6 -1M274.1 153.5l2.9 1M171.4 158.5l1.9 -1.5M176.2 158.5l3.2 -1.5M190.9 158.5l2.3 -1.1M254.5 158.5l2.9 -1.4M259.4 158.5l3.1 -1.2M264.3 158.5l3.3 -0.3M269.2 158.5l2.7 0.7M166.5 163.6l2 -1.6M186 163.6l2.6 -1.4M210.5 163.6l0.8 2.4M244.7 163.6l3.4 -1M249.6 163.6l2.6 -1.1M254.5 163.6l2.8 -1M259.4 163.6l3 -0.4M264.3 163.6l2.6 0.3M166.5 168.7l2.5 -1.5M171.4 168.7l3 -1.4M176.2 168.7l2.8 -1.5M239.8 168.7l2.7 -1.1M244.7 168.7l2.2 -1.1M249.6 168.7l2.4 -0.9M254.5 168.7l2.5 -0.6M318.1 168.7l-2.4 0.4M210.5 173.7l-0.1 2.6M234.9 173.7l2 -1.4M313.2 173.7l-2 1.6M205.6 178.8l-0.5 2.4M225.2 178.8l2.6 -1.8M308.3 178.8l-0.7 2.6M313.2 178.8l-1.1 2.7M200.7 183.9l-0.5 2.7M220.3 183.9l2.2 -1.9M298.5 183.9l1.5 2.1M303.4 183.9l1.3 2.5M308.3 183.9l0.5 2.9M195.8 188.9l-0.2 3.1M210.5 188.9l3.3 -1.3M215.4 188.9l2.3 -1.7M288.7 188.9l2.4 -0.3M293.6 188.9l2.7 0.1M298.5 188.9l2.7 0.9M303.4 188.9l2.1 2.2M308.3 188.9l0.3 3M186 194l-1.6 2.2M190.9 194l0.6 3.2M205.6 194l3.2 -1.1M210.5 194l2.5 -1.4M244.7 194l0.6 2.3M288.7 194l1.7 -2.1M293.6 194l2.6 -1.3M298.5 194l3 0.7M303.4 194l1.6 2.6M308.3 194l-0.7 2.9M176.2 199.1l-1.9 1.7M181.1 199.1l-0.7 2.8M186 199.1l1.5 2.9M190.9 199.1l3.2 1.5M195.8 199.1l3.5 -0M200.7 199.1l3.2 -0.8M205.6 199.1l2.9 -1M210.5 199.1l2.4 -1M249.6 199.1l1.1 2.9M288.7 199.1l1.2 -2.6M293.6 199.1l3 -1M298.5 199.1l2.7 1.6M303.4 199.1l0.7 2.9M166.5 204.2l-1.5 1.9M171.4 204.2l-0.9 2.5M176.2 204.2l0.6 2.9M181.1 204.2l2.4 2.3M186 204.2l3.3 1M190.9 204.2l3.4 0M195.8 204.2l3.3 -0.4M200.7 204.2l3.1 -0.6M205.6 204.2l2.6 -0.8M225.2 204.2l0.9 2.7M249.6 204.2l1.2 3.4M288.7 204.2l2.1 -2.2M293.6 204.2l3.3 0.3M298.5 204.2l2.2 2.3M303.4 204.2l0.9 2.7M161.6 209.2l-0.2 2.5M166.5 209.2l0.6 2.7M171.4 209.2l2 2.4M176.2 209.2l3 1.5M181.1 209.2l3.4 0.7M186 209.2l3.4 0.3M190.9 209.2l3.3 0.2M195.8 209.2l3.2 -0.1M200.7 209.2l2.8 -0.6M220.3 209.2l0.9 2.5M264.3 209.2l0 3.5M269.2 209.2l-0.9 2.5M283.8 209.2l1 -2.5M288.7 209.2l3.2 -1.1M293.6 209.2l3.2 1M298.5 209.2l2.4 1.9M151.8 214.3l1.1 2.2M156.7 214.3l1.3 2.4M161.6 214.3l2.2 2.2M166.5 214.3l3.1 1.6M181.1 214.3l3.5 0.7M186 214.3l3.4 0.7M190.9 214.3l3.3 0.4M195.8 214.3l3 -0.4M220.3 214.3l1.7 3M283.8 214.3l2.6 -2M288.7 214.3l3.6 -0.5M293.6 214.3l3.4 0.5M298.5 214.3l3 0.8M151.8 219.4l2.8 1.6M156.7 219.4l3.4 1.1M181.1 219.4l3.3 1.2M186 219.4l3.4 0.8M190.9 219.4l3.5 -0.2M195.8 219.4l2.5 -1.4M220.3 219.4l1.4 2.3M225.2 219.4l1.8 2.8M264.3 219.4l0.1 3.1M278.9 219.4l2.1 -2.4M293.6 219.4l3.4 -0.4M176.2 224.4l3.2 1.5M195.8 224.4l1.7 -1.7M230 224.4l2 2.8M259.4 224.4l1 3.2M274.1 224.4l1.9 -2.3M166.5 229.5l3.1 1.7M171.4 229.5l2.9 1.6M195.8 229.5l2 -1.8M254.5 229.5l1.4 2.4M269.2 229.5l2.2 -2.1M161.6 234.6l2.3 1.7M166.5 234.6l2.4 1.4M210.5 234.6l2.6 -1.8M264.3 234.6l2.6 -2M151.8 239.6l2.2 1.9M166.5 239.6l2.9 1M230 239.6l1.6 2M254.5 239.6l2.4 -1.9M259.4 239.6l2.7 -2M264.3 239.6l2.8 -2M166.5 244.7l3.5 0.6M239.8 244.7l1.5 -1.9M244.7 244.7l2.3 -2.4M249.6 244.7l2.5 -2.4M254.5 244.7l2.4 -2.1M259.4 244.7l2.5 -1.9M166.5 249.8l2.9 0.4M171.4 249.8l3.2 0.3M176.2 249.8l3.2 0.4M181.1 249.8l3 0.5M186 249.8l3.1 0.7M215.4 249.8l1 -2.6M220.3 249.8l0.9 -2.5M225.2 249.8l1.5 -2.9M249.6 249.8l2.2 -2.2M254.5 249.8l2.3 -2M283.8 249.8l2.6 2.1M288.7 249.8l2.3 2.3M308.3 249.8l1.1 3.1M190.9 254.9l3 1.2M244.7 254.9l2.5 -2.5M249.6 254.9l2.7 -2.3M278.9 254.9l2.6 1.8M283.8 254.9l2.3 2M288.7 254.9l2.3 2.5M298.5 254.9l1.6 2.9M190.9 259.9l3 1.4M274.1 259.9l3 1.8M278.9 259.9l2.8 2M283.8 259.9l2.6 2.3M288.7 259.9l2.1 2.5M190.9 265l2.6 1.9M283.8 265l2 2.1M308.3 265l1.8 -1.6M186 270.1l0.8 2.3M190.9 270.1l0.8 2.6M195.8 270.1l0.5 2.7M200.7 270.1l0.3 2.8M205.6 270.1l0.7 2.9M210.5 270.1l1.9 2.9M254.5 270.1l3.3 1.5M259.4 270.1l3.2 1.6M274.1 270.1l2.8 2.1M278.9 270.1l1.6 2M186 275.1l-0.9 2.3M190.9 275.1l-1.4 2M195.8 275.1l-1.6 1.9M200.7 275.1l-1.1 2.2M205.6 275.1l0.1 2.7M210.5 275.1l1.8 2.4M215.4 275.1l3 1.2M220.3 275.1l3.2 0M225.2 275.1l3 -0.3M230 275.1l2.9 0M234.9 275.1l2.7 0.6M239.8 275.1l2.3 1M254.5 275.1l2.3 1.3M259.4 275.1l2.7 1.3M264.3 275.1l2.8 1.5M269.2 275.1l2.3 1.9" stroke="#90c3dd" stroke-width="0.8" stroke-opacity="0.6" fill="none"/><path d="M213 76.4l0.7 -0.3M216.7 76l0.4 -0.4M250.4 75.4l0.2 -0.6M255.8 75.8l0.4 -0.5M260.9 76.2l0.4 -0.3M281.4 78l0.7 0.2M212.6 81l0.6 -0.4M281.6 83.4l0.8 0.2M207.8 86l0.6 -0.4M163.3 91.7l0.5 -0.3M168.9 91.7l0.7 -0.3M230.5 90.7l0.1 -0.5M163.8 96.6l0.6 -0.3M231.5 95.6l0.4 -0.6M266.8 96.7l0.7 -0.3M158.9 101.6l0.6 -0.3M236.9 102.1l0.6 -0.2M242 102.4l0.6 -0.1M247.2 102.2l0.7 -0.1M153.7 106.7l0.5 -0.3M329.2 109.7l0.4 0.5M333.8 110.2l0.3 0.7M351.7 110.5l-0.2 0.8M325.3 114.2l0.7 0.4M266.5 116.5l0.6 -0.4M339 119.6l0.4 0.5M329.3 125.2l0.4 0.6M334.1 124.5l0.4 0.4M310.4 130l0.6 0.5M314.3 130.1l0.3 0.6M318.8 130l0.2 0.5M323.7 129.8l0.2 0.5M304.7 134.9l0.4 0.5M187.5 140.2l0.4 0.5M295.8 139.8l0.6 0.4M151.4 145.3l-0.1 0.6M212.4 144.7l0.5 0.4M290.4 144.8l0.5 0.4M212.1 150.2l0.5 0.5M281.6 149.2l0.8 0.2M182.9 152.5l0.5 -0.3M188.2 152.5l0.6 -0.3M193 152.7l0.6 -0.2M276.3 154.2l0.6 0.2M172.8 157.3l0.4 -0.3M178.8 157.3l0.7 -0.3M192.7 157.6l0.5 -0.2M256.8 157.4l0.6 -0.3M261.8 157.6l0.7 -0.3M266.8 158.3l0.7 -0.1M271.2 159.1l0.6 0.2M168 162.4l0.4 -0.3M188 162.5l0.6 -0.3M211.1 165.5l0.2 0.5M247.4 162.8l0.7 -0.2M251.6 162.7l0.6 -0.2M256.7 162.8l0.6 -0.2M261.7 163.3l0.7 -0.1M168.4 167.5l0.6 -0.3M173.7 167.5l0.7 -0.3M178.4 167.5l0.6 -0.3M241.9 167.8l0.6 -0.2M246.4 167.8l0.5 -0.2M251.5 167.9l0.5 -0.2M256.4 168.2l0.6 -0.1M236.5 172.7l0.4 -0.3M311.6 174.9l-0.4 0.3M227.1 177.4l0.6 -0.4M307.7 180.8l-0.2 0.6M312.3 180.9l-0.2 0.6M200.3 186l-0.1 0.6M222 182.4l0.5 -0.4M299.6 185.5l0.3 0.5M304.4 185.8l0.3 0.5M308.7 186.1l0.1 0.6M195.7 191.3l-0 0.7M213 187.9l0.7 -0.3M217.2 187.6l0.5 -0.4M300.6 189.6l0.6 0.2M305 190.6l0.5 0.5M308.5 191.3l0.1 0.7M184.8 195.7l-0.3 0.5M191.4 196.5l0.1 0.7M208.1 193.1l0.7 -0.2M212.5 192.9l0.6 -0.3M290 192.4l0.4 -0.5M295.7 193l0.6 -0.3M300.9 194.5l0.7 0.1M304.6 196.1l0.4 0.6M307.8 196.2l-0.1 0.6M174.7 200.4l-0.4 0.4M180.6 201.3l-0.1 0.6M187.2 201.3l0.3 0.6M193.4 200.3l0.7 0.3M198.6 199.1l0.8 -0M203.2 198.4l0.7 -0.2M207.8 198.3l0.6 -0.2M212.3 198.3l0.5 -0.2M250.4 201.4l0.2 0.6M289.6 197.1l0.3 -0.6M295.9 198.3l0.7 -0.2M300.6 200.4l0.6 0.4M304 201.3l0.2 0.6M165.3 205.6l-0.3 0.4M170.7 206.1l-0.2 0.6M176.7 206.4l0.1 0.6M183 205.9l0.5 0.5M188.6 204.9l0.7 0.2M193.6 204.2l0.8 0M198.4 203.8l0.7 -0.1M203.1 203.7l0.7 -0.1M207.6 203.5l0.6 -0.2M225.8 206.2l0.2 0.6M250.5 206.8l0.3 0.7M290.3 202.4l0.5 -0.5M296.2 204.3l0.7 0.1M300.2 205.9l0.5 0.5M304.1 206.2l0.2 0.6M166.9 211.4l0.1 0.6M172.9 211.1l0.4 0.5M178.6 210.4l0.7 0.3M183.8 209.8l0.7 0.2M188.7 209.4l0.8 0.1M193.5 209.3l0.7 0M198.3 209.2l0.7 -0M202.9 208.7l0.6 -0.1M221 211.2l0.2 0.6M264.3 211.9l0 0.8M268.4 211.2l-0.2 0.6M284.6 207.3l0.2 -0.6M291.2 208.4l0.7 -0.2M296.1 210l0.7 0.2M300.4 210.7l0.5 0.4M152.6 216l0.2 0.5M157.7 216.2l0.3 0.5M163.3 216l0.5 0.5M168.9 215.5l0.7 0.3M183.9 214.8l0.8 0.1M188.6 214.9l0.7 0.2M193.5 214.6l0.7 0.1M198.2 214l0.7 -0.1M221.6 216.7l0.4 0.7M285.9 212.7l0.6 -0.4M291.5 213.9l0.8 -0.1M296.3 214.7l0.7 0.1M300.8 214.9l0.7 0.2M154 220.6l0.6 0.4M159.4 220.2l0.8 0.2M183.7 220.3l0.7 0.3M188.7 220l0.7 0.2M193.6 219.2l0.8 -0.1M197.8 218.3l0.6 -0.3M221.3 221.1l0.3 0.5M226.5 221.6l0.4 0.6M264.3 221.7l0 0.7M280.6 217.5l0.5 -0.5M296.3 219l0.8 -0.1M178.7 225.6l0.7 0.3M197.2 223.1l0.4 -0.4M231.6 226.6l0.4 0.6M260.2 226.9l0.2 0.7M275.5 222.6l0.4 -0.5M168.9 230.9l0.7 0.4M173.6 230.7l0.6 0.3M197.4 228.1l0.4 -0.4M255.5 231.3l0.3 0.5M270.8 227.8l0.5 -0.5M163.4 235.9l0.5 0.4M168.3 235.7l0.5 0.3M212.5 233.2l0.6 -0.4M266.3 233l0.6 -0.4M153.5 241.1l0.5 0.4M168.7 240.5l0.6 0.2M231.3 241.2l0.3 0.4M256.3 238.2l0.5 -0.4M261.5 238.1l0.6 -0.4M266.5 238.1l0.6 -0.4M169.2 245.1l0.8 0.1M241 243.2l0.3 -0.4M246.5 242.8l0.5 -0.5M251.6 242.9l0.6 -0.5M256.4 243.1l0.5 -0.5M261.3 243.2l0.5 -0.4M168.8 250.1l0.6 0.1M173.9 250l0.7 0.1M178.7 250.1l0.7 0.1M183.5 250.2l0.7 0.1M188.4 250.3l0.7 0.2M216.1 247.8l0.2 -0.6M221 247.9l0.2 -0.5M226.3 247.5l0.3 -0.6M251.3 248l0.5 -0.5M256.3 248.2l0.5 -0.4M285.9 251.4l0.6 0.5M290.5 251.6l0.5 0.5M309.1 252.2l0.2 0.7M193.3 255.8l0.7 0.3M246.7 252.9l0.6 -0.6M251.7 253.1l0.6 -0.5M280.9 256.3l0.6 0.4M285.6 256.4l0.5 0.4M290.5 256.8l0.5 0.5M299.8 257.1l0.4 0.6M193.3 261l0.7 0.3M276.4 261.3l0.7 0.4M281.1 261.5l0.6 0.4M285.9 261.7l0.6 0.5M290.4 261.8l0.5 0.5M193 266.5l0.6 0.4M285.4 266.7l0.4 0.5M309.7 263.7l0.4 -0.4M186.6 271.8l0.2 0.5M191.6 272.1l0.2 0.6M196.2 272.2l0.1 0.6M201 272.2l0.1 0.6M206.1 272.3l0.2 0.6M211.9 272.3l0.4 0.6M257.1 271.2l0.7 0.3M261.9 271.3l0.7 0.3M276.3 271.7l0.6 0.5M280.2 271.6l0.3 0.4M185.3 276.9l-0.2 0.5M189.8 276.7l-0.3 0.4M194.6 276.6l-0.3 0.4M199.8 276.9l-0.2 0.5M211.9 277l0.4 0.5M217.7 276l0.7 0.3M222.8 275.2l0.7 0M227.5 274.9l0.7 -0.1M237.1 275.6l0.6 0.1M241.6 275.9l0.5 0.2M256.3 276.1l0.5 0.3M261.4 276.2l0.6 0.3M266.5 276.3l0.6 0.3M271 276.6l0.5 0.4" stroke="#90c3dd" stroke-width="1.4" stroke-opacity="0.65" fill="none"/><path d="M181.1 77.4l4.5 -0.2M186 77.4l4.1 -0.4M190.9 77.4l4 -0.5M195.8 77.4l4.1 -0.4M200.7 77.4l4.1 -0.3M205.6 77.4l4 -0.6M283.8 77.4l3.6 2.4M362.1 77.4l-3.1 3.6M347.4 82.5l0.9 4.1M352.3 82.5l-2 4.4M151.8 87.5l4.4 -1M156.7 87.5l4.5 -1M161.6 87.5l4.3 -1M166.5 87.5l4.3 -0.9M171.4 87.5l4.7 -0.8M278.9 87.5l4 1.7M171.4 92.6l4.3 -1.1M200.7 92.6l3 -2.5M274.1 92.6l3.7 0.4M166.5 97.7l4.5 -1.4M200.7 97.7l3.1 -3.1M205.6 97.7l2.5 -3M210.5 97.7l2.6 -3.3M215.4 97.7l3.2 -3.6M225.2 97.7l3 -3.4M269.2 97.7l4.4 -0.7M230 102.8l3.2 -2.1M249.6 102.8l3.8 -1.3M327.8 102.8l2.2 3.8M332.7 102.8l0.5 4.4M230 107.8l4.5 -1.7M234.9 107.8l4.7 -1.3M322.9 107.8l2.9 2.2M337.6 107.8l1.2 3.6M357.2 107.8l-1.5 4M151.8 112.9l3.9 -1M269.2 112.9l3.9 -1.8M274.1 112.9l4.1 -2M318.1 112.9l3.7 1.2M327.8 112.9l2.8 2.4M151.8 118l4.4 0M259.4 118l3.4 -1.9M269.2 118l3.4 -2.5M313.2 118l4.2 0.8M318.1 118l3.9 1.7M322.9 118l3.4 2.7M327.8 118l2.9 3.2M151.8 123l4.8 0.4M254.5 123l3.8 -2.3M259.4 123l3.5 -2.5M303.4 123l4.7 0.1M308.3 123l4.3 1M313.2 123l3.6 2.1M318.1 123l2.7 2.9M322.9 123l2.1 3.1M176.2 128.1l1.9 4.1M181.1 128.1l1.7 3.3M186 128.1l2.4 3.8M298.5 128.1l4.8 0.1M303.4 128.1l4 1.4M166.5 133.2l1 3.6M186 133.2l2.5 3.5M298.5 133.2l3.5 1.8M156.7 138.2l0.8 3.9M190.9 138.2l2.5 2.8M195.8 138.2l2.8 2.6M200.7 138.2l2.9 2.2M205.6 138.2l3.2 2M210.5 138.2l3.7 2.2M288.7 138.2l4.7 0.7M283.8 143.3l4.1 1M269.2 148.4l4.3 -1.9M274.1 148.4l4.4 -0.6M210.5 153.5l2.4 3.2M254.5 153.5l4.5 -1.6M259.4 153.5l3.5 -1.9M264.3 153.5l3.5 -1.6M269.2 153.5l3.7 -0.4M181.1 158.5l3.7 -1.3M186 158.5l3.4 -1.3M210.5 158.5l2 3.4M249.6 158.5l3.9 -1.1M171.4 163.6l3.4 -1.5M176.2 163.6l3.9 -1.3M181.1 163.6l3.6 -1.4M215.4 163.6l1.3 3.8M215.4 168.7l0.8 3.8M234.9 168.7l4.5 -0.8M230 173.7l3.3 -1.4M210.5 178.8l2.4 3.7M220.3 178.8l4.3 -1M205.6 183.9l2.5 3.2M210.5 183.9l4.4 0.9M215.4 183.9l3.6 -1.3M200.7 188.9l2.8 2.7M205.6 188.9l4 0.4M195.8 194l3 2.1M200.7 194l3.7 0.1M234.9 199.1l1.4 3.3M239.8 199.1l2.1 3.7M244.7 199.1l1.9 3.5M230 204.2l2.3 4M244.7 204.2l2.3 4.2M225.2 209.2l2.4 3.9M249.6 209.2l1.5 4.1M254.5 209.2l1 3.9M259.4 209.2l0.6 3.8M171.4 214.3l3.6 0.9M176.2 214.3l3.6 0.6M225.2 214.3l2.6 3.8M264.3 214.3l0.9 4.3M161.6 219.4l3.9 0.6M166.5 219.4l4.1 0.4M171.4 219.4l4 0.7M176.2 219.4l3.6 1.1M230 219.4l2.1 3.4M234.9 219.4l2.5 4.1M283.8 219.4l3.3 -1.7M288.7 219.4l3.6 -1M151.8 224.4l4 -0.1M156.7 224.4l4.4 -0.2M161.6 224.4l4.5 0.3M166.5 224.4l4.2 1M171.4 224.4l3.5 1.5M181.1 224.4l3.6 1.1M186 224.4l4.1 -0.1M190.9 224.4l3.5 -1.5M278.9 224.4l3 -2.3M283.8 224.4l3.4 -1.9M288.7 224.4l3.6 -1.3M293.6 224.4l3.9 -0.4M151.8 229.5l4.5 -0.7M156.7 229.5l4.6 0.4M161.6 229.5l3.9 1.4M176.2 229.5l3.6 1.1M181.1 229.5l4.7 0M190.9 229.5l3.3 -2.3M230 229.5l2.7 3.2M274.1 229.5l2.9 -2.4M278.9 229.5l3.3 -2.2M283.8 229.5l3.9 -1.7M288.7 229.5l4.7 -0.7M151.8 234.6l4.2 0.8M156.7 234.6l3.2 1.8M171.4 234.6l3.5 1.1M190.9 234.6l4.1 -2.5M195.8 234.6l3.6 -2.3M200.7 234.6l3.4 -2.2M205.6 234.6l3.2 -2M230 234.6l3.3 3.3M244.7 234.6l2.6 3.1M269.2 234.6l2.9 -2.2M274.1 234.6l3.4 -2.1M278.9 234.6l4.3 -1.9M298.5 234.6l3.2 3.2M171.4 239.6l4.5 0.3M210.5 239.6l3.2 -2.5M269.2 239.6l3.4 -2.1M293.6 239.6l3.4 3.1M298.5 239.6l2.5 2.8M171.4 244.7l4.5 -0.1M210.5 244.7l2.5 -2.8M264.3 244.7l3.2 -2.1M288.7 244.7l3.1 2.7M293.6 244.7l2.5 2.7M298.5 244.7l2.4 3M303.4 244.7l2.4 3.5M190.9 249.8l3.8 0.8M210.5 249.8l2.1 -3.1M230 249.8l2.5 -3.3M234.9 249.8l3.2 -3.4M239.8 249.8l3.2 -3.2M244.7 249.8l2.7 -2.8M259.4 249.8l3.2 -2.2M278.9 249.8l3.7 2.2M293.6 249.8l2.3 2.8M298.5 249.8l2.4 3.4M303.4 249.8l2 3.6M195.8 254.9l4.7 0.2M239.8 254.9l3.2 -3M254.5 254.9l3.8 -2.2M274.1 254.9l3.4 1.9M293.6 254.9l2.2 2.9M195.8 259.9l4.4 0.5M239.8 259.9l3.3 -2.6M244.7 259.9l3.6 -2.4M269.2 259.9l3.6 1.8M195.8 265l3.3 1.9M200.7 265l3.5 2.1M205.6 265l3.4 2.4M210.5 265l3.6 2.5M215.4 265l4.4 2.1M234.9 265l3.9 -2.3M239.8 265l4.2 -2M259.4 265l4.3 1.6M264.3 265l3.7 1.7M269.2 265l3.5 1.8M274.1 265l3.3 2M278.9 265l2.9 2.2M215.4 270.1l3.5 2M220.3 270.1l4.4 0.3M225.2 270.1l4.1 -1M230 270.1l3.8 -1.4M234.9 270.1l4 -1.1M239.8 270.1l4.3 -0.2M244.7 270.1l4.2 0.7M249.6 270.1l3.7 1.3M264.3 270.1l3.3 1.7M269.2 270.1l3.3 1.9" stroke="#aad8e9" stroke-width="0.8" stroke-opacity="0.6" fill="none"/><path d="M184.6 77.3l1 -0M189.2 77.1l0.9 -0.1M194 77l0.9 -0.1M199 77.1l0.9 -0.1M203.9 77.1l0.9 -0.1M208.7 76.9l0.9 -0.1M286.7 79.3l0.8 0.5M359.6 80.2l-0.7 0.8M348.1 85.6l0.2 0.9M350.7 85.9l-0.4 1M155.2 86.7l1 -0.2M160.2 86.8l1 -0.2M165 86.8l1 -0.2M169.8 86.8l1 -0.2M175 86.9l1 -0.2M282.1 88.9l0.9 0.4M174.7 91.8l1 -0.2M203.1 90.7l0.7 -0.6M276.9 92.9l0.8 0.1M170 96.6l1 -0.3M203.1 95.3l0.7 -0.7M207.5 95.4l0.5 -0.7M212.5 95.1l0.6 -0.7M217.9 94.9l0.7 -0.8M227.5 95l0.7 -0.7M272.6 97.1l1 -0.2M232.5 101.1l0.7 -0.5M252.5 101.8l0.8 -0.3M329.5 105.7l0.5 0.8M333.1 106.2l0.1 1M233.5 106.5l1 -0.4M238.6 106.8l1 -0.3M325.2 109.5l0.6 0.5M338.5 110.6l0.3 0.8M356 110.9l-0.3 0.9M154.8 112.1l0.9 -0.2M272.2 111.5l0.9 -0.4M277.3 111.3l0.9 -0.4M320.9 113.8l0.8 0.3M330 114.8l0.6 0.5M155.2 118l1 0M262 116.5l0.7 -0.4M271.8 116l0.8 -0.5M316.5 118.6l0.9 0.2M321.1 119.3l0.9 0.4M325.6 120l0.8 0.6M330.1 120.5l0.6 0.7M155.6 123.4l1.1 0.1M257.5 121.3l0.8 -0.5M262.1 121.1l0.8 -0.5M307.1 123.1l1 0M311.6 123.8l0.9 0.2M316 124.7l0.8 0.5M320.2 125.3l0.6 0.6M324.6 125.4l0.5 0.7M177.7 131.3l0.4 0.9M182.5 130.7l0.4 0.7M187.9 131.1l0.5 0.8M302.2 128.2l1.1 0M306.5 129.2l0.9 0.3M167.3 135.9l0.2 0.8M187.9 135.9l0.5 0.8M301.2 134.6l0.8 0.4M157.3 141.3l0.2 0.9M192.9 140.4l0.6 0.6M198 140.3l0.6 0.6M203 140l0.6 0.5M208.1 139.8l0.7 0.4M213.4 140l0.8 0.5M292.4 138.8l1 0.2M287 144.1l0.9 0.2M272.5 146.9l1 -0.4M277.5 147.9l1 -0.1M212.3 156l0.5 0.7M258 152.2l1 -0.3M262.1 151.9l0.8 -0.4M267 152.2l0.8 -0.4M272 153.1l0.8 -0.1M184.1 157.5l0.8 -0.3M188.7 157.5l0.8 -0.3M212.1 161.2l0.4 0.7M252.6 157.6l0.9 -0.3M174 162.4l0.7 -0.3M179.3 162.5l0.9 -0.3M184 162.5l0.8 -0.3M216.4 166.6l0.3 0.8M216 171.6l0.2 0.8M238.4 168.1l1 -0.2M232.6 172.6l0.7 -0.3M212.3 181.7l0.5 0.8M223.6 178l0.9 -0.2M207.5 186.4l0.5 0.7M213.9 184.6l1 0.2M218.2 182.8l0.8 -0.3M202.9 191.1l0.6 0.6M208.7 189.2l0.9 0.1M198.2 195.7l0.7 0.5M203.6 194.1l0.8 0M236.1 201.7l0.3 0.7M241.5 201.9l0.5 0.8M246.2 201.8l0.4 0.8M231.9 207.3l0.5 0.9M246.5 207.4l0.5 0.9M227 212.3l0.5 0.9M250.8 212.4l0.3 0.9M255.3 212.2l0.2 0.9M259.8 212.2l0.1 0.8M174.1 215l0.8 0.2M179.1 214.8l0.8 0.1M227.1 217.3l0.6 0.8M265 217.7l0.2 0.9M164.6 219.8l0.9 0.1M169.6 219.7l0.9 0.1M174.5 219.9l0.9 0.2M179.1 220.2l0.8 0.3M231.7 222l0.5 0.7M236.9 222.5l0.6 0.9M286.4 218l0.7 -0.4M291.5 218.6l0.8 -0.2M154.9 224.3l0.9 -0M160.1 224.3l1 -0.1M165.1 224.6l1 0.1M169.7 225.2l0.9 0.2M174.1 225.6l0.8 0.3M183.9 225.3l0.8 0.2M189.2 224.4l0.9 -0M193.7 223.2l0.8 -0.3M281.3 222.6l0.7 -0.5M286.5 223l0.7 -0.4M291.5 223.4l0.8 -0.3M296.6 224.1l0.9 -0.1M155.3 229l1 -0.1M160.3 229.8l1 0.1M164.7 230.6l0.9 0.3M179.1 230.4l0.8 0.3M184.8 229.5l1 0M193.5 227.7l0.7 -0.5M232.2 232l0.6 0.7M276.3 227.7l0.6 -0.5M281.5 227.8l0.7 -0.5M286.9 228.2l0.9 -0.4M292.4 229l1 -0.2M155.1 235.2l0.9 0.2M159.2 236l0.7 0.4M174.1 235.4l0.8 0.2M194.1 232.6l0.9 -0.5M198.6 232.7l0.8 -0.5M203.3 232.9l0.7 -0.5M208.1 233l0.7 -0.4M232.6 237.2l0.7 0.7M246.7 237l0.6 0.7M271.4 232.9l0.6 -0.5M276.7 232.9l0.7 -0.5M282.3 233.1l0.9 -0.4M301 237l0.7 0.7M174.9 239.9l1 0.1M213 237.7l0.7 -0.6M271.8 238l0.7 -0.5M296.3 242l0.7 0.7M300.5 241.9l0.6 0.6M174.9 244.6l1 -0M212.4 242.5l0.5 -0.6M266.8 243.1l0.7 -0.5M291.1 246.8l0.7 0.6M295.6 246.8l0.6 0.6M300.4 247.1l0.5 0.7M305.3 247.5l0.5 0.8M193.9 250.4l0.8 0.2M212.1 247.3l0.5 -0.7M232 247.2l0.5 -0.7M237.4 247.1l0.7 -0.7M242.3 247.3l0.7 -0.7M246.8 247.6l0.6 -0.6M261.9 248.1l0.7 -0.5M281.8 251.5l0.8 0.5M295.4 252l0.5 0.6M300.4 252.4l0.5 0.7M305 252.6l0.4 0.8M199.5 255l1 0.1M242.3 252.5l0.7 -0.7M257.5 253.1l0.8 -0.5M276.7 256.3l0.8 0.4M295.3 257.1l0.5 0.6M199.3 260.3l1 0.1M242.4 257.9l0.7 -0.6M247.5 258.1l0.8 -0.5M272 261.3l0.8 0.4M198.4 266.4l0.7 0.4M203.4 266.6l0.8 0.5M208.3 266.9l0.8 0.5M213.3 266.9l0.8 0.6M218.8 266.6l1 0.5M238 263.2l0.9 -0.5M243.1 263.4l0.9 -0.4M262.7 266.2l1 0.4M267.2 266.3l0.8 0.4M271.9 266.4l0.8 0.4M276.6 266.5l0.7 0.4M281.2 266.7l0.6 0.5M218.1 271.6l0.8 0.4M223.7 270.3l1 0.1M228.4 269.3l0.9 -0.2M233 269l0.8 -0.3M238.1 269.2l0.9 -0.2M243.2 269.9l1 -0.1M248 270.6l0.9 0.2M252.5 271.1l0.8 0.3M266.9 271.4l0.7 0.4M271.8 271.5l0.7 0.4" stroke="#aad8e9" stroke-width="1.4" stroke-opacity="0.65" fill="none"/><path d="M151.8 77.4l5.1 0.1M156.7 77.4l5 1.6M161.6 77.4l4.6 2.2M166.5 77.4l4.7 2M171.4 77.4l5 1.3M176.2 77.4l4.9 0.5M288.7 77.4l3.2 3.9M293.6 77.4l2.3 4.5M298.5 77.4l1.7 4.7M303.4 77.4l1.6 5.3M151.8 82.5l5.7 0.1M156.7 82.5l6.1 0.8M171.4 82.5l5.9 -0.2M176.2 82.5l5.7 -0.3M181.1 82.5l5.8 -0.3M186 82.5l6.1 -0.1M200.7 82.5l6.1 -0.3M205.6 82.5l4.9 -1.3M283.8 82.5l4.1 3.1M288.7 82.5l3.9 4.6M176.2 87.5l5.4 -0.6M181.1 87.5l6.1 -0.2M200.7 87.5l5.3 -1.5M283.8 87.5l4.8 3.4M342.5 87.5l0.8 5.8M176.2 92.6l5.4 -0.6M181.1 92.6l6 -0.1M195.8 92.6l5.2 -2M278.9 92.6l4.8 1.6M171.4 97.7l5.8 -0.8M195.8 97.7l4.6 -3.1M220.3 97.7l3.5 -3.6M274.1 97.7l5.2 -0.1M278.9 97.7l5.6 0.4M283.8 97.7l6 0.7M332.7 97.7l1.5 5.4M161.6 102.8l5 -1.4M225.2 102.8l4.9 -3.5M254.5 102.8l4.8 -1.9M259.4 102.8l5.7 -1.9M274.1 102.8l5.9 -1.1M278.9 102.8l5.6 -0.8M283.8 102.8l5.7 -0.5M337.6 102.8l-0.3 5.2M342.5 102.8l-0.6 5.6M347.4 102.8l-0.8 5.4M352.3 102.8l-1.1 5.1M357.2 102.8l-1.6 4.9M156.7 107.8l4.8 -1.3M225.2 107.8l5.2 -2.8M239.8 107.8l5.3 -1.5M269.2 107.8l5.8 -1.8M274.1 107.8l5.1 -1.6M278.9 107.8l5.2 -1.5M318.1 107.8l5.1 2.7M156.7 112.9l5.4 -0.2M225.2 112.9l5 -2.4M230 112.9l5 -2.1M259.4 112.9l5.6 -2.2M264.3 112.9l4.5 -1.9M278.9 112.9l5.6 -2.2M313.2 112.9l5.1 1.3M156.7 118l5.4 0.5M254.5 118l4.5 -2.2M274.1 118l5.1 -2.7M303.4 118l5.9 0.6M308.3 118l4.9 0.4M156.7 123l5.8 0.7M249.6 123l4.9 -2.4M264.3 123l4.3 -3.1M293.6 123l6.1 -0.1M298.5 123l5.3 -0.3M151.8 128.1l5.5 0.6M288.7 128.1l6 -1M293.6 128.1l5.3 -0.8M161.6 133.2l3 5.2M190.9 133.2l4.1 4.5M288.7 133.2l5.5 -1M293.6 133.2l4.9 0.4M151.8 138.2l3.5 4.3M215.4 138.2l4.9 2.8M283.8 138.2l5.6 -1M215.4 143.3l4.3 3.2M274.1 143.3l5.3 -2.1M278.9 143.3l5.1 -0.8M215.4 148.4l4.3 3.9M259.4 148.4l5.6 -2M264.3 148.4l4.5 -2.4M215.4 158.5l2.9 4.7M220.3 163.6l2.4 5.5M239.8 163.6l5.6 -0.1M215.4 173.7l2.7 4.4M225.2 173.7l5.4 -0.2M215.4 178.8l4.9 1.7M234.9 204.2l3.2 4.4M239.8 204.2l3.1 4.4M230 209.2l3.3 4.5M234.9 209.2l3.4 4.7M239.8 209.2l2.9 4.7M244.7 209.2l2.2 4.4M230 214.3l2.9 4.3M234.9 214.3l2.8 4.5M239.8 214.3l2.7 4.7M244.7 214.3l2.7 4.9M249.6 214.3l2.9 5.2M254.5 214.3l3 5.2M259.4 214.3l2.5 5M239.8 219.4l3.3 4.9M259.4 219.4l2.8 5M234.9 224.4l3.4 4.3M186 229.5l4.7 -1.5M249.6 229.5l4 4.6M293.6 229.5l5.1 1M298.5 229.5l4.2 2.6M176.2 234.6l4.9 0.2M181.1 234.6l5.4 -1.3M186 234.6l4.9 -2.3M234.9 234.6l4.5 4.1M239.8 234.6l4.2 4.2M283.8 234.6l5.6 -0.9M293.6 234.6l4.9 2.9M176.2 239.6l5.4 -0.8M181.1 239.6l5.6 -1.6M186 239.6l5.4 -1.9M190.9 239.6l5.4 -1.9M195.8 239.6l5.4 -1.8M200.7 239.6l5.3 -2M205.6 239.6l4.8 -2.4M274.1 239.6l4.6 -2M288.7 239.6l5 2.9M176.2 244.7l5 -0.6M181.1 244.7l5.1 -0.6M186 244.7l5.2 -0.5M190.9 244.7l5.2 -0.3M195.8 244.7l5.5 -0.5M200.7 244.7l5.7 -1.4M205.6 244.7l4.8 -2.7M269.2 244.7l4.7 -2.1M283.8 244.7l4.4 2.6M195.8 249.8l5 0.2M200.7 249.8l5.4 -1.5M205.6 249.8l4.1 -3M264.3 249.8l4.8 -1.9M269.2 249.8l6 -0.4M274.1 249.8l5.3 1.4M200.7 254.9l5 -1.6M205.6 254.9l4.2 -2.9M210.5 254.9l3.7 -3.3M215.4 254.9l3.9 -3.3M220.3 254.9l4.6 -3.1M225.2 254.9l5 -2.9M230 254.9l5 -3M234.9 254.9l4.3 -3.2M259.4 254.9l5.3 -1.5M264.3 254.9l5.9 0.1M269.2 254.9l4.9 1.5M200.7 259.9l4.9 -0.5M205.6 259.9l5.2 -0.7M210.5 259.9l5.5 -0.5M215.4 259.9l5.7 -0.2M220.3 259.9l5.9 -0.3M225.2 259.9l5.9 -1.2M230 259.9l5.2 -2.3M234.9 259.9l4 -2.8M249.6 259.9l4.7 -2M254.5 259.9l5.8 -0.9M259.4 259.9l5.8 0.7M264.3 259.9l4.7 1.6M220.3 265l5.2 0.8M225.2 265l5.3 -1M230 265l4.5 -2.1M244.7 265l5.1 -1.3M249.6 265l5.6 -0M254.5 265l5.2 1.1" stroke="#c5e6f0" stroke-width="0.8" stroke-opacity="0.6" fill="none"/><path d="M155.7 77.5l1.1 0M160.6 78.7l1.1 0.4M165.2 79.1l1 0.5M170.2 79l1 0.4M175.3 78.4l1.1 0.3M180.1 77.8l1.1 0.1M291.2 80.5l0.7 0.9M295.4 80.9l0.5 1M299.8 81.1l0.4 1M304.6 81.6l0.4 1.2M156.3 82.5l1.3 0M161.4 83.1l1.3 0.2M176 82.3l1.3 -0M180.7 82.2l1.3 -0.1M185.7 82.2l1.3 -0.1M190.8 82.4l1.3 -0M205.4 82.3l1.3 -0.1M209.4 81.5l1.1 -0.3M287 84.9l0.9 0.7M291.8 86.1l0.9 1M180.4 87.1l1.2 -0.1M185.9 87.4l1.3 -0.1M204.8 86.3l1.2 -0.3M287.5 90.2l1 0.8M343.2 92.1l0.2 1.3M180.5 92.1l1.2 -0.1M185.8 92.6l1.3 -0M199.9 91l1.1 -0.4M282.7 93.8l1.1 0.3M175.9 97.1l1.3 -0.2M199.4 95.2l1 -0.7M223 94.9l0.8 -0.8M278.1 97.6l1.1 -0M283.3 98l1.2 0.1M288.5 98.2l1.3 0.2M333.9 101.9l0.3 1.2M165.5 101.6l1.1 -0.3M228.9 100.1l1.1 -0.8M258.2 101.3l1 -0.4M263.8 101.2l1.3 -0.4M278.6 101.9l1.3 -0.2M283.3 102.1l1.2 -0.2M288.3 102.4l1.3 -0.1M337.4 106.8l-0.1 1.1M342 107.1l-0.1 1.2M346.8 107l-0.2 1.2M351.5 106.7l-0.2 1.1M356 106.6l-0.3 1.1M160.4 106.8l1 -0.3M229.2 105.6l1.1 -0.6M243.9 106.6l1.2 -0.3M273.7 106.4l1.3 -0.4M278 106.6l1.1 -0.3M283 106.7l1.1 -0.3M322 109.9l1.1 0.6M160.9 112.8l1.2 -0M229 111l1.1 -0.5M234 111.2l1.1 -0.5M263.7 111.1l1.2 -0.5M267.8 111.4l1 -0.4M283.3 111.2l1.2 -0.5M317.1 113.9l1.1 0.3M160.9 118.3l1.2 0.1M258 116.2l1 -0.5M278 115.8l1.1 -0.6M308 118.4l1.3 0.1M312.1 118.3l1.1 0.1M161.2 123.6l1.3 0.1M253.4 121.2l1.1 -0.5M267.6 120.6l0.9 -0.7M298.4 123l1.3 -0M302.6 122.8l1.2 -0.1M156.1 128.6l1.2 0.1M293.4 127.3l1.3 -0.2M297.7 127.5l1.2 -0.2M163.9 137.2l0.7 1.1M194.1 136.7l0.9 1M293 132.4l1.2 -0.2M297.4 133.5l1.1 0.1M154.5 141.6l0.8 0.9M219.2 140.4l1.1 0.6M288.2 137.5l1.2 -0.2M218.7 145.8l0.9 0.7M278.2 141.6l1.2 -0.5M282.9 142.7l1.1 -0.2M218.8 151.4l1 0.9M263.7 146.8l1.2 -0.4M267.8 146.5l1 -0.5M217.6 162.2l0.6 1M222.2 167.9l0.5 1.2M244.2 163.5l1.2 -0M217.5 177.2l0.6 1M229.4 173.6l1.2 -0M219.2 180.1l1.1 0.4M237.4 207.6l0.7 1M242.2 207.6l0.7 1M232.6 212.7l0.7 1M237.6 212.9l0.8 1M242.1 212.9l0.6 1M246.4 212.7l0.5 1M232.3 217.6l0.6 0.9M237.1 217.8l0.6 1M241.9 217.9l0.6 1M246.8 218.1l0.6 1.1M251.9 218.4l0.6 1.1M256.9 218.4l0.7 1.2M261.3 218.2l0.6 1.1M242.4 223.2l0.7 1.1M261.6 223.3l0.6 1.1M237.6 227.8l0.7 0.9M189.7 228.3l1 -0.3M252.7 233.1l0.9 1M297.6 230.3l1.1 0.2M301.7 231.5l0.9 0.6M180.1 234.7l1.1 0M185.4 233.6l1.2 -0.3M189.8 232.8l1.1 -0.5M238.4 237.8l1 0.9M243.1 237.8l0.9 0.9M288.2 233.9l1.2 -0.2M297.4 236.8l1.1 0.6M180.5 239l1.2 -0.2M185.5 238.4l1.2 -0.4M190.3 238.1l1.2 -0.4M195.1 238.1l1.2 -0.4M200 238.2l1.2 -0.4M204.8 238.1l1.2 -0.4M209.3 237.8l1 -0.5M277.7 238l1 -0.4M292.6 241.9l1.1 0.6M180.1 244.3l1.1 -0.1M185.1 244.2l1.1 -0.1M190.1 244.4l1.1 -0.1M195 244.5l1.2 -0.1M200.1 244.4l1.2 -0.1M205.2 243.7l1.3 -0.3M209.3 242.6l1.1 -0.6M272.8 243.1l1 -0.5M287.3 246.7l1 0.6M199.7 250l1.1 0.1M204.9 248.6l1.2 -0.3M208.8 247.4l0.9 -0.7M268 248.3l1.1 -0.4M273.8 249.5l1.3 -0.1M278.2 250.9l1.2 0.3M204.6 253.6l1.1 -0.4M208.9 252.6l0.9 -0.6M213.4 252.3l0.8 -0.7M218.4 252.3l0.9 -0.7M223.8 252.4l1 -0.7M229.1 252.6l1.1 -0.6M233.9 252.5l1.1 -0.7M238.3 252.4l0.9 -0.7M263.5 253.6l1.2 -0.3M268.9 254.9l1.3 0M273 256l1.1 0.3M204.5 259.6l1.1 -0.1M209.6 259.3l1.1 -0.2M214.7 259.6l1.2 -0.1M219.8 259.8l1.3 -0M224.9 259.7l1.3 -0.1M229.7 259l1.3 -0.3M234.1 258.1l1.1 -0.5M238.1 257.7l0.9 -0.6M253.3 258.4l1 -0.4M259 259.2l1.3 -0.2M263.9 260.5l1.3 0.2M268 261.2l1 0.4M224.3 265.6l1.1 0.2M229.3 264.2l1.2 -0.2M233.5 263.4l1 -0.5M248.7 264l1.1 -0.3M254 265l1.2 -0M258.5 265.9l1.1 0.2" stroke="#c5e6f0" stroke-width="1.4" stroke-opacity="0.65" fill="none"/><path d="M308.3 77.4l1.9 6.5M347.4 77.4l3.7 5.3M161.6 82.5l6.2 0.7M166.5 82.5l6.2 0.2M190.9 82.5l6.4 0.1M195.8 82.5l6.4 0.2M293.6 82.5l3.8 5.6M357.2 82.5l-3.4 6.5M186 87.5l6.6 0.2M190.9 87.5l6.8 0.3M195.8 87.5l6.5 -0.4M288.7 87.5l5.3 4.7M347.4 87.5l-2.2 6.7M186 92.6l6.3 -0M190.9 92.6l6.3 -0.8M283.8 92.6l5.7 2.5M288.7 92.6l6.5 3.1M337.6 92.6l1 6.3M176.2 97.7l6.6 -0.2M181.1 97.7l7 -0.2M186 97.7l7.2 -1.1M190.9 97.7l6.3 -2.4M288.7 97.7l6.3 1.1M293.6 97.7l7.1 1.8M337.6 97.7l-0.8 6.5M357.2 97.7l-2.1 6.3M166.5 102.8l6.5 -0.7M264.3 102.8l6.2 -1.7M269.2 102.8l6.2 -1.4M288.7 102.8l6.7 0.1M322.9 102.8l4.9 4.5M161.6 107.8l6.4 -0.4M244.7 107.8l6.1 -2.1M249.6 107.8l6.9 -2.4M264.3 107.8l6.6 -2.1M283.8 107.8l6.4 -1.3M161.6 112.9l6.4 0.3M166.5 112.9l7.3 0.2M220.3 112.9l6 -3M234.9 112.9l5.7 -2.3M239.8 112.9l6.5 -2.4M254.5 112.9l6.6 -2.4M308.3 112.9l6.7 2M161.6 118l6.3 0.5M166.5 118l7.2 0.4M215.4 118l6.9 -2.3M220.3 118l6 -2.4M225.2 118l6 -2.3M230 118l6.4 -2.2M234.9 118l6.9 -2.1M239.8 118l7 -2.1M244.7 118l6.6 -2.2M249.6 118l5.7 -2.4M278.9 118l6.9 -1.7M298.5 118l6.8 1.2M161.6 123l6.8 1.1M181.1 123l4.4 5.4M186 123l3.7 5M190.9 123l4.3 4.9M244.7 123l6.3 -2.4M269.2 123l5.9 -3M283.8 123l7.2 0.5M288.7 123l6.7 0.4M156.7 128.1l6.5 1.8M171.4 128.1l3.3 5.4M190.9 128.1l4.1 4.8M244.7 128.1l6.6 -2.7M249.6 128.1l5.7 -2.8M254.5 128.1l5.6 -3.2M283.8 128.1l6.9 -0.7M151.8 133.2l5.9 2.1M156.7 133.2l5.3 4.4M195.8 133.2l5.4 4.6M200.7 133.2l6 4.2M205.6 133.2l6.1 3.7M210.5 133.2l6.1 3.3M215.4 133.2l6.5 2.9M278.9 133.2l7.1 -1.7M283.8 133.2l6.2 -1.7M274.1 138.2l6.8 -2.3M278.9 138.2l6 -2.1M264.3 143.3l6.9 -2.1M269.2 143.3l5.8 -2.5M254.5 148.4l7.2 -0.6M215.4 153.5l4.1 4.6M249.6 153.5l6.5 -0.2M220.3 158.5l3.6 5.8M244.7 158.5l6.2 0.1M220.3 168.7l3.5 5.5M230 168.7l6.7 1.1M220.3 173.7l5.6 2.8M244.7 219.4l4.4 5.4M254.5 219.4l4.7 5.3M239.8 224.4l5.1 5.1M254.5 224.4l4 5.1M234.9 229.5l4.8 4.4M288.7 234.6l6.1 1.2M278.9 239.6l6.1 -0.9M283.8 239.6l6.4 1.3M274.1 244.7l6.2 -0.8M278.9 244.7l6 1.4" stroke="#e0f3f8" stroke-width="0.8" stroke-opacity="0.6" fill="none"/><path d="M309.8 82.5l0.4 1.4M350.3 81.5l0.8 1.2M166.4 83l1.4 0.2M171.3 82.6l1.4 0M195.9 82.6l1.4 0M200.8 82.6l1.4 0M296.6 86.8l0.8 1.2M354.5 87.5l-0.8 1.4M191.2 87.7l1.5 0M196.2 87.7l1.5 0.1M200.9 87.2l1.4 -0.1M292.9 91.2l1.2 1M345.7 92.8l-0.5 1.5M191 92.6l1.4 -0M195.8 92l1.4 -0.2M288.3 94.6l1.3 0.6M293.8 95l1.4 0.7M338.4 97.5l0.2 1.4M181.4 97.5l1.4 -0M186.6 97.5l1.6 -0.1M191.6 96.8l1.6 -0.2M195.9 95.8l1.4 -0.5M293.7 98.6l1.4 0.2M299.1 99.1l1.6 0.4M337 102.8l-0.2 1.4M355.6 102.6l-0.5 1.4M171.6 102.2l1.4 -0.1M269.1 101.4l1.4 -0.4M274 101.7l1.4 -0.3M294 102.8l1.5 0M326.8 106.2l1.1 1M166.6 107.5l1.4 -0.1M249.5 106.2l1.3 -0.5M255 106l1.5 -0.5M269.4 106.2l1.5 -0.5M288.8 106.8l1.4 -0.3M166.6 113.2l1.4 0.1M172.2 113.1l1.6 0.1M224.9 110.5l1.3 -0.7M239.4 111.1l1.3 -0.5M244.9 111l1.4 -0.5M259.6 111l1.4 -0.5M313.5 114.4l1.5 0.4M166.5 118.3l1.4 0.1M172.1 118.3l1.6 0.1M220.8 116.2l1.5 -0.5M225 116.1l1.3 -0.5M229.8 116.2l1.3 -0.5M235.1 116.2l1.4 -0.5M240.3 116.3l1.5 -0.5M245.3 116.3l1.5 -0.5M249.9 116.2l1.5 -0.5M254 116.1l1.3 -0.5M284.3 116.7l1.5 -0.4M303.8 118.9l1.5 0.3M166.9 123.9l1.5 0.3M184.6 127.2l1 1.2M188.9 126.9l0.8 1.1M194.2 126.9l0.9 1.1M249.6 121.2l1.4 -0.5M273.8 120.7l1.3 -0.7M289.4 123.4l1.6 0.1M294 123.3l1.5 0.1M161.8 129.5l1.4 0.4M173.9 132.3l0.7 1.2M194.1 131.9l0.9 1.1M249.9 126l1.5 -0.6M254 125.9l1.2 -0.6M258.9 125.6l1.2 -0.7M289.2 127.5l1.5 -0.2M156.4 134.8l1.3 0.5M160.9 136.6l1.2 1M200 136.7l1.2 1M205.4 136.4l1.3 0.9M210.3 136l1.3 0.8M215.3 135.7l1.3 0.7M220.4 135.5l1.4 0.6M284.5 131.9l1.6 -0.4M288.6 131.9l1.4 -0.4M279.3 136.5l1.5 -0.5M283.6 136.6l1.3 -0.5M269.7 141.7l1.5 -0.5M273.7 141.3l1.3 -0.6M260.1 147.9l1.6 -0.1M218.6 157l0.9 1M254.7 153.3l1.4 -0M223 163.1l0.8 1.3M249.5 158.6l1.4 0M223 173l0.8 1.2M235.3 169.5l1.5 0.2M224.7 175.9l1.2 0.6M248.1 223.6l1 1.2M258.1 223.5l1 1.2M243.8 228.4l1.1 1.1M257.6 228.4l0.9 1.1M238.7 233l1.1 1M293.5 235.5l1.3 0.3M283.7 238.9l1.3 -0.2M288.8 240.6l1.4 0.3M278.9 244.1l1.4 -0.2M283.6 245.8l1.3 0.3" stroke="#e0f3f8" stroke-width="1.4" stroke-opacity="0.65" fill="none"/><path d="M313.2 77.4l2.7 7.7M298.5 82.5l4.1 6.5M342.5 82.5l3.9 7.2M362.1 82.5l-2.9 7.1M293.6 87.5l6.1 5.5M362.1 87.5l-2.6 7.6M293.6 92.6l7.1 3.4M298.5 92.6l7.5 4M342.5 92.6l-1.8 7.5M357.2 92.6l-2.8 8.1M327.8 97.7l4.6 6.4M342.5 97.7l-2 7.7M347.4 97.7l-2.3 7.9M352.3 97.7l-2.2 7.2M171.4 102.8l7.5 -0.1M176.2 102.8l8.2 -0.2M181.1 102.8l8.5 -1.2M186 102.8l8.1 -2.4M190.9 102.8l7.1 -3.3M195.8 102.8l6.5 -3.7M200.7 102.8l6.7 -3.9M205.6 102.8l7.4 -3.9M220.3 102.8l6.8 -3.9M293.6 102.8l8.3 1.4M166.5 107.8l7.4 0.1M171.4 107.8l8.3 -0M220.3 107.8l7.2 -3.7M254.5 107.8l7.4 -2.4M259.4 107.8l7.3 -2.3M288.7 107.8l8.3 -0.1M313.2 107.8l7.2 3.9M171.4 112.9l8.1 -0.3M215.4 112.9l8 -3M244.7 112.9l7.1 -2.5M249.6 112.9l7.1 -2.4M283.8 112.9l7.6 -1.2M303.4 112.9l7.8 3M171.4 118l8 0.6M190.9 118l7 4.6M195.8 118l7.2 4.3M210.5 118l8.5 -1.2M283.8 118l7.7 0.2M288.7 118l7.6 1.5M293.6 118l7.3 1.8M166.5 123l7.6 2.3M171.4 123l7.5 4M176.2 123l6.1 5.3M195.8 123l6 4.9M210.5 123l8.4 -0M215.4 123l8 -0.7M220.3 123l7.9 -0.8M225.2 123l7.9 -0.7M230 123l8 -0.8M234.9 123l7.9 -1.2M239.8 123l7.4 -1.9M274.1 123l7.2 -1.8M278.9 123l7.5 -0.3M161.6 128.1l6.8 3.7M166.5 128.1l5.5 5.4M195.8 128.1l6.3 4.9M215.4 128.1l8.3 1.9M220.3 128.1l8.3 1.7M239.8 128.1l8 -2.2M259.4 128.1l6.6 -3.5M264.3 128.1l7.9 -2.9M269.2 128.1l8.5 -1.6M274.1 128.1l8.2 -0.6M278.9 128.1l7.6 -0.4M220.3 133.2l7.4 2.6M244.7 133.2l7.8 -2.9M274.1 133.2l8.2 -1.2M220.3 138.2l6.9 3M269.2 138.2l8 -1.8M220.3 143.3l6.7 3.5M259.4 143.3l8.1 -0.9M220.3 148.4l6.4 4.2M249.6 148.4l8.2 1.5M220.3 153.5l5.4 5.4M244.7 153.5l8.1 2.4M225.2 158.5l4.5 6.8M239.8 158.5l8.1 2.8M225.2 163.6l4.8 6.7M234.9 163.6l7.7 2.3M225.2 168.7l6.6 4.3M249.6 219.4l5.1 5.4M244.7 224.4l6.2 5.1M249.6 224.4l5.9 5.2M239.8 229.5l6.1 4.8M244.7 229.5l5.9 5" stroke="#f0f9db" stroke-width="0.8" stroke-opacity="0.6" fill="none"/><path d="M315.3 83.4l0.6 1.7M301.7 87.5l0.9 1.4M345.6 88.1l0.9 1.6M359.8 88l-0.6 1.6M298.4 91.8l1.3 1.2M360 93.4l-0.6 1.7M299.1 95.3l1.6 0.8M304.4 95.7l1.7 0.9M341.1 98.5l-0.4 1.7M355 98.9l-0.6 1.8M331.4 102.7l1 1.4M341 103.7l-0.4 1.7M345.6 103.9l-0.5 1.7M350.6 103.3l-0.5 1.6M177.2 102.7l1.6 -0M182.6 102.6l1.8 -0M187.8 101.8l1.9 -0.3M192.3 100.9l1.8 -0.5M196.5 100.2l1.6 -0.7M200.9 99.9l1.4 -0.8M205.9 99.7l1.5 -0.9M211.3 99.7l1.6 -0.9M225.5 99.7l1.5 -0.9M300.1 103.8l1.8 0.3M172.2 107.9l1.6 0M177.8 107.8l1.8 -0M225.9 104.9l1.6 -0.8M260.2 106l1.6 -0.5M265 106l1.6 -0.5M295.2 107.7l1.8 -0M318.8 110.9l1.6 0.9M177.7 112.6l1.8 -0.1M221.6 110.5l1.8 -0.7M250.3 111l1.6 -0.5M255.2 111l1.6 -0.5M289.8 112l1.7 -0.3M309.5 115.2l1.7 0.7M177.6 118.5l1.8 0.1M196.4 121.6l1.5 1M201.4 121.3l1.6 1M217.1 117l1.9 -0.3M289.8 118.1l1.7 0M294.6 119.2l1.7 0.3M299.3 119.4l1.6 0.4M172.4 124.8l1.7 0.5M177.2 126.2l1.7 0.9M181 127.2l1.3 1.2M200.5 126.8l1.3 1.1M217 123l1.8 -0M221.6 122.5l1.8 -0.1M226.4 122.4l1.7 -0.2M231.3 122.5l1.7 -0.2M236.3 122.4l1.8 -0.2M241.1 122.1l1.7 -0.3M245.6 121.6l1.6 -0.4M279.7 121.6l1.6 -0.4M284.8 122.8l1.6 -0.1M166.9 131l1.5 0.8M170.8 132.3l1.2 1.2M200.7 132l1.4 1.1M221.9 129.6l1.8 0.4M226.8 129.4l1.8 0.4M246.1 126.4l1.8 -0.5M264.5 125.4l1.5 -0.8M270.4 125.8l1.7 -0.6M275.8 126.8l1.9 -0.4M280.5 127.6l1.8 -0.1M284.9 127.8l1.7 -0.1M226.1 135.2l1.6 0.6M250.8 130.9l1.7 -0.6M280.4 132.2l1.8 -0.3M225.6 140.6l1.5 0.7M275.4 136.8l1.7 -0.4M225.5 146l1.5 0.8M265.7 142.6l1.8 -0.2M225.3 151.7l1.4 0.9M256 149.5l1.8 0.3M224.5 157.7l1.2 1.2M251 155.3l1.8 0.5M228.7 163.8l1 1.5M246.2 160.7l1.8 0.6M228.9 168.8l1.1 1.5M241 165.4l1.7 0.5M230.3 172l1.4 0.9M253.5 223.6l1.1 1.2M249.5 228.4l1.4 1.1M254.2 228.5l1.3 1.1M244.6 233.2l1.3 1.1M249.3 233.4l1.3 1.1" stroke="#f0f9db" stroke-width="1.4" stroke-opacity="0.65" fill="none"/><path d="M318.1 77.4l3.6 8.3M322.9 77.4l4.1 8.6M342.5 77.4l4.4 8.2M303.4 82.5l4.8 7.3M308.3 82.5l5.5 7.7M298.5 87.5l6.8 5.9M303.4 87.5l7.2 6.2M337.6 87.5l4.1 8.1M352.3 87.5l-3.4 8.5M357.2 87.5l-3.1 8.8M303.4 92.6l7.9 5M332.7 92.6l4.3 7.8M347.4 92.6l-3 9M352.3 92.6l-3 9.2M298.5 97.7l8.1 3.1M210.5 102.8l8 -3.8M215.4 102.8l7.9 -3.8M318.1 102.8l7.2 6.2M176.2 107.8l8.9 -0.9M181.1 107.8l8.9 -1.9M186 107.8l8.9 -2.6M190.9 107.8l9.2 -2.8M293.6 107.8l9.5 2.2M308.3 107.8l8.3 5.2M176.2 112.9l8.6 -0.8M181.1 112.9l9.2 -0.9M288.7 112.9l8.7 1M293.6 112.9l8.6 2.8M298.5 112.9l8.3 3.5M176.2 118l8.7 1.6M181.1 118l8.6 3.1M186 118l7.8 4.2M200.7 118l8.3 3.3M205.6 118l9.2 1.1M200.7 123l8 3.6M205.6 123l8.8 1.5M200.7 128.1l7.9 4M205.6 128.1l8.4 2.9M210.5 128.1l8.4 2.2M225.2 128.1l8.6 1.2M230 128.1l9 0.3M234.9 128.1l9 -1M225.2 133.2l8.8 1.9M230 133.2l9.7 0.4M234.9 133.2l9.4 -1.3M239.8 133.2l8.4 -2.4M249.6 133.2l8 -3.2M254.5 133.2l8.9 -3M259.4 133.2l9.6 -2.1M264.3 133.2l9.5 -1.2M269.2 133.2l9 -0.9M225.2 138.2l8.8 2.1M230 138.2l9.5 0.4M234.9 138.2l9.3 -0.9M239.8 138.2l9.2 -1.6M244.7 138.2l9.5 -1.7M259.4 138.2l9.6 -0.5M264.3 138.2l8.9 -1M225.2 143.3l8.4 2.6M230 143.3l9 1.5M234.9 143.3l9.4 1M239.8 143.3l9.6 1.1M244.7 143.3l9.6 1.3M249.6 143.3l9.3 1.2M254.5 143.3l8.9 0.4M225.2 148.4l7.7 4.1M230 148.4l8.3 4.1M234.9 148.4l8.5 4.3M239.8 148.4l8.5 4.1M244.7 148.4l8.5 3.2M225.2 153.5l6.2 6.1M230 153.5l6.7 6.5M234.9 153.5l7.3 6.2M239.8 153.5l8.1 4.9M230 158.5l6.1 7.1M234.9 158.5l7.9 5.8M230 163.6l7.4 5.5" stroke="#fffebe" stroke-width="0.8" stroke-opacity="0.6" fill="none"/><path d="M320.8 83.9l0.8 1.8M326.2 84.1l0.9 1.9M345.9 83.8l1 1.8M307.1 88.1l1.1 1.6M312.5 88.5l1.2 1.7M303.8 92.2l1.5 1.3M309 92.4l1.6 1.4M340.8 93.9l0.9 1.8M349.7 94.2l-0.7 1.9M354.8 94.4l-0.7 1.9M309.6 96.5l1.7 1.1M336.1 98.7l1 1.7M345.1 99.7l-0.7 2M349.9 99.8l-0.7 2M304.8 100.1l1.8 0.7M216.7 99.8l1.8 -0.8M221.5 99.8l1.7 -0.8M323.7 107.6l1.6 1.4M183.2 107.1l1.9 -0.2M188.1 106.3l2 -0.4M193 105.8l2 -0.6M198.1 105.6l2 -0.6M301 109.5l2.1 0.5M314.8 111.9l1.8 1.1M183 112.2l1.9 -0.2M188.4 112.2l2 -0.2M295.5 113.7l1.9 0.2M300.3 115.1l1.9 0.6M304.9 115.6l1.8 0.8M183 119.2l1.9 0.3M187.9 120.4l1.9 0.7M192.1 121.3l1.7 0.9M207.2 120.5l1.8 0.7M212.7 118.8l2 0.2M206.9 125.8l1.8 0.8M212.4 124.2l1.9 0.3M206.9 131.2l1.7 0.9M212.2 130.3l1.9 0.6M217.1 129.8l1.9 0.5M231.9 129l1.9 0.3M237.1 128.3l2 0.1M241.9 127.3l2 -0.2M232 134.7l1.9 0.4M237.6 133.5l2.1 0.1M242.2 132.1l2.1 -0.3M246.4 131.3l1.8 -0.5M255.9 130.7l1.8 -0.7M261.4 130.8l2 -0.7M266.8 131.5l2.1 -0.5M271.7 132.3l2.1 -0.3M276.2 132.5l2 -0.2M232 139.9l1.9 0.5M237.4 138.6l2.1 0.1M242.2 137.5l2 -0.2M247 137l2 -0.4M252.1 136.9l2.1 -0.4M266.9 137.9l2.1 -0.1M271.3 137.5l2 -0.2M231.7 145.3l1.8 0.6M237.1 144.5l2 0.3M242.2 144.1l2.1 0.2M247.3 144.2l2.1 0.2M252.2 144.4l2.1 0.3M256.9 144.3l2 0.3M261.4 143.6l2 0.1M231.2 151.6l1.7 0.9M236.5 151.6l1.8 0.9M241.6 151.7l1.9 0.9M246.4 151.6l1.9 0.9M251.3 150.9l1.9 0.7M230 158.2l1.4 1.3M235.3 158.5l1.5 1.4M240.7 158.3l1.6 1.4M246.1 157.3l1.8 1.1M234.8 164.1l1.4 1.6M241.1 163.1l1.7 1.3M235.8 167.9l1.6 1.2" stroke="#fffebe" stroke-width="1.4" stroke-opacity="0.65" fill="none"/><path d="M327.8 77.4l4.2 8.9M332.7 77.4l4.2 9.4M337.6 77.4l4.3 9.4M313.2 82.5l5.8 8M318.1 82.5l5.7 8.6M322.9 82.5l5.4 9.7M308.3 87.5l7.3 6.8M308.3 92.6l8.1 6.8M303.4 97.7l8.9 5.3M322.9 97.7l6.8 8.5M298.5 102.8l9.4 3.7M303.4 102.8l9.3 6.1M313.2 102.8l8.1 7.5M195.8 107.8l10 -2.5M200.7 107.8l10.7 -1.9M205.6 107.8l10.9 -1.6M210.5 107.8l10.6 -2.2M215.4 107.8l9.4 -3.3M298.5 107.8l9.4 4.4M303.4 107.8l8.8 5.5M186 112.9l9.9 -0.2M190.9 112.9l10.3 0.9M195.8 112.9l10.2 1.8M200.7 112.9l10.2 1.8M205.6 112.9l10.4 0.6M210.5 112.9l9.9 -1.5M249.6 138.2l10 -1.3M254.5 138.2l10 -0.6" stroke="#fff0a8" stroke-width="0.8" stroke-opacity="0.6" fill="none"/><path d="M331.2 84.4l0.9 2M336 84.7l0.9 2.1M340.9 84.7l0.9 2.1M317.7 88.7l1.3 1.8M322.5 89.2l1.3 1.9M327.2 90l1.2 2.1M314 92.8l1.6 1.5M314.6 97.9l1.8 1.5M310.3 101.8l2 1.2M328.2 104.3l1.5 1.9M305.9 105.6l2.1 0.8M310.6 107.5l2 1.3M319.5 108.6l1.8 1.7M203.6 105.9l2.2 -0.5M209 106.4l2.3 -0.4M214.1 106.6l2.4 -0.4M218.8 106.1l2.3 -0.5M222.7 105.2l2.1 -0.7M305.8 111.3l2.1 1M310.3 112.1l1.9 1.2M193.8 112.7l2.2 -0M198.9 113.6l2.3 0.2M203.7 114.3l2.2 0.4M208.6 114.3l2.2 0.4M213.7 113.3l2.3 0.1M218.2 111.7l2.2 -0.3M257.4 137.3l2.2 -0.3M262.3 137.7l2.2 -0.1" stroke="#fff0a8" stroke-width="1.4" stroke-opacity="0.65" fill="none"/><path d="M327.8 82.5l5 10.8M332.7 82.5l4.8 11.3M337.6 82.5l4.9 10.2M318.1 87.5l6.6 9.7M332.7 87.5l5.5 10.9M313.2 92.6l7.7 9M327.8 92.6l6.1 10.2M308.3 97.7l8.6 7.7M313.2 97.7l7.9 9.3M318.1 97.7l7.4 9.7M308.3 102.8l8.6 7.5" stroke="#fee090" stroke-width="0.8" stroke-opacity="0.6" fill="none"/><path d="M331.7 90.9l1.1 2.4M336.5 91.3l1.1 2.5M341.4 90.4l1.1 2.2M323.2 95.1l1.5 2.1M337 96l1.2 2.4M319.2 99.6l1.7 2M332.6 100.6l1.4 2.3M315 103.7l1.9 1.7M319.3 105l1.7 2.1M323.8 105.2l1.6 2.1M315 108.6l1.9 1.6" stroke="#fee090" stroke-width="1.4" stroke-opacity="0.65" fill="none"/><path d="M322.9 87.5l5.9 11.2M327.8 87.5l5.6 11.9M322.9 92.6l6.5 11.3" stroke="#fdc778" stroke-width="0.8" stroke-opacity="0.6" fill="none"/><path d="M327.6 96.3l1.3 2.5M332.2 96.8l1.2 2.6M328 101.4l1.4 2.5" stroke="#fdc778" stroke-width="1.4" stroke-opacity="0.65" fill="none"/><use href="#grd"/></g>
<rect x="150.60" y="73.50" width="218.90" height="207.75" fill="none" stroke="#000" stroke-width="1.1"/>
<g font-family='"Liberation Sans", sans-serif' fill="#000">
<text x="151.40" y="63.20" font-size="13.89" text-anchor="middle" textLength="53.0" lengthAdjust="spacingAndGlyphs">112.5°E</text>
<text x="157.40" y="299.00" font-size="13.89" text-anchor="middle" textLength="53.0" lengthAdjust="spacingAndGlyphs">112.5°E</text>
<text x="213.80" y="63.20" font-size="13.89" text-anchor="middle" textLength="40.0" lengthAdjust="spacingAndGlyphs">113°E</text>
<text x="219.70" y="299.00" font-size="13.89" text-anchor="middle" textLength="40.0" lengthAdjust="spacingAndGlyphs">113°E</text>
<text x="276.30" y="63.20" font-size="13.89" text-anchor="middle" textLength="53.0" lengthAdjust="spacingAndGlyphs">113.5°E</text>
<text x="281.60" y="299.00" font-size="13.89" text-anchor="middle" textLength="53.0" lengthAdjust="spacingAndGlyphs">113.5°E</text>
<text x="338.00" y="63.20" font-size="13.89" text-anchor="middle" textLength="40.0" lengthAdjust="spacingAndGlyphs">114°E</text>
<text x="343.00" y="299.00" font-size="13.89" text-anchor="middle" textLength="40.0" lengthAdjust="spacingAndGlyphs">114°E</text>
<text x="142.10" y="97.10" font-size="13.89" text-anchor="end" textLength="45.3" lengthAdjust="spacingAndGlyphs">21.6°S</text>
<text x="142.10" y="123.70" font-size="13.89" text-anchor="end" textLength="45.3" lengthAdjust="spacingAndGlyphs">21.8°S</text>
<text x="142.10" y="150.30" font-size="13.89" text-anchor="end" textLength="33.0" lengthAdjust="spacingAndGlyphs">22°S</text>
<text x="142.10" y="176.90" font-size="13.89" text-anchor="end" textLength="45.3" lengthAdjust="spacingAndGlyphs">22.2°S</text>
<text x="142.10" y="203.50" font-size="13.89" text-anchor="end" textLength="45.3" lengthAdjust="spacingAndGlyphs">22.4°S</text>
<text x="142.10" y="230.10" font-size="13.89" text-anchor="end" textLength="45.3" lengthAdjust="spacingAndGlyphs">22.6°S</text>
<text x="142.10" y="256.70" font-size="13.89" text-anchor="end" textLength="45.3" lengthAdjust="spacingAndGlyphs">22.8°S</text>
<text x="142.10" y="283.30" font-size="13.89" text-anchor="end" textLength="33.0" lengthAdjust="spacingAndGlyphs">23°S</text>
<rect x="383.50" y="125.30" width="5" height="103.90" fill="url(#cbg)" stroke="#000" stroke-width="1.1"/>
<path d="M388.50 125.30h5" stroke="#000" stroke-width="1.1"/>
<text x="399.30" y="130.20" font-size="13.89" text-anchor="start" textLength="19.5" lengthAdjust="spacingAndGlyphs">1.0</text>
<path d="M388.50 177.25h5" stroke="#000" stroke-width="1.1"/>
<text x="399.30" y="182.15" font-size="13.89" text-anchor="start" textLength="19.5" lengthAdjust="spacingAndGlyphs">0.5</text>
<path d="M388.50 229.20h5" stroke="#000" stroke-width="1.1"/>
<text x="399.30" y="234.10" font-size="13.89" text-anchor="start" textLength="19.5" lengthAdjust="spacingAndGlyphs">0.0</text>
</g></g>
<g transform="translate(656.10,252.00)">
<g clip-path="url(#clp)"><rect x="150.60" y="73.50" width="218.90" height="207.75" fill="#97b6e1"/><g transform="translate(151.0,74.0) scale(5.00,5.20)" shape-rendering="crispEdges"><path fill="#6244a0" d="M0 0h2v1.1h-2zM2 1h2v1.1h-2zM4 2h2v1.1h-2zM6 3h1v1.1h-1zM7 4h1v1.1h-1zM8 5h1v1.1h-1zM9 6h1v1.1h-1zM10 7h1v1.1h-1zM11 8h2v1.1h-2zM35 8h1v1.1h-1zM12 9h2v1.1h-2zM34 9h1v1.1h-1zM13 10h2v1.1h-2zM33 10h1v1.1h-1zM14 11h2v1.1h-2zM14 12h2v1.1h-2zM15 13h2v1.1h-2zM15 14h2v1.1h-2zM32 14h1v1.1h-1zM15 15h2v1.1h-2zM32 15h1v1.1h-1zM14 16h3v1.1h-3zM14 17h2v1.1h-2zM31 17h1v1.1h-1zM13 18h2v1.1h-2zM30 18h1v1.1h-1zM12 19h2v1.1h-2zM24 19h1v1.1h-1zM11 20h2v1.1h-2zM22 20h1v1.1h-1zM11 21h2v1.1h-2zM19 21h3v1.1h-3zM10 22h2v1.1h-2zM18 22h1v1.1h-1zM10 23h2v1.1h-2zM11 24h1v1.1h-1zM17 24h1v1.1h-1zM11 25h2v1.1h-2zM12 26h2v1.1h-2zM16 26h1v1.1h-1zM13 27h4v1.1h-4zM14 28h3v1.1h-3zM15 29h2v1.1h-2zM16 30h1v1.1h-1zM31 36h1v1.1h-1zM1 39h1v1.1h-1z"/><path fill="#67459e" d="M2 0h3v1.1h-3zM4 1h2v1.1h-2zM6 2h1v1.1h-1zM7 3h2v1.1h-2zM8 4h2v1.1h-2zM9 5h2v1.1h-2zM10 6h2v1.1h-2zM11 7h2v1.1h-2zM13 8h2v1.1h-2zM14 9h2v1.1h-2zM15 10h2v1.1h-2zM16 11h2v1.1h-2zM16 12h3v1.1h-3zM32 12h1v1.1h-1zM17 13h3v1.1h-3zM32 13h1v1.1h-1zM17 14h3v1.1h-3zM17 15h3v1.1h-3zM17 16h3v1.1h-3zM31 16h1v1.1h-1zM16 17h5v1.1h-5zM15 18h6v1.1h-6zM23 18h7v1.1h-7zM14 19h10v1.1h-10zM13 20h9v1.1h-9zM13 21h6v1.1h-6zM12 22h6v1.1h-6zM12 23h6v1.1h-6zM12 24h5v1.1h-5zM13 25h4v1.1h-4zM14 26h2v1.1h-2zM32 37h1v1.1h-1zM32 38h1v1.1h-1zM0 39h1v1.1h-1z"/><path fill="#6c469d" d="M5 0h2v1.1h-2zM6 1h2v1.1h-2zM7 2h2v1.1h-2zM9 3h1v1.1h-1zM10 4h2v1.1h-2zM11 5h2v1.1h-2zM12 6h3v1.1h-3zM13 7h3v1.1h-3zM15 8h3v1.1h-3zM34 8h1v1.1h-1zM16 9h4v1.1h-4zM33 9h1v1.1h-1zM17 10h4v1.1h-4zM32 10h1v1.1h-1zM18 11h4v1.1h-4zM32 11h1v1.1h-1zM19 12h3v1.1h-3zM20 13h3v1.1h-3zM20 14h3v1.1h-3zM31 14h1v1.1h-1zM20 15h4v1.1h-4zM31 15h1v1.1h-1zM20 16h6v1.1h-6zM21 17h10v1.1h-10zM21 18h2v1.1h-2zM31 33h1v1.1h-1zM31 35h1v1.1h-1zM33 38h1v1.1h-1zM32 39h1v1.1h-1z"/><path fill="#71489b" d="M7 0h2v1.1h-2zM8 1h2v1.1h-2zM9 2h3v1.1h-3zM10 3h3v1.1h-3zM12 4h3v1.1h-3zM13 5h4v1.1h-4zM15 6h5v1.1h-5zM16 7h7v1.1h-7zM35 7h1v1.1h-1zM18 8h6v1.1h-6zM33 8h1v1.1h-1zM20 9h5v1.1h-5zM32 9h1v1.1h-1zM21 10h4v1.1h-4zM22 11h4v1.1h-4zM31 11h1v1.1h-1zM22 12h4v1.1h-4zM31 12h1v1.1h-1zM23 13h4v1.1h-4zM31 13h1v1.1h-1zM23 14h4v1.1h-4zM24 15h4v1.1h-4zM30 15h1v1.1h-1zM26 16h5v1.1h-5zM31 34h1v1.1h-1zM32 36h1v1.1h-1zM33 39h1v1.1h-1z"/><path fill="#764999" d="M9 0h4v1.1h-4zM10 1h4v1.1h-4zM12 2h4v1.1h-4zM13 3h5v1.1h-5zM15 4h6v1.1h-6zM17 5h7v1.1h-7zM20 6h5v1.1h-5zM23 7h3v1.1h-3zM34 7h1v1.1h-1zM24 8h3v1.1h-3zM25 9h4v1.1h-4zM31 9h1v1.1h-1zM25 10h7v1.1h-7zM26 11h5v1.1h-5zM26 12h5v1.1h-5zM27 13h4v1.1h-4zM27 14h4v1.1h-4zM28 15h2v1.1h-2zM32 35h1v1.1h-1z"/><path fill="#7c4a98" d="M13 0h7v1.1h-7zM14 1h7v1.1h-7zM16 2h6v1.1h-6zM18 3h5v1.1h-5zM21 4h3v1.1h-3zM24 5h1v1.1h-1zM25 6h1v1.1h-1zM36 6h1v1.1h-1zM26 7h2v1.1h-2zM39 7h1v1.1h-1zM27 8h3v1.1h-3zM32 8h1v1.1h-1zM29 9h2v1.1h-2z"/><path fill="#844d96" d="M20 0h3v1.1h-3zM21 1h2v1.1h-2zM22 2h2v1.1h-2zM23 3h1v1.1h-1zM24 4h1v1.1h-1zM25 5h1v1.1h-1zM26 6h1v1.1h-1zM35 6h1v1.1h-1zM37 6h1v1.1h-1zM28 7h1v1.1h-1zM33 7h1v1.1h-1zM30 8h2v1.1h-2z"/><path fill="#8b4f94" d="M23 0h1v1.1h-1zM23 1h1v1.1h-1zM24 2h1v1.1h-1zM24 3h1v1.1h-1zM25 4h1v1.1h-1zM26 5h1v1.1h-1zM41 5h1v1.1h-1zM27 6h1v1.1h-1zM34 6h1v1.1h-1zM40 6h2v1.1h-2zM29 7h4v1.1h-4z"/><path fill="#935193" d="M24 0h1v1.1h-1zM24 1h1v1.1h-1zM25 3h1v1.1h-1zM26 4h1v1.1h-1zM41 4h1v1.1h-1zM27 5h1v1.1h-1zM35 5h6v1.1h-6zM28 6h2v1.1h-2zM33 6h1v1.1h-1z"/><path fill="#9b5491" d="M25 0h1v1.1h-1zM42 0h1v1.1h-1zM25 1h1v1.1h-1zM25 2h1v1.1h-1zM42 2h1v1.1h-1zM26 3h1v1.1h-1zM40 4h1v1.1h-1zM34 5h1v1.1h-1zM30 6h3v1.1h-3z"/><path fill="#a4568e" d="M26 0h1v1.1h-1zM26 1h1v1.1h-1zM42 1h1v1.1h-1zM26 2h1v1.1h-1zM41 3h1v1.1h-1zM27 4h1v1.1h-1zM37 4h3v1.1h-3zM28 5h1v1.1h-1zM33 5h1v1.1h-1z"/><path fill="#b65c82" d="M27 0h1v1.1h-1zM40 0h1v1.1h-1zM27 1h1v1.1h-1zM27 2h1v1.1h-1zM40 2h1v1.1h-1zM38 3h2v1.1h-2zM28 4h1v1.1h-1zM34 4h1v1.1h-1z"/><path fill="#c05f7d" d="M28 0h1v1.1h-1zM40 1h1v1.1h-1zM39 2h1v1.1h-1zM28 3h1v1.1h-1zM37 3h1v1.1h-1zM29 4h1v1.1h-1zM33 4h1v1.1h-1z"/><path fill="#ce6574" d="M29 0h1v1.1h-1zM38 0h1v1.1h-1zM38 1h1v1.1h-1zM37 2h1v1.1h-1zM29 3h1v1.1h-1zM34 3h2v1.1h-2z"/><path fill="#da6b6b" d="M30 0h1v1.1h-1zM36 0h1v1.1h-1zM36 1h1v1.1h-1zM30 2h1v1.1h-1zM35 2h1v1.1h-1zM31 3h2v1.1h-2z"/><path fill="#de6f68" d="M31 0h1v1.1h-1zM35 0h1v1.1h-1zM30 1h1v1.1h-1zM35 1h1v1.1h-1zM31 2h1v1.1h-1zM34 2h1v1.1h-1z"/><path fill="#e17265" d="M32 0h3v1.1h-3zM31 1h1v1.1h-1zM34 1h1v1.1h-1zM33 2h1v1.1h-1z"/><path fill="#d4686f" d="M37 0h1v1.1h-1zM29 1h1v1.1h-1zM37 1h1v1.1h-1zM29 2h1v1.1h-1zM36 2h1v1.1h-1zM30 3h1v1.1h-1z"/><path fill="#c76278" d="M39 0h1v1.1h-1zM28 1h1v1.1h-1zM39 1h1v1.1h-1zM28 2h1v1.1h-1zM38 2h1v1.1h-1zM36 3h1v1.1h-1zM30 4h3v1.1h-3z"/><path fill="#ad5988" d="M41 0h1v1.1h-1zM41 1h1v1.1h-1zM41 2h1v1.1h-1zM27 3h1v1.1h-1zM40 3h1v1.1h-1zM35 4h2v1.1h-2zM29 5h4v1.1h-4z"/><path fill="#5e42a1" d="M0 1h2v1.1h-2zM2 2h2v1.1h-2zM4 3h2v1.1h-2zM5 4h2v1.1h-2zM7 5h1v1.1h-1zM8 6h1v1.1h-1zM9 7h1v1.1h-1zM10 8h1v1.1h-1zM37 8h1v1.1h-1zM10 9h2v1.1h-2zM11 10h2v1.1h-2zM12 11h2v1.1h-2zM33 11h1v1.1h-1zM12 12h2v1.1h-2zM13 13h2v1.1h-2zM13 14h2v1.1h-2zM13 15h2v1.1h-2zM12 16h2v1.1h-2zM32 16h1v1.1h-1zM12 17h2v1.1h-2zM11 18h2v1.1h-2zM11 19h1v1.1h-1zM25 19h5v1.1h-5zM10 20h1v1.1h-1zM23 20h1v1.1h-1zM9 21h2v1.1h-2zM22 21h1v1.1h-1zM9 22h1v1.1h-1zM19 22h3v1.1h-3zM9 23h1v1.1h-1zM18 23h1v1.1h-1zM9 24h2v1.1h-2zM10 25h1v1.1h-1zM17 25h1v1.1h-1zM11 26h1v1.1h-1zM17 26h1v1.1h-1zM12 27h1v1.1h-1zM17 27h1v1.1h-1zM13 28h1v1.1h-1zM17 28h1v1.1h-1zM13 29h2v1.1h-2zM17 29h1v1.1h-1zM14 30h2v1.1h-2zM17 30h1v1.1h-1zM15 31h3v1.1h-3zM31 37h1v1.1h-1zM2 39h1v1.1h-1zM31 39h1v1.1h-1z"/><path fill="#e47662" d="M32 1h2v1.1h-2z"/><path fill="#5a41a2" d="M0 2h2v1.1h-2zM2 3h2v1.1h-2zM4 4h1v1.1h-1zM5 5h2v1.1h-2zM7 6h1v1.1h-1zM8 7h1v1.1h-1zM8 8h2v1.1h-2zM9 9h1v1.1h-1zM35 9h1v1.1h-1zM10 10h1v1.1h-1zM34 10h1v1.1h-1zM11 11h1v1.1h-1zM11 12h1v1.1h-1zM33 12h1v1.1h-1zM11 13h2v1.1h-2zM33 13h1v1.1h-1zM11 14h2v1.1h-2zM11 15h2v1.1h-2zM11 16h1v1.1h-1zM10 17h2v1.1h-2zM10 18h1v1.1h-1zM31 18h1v1.1h-1zM9 19h2v1.1h-2zM30 19h1v1.1h-1zM9 20h1v1.1h-1zM24 20h1v1.1h-1zM8 21h1v1.1h-1zM23 21h1v1.1h-1zM8 22h1v1.1h-1zM22 22h1v1.1h-1zM8 23h1v1.1h-1zM19 23h3v1.1h-3zM8 24h1v1.1h-1zM18 24h1v1.1h-1zM9 25h1v1.1h-1zM10 26h1v1.1h-1zM11 27h1v1.1h-1zM11 28h2v1.1h-2zM12 29h1v1.1h-1zM13 30h1v1.1h-1zM18 30h1v1.1h-1zM14 31h1v1.1h-1zM18 31h1v1.1h-1zM17 32h2v1.1h-2zM0 38h1v1.1h-1zM31 38h1v1.1h-1zM3 39h1v1.1h-1z"/><path fill="#563fa4" d="M0 3h2v1.1h-2zM2 4h2v1.1h-2zM4 5h1v1.1h-1zM5 6h2v1.1h-2zM7 7h1v1.1h-1zM7 8h1v1.1h-1zM8 9h1v1.1h-1zM9 10h1v1.1h-1zM9 11h2v1.1h-2zM10 12h1v1.1h-1zM10 13h1v1.1h-1zM10 14h1v1.1h-1zM33 14h1v1.1h-1zM10 15h1v1.1h-1zM10 16h1v1.1h-1zM9 17h1v1.1h-1zM32 17h1v1.1h-1zM9 18h1v1.1h-1zM8 19h1v1.1h-1zM7 20h2v1.1h-2zM25 20h1v1.1h-1zM28 20h1v1.1h-1zM7 21h1v1.1h-1zM6 22h2v1.1h-2zM6 23h2v1.1h-2zM22 23h1v1.1h-1zM6 24h2v1.1h-2zM20 24h2v1.1h-2zM7 25h2v1.1h-2zM18 25h1v1.1h-1zM8 26h2v1.1h-2zM9 27h2v1.1h-2zM10 28h1v1.1h-1zM11 29h1v1.1h-1zM18 29h1v1.1h-1zM12 30h1v1.1h-1zM19 30h1v1.1h-1zM13 31h1v1.1h-1zM19 31h1v1.1h-1zM15 32h2v1.1h-2zM19 32h1v1.1h-1zM0 37h1v1.1h-1zM1 38h1v1.1h-1zM4 39h1v1.1h-1zM20 39h2v1.1h-2z"/><path fill="#513da5" d="M0 4h2v1.1h-2zM3 5h1v1.1h-1zM4 6h1v1.1h-1zM5 7h2v1.1h-2zM6 8h1v1.1h-1zM7 9h1v1.1h-1zM36 9h1v1.1h-1zM8 10h1v1.1h-1zM8 11h1v1.1h-1zM34 11h1v1.1h-1zM9 12h1v1.1h-1zM9 13h1v1.1h-1zM9 14h1v1.1h-1zM9 15h1v1.1h-1zM33 15h1v1.1h-1zM9 16h1v1.1h-1zM8 17h1v1.1h-1zM8 18h1v1.1h-1zM7 19h1v1.1h-1zM6 20h1v1.1h-1zM26 20h2v1.1h-2zM29 20h1v1.1h-1zM6 21h1v1.1h-1zM24 21h1v1.1h-1zM5 22h1v1.1h-1zM23 22h1v1.1h-1zM5 23h1v1.1h-1zM5 24h1v1.1h-1zM19 24h1v1.1h-1zM6 25h1v1.1h-1zM7 26h1v1.1h-1zM18 26h1v1.1h-1zM8 27h1v1.1h-1zM18 27h1v1.1h-1zM9 28h1v1.1h-1zM18 28h1v1.1h-1zM10 29h1v1.1h-1zM19 29h1v1.1h-1zM10 30h2v1.1h-2zM11 31h2v1.1h-2zM20 31h1v1.1h-1zM14 32h1v1.1h-1zM20 32h1v1.1h-1zM18 33h2v1.1h-2zM2 38h1v1.1h-1zM5 39h1v1.1h-1zM19 39h1v1.1h-1zM30 39h1v1.1h-1z"/><path fill="#4d3ca6" d="M0 5h3v1.1h-3zM3 6h1v1.1h-1zM4 7h1v1.1h-1zM5 8h1v1.1h-1zM6 9h1v1.1h-1zM7 10h1v1.1h-1zM35 10h1v1.1h-1zM7 11h1v1.1h-1zM8 12h1v1.1h-1zM34 12h1v1.1h-1zM8 13h1v1.1h-1zM8 14h1v1.1h-1zM8 15h1v1.1h-1zM8 16h1v1.1h-1zM33 16h1v1.1h-1zM7 17h1v1.1h-1zM7 18h1v1.1h-1zM32 18h1v1.1h-1zM6 19h1v1.1h-1zM31 19h1v1.1h-1zM5 20h1v1.1h-1zM30 20h1v1.1h-1zM4 21h2v1.1h-2zM25 21h1v1.1h-1zM4 22h1v1.1h-1zM3 23h2v1.1h-2zM3 24h2v1.1h-2zM22 24h1v1.1h-1zM4 25h2v1.1h-2zM19 25h3v1.1h-3zM5 26h2v1.1h-2zM7 27h1v1.1h-1zM8 28h1v1.1h-1zM9 29h1v1.1h-1zM20 29h1v1.1h-1zM9 30h1v1.1h-1zM20 30h1v1.1h-1zM10 31h1v1.1h-1zM13 32h1v1.1h-1zM0 33h1v1.1h-1zM17 33h1v1.1h-1zM20 33h1v1.1h-1zM0 34h1v1.1h-1zM30 34h1v1.1h-1zM0 35h1v1.1h-1zM0 36h1v1.1h-1zM1 37h1v1.1h-1zM3 38h1v1.1h-1zM18 39h1v1.1h-1zM22 39h1v1.1h-1z"/><path fill="#4339a6" d="M0 6h1v1.1h-1zM1 7h2v1.1h-2zM3 8h1v1.1h-1zM4 9h1v1.1h-1zM5 10h1v1.1h-1zM36 10h1v1.1h-1zM6 11h1v1.1h-1zM6 12h1v1.1h-1zM35 12h1v1.1h-1zM6 13h1v1.1h-1zM6 14h1v1.1h-1zM34 14h1v1.1h-1zM6 15h1v1.1h-1zM34 15h1v1.1h-1zM6 16h1v1.1h-1zM5 17h1v1.1h-1zM5 18h1v1.1h-1zM4 19h1v1.1h-1zM2 20h2v1.1h-2zM0 21h3v1.1h-3zM26 21h4v1.1h-4zM22 25h1v1.1h-1zM1 27h4v1.1h-4zM21 27h1v1.1h-1zM0 28h2v1.1h-2zM4 28h3v1.1h-3zM21 28h1v1.1h-1zM0 29h1v1.1h-1zM6 29h1v1.1h-1zM21 29h1v1.1h-1zM0 30h1v1.1h-1zM6 30h2v1.1h-2zM21 30h1v1.1h-1zM0 31h2v1.1h-2zM7 31h2v1.1h-2zM21 31h1v1.1h-1zM1 32h2v1.1h-2zM10 32h2v1.1h-2zM21 32h1v1.1h-1zM2 33h1v1.1h-1zM2 34h1v1.1h-1zM19 34h2v1.1h-2zM2 36h1v1.1h-1zM30 36h1v1.1h-1zM30 37h1v1.1h-1zM4 38h1v1.1h-1zM20 38h2v1.1h-2zM7 39h1v1.1h-1zM23 39h1v1.1h-1zM29 39h1v1.1h-1z"/><path fill="#483aa6" d="M1 6h2v1.1h-2zM3 7h1v1.1h-1zM4 8h1v1.1h-1zM5 9h1v1.1h-1zM6 10h1v1.1h-1zM35 11h1v1.1h-1zM7 12h1v1.1h-1zM7 13h1v1.1h-1zM34 13h1v1.1h-1zM7 14h1v1.1h-1zM7 15h1v1.1h-1zM7 16h1v1.1h-1zM6 17h1v1.1h-1zM33 17h1v1.1h-1zM6 18h1v1.1h-1zM5 19h1v1.1h-1zM4 20h1v1.1h-1zM3 21h1v1.1h-1zM0 22h4v1.1h-4zM24 22h1v1.1h-1zM0 23h3v1.1h-3zM23 23h1v1.1h-1zM0 24h3v1.1h-3zM0 25h4v1.1h-4zM0 26h5v1.1h-5zM19 26h3v1.1h-3zM0 27h1v1.1h-1zM5 27h2v1.1h-2zM19 27h2v1.1h-2zM7 28h1v1.1h-1zM19 28h2v1.1h-2zM7 29h2v1.1h-2zM8 30h1v1.1h-1zM9 31h1v1.1h-1zM0 32h1v1.1h-1zM12 32h1v1.1h-1zM1 33h1v1.1h-1zM16 33h1v1.1h-1zM30 33h1v1.1h-1zM1 34h1v1.1h-1zM1 35h1v1.1h-1zM30 35h1v1.1h-1zM1 36h1v1.1h-1zM2 37h1v1.1h-1zM30 38h1v1.1h-1zM6 39h1v1.1h-1zM17 39h1v1.1h-1z"/><path fill="#c86070" d="M42 6h1v1.1h-1z"/><path fill="#3e38a6" d="M0 7h1v1.1h-1zM2 8h1v1.1h-1zM3 9h1v1.1h-1zM4 10h1v1.1h-1zM5 11h1v1.1h-1zM5 12h1v1.1h-1zM5 13h1v1.1h-1zM5 14h1v1.1h-1zM5 15h1v1.1h-1zM5 16h1v1.1h-1zM4 17h1v1.1h-1zM4 18h1v1.1h-1zM33 18h1v1.1h-1zM2 19h2v1.1h-2zM32 19h1v1.1h-1zM0 20h2v1.1h-2zM31 20h1v1.1h-1zM30 21h1v1.1h-1zM23 24h1v1.1h-1zM22 26h1v1.1h-1zM2 28h2v1.1h-2zM1 29h5v1.1h-5zM1 30h5v1.1h-5zM2 31h5v1.1h-5zM3 32h7v1.1h-7zM30 32h1v1.1h-1zM3 33h1v1.1h-1zM15 33h1v1.1h-1zM21 33h1v1.1h-1zM3 34h1v1.1h-1zM18 34h1v1.1h-1zM2 35h1v1.1h-1zM3 37h1v1.1h-1zM19 38h1v1.1h-1zM16 39h1v1.1h-1z"/><path fill="#d86868" d="M42 7h1v1.1h-1z"/><path fill="#3937a6" d="M0 8h2v1.1h-2zM2 9h1v1.1h-1zM3 10h1v1.1h-1zM4 11h1v1.1h-1zM4 12h1v1.1h-1zM4 15h1v1.1h-1zM4 16h1v1.1h-1zM3 17h1v1.1h-1zM2 18h2v1.1h-2zM0 19h2v1.1h-2zM25 22h1v1.1h-1zM24 23h1v1.1h-1zM22 27h1v1.1h-1zM4 33h2v1.1h-2zM14 33h1v1.1h-1zM21 34h1v1.1h-1zM3 35h1v1.1h-1zM20 35h1v1.1h-1zM3 36h1v1.1h-1zM5 38h1v1.1h-1zM22 38h1v1.1h-1zM8 39h1v1.1h-1zM24 39h1v1.1h-1zM28 39h1v1.1h-1z"/><path fill="#3436a4" d="M0 9h2v1.1h-2zM1 10h2v1.1h-2zM3 11h1v1.1h-1zM3 12h1v1.1h-1zM4 13h1v1.1h-1zM4 14h1v1.1h-1zM3 15h1v1.1h-1zM3 16h1v1.1h-1zM1 17h2v1.1h-2zM0 18h2v1.1h-2zM28 22h2v1.1h-2zM23 25h1v1.1h-1zM22 28h1v1.1h-1zM6 33h1v1.1h-1zM13 33h1v1.1h-1zM4 34h1v1.1h-1zM17 34h1v1.1h-1zM19 35h1v1.1h-1zM21 35h1v1.1h-1zM4 37h1v1.1h-1zM20 37h2v1.1h-2zM18 38h1v1.1h-1zM29 38h1v1.1h-1zM15 39h1v1.1h-1zM25 39h3v1.1h-3z"/><path fill="#d86464" d="M42 9h1v1.1h-1zM42 10h1v1.1h-1zM42 11h1v1.1h-1zM42 12h1v1.1h-1z"/><path fill="#30349e" d="M0 10h1v1.1h-1zM0 11h3v1.1h-3zM2 12h1v1.1h-1zM2 13h2v1.1h-2zM2 14h2v1.1h-2zM2 15h1v1.1h-1zM0 16h3v1.1h-3zM0 17h1v1.1h-1zM32 20h1v1.1h-1zM31 21h1v1.1h-1zM26 22h2v1.1h-2zM30 22h1v1.1h-1zM22 29h1v1.1h-1zM22 30h1v1.1h-1zM22 31h1v1.1h-1zM22 32h1v1.1h-1zM7 33h2v1.1h-2zM12 33h1v1.1h-1zM22 33h1v1.1h-1zM5 34h1v1.1h-1zM4 35h1v1.1h-1zM20 36h2v1.1h-2zM19 37h1v1.1h-1zM29 37h1v1.1h-1zM23 38h1v1.1h-1zM9 39h1v1.1h-1zM14 39h1v1.1h-1z"/><path fill="#2c3398" d="M0 12h2v1.1h-2zM0 13h2v1.1h-2zM0 14h2v1.1h-2zM0 15h2v1.1h-2zM31 22h1v1.1h-1zM24 24h1v1.1h-1zM23 26h1v1.1h-1zM9 33h3v1.1h-3zM29 33h1v1.1h-1zM16 34h1v1.1h-1zM22 34h1v1.1h-1zM29 34h1v1.1h-1zM18 35h1v1.1h-1zM29 35h1v1.1h-1zM4 36h1v1.1h-1zM19 36h1v1.1h-1zM29 36h1v1.1h-1zM22 37h1v1.1h-1zM6 38h1v1.1h-1zM24 38h1v1.1h-1zM28 38h1v1.1h-1zM10 39h4v1.1h-4z"/><path fill="#e87050" d="M41 17h1v1.1h-1zM41 18h2v1.1h-2zM41 19h2v1.1h-2z"/><path fill="#f89a38" d="M42 22h1v1.1h-1z"/><path fill="#283292" d="M25 23h1v1.1h-1zM23 27h1v1.1h-1zM29 32h1v1.1h-1zM6 34h1v1.1h-1zM22 35h1v1.1h-1zM22 36h1v1.1h-1zM5 37h1v1.1h-1zM23 37h1v1.1h-1zM17 38h1v1.1h-1zM25 38h3v1.1h-3z"/><path fill="#192d70" d="M26 23h2v1.1h-2zM29 24h1v1.1h-1zM24 27h1v1.1h-1zM24 28h1v1.1h-1zM24 29h1v1.1h-1zM29 29h1v1.1h-1zM24 30h1v1.1h-1zM25 31h1v1.1h-1zM28 31h1v1.1h-1zM25 32h3v1.1h-3zM8 34h1v1.1h-1zM25 35h2v1.1h-2zM25 36h1v1.1h-1zM17 37h1v1.1h-1zM8 38h1v1.1h-1z"/><path fill="#202f84" d="M28 23h1v1.1h-1zM28 33h1v1.1h-1zM7 34h1v1.1h-1zM28 34h1v1.1h-1zM17 35h1v1.1h-1zM23 35h1v1.1h-1zM28 35h1v1.1h-1zM5 36h1v1.1h-1zM18 36h1v1.1h-1zM23 36h1v1.1h-1zM28 36h1v1.1h-1zM24 37h4v1.1h-4zM16 38h1v1.1h-1z"/><path fill="#24308c" d="M29 23h3v1.1h-3zM24 25h1v1.1h-1zM23 28h1v1.1h-1zM23 29h1v1.1h-1zM23 30h1v1.1h-1zM23 31h1v1.1h-1zM29 31h1v1.1h-1zM23 32h1v1.1h-1zM23 33h1v1.1h-1zM15 34h1v1.1h-1zM23 34h1v1.1h-1zM5 35h1v1.1h-1zM18 37h1v1.1h-1zM28 37h1v1.1h-1zM7 38h1v1.1h-1z"/><path fill="#f8b440" d="M42 23h1v1.1h-1z"/><path fill="#162c66" d="M25 24h1v1.1h-1zM30 25h1v1.1h-1zM28 30h1v1.1h-1zM26 31h2v1.1h-2zM9 34h1v1.1h-1zM13 34h1v1.1h-1zM16 35h1v1.1h-1zM6 36h1v1.1h-1zM17 36h1v1.1h-1zM15 38h1v1.1h-1z"/><path fill="#0a2236" d="M26 24h2v1.1h-2zM26 25h3v1.1h-3zM25 26h4v1.1h-4zM25 27h4v1.1h-4zM26 28h2v1.1h-2zM26 29h2v1.1h-2zM9 35h6v1.1h-6zM8 36h8v1.1h-8zM9 37h7v1.1h-7z"/><path fill="#112954" d="M28 24h1v1.1h-1zM29 26h1v1.1h-1zM26 30h2v1.1h-2zM11 34h1v1.1h-1zM7 37h1v1.1h-1zM9 38h1v1.1h-1zM14 38h1v1.1h-1z"/><path fill="#1d2e7a" d="M30 24h1v1.1h-1zM24 26h1v1.1h-1zM29 30h1v1.1h-1zM24 31h1v1.1h-1zM24 32h1v1.1h-1zM28 32h1v1.1h-1zM24 33h4v1.1h-4zM14 34h1v1.1h-1zM24 34h4v1.1h-4zM6 35h1v1.1h-1zM24 35h1v1.1h-1zM27 35h1v1.1h-1zM24 36h1v1.1h-1zM26 36h2v1.1h-2zM6 37h1v1.1h-1z"/><path fill="#f0e048" d="M42 24h1v1.1h-1z"/><path fill="#0d2545" d="M25 25h1v1.1h-1zM8 35h1v1.1h-1zM7 36h1v1.1h-1zM16 36h1v1.1h-1zM13 38h1v1.1h-1z"/><path fill="#132a5c" d="M29 25h1v1.1h-1zM25 30h1v1.1h-1zM10 34h1v1.1h-1zM12 34h1v1.1h-1zM7 35h1v1.1h-1z"/><path fill="#ecec48" d="M42 25h1v1.1h-1z"/><path fill="#e8f048" d="M42 26h1v1.1h-1z"/><path fill="#0c243e" d="M25 28h1v1.1h-1zM28 28h1v1.1h-1zM8 37h1v1.1h-1zM11 38h2v1.1h-2z"/><path fill="#0f274c" d="M25 29h1v1.1h-1zM28 29h1v1.1h-1zM15 35h1v1.1h-1zM16 37h1v1.1h-1zM10 38h1v1.1h-1z"/></g><use href="#land"/><path d="M151.8 77.4l1.8 0.9M225.2 77.4l-1.9 -0.5M230 77.4l-1.8 -0.8M234.9 77.4l-1.4 -1.4M239.8 77.4l-0.8 -1.9M244.7 77.4l-0.2 -2M249.6 77.4l-0.1 -2M254.5 77.4l-0.6 -1.9M259.4 77.4l-1.7 -1.1M264.3 77.4l-1.8 0.9M215.4 82.5l-1.9 0.5M220.3 82.5l-2 0.2M225.2 82.5l-1.9 -0.5M230 82.5l-1.3 -1.5M234.9 82.5l-0.4 -2M239.8 82.5l0.3 -2M254.5 82.5l-1.3 -1.5M259.4 82.5l-1.9 0.5M264.3 82.5l-0.4 2M210.5 87.5l-1.2 1.6M215.4 87.5l-1.6 1.2M220.3 87.5l-2 0.1M225.2 87.5l-1.5 -1.4M230 87.5l-0.4 -2M234.9 87.5l0.3 -2M249.6 87.5l-1.2 -1.6M254.5 87.5l-2 0.4M259.4 87.5l-0.2 2M205.6 92.6l0.2 2M210.5 92.6l-0.5 1.9M215.4 92.6l-1.6 1.2M220.3 92.6l-1.9 -0.7M225.2 92.6l-0.8 -1.8M230 92.6l-0.2 -2M234.9 92.6l-0.1 -2M239.8 92.6l-0.6 -1.9M244.7 92.6l-1.4 -1.4M249.6 92.6l-1 1.7M254.5 92.6l0.7 1.9M259.4 92.6l1 1.7M264.3 92.6l1.1 1.6M200.7 97.7l1.5 1.4M205.6 97.7l0.8 1.8M210.5 97.7l-0.5 1.9M215.4 97.7l-1.8 0.9M220.3 97.7l-1.8 -0.9M225.2 97.7l-1.3 -1.5M230 97.7l-1.3 -1.5M234.9 97.7l-1.8 -0.8M239.8 97.7l-0.6 1.9M244.7 97.7l0.8 1.8M249.6 97.7l1.2 1.6M254.5 97.7l1.3 1.5M259.4 97.7l1.4 1.4M264.3 97.7l1.6 1.2M200.7 102.8l1.7 1.1M205.6 102.8l0.9 1.8M210.5 102.8l-0.2 2M215.4 102.8l-1.1 1.7M220.3 102.8l-1.3 1.5M225.2 102.8l-0.6 1.9M230 102.8l0.4 2M234.9 102.8l1 1.7M249.6 102.8l1.3 1.5M254.5 102.8l1.4 1.4M205.6 107.8l1.3 1.5M210.5 107.8l1 1.7M215.4 107.8l1.1 1.7M313.2 107.8l2 -0.4M318.1 107.8l1.9 0.7M322.9 107.8l1.3 1.5M327.8 107.8l1.6 1.2M308.3 112.9l1.8 -0.8M313.2 112.9l2 0.3M318.1 112.9l1.6 1.2M322.9 112.9l1.6 -1.2M327.8 112.9l1.9 -0.6M303.4 118l2 0M308.3 118l1.8 0.9M313.2 118l1.6 1.2M318.1 118l1 -1.8M322.9 118l1.2 -1.6M303.4 123l1.7 1M308.3 123l1.7 1M313.2 123l1.8 -0.8M318.1 123l1.2 -1.6M303.4 128.1l1.8 0.8M308.3 128.1l2 -0.2M313.2 128.1l1.6 -1.2M318.1 128.1l1.2 -1.6M322.9 128.1l0.7 -1.9M327.8 128.1l-0.1 -2M332.7 128.1l-0.7 -1.9M303.4 133.2l2 -0.4M308.3 133.2l1.8 -1M313.2 133.2l1.4 -1.5M318.1 133.2l0.2 -2M322.9 133.2l-1.9 -0.7M327.8 133.2l-2 -0.3M195.8 138.2l2 -0.4M303.4 138.2l1.6 -1.2M308.3 138.2l1.2 -1.6M313.2 138.2l-2 -0.2M318.1 138.2l-1.5 1.3M322.9 138.2l-1.6 1.2M327.8 138.2l-2 0.1M171.4 143.3l2 -0.3M303.4 143.3l0.1 -2M308.3 143.3l-2 0.1M313.2 143.3l-1.5 1.3M318.1 143.3l-1.6 1.2M322.9 143.3l-2 0.2M166.5 148.4l1.9 -0.7M298.5 148.4l-0.4 -2M303.4 148.4l-1.8 -0.8M308.3 148.4l-2 0.4M313.2 148.4l-2 0.3M318.1 148.4l-1.9 -0.6M161.6 153.5l1 -1.7M166.5 153.5l2 -0.4M171.4 153.5l2 0M176.2 153.5l1.9 -0.7M156.7 158.5l-0.4 -2M161.6 158.5l-1.1 -1.7M166.5 158.5l-1.1 -1.7M171.4 158.5l-0.6 -1.9M190.9 158.5l0.1 -2M195.8 158.5l0.7 -1.9M200.7 158.5l1.4 -1.4M205.6 158.5l0.9 -1.8M190.9 163.6l-2 0.3M195.8 163.6l-2 0.3M200.7 163.6l-1.8 -0.8M225.2 168.7l2 -0.3M230 168.7l2 -0.3M318.1 168.7l0.6 -1.9M205.6 173.7l1.5 -1.3M210.5 173.7l1.8 -0.8M215.4 173.7l1.9 -0.6M220.3 173.7l2 -0.4M225.2 173.7l2 -0.1M313.2 173.7l1.2 -1.6M200.7 178.8l1.5 -1.3M205.6 178.8l1.7 -1M210.5 178.8l1.8 -0.8M215.4 178.8l1.9 -0.5M308.3 178.8l1.7 -1M313.2 178.8l1.4 -1.5M190.9 183.9l1.1 -1.7M195.8 183.9l1.4 -1.4M200.7 183.9l1.5 -1.3M205.6 183.9l1.6 -1.2M210.5 183.9l1.9 -0.7M234.9 183.9l-1.3 1.5M239.8 183.9l-1.8 0.9M244.7 183.9l-1.8 0.8M298.5 183.9l1.7 1.1M303.4 183.9l2 0M308.3 183.9l1.9 -0.5M186 188.9l1.1 -1.6M190.9 188.9l1.2 -1.6M195.8 188.9l1.1 -1.7M200.7 188.9l1.3 -1.5M205.6 188.9l1.7 -1M230 188.9l-1.2 1.6M234.9 188.9l-1.6 1.2M239.8 188.9l-1.7 1.1M293.6 188.9l0.9 1.8M298.5 188.9l1.6 1.1M303.4 188.9l1.8 0.8M308.3 188.9l1.8 0.8M181.1 194l1.1 -1.7M186 194l0.8 -1.8M190.9 194l0.6 -1.9M195.8 194l0.8 -1.8M200.7 194l1.5 -1.3M230 194l-1.1 1.7M234.9 194l-1.1 1.7M244.7 194l-1.4 1.5M249.6 194l-1.9 0.6M254.5 194l-1.5 -1.4M259.4 194l-0.3 -2M264.3 194l0 -2M269.2 194l-0.5 -1.9M274.1 194l-1.6 -1.2M278.9 194l-2 0.4M288.7 194l-0 2M293.6 194l0.7 1.9M298.5 194l1 1.7M303.4 194l1 1.7M308.3 194l0.9 1.8M171.4 199.1l1.4 -1.5M176.2 199.1l0.9 -1.8M181.1 199.1l0.3 -2M186 199.1l-0.1 -2M190.9 199.1l0.2 -2M195.8 199.1l1.2 -1.6M239.8 199.1l-0.8 1.8M244.7 199.1l-1.5 1.3M249.6 199.1l1.4 -1.5M264.3 199.1l1.1 -1.7M269.2 199.1l-0.7 -1.9M274.1 199.1l-2 -0.1M278.9 199.1l-1.5 1.3M283.8 199.1l-0.8 1.8M288.7 199.1l-0.3 2M293.6 199.1l-0.2 2M298.5 199.1l-0.1 2M303.4 199.1l0.1 2M166.5 204.2l1.4 -1.5M171.4 204.2l0.6 -1.9M176.2 204.2l-0.3 -2M181.1 204.2l-0.7 -1.9M186 204.2l-0.4 -2M190.9 204.2l0.7 -1.9M195.8 204.2l1.9 -0.8M239.8 204.2l1.7 1M264.3 204.2l1 -1.8M269.2 204.2l-2 -0.3M274.1 204.2l-1.6 1.2M278.9 204.2l-1.2 1.6M283.8 204.2l-1.1 1.7M288.7 204.2l-1.1 1.7M293.6 204.2l-1 1.7M298.5 204.2l-0.6 1.9M303.4 204.2l0.4 2M161.6 209.2l1.2 -1.6M166.5 209.2l0.1 -2M171.4 209.2l-0.8 -1.8M176.2 209.2l-1.2 -1.6M181.1 209.2l-0.9 -1.8M186 209.2l0.2 -2M190.9 209.2l1.6 -1.3M234.9 209.2l1.4 1.4M259.4 209.2l2 -0.4M264.3 209.2l-0 2M269.2 209.2l-1.1 1.7M274.1 209.2l-1.3 1.6M278.9 209.2l-1.5 1.4M283.8 209.2l-1.6 1.2M288.7 209.2l-1.5 1.4M293.6 209.2l-0.9 1.8M298.5 209.2l0.4 2M151.8 214.3l1.9 -0.6M156.7 214.3l1 -1.7M161.6 214.3l-0.4 -2M166.5 214.3l-1.3 -1.5M171.4 214.3l-1.5 -1.3M176.2 214.3l-1.2 -1.6M181.1 214.3l-0.3 -2M186 214.3l1 -1.7M230 214.3l0.5 1.9M254.5 214.3l1.9 0.8M259.4 214.3l1.2 1.6M264.3 214.3l0.5 1.9M269.2 214.3l-0.2 2M274.1 214.3l-1.2 1.6M278.9 214.3l-1.7 1.1M283.8 214.3l-1.5 1.3M288.7 214.3l-0.7 1.9M151.8 219.4l0.6 -1.9M156.7 219.4l-0.8 -1.8M161.6 219.4l-1.6 -1.2M166.5 219.4l-1.7 -1M171.4 219.4l-1.5 -1.4M176.2 219.4l-0.7 -1.9M230 219.4l1.5 1.3M264.3 219.4l1.2 1.6M269.2 219.4l1.1 1.7M274.1 219.4l-0.3 2M278.9 219.4l-0.9 1.8M283.8 219.4l-0.2 2M151.8 224.4l-1.2 -1.6M156.7 224.4l-1.7 -1M161.6 224.4l-1.8 -0.8M166.5 224.4l-1.6 -1.2M171.4 224.4l-1.1 -1.7M264.3 224.4l1.6 1.2M269.2 224.4l1.3 1.5M274.1 224.4l0.4 2M151.8 229.5l-1.8 -0.9M156.7 229.5l-1.8 -0.8M161.6 229.5l-1.7 -1.1M166.5 229.5l-1.4 -1.4M151.8 234.6l-1.8 -0.9M156.7 234.6l-1.7 -1.1M151.8 239.6l-1.6 -1.1M303.4 244.7l-1.9 -0.6M298.5 249.8l-1.5 -1.3M303.4 249.8l2 0.4M308.3 249.8l2 0.2M293.6 254.9l-0.2 -2M298.5 254.9l2 -0.3M303.4 254.9l1.9 -0.7M308.3 254.9l1.7 -1M161.6 259.9l-1.1 1.7M166.5 259.9l-1.9 0.7M171.4 259.9l-1.9 -0.7M176.2 259.9l-1.5 -1.3M181.1 259.9l-1.3 -1.5M186 259.9l-1.1 -1.7M190.9 259.9l-0.6 -1.9M195.8 259.9l0.2 -2M288.7 259.9l-0.2 -2M293.6 259.9l1.5 -1.4M298.5 259.9l1.5 -1.4M303.4 259.9l1.3 -1.5M308.3 259.9l1.2 -1.6M313.2 259.9l1.5 -1.4M151.8 265l-1.6 1.2M156.7 265l-2 0.3M161.6 265l-1.8 -0.8M166.5 265l-1.5 -1.4M171.4 265l-1.3 -1.5M176.2 265l-1.4 -1.4M181.1 265l-1.2 -1.6M186 265l0 -2M190.9 265l0.6 -1.9M283.8 265l-0.1 -2M288.7 265l0.3 -2M293.6 265l0.6 -1.9M166.5 270.1l-1.2 -1.6M171.4 270.1l-1.6 -1.2M176.2 270.1l-1.9 -0.8M181.1 270.1l-0.3 -2M186 270.1l0.4 -2M166.5 275.1l-1.7 -1.1M171.4 275.1l-1.9 -0.6M176.2 275.1l-1.5 -1.3M181.1 275.1l-0.3 -2M298.5 275.1l0.5 -1.9M303.4 275.1l1.5 -1.3M318.1 275.1l2 0.2" stroke="#5c90c2" stroke-width="0.8" stroke-opacity="0.6" fill="none"/><path d="M156.7 77.4l1.6 1.1M161.6 77.4l1.7 1.1M166.5 77.4l2 0.8M205.6 77.4l-2.3 0.2M210.5 77.4l-1.9 -0.5M215.4 77.4l-1.9 -0.6M220.3 77.4l-1.9 -0.5M269.2 77.4l-0.1 2M151.8 82.5l1 1.7M156.7 82.5l1.4 1.5M161.6 82.5l2 1M200.7 82.5l-1.9 1M205.6 82.5l-1.9 0.6M210.5 82.5l-1.9 0.5M244.7 82.5l0.3 -2M249.6 82.5l-0.2 -2M269.2 82.5l0.8 1.9M151.8 87.5l1.2 1.7M195.8 87.5l-1.1 1.7M200.7 87.5l-1.2 1.6M205.6 87.5l-1.1 1.7M239.8 87.5l0.3 -2M244.7 87.5l-0.2 -2M264.3 87.5l0.7 1.9M269.2 87.5l1 1.7M186 92.6l0.3 2.3M190.9 92.6l0.2 2M195.8 92.6l0.3 2M200.7 92.6l0.4 2M269.2 92.6l1.3 1.5M181.1 97.7l1.4 1.8M186 97.7l1.4 1.4M190.9 97.7l1.6 1.2M195.8 97.7l1.7 1.1M181.1 102.8l2.1 0.2M186 102.8l2 -0.2M190.9 102.8l2 -0.2M195.8 102.8l2 0.3M239.8 102.8l1.3 1.6M244.7 102.8l1.3 1.5M259.4 102.8l1.6 1.2M322.9 102.8l1.7 1.5M176.2 107.8l2.1 -1.1M181.1 107.8l1.6 -1.2M186 107.8l1.6 -1.1M190.9 107.8l1.9 -0.6M195.8 107.8l2 0.2M200.7 107.8l1.7 1M220.3 107.8l1.3 1.5M244.7 107.8l1.2 1.6M249.6 107.8l1.2 1.6M332.7 107.8l1.9 1.1M171.4 112.9l1.5 -1.8M176.2 112.9l1.1 -1.6M181.1 112.9l1.3 -1.5M186 112.9l1.8 -1.1M303.4 112.9l1.7 -1.1M166.5 118l1.1 -1.7M171.4 118l1.1 -1.7M176.2 118l1.4 -1.5M298.5 118l1.9 -0.7M327.8 118l1.7 -1M161.6 123l1.3 -1.6M166.5 123l1.4 -1.4M171.4 123l1.6 -1.2M293.6 123l2 0M298.5 123l1.9 0.7M322.9 123l1.3 -1.6M327.8 123l1.3 -1.6M332.7 123l1.2 -1.6M156.7 128.1l1.4 -1.4M161.6 128.1l1.6 -1.2M298.5 128.1l1.8 1M151.8 133.2l1.5 -1.4M156.7 133.2l1.7 -1.2M186 133.2l2 -0.4M190.9 133.2l2 -0.1M195.8 133.2l2 -0.2M200.7 133.2l2 -1M293.6 133.2l2.1 0.7M298.5 133.2l2 0.3M171.4 138.2l1.9 -1M176.2 138.2l1.9 -0.5M181.1 138.2l2 0.3M186 138.2l1.9 0.7M190.9 138.2l1.9 0.6M283.8 138.2l2 0.1M288.7 138.2l2 -0.1M293.6 138.2l1.9 -0.5M298.5 138.2l1.8 -0.9M166.5 143.3l1.6 -1.1M176.2 143.3l1.9 0.5M181.1 143.3l2.1 0.8M186 143.3l1.9 0.6M190.9 143.3l2 -0.3M274.1 143.3l1.9 -0.7M278.9 143.3l1.8 -0.8M283.8 143.3l1.8 -1M293.6 143.3l1.8 -1.5M298.5 143.3l1.2 -1.6M161.6 148.4l1.4 -1.4M171.4 148.4l2 0.4M176.2 148.4l1.9 0.5M181.1 148.4l2 0.2M186 148.4l1.9 -0.6M269.2 148.4l1.9 -1.3M293.6 148.4l1 -2M322.9 148.4l-1.1 -1.7M156.7 153.5l0.9 -1.8M181.1 153.5l1.5 -1.3M205.6 153.5l1.9 -1.2M293.6 153.5l-0.1 -2.2M298.5 153.5l-1.3 -1.5M303.4 153.5l-1.8 -0.9M308.3 153.5l-1.8 -1M313.2 153.5l-1.3 -1.5M318.1 153.5l-0.5 -1.9M322.9 153.5l0.2 -2M151.8 158.5l0.6 -1.9M176.2 158.5l-0.1 -2M181.1 158.5l0.1 -2M186 158.5l0.1 -2M210.5 158.5l0.9 -1.8M313.2 158.5l0.4 -2.3M318.1 158.5l0.7 -1.9M151.8 163.6l-0 -2M156.7 163.6l-0.6 -1.9M161.6 163.6l-0.7 -1.9M166.5 163.6l-0.7 -2.2M176.2 163.6l-1 -2.1M181.1 163.6l-1.4 -1.4M186 163.6l-1.9 -0.6M205.6 163.6l-0.6 -1.9M210.5 163.6l0.9 -2.1M225.2 163.6l2.3 -0.4M230 163.6l2 -0.3M234.9 163.6l2 -0.4M239.8 163.6l2 -0.4M244.7 163.6l2 -0.2M249.6 163.6l2 0.3M254.5 163.6l1.7 1M259.4 163.6l1.3 1.5M264.3 163.6l1.2 1.9M308.3 163.6l1.6 -1.7M313.2 163.6l1.3 -1.5M318.1 163.6l0.9 -1.8M151.8 168.7l0.8 -1.9M186 168.7l-2.3 0.3M190.9 168.7l-2 0.1M195.8 168.7l-1.9 -0.7M200.7 168.7l-1 -1.8M205.6 168.7l0.5 -1.9M210.5 168.7l1.5 -1.4M215.4 168.7l1.9 -0.7M220.3 168.7l2 -0.4M234.9 168.7l2 0M239.8 168.7l1.9 0.6M244.7 168.7l1.4 1.4M249.6 168.7l0.6 1.9M254.5 168.7l-0.1 2M259.4 168.7l-0.4 2.1M303.4 168.7l2.2 -0.3M308.3 168.7l1.9 -0.7M313.2 168.7l1.4 -1.4M186 173.7l-2.3 -0.4M190.9 173.7l-1.6 -1.1M195.8 173.7l-0.7 -1.9M200.7 173.7l0.6 -1.9M230 173.7l1.9 0.5M234.9 173.7l1.5 1.3M239.8 173.7l0.6 1.9M244.7 173.7l-0.5 1.9M249.6 173.7l-1.2 1.6M254.5 173.7l-1.4 1.6M293.6 173.7l1.6 1.8M298.5 173.7l1.7 1.2M303.4 173.7l2 0.3M308.3 173.7l1.8 -0.8M181.1 178.8l-1.9 -1.2M186 178.8l-1.1 -1.6M190.9 178.8l-0.1 -2M195.8 178.8l0.9 -1.8M220.3 178.8l2 0.1M225.2 178.8l1.8 0.9M230 178.8l1.1 1.7M234.9 178.8l-0 2M239.8 178.8l-1.1 1.7M244.7 178.8l-1.7 1.1M249.6 178.8l-1.7 1M254.5 178.8l-1.7 1.6M288.7 178.8l-0.4 2.2M293.6 178.8l0.5 1.9M298.5 178.8l1.5 1.4M303.4 178.8l2 0.1M176.2 183.9l-1.1 -1.8M181.1 183.9l-0.4 -2M186 183.9l0.5 -1.9M215.4 183.9l2 0.1M220.3 183.9l1.7 1.1M225.2 183.9l0.9 2.2M230 183.9l-0.3 2M249.6 183.9l-1.7 1.1M278.9 183.9l-2.1 0.8M283.8 183.9l-1.7 1.2M288.7 183.9l-0.8 1.8M293.6 183.9l0.5 1.9M166.5 188.9l-0.4 -2.3M171.4 188.9l-0.1 -2M176.2 188.9l0.4 -2M181.1 188.9l0.9 -1.8M210.5 188.9l2 0.1M215.4 188.9l1.8 1.4M225.2 188.9l-0.4 2M244.7 188.9l-1.6 1.2M249.6 188.9l-1.6 1.3M254.5 188.9l-1.7 1M259.4 188.9l-2 0.3M264.3 188.9l-1.9 -0.5M269.2 188.9l-1.7 -1M274.1 188.9l-1.8 -0.9M278.9 188.9l-2 -0.1M283.8 188.9l-1.6 1.1M288.7 188.9l-0.4 2M161.6 194l0.9 -2.1M166.5 194l0.9 -1.8M171.4 194l1.1 -1.7M176.2 194l1.2 -1.6M205.6 194l2 -0.1M210.5 194l1.8 1.4M220.3 194l-0.4 2.2M225.2 194l-0.9 1.8M239.8 194l-1.1 1.7M283.8 194l-1.2 1.6M156.7 199.1l1.7 -1.3M161.6 199.1l1.6 -1.2M166.5 199.1l1.6 -1.2M200.7 199.1l2 -0.3M205.6 199.1l1.8 1.2M234.9 199.1l-0.5 2M254.5 199.1l1.6 -1.2M259.4 199.1l1.6 -1.2M151.8 204.2l2 -0.2M156.7 204.2l1.9 -0.5M161.6 204.2l1.8 -0.9M200.7 204.2l1.9 0.8M234.9 204.2l-0.3 2M244.7 204.2l1.9 -0.5M259.4 204.2l1.8 -0.8M151.8 209.2l2 0.1M156.7 209.2l1.9 -0.7M195.8 209.2l2 0.1M239.8 209.2l2.2 -0.2M254.5 209.2l2.2 -0.2M190.9 214.3l1.9 -0.7M195.8 214.3l2.3 0.2M234.9 214.3l2 0.2M249.6 214.3l2.3 0.3M293.6 214.3l0.7 1.9M298.5 214.3l1.8 0.8M181.1 219.4l0.3 -2M186 219.4l1.2 -1.6M190.9 219.4l1.6 -1.2M225.2 219.4l-0.1 2M234.9 219.4l1.9 0.5M239.8 219.4l2.2 0.7M244.7 219.4l1.9 1.1M249.6 219.4l1.5 1.4M254.5 219.4l1.3 1.5M259.4 219.4l1.2 1.6M288.7 219.4l1.1 1.7M176.2 224.4l-0.5 -1.9M181.1 224.4l-0 -2M186 224.4l0.2 -2M190.9 224.4l0.3 -2.1M225.2 224.4l0.2 2M230 224.4l0.9 1.8M234.9 224.4l1.3 1.8M259.4 224.4l1.5 1.3M278.9 224.4l0.6 1.9M171.4 229.5l-1.2 -1.6M176.2 229.5l-1.2 -1.6M181.1 229.5l-1.3 -1.5M186 229.5l-1.6 -1.5M190.9 229.5l-1.4 -1.8M195.8 229.5l-0.3 -2.4M259.4 229.5l1.9 1.3M264.3 229.5l1.5 1.3M269.2 229.5l1.1 1.8M161.6 234.6l-1.6 -1.2M166.5 234.6l-1.7 -1M171.4 234.6l-1.9 -0.7M176.2 234.6l-2.1 -0.2M156.7 239.6l-1.8 -0.9M161.6 239.6l-2 -0.4M166.5 239.6l-2 0.4M171.4 239.6l-1.9 1.2M151.8 244.7l-1.8 -0.9M156.7 244.7l-2 0.1M161.6 244.7l-1.7 1.1M166.5 244.7l-1.2 1.9M298.5 244.7l-0.9 -1.9M151.8 249.8l-2 0.4M156.7 249.8l-1.3 1.5M161.6 249.8l-0.5 2.2M176.2 249.8l-1.9 1.2M181.1 249.8l-2.1 -0.5M186 249.8l-1.4 -1.8M195.8 249.8l0.3 -2.3M200.7 249.8l0.7 -2M205.6 249.8l1.2 -1.7M234.9 249.8l1.4 1.8M293.6 249.8l-0.9 -1.8M151.8 254.9l-1 1.7M156.7 254.9l-0.2 2M161.6 254.9l-0 2.2M166.5 254.9l-0.6 1.9M171.4 254.9l-1.6 1.2M176.2 254.9l-2 -0.3M181.1 254.9l-1.5 -1.3M186 254.9l-1 -1.7M190.9 254.9l-0.7 -1.9M195.8 254.9l-0.3 -2M200.7 254.9l0.3 -2M205.6 254.9l1.2 -1.8M288.7 254.9l-0.8 -1.8M151.8 259.9l-0.4 2M156.7 259.9l-0.4 2M200.7 259.9l1 -1.9M283.8 259.9l-0.4 -2M195.8 265l1 -1.8M298.5 265l0.8 -1.8M303.4 265l1 -1.7M308.3 265l1.4 -1.5M313.2 265l1.7 -1M151.8 270.1l-1.3 -1.5M156.7 270.1l-1 -1.7M161.6 270.1l-1 -1.8M190.9 270.1l0.9 -1.8M283.8 270.1l0.2 -2.2M288.7 270.1l0.3 -2.3M293.6 270.1l0.5 -2.3M298.5 270.1l0.6 -1.9M303.4 270.1l1.1 -1.6M308.3 270.1l1.7 -1.1M313.2 270.1l2.2 -0.9M156.7 275.1l-0.6 -2.3M161.6 275.1l-1.1 -1.7M186 275.1l0.7 -1.9M293.6 275.1l0.2 -2M308.3 275.1l1.9 -0.8M313.2 275.1l2 -0.4" stroke="#74add1" stroke-width="0.8" stroke-opacity="0.6" fill="none"/><path d="M163.2 83.2l0.5 0.2M182.3 99.1l0.3 0.4M324.3 103.9l0.4 0.3M177.9 106.9l0.5 -0.2M334.2 108.7l0.4 0.3M172.6 111.5l0.3 -0.4M295 142.1l0.4 -0.3M270.6 147.4l0.4 -0.3M294.4 146.8l0.2 -0.4M207.1 152.5l0.4 -0.3M175.4 161.9l-0.2 -0.5M265.2 165.1l0.3 0.4M309.5 162.3l0.4 -0.4M294.8 175.1l0.3 0.4M179.6 177.9l-0.4 -0.3M253.1 180l-0.4 0.3M225.9 185.6l0.2 0.5M216.8 190l0.4 0.3M211.9 195.1l0.4 0.3M207 200l0.4 0.3M246.2 220.2l0.4 0.2M236 225.8l0.3 0.4M184.8 228.3l-0.3 -0.3M189.9 228.1l-0.3 -0.4M260.9 230.5l0.4 0.3M169.8 240.6l-0.4 0.3M165.5 246.2l-0.3 0.4M174.8 250.7l-0.4 0.3M185 248.3l-0.3 -0.4M236 251.2l0.3 0.4M206.5 253.4l0.3 -0.4M314.9 269.4l0.5 -0.2" stroke="#74add1" stroke-width="1.4" stroke-opacity="0.65" fill="none"/><path d="M171.4 77.4l2.5 0.2M176.2 77.4l2.7 -0.3M181.1 77.4l2.9 -0.2M186 77.4l2.9 0.8M190.9 77.4l1.8 2.3M195.8 77.4l-0.4 2.8M200.7 77.4l-2 1.6M274.1 77.4l1.5 2M278.9 77.4l2.9 1.8M166.5 82.5l2.6 0.2M171.4 82.5l2.8 -0.5M176.2 82.5l2.9 -0.4M181.1 82.5l2.9 0.8M186 82.5l1.8 2.3M190.9 82.5l-0.1 2.8M195.8 82.5l-1.6 1.9M274.1 82.5l1.9 2.3M156.7 87.5l2.1 1.1M161.6 87.5l2.7 0M166.5 87.5l2.8 -0.6M171.4 87.5l3 -0.4M176.2 87.5l2.9 0.8M181.1 87.5l1.9 2.2M186 87.5l0.3 2.7M190.9 87.5l-0.8 2.3M274.1 87.5l1.6 2.2M151.8 92.6l2.3 1M156.7 92.6l2.8 -0.1M161.6 92.6l2.9 -0.7M166.5 92.6l3 -0.3M171.4 92.6l2.9 0.8M176.2 92.6l2.1 2M181.1 92.6l1 2.5M274.1 92.6l2.2 1.9M151.8 97.7l2.9 -0.2M156.7 97.7l3 -0.6M161.6 97.7l3.1 -0.2M166.5 97.7l2.9 0.9M171.4 97.7l2.3 1.7M176.2 97.7l1.7 2M269.2 97.7l2.5 1.5M151.8 102.8l3.2 -0.5M156.7 102.8l3.2 0.1M161.6 102.8l3 0.9M166.5 102.8l2.6 1.3M171.4 102.8l2.4 1.3M176.2 102.8l2.3 0.8M264.3 102.8l3.1 1.6M313.2 102.8l3.5 0.3M318.1 102.8l2.5 0.9M327.8 102.8l1.5 2.1M332.7 102.8l2.1 2.9M151.8 107.8l3.5 0.4M156.7 107.8l3.3 0.8M161.6 107.8l3.1 0.8M166.5 107.8l3 0.3M171.4 107.8l2.7 -0.5M225.2 107.8l1.9 1.5M230 107.8l2.5 1.7M234.9 107.8l2.5 2M239.8 107.8l2 2M254.5 107.8l1.8 1.6M308.3 107.8l2.2 -1M161.6 112.9l3.5 -0.8M166.5 112.9l2.6 -1.7M190.9 112.9l2.4 -0.6M195.8 112.9l2.7 0.1M200.7 112.9l2.6 0.6M205.6 112.9l2.7 0.9M210.5 112.9l3.2 0.9M244.7 112.9l2.3 2.6M298.5 112.9l3.1 -1.9M161.6 118l2.3 -2.2M181.1 118l2.1 -1.4M186 118l3.1 -1.3M293.6 118l3 -1.4M337.6 118l3.2 -0.2M156.7 123l2.1 -2.2M176.2 123l2.6 -1.5M288.7 123l3.5 -0.8M151.8 128.1l2 -2M166.5 128.1l2.1 -1.3M171.4 128.1l3 -1.5M190.9 128.1l3.1 -1.6M195.8 128.1l2.6 -1.3M200.7 128.1l2.5 -1.4M288.7 128.1l3 0.5M293.6 128.1l2.5 1M161.6 133.2l2.3 -1.4M166.5 133.2l2.9 -1.5M171.4 133.2l3.2 -1.5M176.2 133.2l3 -1.4M181.1 133.2l2.5 -1M283.8 133.2l3.3 0.5M288.7 133.2l2.7 0.9M151.8 138.2l1.9 -1.5M156.7 138.2l2.4 -1.5M161.6 138.2l2.7 -1.6M166.5 138.2l2.5 -1.5M200.7 138.2l2.2 -1.8M274.1 138.2l3.5 -0.5M278.9 138.2l2.6 -0M151.8 143.3l2.7 -1.6M156.7 143.3l2.6 -1.7M161.6 143.3l2.1 -1.6M195.8 143.3l2 -1.6M269.2 143.3l2.5 -0.9M288.7 143.3l2.1 -1.3M151.8 148.4l2.8 -1.7M156.7 148.4l2.1 -1.9M190.9 148.4l2.6 -2M259.4 148.4l2.9 -1.3M264.3 148.4l2.1 -1.3M274.1 148.4l2.1 -1.5M278.9 148.4l2.6 -1.7M283.8 148.4l2.8 -1.9M288.7 148.4l2.4 -2.1M151.8 153.5l1.9 -1.8M186 153.5l1.8 -2M190.9 153.5l2.3 -2.5M195.8 153.5l2.3 -2.2M200.7 153.5l2 -1.6M210.5 153.5l2 -1.5M249.6 153.5l3.4 -1.2M254.5 153.5l2.6 -1.3M259.4 153.5l2.3 -1.3M264.3 153.5l2.4 -1.3M269.2 153.5l2.8 -1.1M274.1 153.5l3.2 -0.9M278.9 153.5l3.4 -1.1M283.8 153.5l3 -1.8M288.7 153.5l1.7 -2.5M239.8 158.5l3.1 -0.7M244.7 158.5l2.6 -0.8M249.6 158.5l2.3 -0.9M254.5 158.5l2.3 -0.7M259.4 158.5l2.5 -0.2M264.3 158.5l2.6 0.4M269.2 158.5l2.7 0.8M274.1 158.5l3 0.6M278.9 158.5l3.3 -0.4M283.8 158.5l2.6 -1.9M288.7 158.5l0.9 -2.8M293.6 158.5l-0.5 -2.6M298.5 158.5l-1.1 -2.3M303.4 158.5l-0.9 -2.4M308.3 158.5l-0.2 -2.4M171.4 163.6l-0.7 -2.4M215.4 163.6l2.2 -1.8M220.3 163.6l2.5 -0.9M269.2 163.6l1.7 2M274.1 163.6l2.6 1.3M278.9 163.6l3.1 -0.4M283.8 163.6l2.4 -2M288.7 163.6l1.4 -2.7M293.6 163.6l1 -2.8M298.5 163.6l1.2 -2.5M303.4 163.6l1.6 -2.1M156.7 168.7l0.7 -2.3M161.6 168.7l0.6 -2.7M166.5 168.7l0.1 -2.9M171.4 168.7l-1 -2.7M176.2 168.7l-2.1 -1.8M181.1 168.7l-2.5 -0.5M264.3 168.7l0.1 2.5M269.2 168.7l1.4 2.5M274.1 168.7l2.7 1.5M278.9 168.7l3.1 0.1M283.8 168.7l3 -0.7M288.7 168.7l2.9 -0.8M293.6 168.7l2.7 -0.5M298.5 168.7l2.5 -0.2M151.8 173.7l2.3 -0.8M156.7 173.7l2.3 -1.5M161.6 173.7l1.6 -2.5M166.5 173.7l-0 -3M171.4 173.7l-1.8 -2.3M176.2 173.7l-2.6 -1M181.1 173.7l-2.6 -0.2M259.4 173.7l-1.2 2.3M264.3 173.7l-0.2 3M269.2 173.7l1.2 2.9M274.1 173.7l2.1 2.4M278.9 173.7l2.3 2M283.8 173.7l2.1 2M288.7 173.7l1.8 2M151.8 178.8l2.7 0.6M156.7 178.8l2.7 -1.1M161.6 178.8l1.2 -2.7M166.5 178.8l-1 -2.8M171.4 178.8l-2.2 -1.7M176.2 178.8l-2.3 -1.1M259.4 178.8l-1.4 2.6M264.3 178.8l-0.6 3.2M269.2 178.8l-0.2 3.3M274.1 178.8l-0.3 3.1M278.9 178.8l-0.6 2.8M283.8 178.8l-0.7 2.5M151.8 183.9l2.9 0.5M156.7 183.9l2.3 -1.9M161.6 183.9l0.2 -2.9M166.5 183.9l-1.3 -2.4M171.4 183.9l-1.6 -1.9M254.5 183.9l-1.7 1.8M259.4 183.9l-1.8 2.2M264.3 183.9l-1.9 2.1M269.2 183.9l-2.2 1.5M274.1 183.9l-2.3 1M151.8 188.9l2.9 -0.7M156.7 188.9l1.4 -2.5M161.6 188.9l-0 -2.6M220.3 188.9l0.8 2.4M151.8 194l2.3 -1.6M156.7 194l1.3 -2.2M215.4 194l0.8 2.6M151.8 199.1l2.2 -1.2M210.5 199.1l1.1 2.6M215.4 199.1l-0 2.8M220.3 199.1l-0.5 2.4M225.2 199.1l-0.6 2.3M230 199.1l-0.6 2.4M205.6 204.2l1.6 2.3M210.5 204.2l0.8 3.2M230 204.2l-0.3 3.5M249.6 204.2l3.3 -0.6M254.5 204.2l3.1 -0.6M200.7 209.2l2.2 1.5M205.6 209.2l2.1 2.8M230 209.2l-0.2 2.5M200.7 214.3l3 1M239.8 214.3l3.5 0.1M244.7 214.3l3.6 0.3M195.8 219.4l2.3 -1.1M200.7 219.4l3.1 -0.8M293.6 219.4l2.4 0.7M195.8 224.4l0.8 -2.3M200.7 224.4l2.1 -2.1M239.8 224.4l1.9 2.5M249.6 224.4l2.2 2.6M254.5 224.4l1.9 1.9M283.8 224.4l2.3 2.2M288.7 224.4l3.6 0.6M293.6 224.4l3.3 -1.3M200.7 229.5l2.1 -2.3M254.5 229.5l2.5 1.8M181.1 234.6l-2.4 0.1M186 234.6l-2.5 -0.3M190.9 234.6l-1.9 -1.5M195.8 234.6l-0 -2.6M200.7 234.6l2.9 -1.8M249.6 234.6l2.8 2.3M254.5 234.6l2.5 1.9M259.4 234.6l2.1 2.1M176.2 239.6l-1.9 1.6M181.1 239.6l-2.3 1.3M186 239.6l-2.6 -0.1M190.9 239.6l-1.5 -2M195.8 239.6l0.9 -2.6M200.7 239.6l3.1 -1.4M244.7 239.6l2.4 2.3M249.6 239.6l2.3 2.2M171.4 244.7l-1 2.3M176.2 244.7l-1.6 2.1M181.1 244.7l-2.4 0.9M186 244.7l-2.2 -1.2M190.9 244.7l-0.6 -2.5M195.8 244.7l1.2 -2.5M200.7 244.7l2.2 -1.9M205.6 244.7l2.8 -1.2M210.5 244.7l3.1 -0.6M215.4 244.7l3.6 0.2M234.9 244.7l1.9 2.6M239.8 244.7l1.6 2.1M244.7 244.7l1.8 2.3M166.5 249.8l-0.3 2.5M171.4 249.8l-0.9 2.2M190.9 249.8l-0.4 -2.4M210.5 249.8l2.1 -1.3M215.4 249.8l3.1 -0.4M220.3 249.8l3.4 1.1M225.2 249.8l2.6 2M230 249.8l1.7 2M239.8 249.8l1.6 2.1M210.5 254.9l2.7 -1.5M215.4 254.9l3.5 -0.2M220.3 254.9l3 1M225.2 254.9l2.2 1.4M230 254.9l1.9 1.5M234.9 254.9l2.3 1.8M205.6 259.9l2.8 -2.3M220.3 259.9l3.4 0.8M225.2 259.9l3.3 1M278.9 265l0.2 -2.7M195.8 270.1l2.6 -2.5M278.9 270.1l0.4 -2.7M151.8 275.1l-0.2 -3M190.9 275.1l1.9 -2M195.8 275.1l2.9 -1.7M200.7 275.1l3.4 -1.2M234.9 275.1l2.5 2.1M239.8 275.1l1.4 2.1M244.7 275.1l1.5 2.2M278.9 275.1l1.2 -3.2M283.8 275.1l0.9 -3.1M288.7 275.1l0.5 -2.8" stroke="#90c3dd" stroke-width="0.8" stroke-opacity="0.6" fill="none"/><path d="M178.4 77.2l0.6 -0.1M183.4 77.2l0.6 -0.1M188.3 78l0.6 0.2M192.4 79.2l0.4 0.5M195.5 79.6l-0.1 0.6M199.1 78.7l-0.4 0.4M275.2 79l0.3 0.4M281.2 78.8l0.6 0.4M173.5 82.1l0.6 -0.1M178.5 82.2l0.6 -0.1M183.4 83.1l0.6 0.2M187.5 84.3l0.4 0.5M194.6 84l-0.3 0.4M275.5 84.3l0.4 0.5M158.4 88.4l0.5 0.2M168.7 87.1l0.6 -0.1M173.7 87.2l0.7 -0.1M178.5 88.2l0.6 0.2M182.6 89.3l0.4 0.5M190.3 89.3l-0.2 0.5M275.3 89.2l0.3 0.5M153.6 93.4l0.5 0.2M163.8 92.1l0.6 -0.1M168.8 92.4l0.7 -0.1M173.6 93.3l0.6 0.2M177.9 94.2l0.5 0.4M181.9 94.5l0.2 0.5M275.8 94.1l0.5 0.4M154 97.5l0.6 -0.1M159 97.2l0.7 -0.1M164 97.6l0.7 -0M168.7 98.3l0.6 0.2M173.2 99l0.5 0.4M177.6 99.2l0.4 0.4M271.1 98.8l0.5 0.3M154.3 102.4l0.7 -0.1M159.2 102.8l0.7 0M163.9 103.4l0.7 0.2M168.5 103.8l0.6 0.3M173.2 103.7l0.5 0.3M178 103.3l0.5 0.2M266.7 104l0.7 0.4M315.9 103l0.8 0.1M320 103.5l0.5 0.2M329 104.4l0.3 0.5M334.3 105l0.5 0.6M154.5 108.1l0.8 0.1M159.3 108.5l0.7 0.2M164 108.5l0.7 0.2M168.8 108l0.7 0.1M173.5 107.4l0.6 -0.1M226.6 109l0.4 0.3M232 109.2l0.5 0.4M236.9 109.4l0.6 0.4M241.4 109.4l0.4 0.4M255.9 109.1l0.4 0.4M310 107.1l0.5 -0.2M164.3 112.3l0.8 -0.2M168.5 111.6l0.6 -0.4M192.8 112.4l0.5 -0.1M202.7 113.4l0.6 0.1M207.7 113.6l0.6 0.2M212.9 113.6l0.7 0.2M246.5 114.9l0.5 0.6M300.9 111.4l0.7 -0.4M163.4 116.3l0.5 -0.5M182.8 116.8l0.5 -0.3M188.4 117l0.7 -0.3M295.9 116.9l0.7 -0.3M340.1 117.8l0.7 -0M158.3 121.3l0.5 -0.5M178.3 121.8l0.6 -0.3M291.4 122.4l0.8 -0.2M153.4 126.5l0.4 -0.4M168.1 127.1l0.5 -0.3M173.7 126.9l0.7 -0.3M193.4 126.9l0.7 -0.3M197.8 127.1l0.6 -0.3M202.7 127l0.6 -0.3M291.1 128.5l0.7 0.1M295.5 128.9l0.5 0.2M163.4 132.1l0.5 -0.3M168.8 132l0.6 -0.3M173.9 132l0.7 -0.3M178.6 132.1l0.7 -0.3M183.1 132.4l0.5 -0.2M286.4 133.5l0.7 0.1M290.8 133.8l0.6 0.2M153.3 137.1l0.4 -0.3M158.5 137l0.5 -0.3M163.7 137l0.6 -0.3M168.4 137.1l0.6 -0.3M202.5 136.8l0.5 -0.4M276.8 137.8l0.8 -0.1M153.9 142.1l0.6 -0.4M158.8 142l0.6 -0.4M163.3 142.1l0.5 -0.4M197.4 142.1l0.4 -0.3M271.1 142.6l0.6 -0.2M290.3 142.3l0.5 -0.3M154 147.1l0.6 -0.4M158.3 146.9l0.5 -0.4M193 146.9l0.6 -0.4M261.7 147.3l0.6 -0.3M265.9 147.4l0.5 -0.3M275.7 147.2l0.5 -0.3M281 147.1l0.6 -0.4M286 146.9l0.6 -0.4M290.6 146.7l0.5 -0.5M153.2 152.1l0.4 -0.4M187.4 151.9l0.4 -0.4M192.7 151.5l0.5 -0.5M197.6 151.7l0.5 -0.5M202.3 152.2l0.4 -0.3M212.1 152.3l0.4 -0.3M252.2 152.5l0.7 -0.3M256.6 152.4l0.6 -0.3M261.2 152.4l0.5 -0.3M266.2 152.4l0.5 -0.3M271.4 152.6l0.6 -0.2M276.6 152.7l0.7 -0.2M281.6 152.6l0.7 -0.2M286.2 152.1l0.7 -0.4M290 151.5l0.4 -0.5M242.2 158l0.7 -0.2M246.7 157.9l0.6 -0.2M251.4 157.9l0.5 -0.2M271.3 159.1l0.6 0.2M276.4 159l0.7 0.1M281.5 158.2l0.7 -0.1M285.8 157l0.6 -0.4M289.4 156.3l0.2 -0.6M293.2 156.5l-0.1 -0.6M297.7 156.7l-0.2 -0.5M302.7 156.7l-0.2 -0.5M170.8 161.8l-0.2 -0.5M217.1 162.2l0.5 -0.4M222.2 162.9l0.6 -0.2M270.5 165.1l0.4 0.4M276.1 164.6l0.6 0.3M281.4 163.3l0.7 -0.1M285.7 162l0.5 -0.4M289.8 161.5l0.3 -0.6M294.4 161.4l0.2 -0.6M299.5 161.6l0.3 -0.6M304.6 162l0.3 -0.5M157.3 166.9l0.2 -0.5M162.1 166.6l0.1 -0.6M170.6 166.5l-0.2 -0.6M174.6 167.3l-0.5 -0.4M270.2 170.6l0.3 0.6M276.1 169.8l0.6 0.3M281.4 168.8l0.7 0M286.2 168.1l0.7 -0.2M291 168l0.6 -0.2M295.7 168.3l0.6 -0.1M153.6 173.1l0.5 -0.2M158.5 172.5l0.5 -0.3M162.8 171.8l0.3 -0.5M166.4 171.4l-0 -0.7M169.9 171.9l-0.4 -0.5M174.2 172.9l-0.6 -0.2M258.5 175.5l-0.3 0.5M264.1 176l-0 0.7M270.1 176l0.3 0.6M275.7 175.6l0.5 0.5M280.8 175.3l0.5 0.4M285.5 175.3l0.5 0.4M290.1 175.3l0.4 0.4M153.9 179.3l0.6 0.1M158.8 177.9l0.6 -0.2M162.5 176.7l0.3 -0.6M165.7 176.6l-0.2 -0.6M169.6 177.4l-0.5 -0.4M174.4 178l-0.5 -0.2M258.3 180.8l-0.3 0.6M263.8 181.3l-0.1 0.7M269 181.3l-0 0.7M273.8 181.2l-0.1 0.7M278.5 181l-0.1 0.6M283.3 180.7l-0.2 0.5M154.1 184.3l0.6 0.1M158.5 182.4l0.5 -0.4M161.7 181.6l0 -0.6M165.5 182l-0.3 -0.5M170.1 182.4l-0.3 -0.4M253.1 185.3l-0.4 0.4M258 185.6l-0.4 0.5M262.8 185.5l-0.4 0.5M267.5 185.1l-0.5 0.3M272.3 184.6l-0.5 0.2M154.1 188.4l0.6 -0.2M157.8 187l0.3 -0.5M220.9 190.8l0.2 0.5M153.6 192.8l0.5 -0.3M157.7 192.3l0.3 -0.5M216 196l0.2 0.6M153.5 198.2l0.5 -0.3M211.3 201.1l0.2 0.6M206.8 206l0.3 0.5M211.1 206.7l0.2 0.7M229.8 206.9l-0.1 0.8M252.1 203.7l0.7 -0.1M256.9 203.6l0.7 -0.1M202.4 210.4l0.5 0.3M207.2 211.4l0.5 0.6M203 215.1l0.7 0.2M242.5 214.4l0.8 0M247.5 214.5l0.8 0.1M197.6 218.5l0.5 -0.3M203.1 218.7l0.7 -0.2M295.5 219.9l0.5 0.1M196.4 222.7l0.2 -0.5M202.3 222.8l0.5 -0.5M241.3 226.4l0.4 0.6M251.3 226.5l0.5 0.6M256 225.9l0.4 0.4M285.6 226.2l0.5 0.5M291.5 224.9l0.8 0.1M296.2 223.4l0.7 -0.3M202.3 227.7l0.5 -0.5M256.4 230.9l0.5 0.4M189.4 233.4l-0.4 -0.3M203 233.2l0.6 -0.4M251.8 236.3l0.6 0.5M256.4 236l0.6 0.4M261 236.2l0.5 0.5M174.7 240.9l-0.4 0.4M179.3 240.7l-0.5 0.3M189.7 238.1l-0.3 -0.4M196.5 237.6l0.2 -0.6M203.1 238.6l0.7 -0.3M246.5 241.4l0.5 0.5M251.4 241.4l0.5 0.5M170.6 246.5l-0.2 0.5M175 246.4l-0.3 0.5M179.2 245.4l-0.5 0.2M184.3 243.8l-0.5 -0.3M190.4 242.7l-0.1 -0.6M196.7 242.7l0.3 -0.6M202.4 243.3l0.5 -0.4M207.7 243.8l0.6 -0.3M212.9 244.2l0.7 -0.1M218.2 244.8l0.8 0M236.4 246.7l0.4 0.6M241.1 246.4l0.4 0.5M246.1 246.5l0.4 0.5M170.6 251.5l-0.2 0.5M212.1 248.7l0.5 -0.3M217.8 249.5l0.7 -0.1M222.9 250.6l0.7 0.2M227.2 251.3l0.6 0.4M231.4 251.3l0.4 0.4M241.1 251.5l0.4 0.5M212.6 253.6l0.6 -0.3M218.1 254.7l0.8 -0M222.6 255.7l0.7 0.2M226.8 255.9l0.5 0.3M231.5 256l0.4 0.3M236.7 256.3l0.5 0.4M207.8 258.1l0.6 -0.5M222.9 260.5l0.8 0.2M227.7 260.7l0.7 0.2M197.8 268.1l0.6 -0.6M279.2 268l0.1 -0.6M151.6 272.8l-0.1 -0.7M192.4 273.6l0.4 -0.4M198.1 273.8l0.6 -0.4M203.3 274.2l0.7 -0.3M236.9 276.8l0.5 0.5M240.9 276.7l0.3 0.5M245.9 276.9l0.3 0.5M279.9 272.6l0.3 -0.7M284.6 272.7l0.2 -0.7M289.1 273l0.1 -0.6" stroke="#90c3dd" stroke-width="1.4" stroke-opacity="0.65" fill="none"/><path d="M283.8 77.4l3.8 1.6M308.3 77.4l4.7 1.2M313.2 77.4l3.2 2.1M318.1 77.4l2.7 3.4M278.9 82.5l2.7 2.6M283.8 82.5l3.8 2.9M278.9 87.5l2.6 2.6M298.5 92.6l4.5 -1.3M303.4 92.6l4.7 0.3M308.3 102.8l4.4 -0.5M259.4 107.8l4.1 2.1M303.4 107.8l3.6 -1.8M151.8 112.9l3.8 0.8M156.7 112.9l3.8 0.3M215.4 112.9l3.8 0.7M220.3 112.9l4.4 0.6M225.2 112.9l4.8 0.9M234.9 112.9l3.8 2.5M239.8 112.9l2.7 2.7M249.6 112.9l3.4 2.7M151.8 118l4.5 -0.3M156.7 118l3.7 -1.7M190.9 118l3.8 -0.9M195.8 118l4.2 -0.6M200.7 118l4.5 -0.8M205.6 118l4.7 -1.1M151.8 123l3.8 -2.2M181.1 123l3.6 -1.6M186 123l4.3 -1.6M190.9 123l4.5 -1.8M195.8 123l4.4 -2M200.7 123l4 -2.3M205.6 123l3.9 -2.5M176.2 128.1l3.7 -1.7M181.1 128.1l4 -1.8M186 128.1l3.7 -1.8M205.6 128.1l3.3 -2.3M283.8 128.1l4.1 -0.3M205.6 133.2l3.6 -2.7M278.9 133.2l4.3 -0.2M200.7 143.3l3.4 -3.2M220.3 143.3l3.1 -3M225.2 143.3l3.2 -2.9M264.3 143.3l3.7 -1.1M195.8 148.4l3.5 -3.1M205.6 148.4l3.4 -3.1M210.5 148.4l3 -2.5M215.4 148.4l2.8 -2.3M220.3 148.4l3.2 -2.8M254.5 148.4l4 -1.2M215.4 153.5l2.7 -2.6M244.7 153.5l4.2 -0.9M215.4 158.5l2.5 -3.1M230 158.5l4.3 -0.8M234.9 158.5l3.7 -0.6M215.4 204.2l0.3 3.7M220.3 204.2l0.2 4.1M225.2 204.2l0 4.2M210.5 209.2l2.1 3.8M244.7 209.2l4.1 -0.1M249.6 209.2l4 -0.1M205.6 214.3l3.6 2M225.2 214.3l-0 3.9M205.6 219.4l4.1 0.2M205.6 224.4l4.2 -0.5M220.3 224.4l0.1 3.8M244.7 224.4l2.3 2.9M205.6 229.5l4.5 0.3M220.3 229.5l0.8 4M225.2 229.5l1 3.7M230 229.5l1.8 4M244.7 229.5l3 3.6M249.6 229.5l2.8 2.7M274.1 229.5l2.1 3.1M288.7 229.5l4.4 -1.3M293.6 229.5l3.6 -2.5M298.5 229.5l3.2 -3.2M205.6 234.6l4.4 1.1M244.7 234.6l3 3.1M264.3 234.6l2.3 3.2M205.6 239.6l3.9 0.4M210.5 239.6l4.1 1.6M215.4 239.6l4.2 2.3M239.8 239.6l2.5 3M254.5 239.6l2.4 2.8M298.5 239.6l1.1 -4.5M220.3 244.7l4 1.4M225.2 244.7l3.7 2.6M230 244.7l2.7 3.1M249.6 244.7l2.4 3.1M293.6 244.7l0.8 -4.3M244.7 249.8l2.5 2.9M288.7 249.8l0.6 -4M239.8 254.9l3.2 2.2M283.8 254.9l0.7 -4M210.5 259.9l4.1 -1.3M215.4 259.9l4 0.1M230 259.9l3.7 1.2M234.9 259.9l4.5 1.2M278.9 259.9l1.4 -4.2M200.7 265l2.9 -2.6M205.6 265l4.4 -1.9M210.5 265l4.7 -0.8M215.4 265l4.6 -0M220.3 265l4.6 0.2M200.7 270.1l4 -2M205.6 270.1l4.5 -1.2M210.5 270.1l4.7 -0.7M239.8 270.1l4.4 1.9M244.7 270.1l3.4 2.2M249.6 270.1l3.4 2.4M274.1 270.1l1.3 -3.7M205.6 275.1l3.7 -1M210.5 275.1l4 -1M215.4 275.1l4.3 -1M220.3 275.1l4.7 -0.6M225.2 275.1l4.8 0.3M230 275.1l4 1.6M249.6 275.1l2.9 2.5M269.2 275.1l2.7 -3.6M274.1 275.1l1.7 -3.4" stroke="#aad8e9" stroke-width="0.8" stroke-opacity="0.6" fill="none"/><path d="M286.8 78.6l0.8 0.3M311.9 78.3l1 0.3M315.7 79.1l0.7 0.5M320.1 80l0.6 0.7M281.1 84.5l0.6 0.6M286.8 84.8l0.8 0.6M281 89.6l0.6 0.6M302 91.6l1 -0.3M307.1 92.8l1 0.1M311.7 102.4l1 -0.1M262.6 109.5l0.9 0.5M306.2 106.4l0.8 -0.4M154.8 113.5l0.8 0.2M159.7 113.1l0.8 0.1M218.3 113.4l0.8 0.1M223.7 113.3l1 0.1M228.9 113.6l1.1 0.2M237.9 114.9l0.8 0.6M241.9 115l0.6 0.6M252.2 115l0.7 0.6M155.3 117.7l1 -0.1M159.6 116.7l0.8 -0.4M193.9 117.3l0.8 -0.2M199.1 117.5l0.9 -0.1M204.2 117.4l1 -0.2M209.3 117.1l1 -0.3M154.8 121.3l0.8 -0.5M183.9 121.8l0.8 -0.4M189.4 121.8l0.9 -0.4M194.5 121.7l1 -0.4M199.2 121.5l1 -0.4M203.8 121.3l0.9 -0.5M208.7 121.1l0.9 -0.6M179.1 126.8l0.8 -0.4M184.2 126.7l0.9 -0.4M188.9 126.7l0.8 -0.4M208.1 126.3l0.7 -0.5M287.1 127.9l0.9 -0.1M208.4 131.1l0.8 -0.6M282.3 133l0.9 -0M203.3 140.8l0.7 -0.7M222.7 141l0.7 -0.7M227.7 141l0.7 -0.6M267.1 142.4l0.8 -0.3M198.5 145.9l0.8 -0.7M208.3 146l0.8 -0.7M212.8 146.4l0.7 -0.5M217.6 146.6l0.6 -0.5M222.8 146.2l0.7 -0.6M257.6 147.5l0.9 -0.3M217.5 151.4l0.6 -0.6M248 152.7l0.9 -0.2M217.3 156.1l0.6 -0.7M233.4 157.9l0.9 -0.2M237.8 158l0.8 -0.1M215.6 207l0.1 0.8M220.4 207.3l0 0.9M225.2 207.5l0 0.9M212.1 212.2l0.5 0.8M247.9 209.1l0.9 -0M252.7 209.2l0.9 -0M208.4 215.8l0.8 0.4M225.1 217.3l-0 0.9M208.8 219.5l0.9 0M208.9 224.1l0.9 -0.1M220.4 227.4l0 0.8M246.5 226.7l0.5 0.6M209.1 229.7l1 0.1M220.9 232.6l0.2 0.9M226 232.4l0.2 0.8M231.4 232.6l0.4 0.9M247 232.3l0.7 0.8M251.8 231.6l0.6 0.6M275.7 231.9l0.5 0.7M292.1 228.5l1 -0.3M296.4 227.5l0.8 -0.6M301 227l0.7 -0.7M209 235.4l1 0.2M247 237l0.7 0.7M266.1 237l0.5 0.7M208.7 240l0.9 0.1M213.7 240.9l0.9 0.3M218.7 241.4l0.9 0.5M241.8 242l0.6 0.7M256.4 241.8l0.5 0.6M299.4 236.1l0.3 -1M223.4 245.8l0.9 0.3M228 246.8l0.8 0.6M232.2 247.1l0.6 0.7M251.5 247.1l0.5 0.7M294.2 241.3l0.2 -1M246.7 252l0.6 0.6M289.2 246.6l0.1 -0.9M242.4 256.6l0.7 0.5M284.4 251.7l0.2 -0.9M213.7 258.9l0.9 -0.3M218.5 260l0.9 0M232.9 260.9l0.8 0.3M238.5 260.9l1 0.3M280.1 256.6l0.3 -0.9M202.9 262.9l0.6 -0.6M209 263.5l1 -0.4M214.2 264.4l1 -0.2M218.9 265l1 -0M223.9 265.2l1 0.1M203.8 268.5l0.9 -0.4M209.1 269.1l1 -0.3M214.1 269.5l1 -0.2M243.3 271.5l1 0.4M247.4 271.8l0.7 0.5M252.2 271.9l0.7 0.5M275.1 267.1l0.3 -0.8M208.5 274.4l0.8 -0.2M213.6 274.4l0.9 -0.2M218.8 274.4l1 -0.2M223.9 274.6l1 -0.1M228.9 275.4l1 0.1M233.1 276.3l0.9 0.3M251.8 277.1l0.6 0.5M271.2 272.3l0.6 -0.8M275.4 272.5l0.4 -0.7" stroke="#aad8e9" stroke-width="1.4" stroke-opacity="0.65" fill="none"/><path d="M288.7 77.4l4.7 1.7M293.6 77.4l5.7 1.8M322.9 77.4l2.7 4.1M327.8 77.4l3.3 4.7M288.7 82.5l5.3 2.9M303.4 82.5l6 1.1M308.3 82.5l4.9 2.5M283.8 87.5l4.6 2.8M298.5 87.5l5.9 -0.5M303.4 87.5l4.9 1M278.9 92.6l4.7 2.1M274.1 97.7l5.5 1.6M293.6 97.7l4.8 -3.2M298.5 97.7l4.6 -2.1M303.4 97.7l5.1 -0.8M308.3 97.7l5.8 0.7M293.6 102.8l5 -3.4M298.5 102.8l5 -2.5M303.4 102.8l4.9 -1.4M337.6 102.8l3.5 4.9M293.6 107.8l5.2 -3M298.5 107.8l4.6 -2.4M337.6 107.8l3.8 3.8M230 112.9l4.7 1.7M254.5 112.9l5.6 2.4M288.7 112.9l5.3 -2.6M293.6 112.9l4.4 -2.3M210.5 118l4.9 -1.6M215.4 118l5.4 -1.7M234.9 118l5.3 3M239.8 118l5 3.2M283.8 118l5.7 -1.9M288.7 118l4.6 -1.8M210.5 123l4.6 -2.9M283.8 123l5.2 -1.2M278.9 128.1l5.9 -0.8M274.1 133.2l5.8 -0.7M205.6 138.2l4.3 -3.5M230 138.2l4.7 -3.3M234.9 138.2l5 -3M269.2 138.2l4.9 -0.9M205.6 143.3l4.2 -3.9M210.5 143.3l4.2 -3.9M215.4 143.3l3.6 -3.5M230 143.3l4.1 -3.1M254.5 143.3l5.8 -0.5M259.4 143.3l4.9 -1M200.7 148.4l3.7 -3.4M225.2 148.4l4.4 -3.6M244.7 148.4l5.6 -0.6M249.6 148.4l4.9 -0.8M220.3 153.5l4.3 -3.7M234.9 153.5l5.9 -1.1M239.8 153.5l5 -0.8M220.3 158.5l4.3 -2.8M225.2 158.5l4.7 -1.6M215.4 209.2l2.1 4.8M220.3 209.2l1.6 5.5M225.2 209.2l0.5 5M210.5 214.3l4 3.3M220.3 214.3l1.8 5.8M210.5 219.4l4.9 2.5M220.3 219.4l0.7 5M210.5 224.4l4.7 3.1M215.4 224.4l2.2 5.2M210.5 229.5l3.9 3.8M215.4 229.5l1.7 4.7M234.9 229.5l2.5 4.3M239.8 229.5l3 4.2M278.9 229.5l4 2.8M283.8 229.5l4.9 0.7M210.5 234.6l3.7 3.4M215.4 234.6l2.9 4.2M220.3 234.6l2.9 4.5M225.2 234.6l3.3 4.8M230 234.6l3.7 4.9M234.9 234.6l3.6 4.7M239.8 234.6l3.3 4.1M269.2 234.6l3.8 4.1M283.8 234.6l5.5 -0.9M288.7 234.6l4.8 -2.2M293.6 234.6l4.2 -3.2M298.5 234.6l3.2 -4.1M220.3 239.6l4.4 2.9M225.2 239.6l4.4 3.6M230 239.6l3.9 4.1M234.9 239.6l3.1 3.8M259.4 239.6l3.3 4M283.8 239.6l5.8 -1.6M288.7 239.6l5.1 -2.9M293.6 239.6l3.6 -4.2M254.5 244.7l3.7 4M283.8 244.7l5.6 -2.4M288.7 244.7l3.8 -4.1M249.6 249.8l3.9 3.3M254.5 249.8l5.3 3M283.8 249.8l3.9 -4M244.7 254.9l4.4 2.2M249.6 254.9l5.3 1.9M254.5 254.9l5.8 1.7M278.9 254.9l4.3 -4M239.8 259.9l5.3 1.1M244.7 259.9l5.7 1.2M249.6 259.9l5.8 1.5M254.5 259.9l5.7 1.9M259.4 259.9l5.8 2M225.2 265l5.1 0.3M230 265l5.6 0.2M234.9 265l6 0.3M239.8 265l6 0.8M244.7 265l5.6 1.6M249.6 265l5 2.1M254.5 265l4.9 2.3M274.1 265l2.6 -4.6M215.4 270.1l4.9 -0.5M220.3 270.1l5.3 -0.6M225.2 270.1l5.6 -0.5M230 270.1l5.8 0M234.9 270.1l5.5 1M254.5 270.1l4.7 2.2M269.2 270.1l3.7 -4.4M254.5 275.1l5 1.4M259.4 275.1l5.7 -1.2M264.3 275.1l4.4 -3.2" stroke="#c5e6f0" stroke-width="0.8" stroke-opacity="0.6" fill="none"/><path d="M292.4 78.7l1 0.4M298 78.8l1.2 0.4M325.1 80.6l0.6 0.9M330.4 81.1l0.7 1M292.9 84.8l1.2 0.6M308 83.3l1.3 0.2M312.1 84.4l1.1 0.6M287.4 89.7l1 0.6M303.1 87.2l1.3 -0.1M307.2 88.3l1.1 0.2M282.6 94.3l1 0.5M278.4 98.9l1.2 0.4M297.3 95.2l1 -0.7M302.1 96.1l1 -0.5M307.4 97.1l1.1 -0.2M312.8 98.2l1.3 0.2M297.5 100.1l1.1 -0.8M302.4 100.8l1.1 -0.5M307.2 101.6l1.1 -0.3M340.3 106.5l0.8 1.1M297.6 105.5l1.1 -0.7M302.1 106l1 -0.5M340.6 110.7l0.8 0.8M233.7 114.3l1 0.4M258.9 114.7l1.2 0.5M292.8 110.9l1.2 -0.6M297.1 111.1l1 -0.5M214.3 116.7l1.1 -0.3M219.6 116.7l1.2 -0.4M239.1 120.3l1.2 0.7M243.7 120.5l1.1 0.7M288.2 116.5l1.2 -0.4M292.3 116.5l1 -0.4M214.1 120.8l1 -0.6M287.9 122.1l1.1 -0.3M283.5 127.5l1.3 -0.2M278.6 132.6l1.3 -0.2M208.9 135.5l0.9 -0.8M233.7 135.7l1 -0.7M238.8 135.9l1.1 -0.7M273 137.5l1.1 -0.2M208.9 140.3l0.9 -0.9M213.8 140.3l0.9 -0.9M218.2 140.6l0.8 -0.8M233.2 140.9l0.9 -0.7M259 142.9l1.3 -0.1M263.2 142.6l1.1 -0.2M203.6 145.7l0.8 -0.8M228.6 145.6l1 -0.8M249.1 147.9l1.2 -0.1M253.4 147.8l1.1 -0.2M223.6 150.5l0.9 -0.8M239.5 152.6l1.3 -0.2M243.8 152.8l1.1 -0.2M223.6 156.3l0.9 -0.6M228.8 157.3l1 -0.4M217 213l0.5 1.1M221.5 213.5l0.4 1.2M225.5 213.1l0.1 1.1M213.6 216.8l0.9 0.7M221.7 218.8l0.4 1.3M214.3 221.3l1.1 0.6M220.8 223.3l0.2 1.1M214.2 226.8l1 0.7M217.1 228.5l0.5 1.1M213.5 232.5l0.9 0.8M216.7 233.2l0.4 1M236.9 232.9l0.6 0.9M242.1 232.8l0.7 0.9M282.1 231.7l0.9 0.6M287.6 230l1.1 0.2M213.4 237.2l0.8 0.7M217.6 237.9l0.6 0.9M222.5 238.1l0.6 1M227.7 238.3l0.7 1M232.9 238.4l0.8 1.1M237.7 238.3l0.8 1M242.4 237.7l0.7 0.9M272.1 237.8l0.8 0.9M288.1 233.8l1.2 -0.2M292.5 232.8l1.1 -0.5M296.9 232.1l0.9 -0.7M301 231.4l0.7 -0.9M223.7 241.9l1 0.6M228.6 242.5l1 0.8M233.1 242.8l0.8 0.9M237.3 242.6l0.7 0.8M261.9 242.7l0.7 0.9M288.4 238.4l1.3 -0.4M292.7 237.4l1.1 -0.6M296.4 236.4l0.8 -0.9M257.4 247.8l0.8 0.9M288.2 242.8l1.2 -0.5M291.7 241.5l0.8 -0.9M252.7 252.4l0.9 0.7M258.6 252.1l1.2 0.7M286.9 246.6l0.9 -0.9M248.2 256.6l1 0.5M253.7 256.4l1.2 0.4M259 256.2l1.3 0.4M282.3 251.8l0.9 -0.9M243.9 260.8l1.2 0.2M249.2 260.8l1.3 0.3M254.2 261.1l1.3 0.3M258.9 261.4l1.3 0.4M263.9 261.5l1.3 0.4M229.1 265.2l1.1 0.1M234.4 265.1l1.2 0M239.6 265.2l1.3 0.1M244.5 265.6l1.3 0.2M249.1 266.2l1.2 0.3M253.5 266.6l1.1 0.5M258.3 266.8l1.1 0.5M276.1 261.4l0.6 -1M219.2 269.6l1.1 -0.1M224.4 269.6l1.2 -0.1M229.5 269.7l1.2 -0.1M234.6 270.1l1.3 0M239.2 270.9l1.2 0.2M258.2 271.8l1 0.5M272.1 266.6l0.8 -1M258.4 276.2l1.1 0.3M263.8 274.2l1.3 -0.3M267.7 272.7l1 -0.7" stroke="#c5e6f0" stroke-width="1.4" stroke-opacity="0.65" fill="none"/><path d="M298.5 77.4l6.5 1.6M303.4 77.4l6.2 1.1M362.1 77.4l-1.1 7.1M293.6 82.5l6.9 2.2M298.5 82.5l7.2 1.1M313.2 82.5l4.9 4.4M288.7 87.5l6.8 1.6M293.6 87.5l7.3 -0.2M308.3 87.5l5.4 2.9M283.8 92.6l7.3 0.6M293.6 92.6l5.8 -2.5M308.3 92.6l6 1.9M288.7 97.7l6.1 -4.1M313.2 97.7l6 2.3M318.1 97.7l5.6 3.5M322.9 97.7l4.9 4.5M327.8 97.7l4 5.2M332.7 97.7l3.4 5.9M269.2 102.8l6.5 1.3M288.7 102.8l5.3 -4.3M264.3 107.8l7.2 1M283.8 107.8l5.7 -4.2M288.7 107.8l5.4 -3.6M274.1 112.9l6.2 -3.6M278.9 112.9l5.8 -3.3M283.8 112.9l5.7 -3M347.4 112.9l3.8 4.9M220.3 118l6.2 -1.1M225.2 118l6.8 0.4M230 118l6.3 2.1M244.7 118l6 2.9M264.3 118l6.8 -2.7M269.2 118l6.4 -2.6M274.1 118l6.3 -2.3M278.9 118l6.2 -2M215.4 123l6.3 -2.8M274.1 123l7.1 -1.1M278.9 123l6.5 -1.2M210.5 128.1l5.3 -3.3M274.1 128.1l7.3 -0.7M210.5 133.2l6.3 -3.7M239.8 133.2l6.7 -3M269.2 133.2l7.3 -0.6M210.5 138.2l5.9 -4M220.3 138.2l6 -3.9M225.2 138.2l5.1 -3.6M239.8 138.2l6 -2.7M244.7 138.2l7.1 -1.8M259.4 138.2l7.1 -0.3M264.3 138.2l6.3 -0.7M234.9 143.3l5.5 -2.9M239.8 143.3l6.5 -1.9M244.7 143.3l6.6 -0.8M249.6 143.3l6.3 -0.3M230 148.4l6 -3.4M234.9 148.4l6.7 -2.2M239.8 148.4l6.3 -1M225.2 153.5l6 -3.5M230 153.5l6.5 -2.2M215.4 214.3l3.6 4.9M215.4 219.4l3.5 5.2M274.1 234.6l5.6 3.1M278.9 234.6l6.1 0.9M264.3 239.6l5 4.4M269.2 239.6l6.5 3.1M274.1 239.6l6.8 1.2M278.9 239.6l6.4 -0.3M259.4 244.7l5.4 3.9M264.3 244.7l6.5 2.8M269.2 244.7l6.8 1.5M274.1 244.7l6.7 0.3M278.9 244.7l6.4 -0.8M259.4 249.8l6.1 2.2M264.3 249.8l6.4 1.6M269.2 249.8l6.5 1M274.1 249.8l6.5 -0M278.9 249.8l5.9 -1.9M259.4 254.9l6 1.7M264.3 254.9l6.2 1.6M269.2 254.9l6.5 0.7M274.1 254.9l6.3 -1.4M264.3 259.9l6.4 1.3M269.2 259.9l6.9 -1M274.1 259.9l5.1 -3.9M259.4 265l6 1.8M264.3 265l7.2 -0.4M269.2 265l6.1 -3.6M259.4 270.1l6.6 0.5M264.3 270.1l6.4 -2.7" stroke="#e0f3f8" stroke-width="0.8" stroke-opacity="0.6" fill="none"/><path d="M303.5 78.6l1.4 0.4M308.2 78.2l1.4 0.2M361.3 82.9l-0.2 1.6M299 84.2l1.5 0.5M304.1 83.3l1.6 0.2M317 85.9l1.1 1M294.1 88.8l1.5 0.4M299.3 87.4l1.6 -0M312.5 89.8l1.2 0.6M289.5 93.1l1.6 0.1M298.1 90.7l1.3 -0.5M312.9 94.1l1.3 0.4M293.5 94.5l1.3 -0.9M317.9 99.4l1.3 0.5M322.5 100.4l1.2 0.8M326.7 101.2l1.1 1M330.9 101.7l0.9 1.1M335.4 102.3l0.8 1.3M274.2 103.8l1.4 0.3M292.9 99.4l1.2 -0.9M269.9 108.6l1.6 0.2M288.2 104.6l1.2 -0.9M292.9 105l1.2 -0.8M278.9 110.1l1.4 -0.8M283.5 110.3l1.3 -0.7M288.3 110.6l1.2 -0.6M350.4 116.7l0.8 1.1M225.1 117.1l1.4 -0.2M230.4 118.3l1.5 0.1M235 119.6l1.4 0.5M249.4 120.3l1.3 0.6M269.5 115.8l1.5 -0.6M274.1 115.9l1.4 -0.6M279 116.2l1.4 -0.5M283.8 116.4l1.4 -0.4M220.3 120.8l1.4 -0.6M279.6 122.2l1.6 -0.2M284 122.1l1.4 -0.3M214.6 125.5l1.2 -0.7M279.7 127.5l1.6 -0.2M215.4 130.3l1.4 -0.8M245 130.8l1.5 -0.7M274.8 132.7l1.6 -0.1M215.1 135.1l1.3 -0.9M224.9 135.2l1.3 -0.9M229.2 135.4l1.1 -0.8M244.5 136.2l1.3 -0.6M250.2 136.8l1.6 -0.4M264.9 138l1.6 -0.1M269.2 137.7l1.4 -0.2M239.2 141l1.2 -0.6M244.9 141.8l1.4 -0.4M249.9 142.7l1.5 -0.2M254.5 143l1.4 -0.1M234.7 145.7l1.3 -0.7M240.1 146.7l1.5 -0.5M244.8 147.6l1.4 -0.2M229.8 150.7l1.3 -0.8M235.1 151.8l1.4 -0.5M218.2 218.1l0.8 1.1M218.1 223.4l0.8 1.1M278.4 237l1.2 0.7M283.7 235.3l1.3 0.2M268.2 243.1l1.1 1M274.2 242.1l1.4 0.7M279.3 240.6l1.5 0.3M283.9 239.4l1.4 -0.1M263.6 247.8l1.2 0.9M269.3 246.9l1.4 0.6M274.4 245.8l1.5 0.3M279.2 245l1.5 0.1M283.9 244.1l1.4 -0.2M264.1 251.5l1.3 0.5M269.2 251l1.4 0.4M274.2 250.6l1.4 0.2M279.1 249.8l1.4 -0M283.6 248.3l1.3 -0.4M264.1 256.2l1.3 0.4M269.1 256.1l1.4 0.3M274.2 255.4l1.4 0.2M279 253.7l1.4 -0.3M269.3 260.9l1.4 0.3M274.5 259.2l1.5 -0.2M278.1 256.9l1.1 -0.9M264 266.4l1.3 0.4M269.9 264.7l1.6 -0.1M273.9 262.2l1.3 -0.8M264.5 270.4l1.4 0.1M269.3 268l1.4 -0.6" stroke="#e0f3f8" stroke-width="1.4" stroke-opacity="0.65" fill="none"/><path d="M332.7 77.4l4.1 6.2M357.2 77.4l-0.4 8.2M318.1 82.5l5.5 5.7M362.1 87.5l-2.8 8.1M288.7 92.6l7.5 -1.8M313.2 92.6l7.2 4M278.9 97.7l8.2 -0.4M337.6 97.7l3.6 7M283.8 102.8l6.5 -4.7M278.9 107.8l6.4 -4.4M357.2 107.8l-0.1 8.4M259.4 112.9l7.8 0.5M264.3 112.9l8 -2M269.2 112.9l7 -3.4M249.6 118l7.6 1.6M254.5 118l8.2 -0.5M259.4 118l7.6 -2.1M220.3 123l8.1 -1.6M230 123l8.4 1.9M234.9 123l8.3 2.3M249.6 123l8.4 -1.6M254.5 123l7.5 -2.3M259.4 123l7.1 -2.2M264.3 123l7.2 -1.8M269.2 123l7.3 -1.3M215.4 128.1l7.9 -3.1M244.7 128.1l8 -2.6M249.6 128.1l7.5 -2.4M254.5 128.1l7.7 -1.9M259.4 128.1l8.1 -1.2M264.3 128.1l8.2 -0.6M269.2 128.1l8 -0.5M234.9 133.2l7.2 -3.3M244.7 133.2l7 -2.5M249.6 133.2l7.7 -1.8M254.5 133.2l8.2 -0.9M259.4 133.2l8.3 -0.3M264.3 133.2l8 -0.2M215.4 138.2l6.5 -4.1M249.6 138.2l7.5 -0.8M254.5 138.2l7.4 -0.2" stroke="#f0f9db" stroke-width="0.8" stroke-opacity="0.6" fill="none"/><path d="M335.9 82.2l0.9 1.4M356.9 83.8l-0.1 1.8M322.3 86.9l1.2 1.3M359.9 93.8l-0.6 1.8M294.6 91.2l1.7 -0.4M318.8 95.7l1.6 0.9M285.3 97.4l1.8 -0.1M340.4 103.1l0.8 1.5M288.9 99.1l1.4 -1M283.9 104.4l1.4 -1M357.1 114.4l-0 1.8M265.4 113.3l1.7 0.1M270.5 111.3l1.8 -0.4M274.6 110.3l1.5 -0.7M255.5 119.2l1.7 0.4M260.9 117.6l1.8 -0.1M265.3 116.3l1.7 -0.5M226.6 121.8l1.8 -0.3M236.6 124.5l1.8 0.4M241.4 124.8l1.8 0.5M256.2 121.7l1.9 -0.4M260.4 121.3l1.7 -0.5M264.9 121.3l1.6 -0.5M269.9 121.6l1.6 -0.4M274.9 122l1.6 -0.3M221.5 125.7l1.7 -0.7M250.9 126.1l1.8 -0.6M255.4 126.2l1.6 -0.5M260.5 126.6l1.7 -0.4M265.7 127.1l1.8 -0.3M270.7 127.6l1.8 -0.1M275.4 127.7l1.8 -0.1M240.5 130.6l1.6 -0.7M250.1 131.2l1.5 -0.6M255.6 131.8l1.7 -0.4M260.9 132.5l1.8 -0.2M265.9 132.9l1.8 -0.1M270.5 133l1.8 -0.1M220.4 135.1l1.4 -0.9M255.5 137.6l1.7 -0.2M260.3 138.1l1.6 -0" stroke="#f0f9db" stroke-width="1.4" stroke-opacity="0.65" fill="none"/><path d="M337.6 77.4l3.7 8.2M342.5 77.4l2.4 9.4M347.4 77.4l1.1 9.6M352.3 77.4l0.2 9.1M322.9 82.5l6.2 6.8M362.1 82.5l-1.7 8.6M283.8 97.7l8.1 -3.2M357.2 97.7l-3.1 8.9M274.1 102.8l8.8 -1.2M278.9 102.8l8.2 -3.9M342.5 102.8l3.8 8.2M357.2 102.8l-2.8 8.4M269.2 107.8l8.6 -1.7M274.1 107.8l7.8 -3.9M352.3 107.8l0.6 8.8M225.2 123l8.7 0.5M239.8 123l8.8 1.5M244.7 123l9 -0.1M220.3 128.1l9.6 -1.7M239.8 128.1l9 -2.1M215.4 133.2l8.4 -3.4M220.3 133.2l9.2 -2.9M225.2 133.2l9.1 -2.9M230 133.2l8.2 -3.2" stroke="#fffebe" stroke-width="0.8" stroke-opacity="0.6" fill="none"/><path d="M340.5 83.8l0.8 1.8M344.4 84.8l0.5 2.1M348.3 84.9l0.2 2.1M352.5 84.5l0.1 2M327.8 87.8l1.4 1.5M360.8 89.2l-0.4 1.9M290.1 95.2l1.8 -0.7M354.8 104.6l-0.7 2M280.9 101.8l1.9 -0.3M285.4 99.7l1.8 -0.9M345.5 109.2l0.8 1.8M355 109.3l-0.6 1.9M275.9 106.5l1.9 -0.4M280.1 104.8l1.7 -0.9M352.8 114.7l0.1 1.9M231.9 123.4l1.9 0.1M246.7 124.2l1.9 0.3M251.8 122.9l2 -0M227.8 126.8l2.1 -0.4M246.8 126.4l2 -0.5M221.9 130.5l1.8 -0.7M227.5 130.9l2 -0.6M232.2 130.9l2 -0.6M236.4 130.7l1.8 -0.7" stroke="#fffebe" stroke-width="1.4" stroke-opacity="0.65" fill="none"/><path d="M327.8 82.5l6.4 8.5M352.3 82.5l1.1 11M357.2 82.5l-0 10.3M318.1 87.5l7.7 6.6M322.9 92.6l7.2 7.7M327.8 92.6l6.2 8.7M332.7 92.6l5.1 9.2M337.6 92.6l4.3 9.7M357.2 92.6l-2.3 10.8M342.5 97.7l3.9 9.1M347.4 102.8l1.6 10.6M352.3 102.8l-1.2 10.2M225.2 128.1l10.1 -0.4M230 128.1l10.1 -0.3M234.9 128.1l9.8 -1.1" stroke="#fff0a8" stroke-width="0.8" stroke-opacity="0.6" fill="none"/><path d="M332.8 89.1l1.4 1.9M353.1 91.1l0.2 2.4M357.2 90.5l-0 2.3M324.1 92.7l1.7 1.5M328.6 98.6l1.6 1.7M332.7 99.4l1.4 1.9M336.7 99.8l1.1 2M341 100.2l0.9 2.1M355.4 101l-0.5 2.4M345.6 104.8l0.9 2M348.6 111l0.4 2.3M351.3 110.7l-0.3 2.2M233.1 127.8l2.2 -0.1M238 127.9l2.2 -0.1M242.6 127.2l2.2 -0.2" stroke="#fff0a8" stroke-width="1.4" stroke-opacity="0.65" fill="none"/><path d="M332.7 82.5l5.6 10.2M337.6 82.5l4.1 11.2M342.5 82.5l2.8 11.6M347.4 82.5l1.9 11.4M322.9 87.5l8 8.6M342.5 87.5l3.5 11.8M347.4 87.5l2.8 12M352.3 87.5l1.6 12.3M357.2 87.5l-0.7 11.5M342.5 92.6l3.8 10.5M347.4 92.6l3.1 11.9M347.4 97.7l2.6 11.7M352.3 97.7l-0.7 11.9" stroke="#fee090" stroke-width="0.8" stroke-opacity="0.6" fill="none"/><path d="M337.1 90.4l1.2 2.2M340.8 91.2l0.9 2.5M344.7 91.5l0.6 2.5M348.8 91.4l0.4 2.5M329.2 94.3l1.8 1.9M345.3 96.7l0.8 2.6M349.6 96.9l0.6 2.6M353.5 97.1l0.3 2.7M356.6 96.5l-0.2 2.5M345.5 100.8l0.8 2.3M349.8 101.9l0.7 2.6M349.4 106.8l0.6 2.6M351.7 107l-0.2 2.6" stroke="#fee090" stroke-width="1.4" stroke-opacity="0.65" fill="none"/><path d="M327.8 87.5l7.1 10.3M332.7 87.5l5.7 11.2M337.6 87.5l4.5 11.6M352.3 92.6l0.8 12.8" stroke="#fdc778" stroke-width="0.8" stroke-opacity="0.6" fill="none"/><path d="M333.4 95.5l1.6 2.3M337.2 96.3l1.3 2.5M341.1 96.6l1 2.6M352.9 102.6l0.2 2.8" stroke="#fdc778" stroke-width="1.4" stroke-opacity="0.65" fill="none"/><use href="#grd"/></g>
<rect x="150.60" y="73.50" width="218.90" height="207.75" fill="none" stroke="#000" stroke-width="1.1"/>
<g font-family='"Liberation Sans", sans-serif' fill="#000">
<text x="151.40" y="63.20" font-size="13.89" text-anchor="middle" textLength="53.0" lengthAdjust="spacingAndGlyphs">112.5°E</text>
<text x="157.40" y="299.00" font-size="13.89" text-anchor="middle" textLength="53.0" lengthAdjust="spacingAndGlyphs">112.5°E</text>
<text x="213.80" y="63.20" font-size="13.89" text-anchor="middle" textLength="40.0" lengthAdjust="spacingAndGlyphs">113°E</text>
<text x="219.70" y="299.00" font-size="13.89" text-anchor="middle" textLength="40.0" lengthAdjust="spacingAndGlyphs">113°E</text>
<text x="276.30" y="63.20" font-size="13.89" text-anchor="middle" textLength="53.0" lengthAdjust="spacingAndGlyphs">113.5°E</text>
<text x="281.60" y="299.00" font-size="13.89" text-anchor="middle" textLength="53.0" lengthAdjust="spacingAndGlyphs">113.5°E</text>
<text x="338.00" y="63.20" font-size="13.89" text-anchor="middle" textLength="40.0" lengthAdjust="spacingAndGlyphs">114°E</text>
<text x="343.00" y="299.00" font-size="13.89" text-anchor="middle" textLength="40.0" lengthAdjust="spacingAndGlyphs">114°E</text>
<text x="142.10" y="97.10" font-size="13.89" text-anchor="end" textLength="45.3" lengthAdjust="spacingAndGlyphs">21.6°S</text>
<text x="142.10" y="123.70" font-size="13.89" text-anchor="end" textLength="45.3" lengthAdjust="spacingAndGlyphs">21.8°S</text>
<text x="142.10" y="150.30" font-size="13.89" text-anchor="end" textLength="33.0" lengthAdjust="spacingAndGlyphs">22°S</text>
<text x="142.10" y="176.90" font-size="13.89" text-anchor="end" textLength="45.3" lengthAdjust="spacingAndGlyphs">22.2°S</text>
<text x="142.10" y="203.50" font-size="13.89" text-anchor="end" textLength="45.3" lengthAdjust="spacingAndGlyphs">22.4°S</text>
<text x="142.10" y="230.10" font-size="13.89" text-anchor="end" textLength="45.3" lengthAdjust="spacingAndGlyphs">22.6°S</text>
<text x="142.10" y="256.70" font-size="13.89" text-anchor="end" textLength="45.3" lengthAdjust="spacingAndGlyphs">22.8°S</text>
<text x="142.10" y="283.30" font-size="13.89" text-anchor="end" textLength="33.0" lengthAdjust="spacingAndGlyphs">23°S</text>
<rect x="383.50" y="125.30" width="5" height="103.90" fill="url(#cbg)" stroke="#000" stroke-width="1.1"/>
<path d="M388.50 125.30h5" stroke="#000" stroke-width="1.1"/>
<text x="399.30" y="130.20" font-size="13.89" text-anchor="start" textLength="19.5" lengthAdjust="spacingAndGlyphs">1.0</text>
<path d="M388.50 177.25h5" stroke="#000" stroke-width="1.1"/>
<text x="399.30" y="182.15" font-size="13.89" text-anchor="start" textLength="19.5" lengthAdjust="spacingAndGlyphs">0.5</text>
<path d="M388.50 229.20h5" stroke="#000" stroke-width="1.1"/>
<text x="399.30" y="234.10" font-size="13.89" text-anchor="start" textLength="19.5" lengthAdjust="spacingAndGlyphs">0.0</text>
</g></g>
</svg></body></html>
